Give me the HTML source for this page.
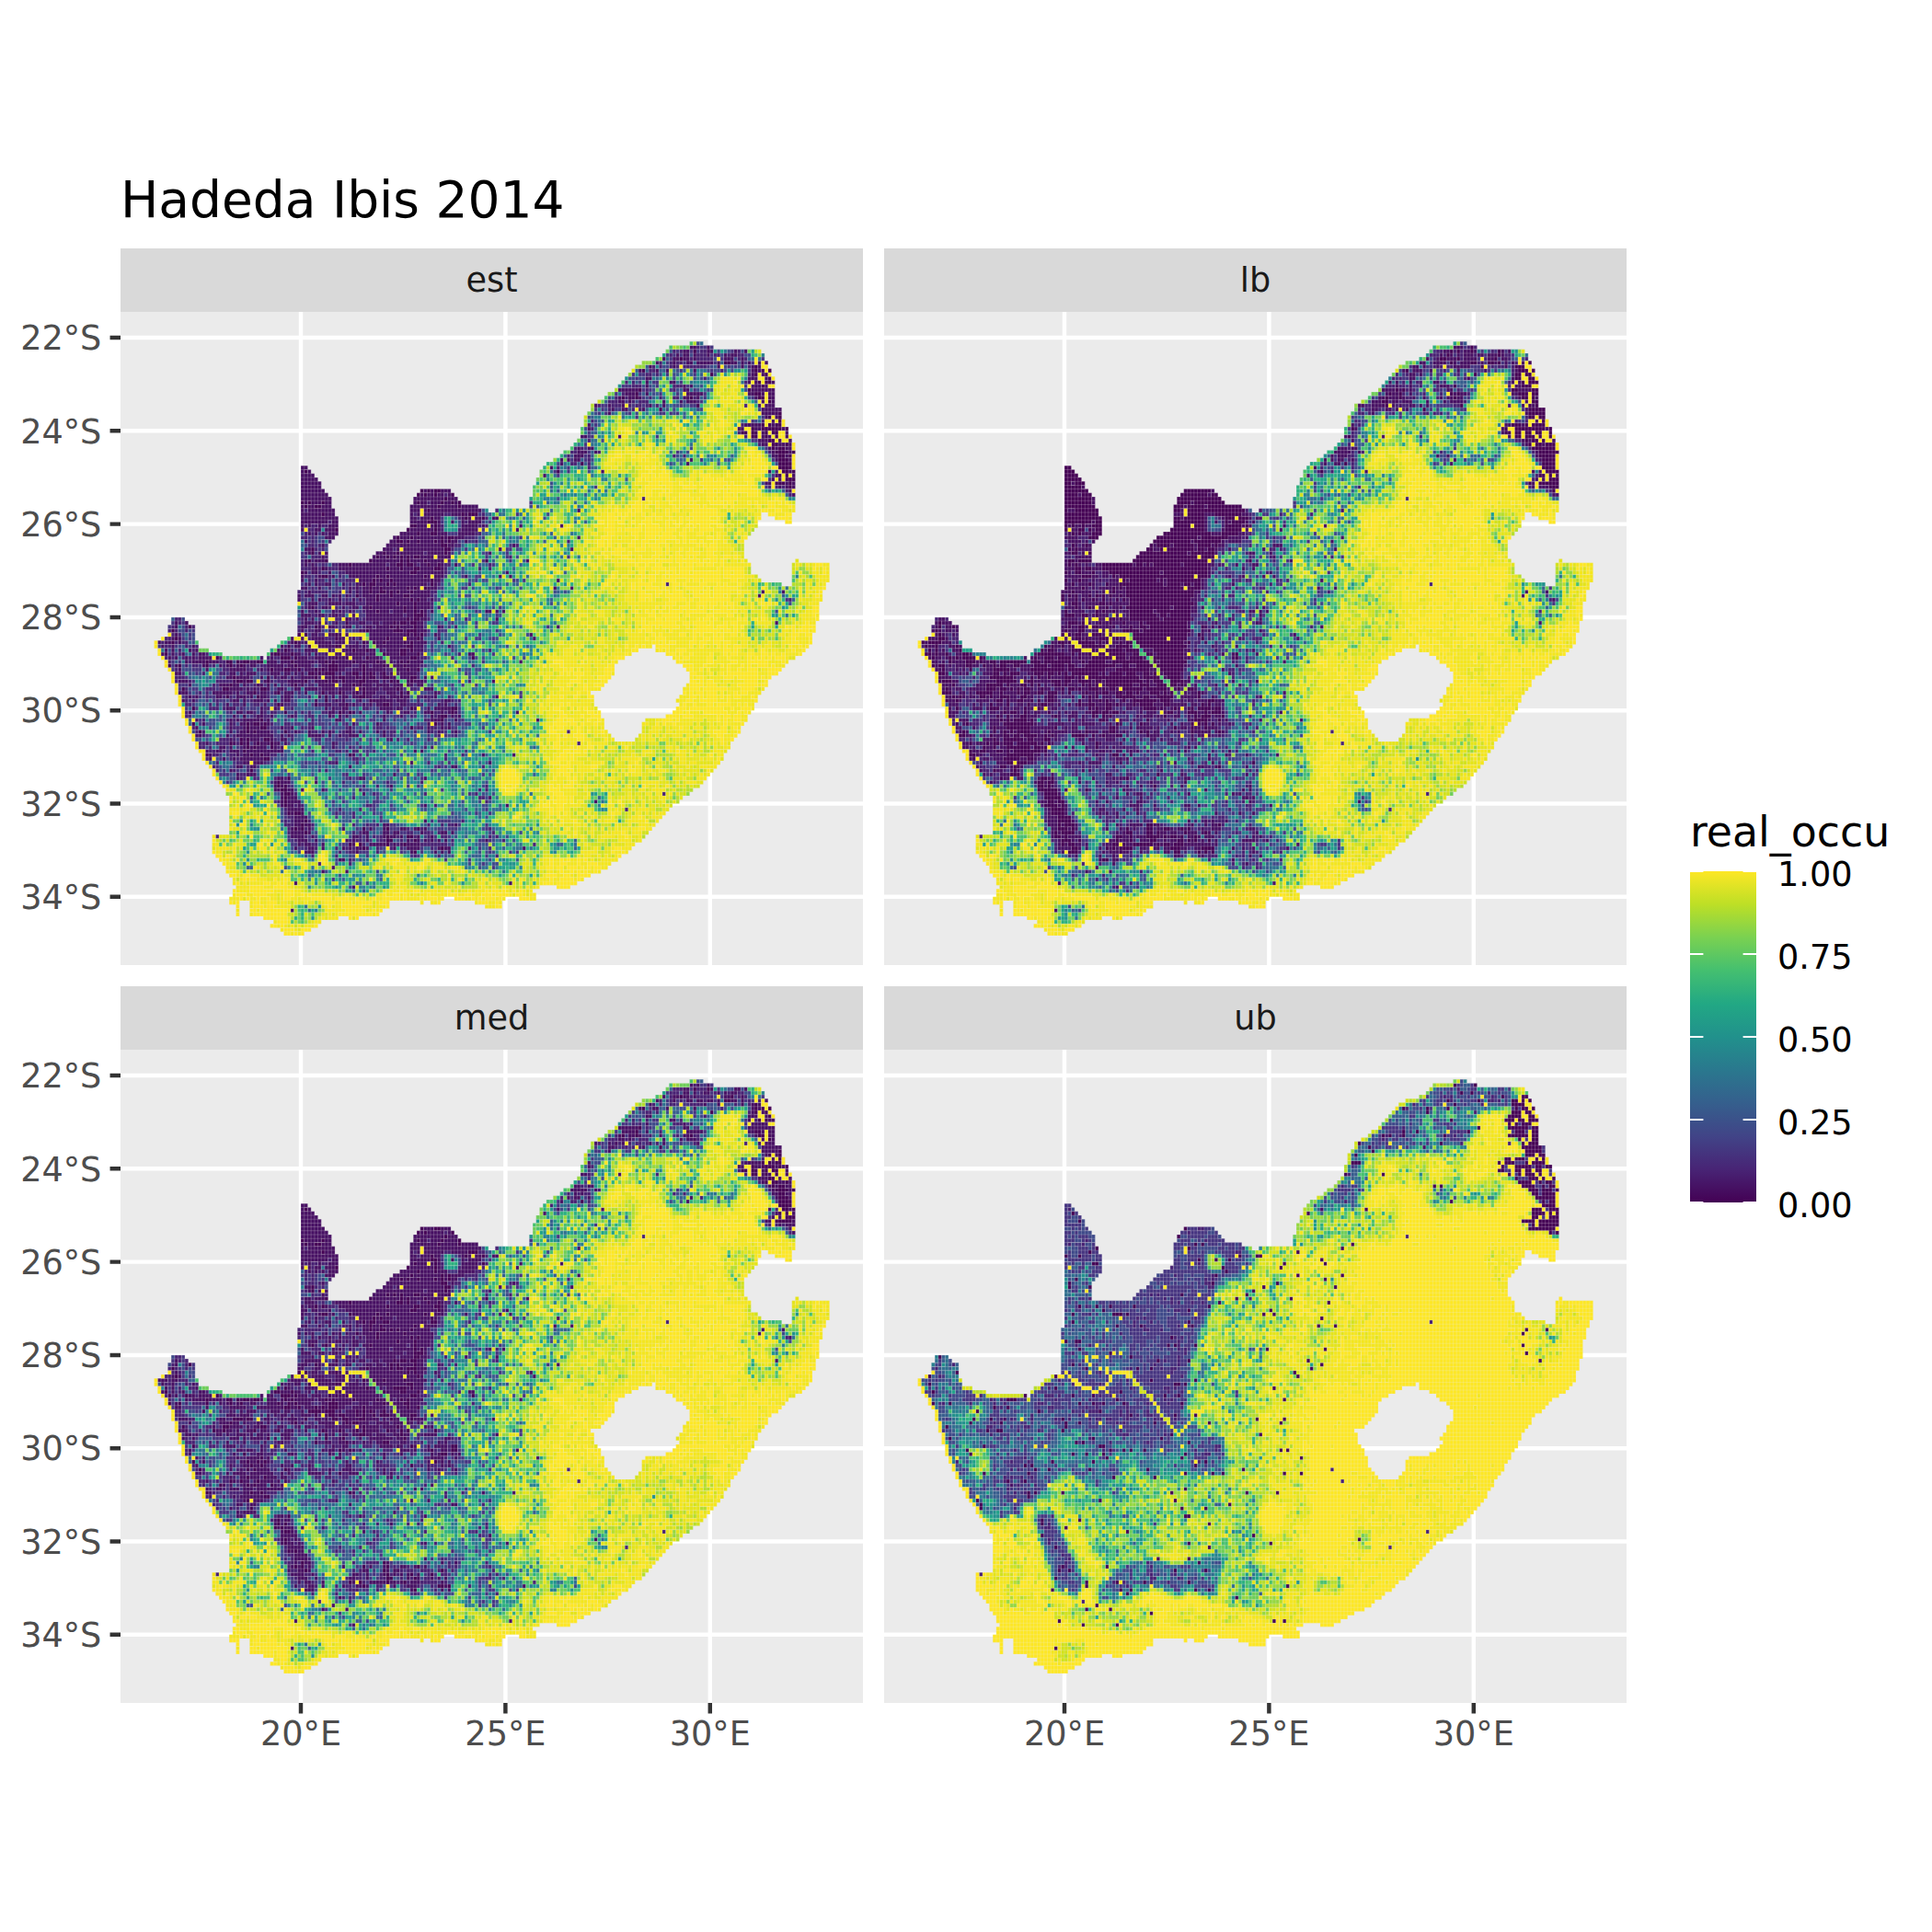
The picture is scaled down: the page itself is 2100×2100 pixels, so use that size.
<!DOCTYPE html>
<html lang="en"><head><meta charset="utf-8"><title>Hadeda Ibis 2014</title>
<style>
html,body{margin:0;padding:0;background:#fff}
body{width:2100px;height:2100px;overflow:hidden}
svg{display:block}
text{font-family:"DejaVu Sans","Liberation Sans",sans-serif}
.ax{font-size:36.67px;fill:#4D4D4D}
.st{font-size:36.67px;fill:#1A1A1A;text-anchor:middle}
.lg{font-size:36.67px;fill:#000}
</style></head><body>
<svg width="2100" height="2100" viewBox="0 0 2100 2100">
<rect width="2100" height="2100" fill="#fff"/>

<defs><clipPath id="za"><path d="M167 8h4v1h-4zM161 9h13v1h-13zM160 10h28v1h-28zM159 11h30v1h-30zM157 12h32v1h-32zM153 13h37v1h-37zM151 14h39v1h-39zM150 15h41v1h-41zM149 16h42v1h-42zM148 17h44v1h-44zM147 18h45v1h-45zM146 19h46v1h-46zM145 20h47v1h-47zM143 21h49v1h-49zM142 22h50v1h-50zM140 23h52v1h-52zM138 24h54v1h-54zM138 25h56v1h-56zM137 26h57v1h-57zM136 27h58v1h-58zM136 28h59v1h-59zM136 29h59v1h-59zM135 30h61v1h-61zM135 31h61v1h-61zM135 32h62v1h-62zM134 33h63v1h-63zM133 34h65v1h-65zM132 35h66v1h-66zM130 36h68v1h-68zM129 37h69v1h-69zM127 38h71v1h-71zM125 39h73v1h-73zM53 40h2v1h-2zM124 40h74v1h-74zM53 41h3v1h-3zM123 41h75v1h-75zM53 42h4v1h-4zM123 42h75v1h-75zM53 43h5v1h-5zM122 43h76v1h-76zM53 44h6v1h-6zM122 44h76v1h-76zM53 45h6v1h-6zM121 45h77v1h-77zM53 46h7v1h-7zM88 46h9v1h-9zM121 46h77v1h-77zM53 47h8v1h-8zM87 47h11v1h-11zM121 47h77v1h-77zM53 48h9v1h-9zM86 48h13v1h-13zM120 48h78v1h-78zM53 49h9v1h-9zM86 49h14v1h-14zM120 49h78v1h-78zM53 50h9v1h-9zM85 50h20v1h-20zM120 50h78v1h-78zM53 51h10v1h-10zM85 51h23v1h-23zM110 51h88v1h-88zM53 52h10v1h-10zM85 52h103v1h-103zM190 52h7v1h-7zM53 53h11v1h-11zM85 53h103v1h-103zM192 53h5v1h-5zM53 54h11v1h-11zM85 54h102v1h-102zM195 54h2v1h-2zM53 55h11v1h-11zM85 55h102v1h-102zM53 56h11v1h-11zM84 56h102v1h-102zM53 57h11v1h-11zM82 57h103v1h-103zM53 58h10v1h-10zM80 58h104v1h-104zM53 59h9v1h-9zM79 59h104v1h-104zM53 60h8v1h-8zM78 60h105v1h-105zM53 61h8v1h-8zM77 61h106v1h-106zM53 62h8v1h-8zM75 62h108v1h-108zM53 63h8v1h-8zM74 63h109v1h-109zM53 64h8v1h-8zM73 64h111v1h-111zM198 64h1v1h-1zM53 65h132v1h-132zM197 65h11v1h-11zM53 66h132v1h-132zM197 66h11v1h-11zM53 67h132v1h-132zM197 67h11v1h-11zM53 68h134v1h-134zM197 68h11v1h-11zM53 69h135v1h-135zM197 69h11v1h-11zM53 70h141v1h-141zM197 70h10v1h-10zM53 71h154v1h-154zM52 72h154v1h-154zM52 73h154v1h-154zM52 74h154v1h-154zM52 75h153v1h-153zM52 76h153v1h-153zM52 77h153v1h-153zM52 78h153v1h-153zM15 79h4v1h-4zM52 79h153v1h-153zM15 80h5v1h-5zM52 80h152v1h-152zM14 81h8v1h-8zM52 81h152v1h-152zM14 82h8v1h-8zM52 82h152v1h-152zM14 83h8v1h-8zM52 83h151v1h-151zM12 84h10v1h-10zM49 84h154v1h-154zM10 85h13v1h-13zM47 85h156v1h-156zM10 86h13v1h-13zM46 86h110v1h-110zM157 86h45v1h-45zM11 87h15v1h-15zM44 87h108v1h-108zM157 87h44v1h-44zM11 88h19v1h-19zM43 88h107v1h-107zM160 88h40v1h-40zM12 89h30v1h-30zM43 89h105v1h-105zM162 89h36v1h-36zM13 90h133v1h-133zM163 90h33v1h-33zM13 91h132v1h-132zM165 91h30v1h-30zM14 92h131v1h-131zM166 92h28v1h-28zM15 93h130v1h-130zM167 93h26v1h-26zM15 94h129v1h-129zM167 94h24v1h-24zM15 95h128v1h-128zM167 95h23v1h-23zM16 96h126v1h-126zM166 96h24v1h-24zM16 97h125v1h-125zM165 97h24v1h-24zM16 98h122v1h-122zM165 98h23v1h-23zM17 99h122v1h-122zM164 99h23v1h-23zM17 100h122v1h-122zM163 100h24v1h-24zM17 101h122v1h-122zM164 101h22v1h-22zM18 102h122v1h-122zM163 102h23v1h-23zM18 103h123v1h-123zM162 103h23v1h-23zM18 104h123v1h-123zM160 104h24v1h-24zM19 105h123v1h-123zM154 105h30v1h-30zM19 106h123v1h-123zM153 106h30v1h-30zM20 107h122v1h-122zM153 107h29v1h-29zM20 108h123v1h-123zM153 108h29v1h-29zM21 109h123v1h-123zM152 109h29v1h-29zM21 110h124v1h-124zM151 110h29v1h-29zM22 111h157v1h-157zM22 112h157v1h-157zM23 113h155v1h-155zM24 114h153v1h-153zM24 115h153v1h-153zM25 116h151v1h-151zM26 117h149v1h-149zM27 118h147v1h-147zM27 119h146v1h-146zM28 120h144v1h-144zM29 121h142v1h-142zM30 122h140v1h-140zM31 123h137v1h-137zM31 124h136v1h-136zM32 125h133v1h-133zM32 126h132v1h-132zM32 127h130v1h-130zM32 128h129v1h-129zM32 129h128v1h-128zM32 130h127v1h-127zM32 131h126v1h-126zM32 132h125v1h-125zM32 133h124v1h-124zM32 134h123v1h-123zM27 135h127v1h-127zM27 136h126v1h-126zM27 137h124v1h-124zM27 138h123v1h-123zM27 139h122v1h-122zM28 140h119v1h-119zM29 141h117v1h-117zM30 142h114v1h-114zM31 143h112v1h-112zM31 144h110v1h-110zM32 145h106v1h-106zM33 146h103v1h-103zM33 147h101v1h-101zM34 148h89v1h-89zM128 148h4v1h-4zM33 149h88v1h-88zM33 150h89v1h-89zM32 151h63v1h-63zM98 151h15v1h-15zM117 151h5v1h-5zM32 152h3v1h-3zM38 152h41v1h-41zM88 152h1v1h-1zM91 152h3v1h-3zM104 152h8v1h-8zM34 153h1v1h-1zM38 153h41v1h-41zM107 153h5v1h-5zM34 154h1v1h-1zM38 154h39v1h-39zM34 155h1v1h-1zM38 155h38v1h-38zM42 156h22v1h-22zM67 156h3v1h-3zM45 157h14v1h-14zM44 158h14v1h-14zM47 159h9v1h-9zM48 160h6v1h-6z"/></clipPath></defs>
<rect x="131" y="270" width="807" height="69" fill="#D9D9D9"/>
<rect x="131" y="339" width="807" height="710" fill="#EBEBEB"/>
<path d="M327.0 339v710M549.4 339v710M771.8 339v710M131 367.0h807M131 468.3h807M131 569.6h807M131 670.9h807M131 772.2h807M131 873.5h807M131 974.8h807" stroke="#fff" stroke-width="4.45" fill="none"/>
<rect x="961" y="270" width="807" height="69" fill="#D9D9D9"/>
<rect x="961" y="339" width="807" height="710" fill="#EBEBEB"/>
<path d="M1157.0 339v710M1379.4 339v710M1601.8 339v710M961 367.0h807M961 468.3h807M961 569.6h807M961 670.9h807M961 772.2h807M961 873.5h807M961 974.8h807" stroke="#fff" stroke-width="4.45" fill="none"/>
<rect x="131" y="1072" width="807" height="69" fill="#D9D9D9"/>
<rect x="131" y="1141" width="807" height="710" fill="#EBEBEB"/>
<path d="M327.0 1141v710M549.4 1141v710M771.8 1141v710M131 1169.0h807M131 1270.3h807M131 1371.6h807M131 1472.9h807M131 1574.2h807M131 1675.5h807M131 1776.8h807" stroke="#fff" stroke-width="4.45" fill="none"/>
<rect x="961" y="1072" width="807" height="69" fill="#D9D9D9"/>
<rect x="961" y="1141" width="807" height="710" fill="#EBEBEB"/>
<path d="M1157.0 1141v710M1379.4 1141v710M1601.8 1141v710M961 1169.0h807M961 1270.3h807M961 1371.6h807M961 1472.9h807M961 1574.2h807M961 1675.5h807M961 1776.8h807" stroke="#fff" stroke-width="4.45" fill="none"/>
<!-- est -->
<g transform="translate(130.55 337.45) scale(3.7067 4.2208)"><g transform="translate(0 0.5)" fill="none" stroke-width="1">
<path stroke="#440154" d="M168 10h1m-5 2h1m12 1h2m7 1h1m-34 1h1m32 0h1m1 0h1m1 0h1m-18 1h1m12 0h1m2 0h1m0 1h1m-4 1h1m1 0h2m-3 1h1m-37 1h1m31 0h1m-34 1h1m34 0h2m-41 1h1m3 0h1m15 0h1m19 0h2m1 1h1m-22 1h1m-12 1h1m34 1h1m-4 1h1m2 0h1m-1 1h1m-6 1h1m1 0h1m1 0h2m-9 1h1m2 0h6m1 0h1m-14 1h2m1 0h2m2 0h1m1 0h2m-8 1h2m2 0h1m2 0h1m-3 1h2m-1 1h2m2 0h1m-5 1h1m1 0h2m-3 1h4m1 0h1m-5 1h2m1 0h1m-4 1h3m-61 1h1m57 0h4m-4 1h4m-143 1h1m73 0h1m65 0h2m1 0h1m-5 1h1m1 0h1m-1 1h3m-6 1h3m1 0h1m-1 1h1m-109 1h1m1 0h1m1 0h2m-7 1h1m1 0h1m2 0h1m4 0h1m-3 1h1m-43 1h1m1 0h1m3 0h1m27 0h1m6 0h1m2 0h1m1 0h1m-46 1h1m2 0h2m34 0h1m5 0h1m-10 1h1m-32 1h1m40 0h1m1 0h3m-14 1h1m9 0h1m4 0h1m-17 1h3m-8 1h2m5 0h1m-30 1h1m20 0h1m7 0h1m-6 1h1m3 0h2m-12 1h1m3 0h1m8 0h1m1 0h2m-17 1h2m1 0h1m2 0h1m4 0h1m1 0h1m1 0h1m-3 1h2m-40 1h1m38 0h2m-41 1h1m20 0h1m3 0h1m13 0h1m-21 1h1m2 0h1m1 0h1m1 0h1m1 0h1m1 0h2m-33 1h1m4 0h1m12 0h1m8 0h1m1 0h1m4 0h1m17 0h1m-41 1h1m13 0h2m1 0h2m4 0h1m2 0h1m-35 1h1m18 0h1m3 0h1m3 0h2m4 0h2m-41 1h1m31 0h2m-28 1h2m14 0h1m2 0h1m10 0h1m-16 1h1m1 0h1m2 0h1m11 0h1m-21 1h1m1 0h2m3 0h1m1 0h1m10 0h1m-19 1h1m2 0h1m7 0h1m1 0h1m2 0h1m-17 1h1m2 0h2m1 0h1m1 0h1m3 0h1m-17 1h1m5 0h1m3 0h1m3 0h2m-10 1h1m9 0h1m1 0h1m-7 1h1m4 0h1m-31 1h1m16 0h1m9 0h1m2 0h1m-12 1h1m7 0h1m2 0h1m1 0h1m-3 1h3m-23 1h1m17 0h1m1 0h2m-22 1h1m13 0h1m1 0h2m1 0h2m-67 1h1m36 0h1m21 0h1m1 0h1m4 0h1m-72 1h1m56 0h1m7 0h3m1 0h3m-35 1h1m1 0h1m8 0h1m20 0h1m1 0h1m1 0h1m-73 1h1m46 0h1m14 0h1m8 0h1m-73 1h1m35 0h1m19 0h1m2 0h1m2 0h1m5 0h1m1 0h1m-37 1h1m5 0h1m7 0h2m19 0h2m-38 1h1m19 0h1m3 0h1m9 0h2m1 0h1m-73 1h1m31 0h2m3 0h1m26 0h1m4 0h2m3 0h1m-60 1h1m18 0h3m1 0h1m11 0h1m2 0h1m5 0h1m12 0h2m16 0h1m-79 1h1m5 0h2m1 0h1m1 0h2m2 0h2m8 0h1m9 0h1m1 0h1m5 0h1m6 0h1m6 0h1m1 0h1m-71 1h1m2 0h1m7 0h1m6 0h1m2 0h1m15 0h1m9 0h3m7 0h1m5 0h1m5 0h1m-40 1h1m3 0h2m2 0h1m4 0h1m1 0h1m1 0h3m7 0h1m12 0h1m2 0h1m-33 1h2m1 0h1m1 0h3m5 0h2m1 0h1m1 0h1m3 0h1m-45 1h1m9 0h1m13 0h1m4 0h1m1 0h2m3 0h1m1 0h1m1 0h2m2 0h2m6 0h2m-53 1h2m1 0h2m4 0h1m10 0h1m5 0h1m1 0h2m1 0h1m4 0h2m7 0h1m1 0h1m3 0h1m-54 1h1m18 0h1m16 0h1m1 0h1m-53 1h1m11 0h2m9 0h2m28 0h1m9 0h1m-43 1h1m6 0h1m12 0h1m4 0h1m4 0h1m1 0h1m10 0h1m1 0h1m-54 1h1m8 0h1m19 0h1m9 0h2m10 0h1m-23 1h1m12 0h1m-28 1h1m10 0h1m8 0h1m10 0h2m-58 1h1m63 0h1m11 0h2m-51 1h1m15 0h1m2 0h1m23 0h1m5 0h1m-62 1h1m57 0h2m-55 1h1m52 0h1m-74 1h1m15 0h1m1 0h2m1 0h1m49 0h1m-56 1h1m3 0h2m42 0h1m-63 1h1m13 0h1m1 0h1m8 0h1m-14 2h1m1 0h1m4 0h2m-12 1h1m2 0h1m1 0h1m2 0h1m3 0h1m-8 1h1m1 0h1m4 0h1m-9 1h1m-12 1h1m12 0h1m2 0h1m25 0h1m-26 1h2m-6 3h1m10 2h1m-4 1h1m-1 1h1m1 0h1m-2 1h2m-1 1h2m-2 1h1m-1 1h1m-1 1h1m0 2h1m1 0h2m1 2h1m-2 1h1m-3 1h1m1 0h1m17 0h1m6 0h1m8 0h1m-34 1h1m23 1h1m5 0h2m-8 1h2m6 0h1m-20 1h1m2 0h1m7 0h1m4 0h1m-13 1h1m22 0h1m-9 1h1"/>
<path stroke="#471063" d="M167 9h2m3 0h1m-8 1h2m5 0h2m6 0h1m2 0h1m-21 1h1m1 0h2m1 0h1m3 0h1m4 0h1m1 0h2m-22 1h1m2 0h2m1 0h2m1 0h1m8 0h3m2 0h1m-26 1h1m4 0h1m3 0h2m1 0h5m1 0h1m3 0h2m1 0h1m1 0h1m2 0h1m1 0h1m-35 1h1m6 0h1m12 0h1m6 0h1m2 0h1m1 0h1m-36 1h1m4 0h1m2 0h1m7 0h1m16 0h1m1 0h1m-3 1h1m2 0h1m-35 1h2m28 0h3m2 0h1m-36 1h1m6 0h2m21 0h1m1 0h1m4 0h1m-38 1h1m10 0h1m1 0h1m17 0h3m1 0h1m-44 1h6m13 0h2m18 0h7m-44 1h3m3 0h1m11 0h5m13 0h2m2 0h1m1 0h2m-46 1h1m2 0h2m1 0h1m12 0h2m2 0h1m16 0h1m3 0h2m-46 1h2m1 0h1m9 0h1m4 0h1m1 0h3m19 0h1m2 0h1m-53 1h1m3 0h1m3 0h1m7 0h1m3 0h1m27 0h1m1 0h3m-48 1h1m2 0h2m4 0h1m34 0h6m-51 1h1m44 0h5m-4 1h1m2 0h1m-2 1h1m-55 1h1m45 0h5m3 0h1m-55 1h1m43 0h2m3 0h2m6 0h1m-7 1h1m6 0h1m-61 1h2m9 0h1m41 0h1m1 0h1m4 0h1m-9 1h3m3 0h1m2 0h1m-9 1h2m3 0h2m1 0h1m-63 1h1m2 0h2m51 0h1m1 0h1m2 0h2m-63 1h3m2 0h1m51 0h1m4 0h1m-64 1h3m55 0h2m2 0h1m-67 1h1m1 0h1m1 0h2m32 0h1m24 0h1m3 0h1m-68 1h1m36 0h1m-114 1h2m71 0h1m-74 1h1m1 0h1m85 0h1m48 0h1m5 0h1m-144 1h4m67 0h1m67 0h1m4 0h1m-145 1h5m133 0h1m1 0h1m-141 1h6m130 0h2m4 0h1m1 0h1m-145 1h6m134 0h1m1 0h1m1 0h1m-145 1h7m29 0h1m1 0h1m2 0h3m99 0h1m-144 1h8m27 0h1m1 0h2m1 0h2m1 0h1m100 0h1m-145 1h9m24 0h9m1 0h3m-45 1h1m1 0h3m1 0h2m24 0h1m1 0h2m1 0h3m1 0h2m1 0h1m-46 1h1m1 0h2m2 0h3m23 0h8m1 0h5m1 0h5m-52 1h1m1 0h8m22 0h3m1 0h1m1 0h15m28 0h1m-82 1h6m1 0h3m22 0h1m1 0h1m1 0h6m2 0h3m1 0h1m-49 1h11m21 0h2m1 0h3m1 0h2m6 0h1m1 0h1m1 0h2m3 0h2m-58 1h8m1 0h2m21 0h5m3 0h1m3 0h1m2 0h1m1 0h4m-53 1h1m1 0h1m2 0h1m2 0h3m23 0h3m1 0h1m1 0h1m6 0h5m1 0h1m10 0h1m11 0h1m-77 1h1m3 0h2m1 0h3m22 0h7m1 0h1m6 0h5m11 0h1m-62 1h1m1 0h1m1 0h1m1 0h3m18 0h5m1 0h3m2 0h3m3 0h5m-44 1h3m17 0h1m1 0h3m1 0h8m1 0h1m2 0h3m33 0h1m-81 1h1m24 0h2m2 0h1m1 0h2m1 0h4m1 0h1m1 0h1m1 0h2m2 0h1m-43 1h1m18 0h16m2 0h2m17 0h1m-62 1h2m21 0h3m1 0h1m1 0h12m16 0h1m20 0h1m-78 1h1m2 0h1m1 0h1m14 0h2m1 0h3m1 0h7m1 0h5m1 0h1m11 0h1m-50 1h1m14 0h1m1 0h2m1 0h1m1 0h1m1 0h1m1 0h1m2 0h4m1 0h4m-43 1h1m2 0h3m14 0h8m1 0h1m1 0h4m1 0h5m24 0h1m-66 1h1m1 0h1m7 0h3m1 0h10m1 0h2m2 0h1m2 0h1m1 0h2m1 0h2m1 0h1m3 0h1m-43 1h2m2 0h1m3 0h14m1 0h3m1 0h3m2 0h4m2 0h1m-41 1h1m1 0h2m3 0h1m4 0h19m2 0h8m18 0h1m-61 1h1m4 0h1m3 0h1m4 0h8m1 0h2m1 0h10m1 0h1m1 0h3m6 0h1m9 0h1m2 0h1m-62 1h1m3 0h1m12 0h4m1 0h1m1 0h2m1 0h11m1 0h2m34 0h1m-74 1h1m1 0h1m2 0h2m3 0h1m3 0h2m1 0h1m2 0h3m1 0h1m1 0h9m2 0h1m-40 1h2m3 0h1m8 0h1m1 0h1m1 0h2m1 0h2m1 0h7m1 0h1m1 0h1m2 0h3m34 0h1m4 0h1m-78 1h1m11 0h1m1 0h1m1 0h2m1 0h2m2 0h1m1 0h1m1 0h3m1 0h5m97 0h1m5 0h1m-143 1h1m1 0h3m2 0h2m1 0h1m1 0h1m1 0h1m4 0h4m1 0h3m1 0h3m2 0h6m96 0h1m-136 1h1m3 0h1m1 0h1m2 0h1m2 0h1m3 0h1m1 0h1m1 0h3m1 0h9m1 0h1m1 0h2m1 0h1m-37 1h3m3 0h4m1 0h3m3 0h9m1 0h4m1 0h4m-36 1h1m3 0h2m4 0h1m2 0h2m1 0h2m1 0h9m1 0h2m1 0h4m-38 1h1m3 0h1m4 0h1m1 0h1m2 0h1m4 0h3m1 0h3m1 0h3m1 0h2m1 0h1m1 0h1m1 0h1m15 0h2m1 0h1m1 0h1m-60 1h3m2 0h2m2 0h2m4 0h1m3 0h11m1 0h2m3 0h1m-36 1h1m1 0h1m10 0h1m1 0h1m2 0h12m1 0h1m2 0h2m20 0h1m-95 1h1m2 0h1m34 0h3m1 0h1m4 0h1m6 0h2m2 0h2m1 0h3m1 0h1m2 0h1m2 0h2m103 0h1m-177 1h1m36 0h2m3 0h1m2 0h2m3 0h2m4 0h2m1 0h4m1 0h1m1 0h4m1 0h2m4 0h1m34 0h1m-76 1h1m3 0h2m11 0h2m1 0h7m3 0h1m3 0h3m-74 1h1m39 0h2m3 0h2m1 0h1m1 0h1m6 0h11m1 0h1m1 0h1m4 0h1m27 0h1m-106 1h1m1 0h1m32 0h1m2 0h1m2 0h4m4 0h2m2 0h1m1 0h1m2 0h5m1 0h4m1 0h3m1 0h1m4 0h1m27 0h1m-111 1h1m1 0h2m2 0h1m32 0h1m1 0h1m1 0h1m2 0h5m1 0h3m3 0h1m2 0h1m2 0h2m1 0h5m1 0h1m1 0h4m-78 1h1m2 0h1m5 0h1m25 0h1m3 0h2m5 0h5m4 0h3m1 0h1m3 0h9m2 0h3m7 0h1m-84 1h1m1 0h1m4 0h1m1 0h1m23 0h1m2 0h1m4 0h4m3 0h1m3 0h3m1 0h3m1 0h2m1 0h1m1 0h4m2 0h1m1 0h3m-77 1h1m2 0h1m2 0h1m2 0h1m1 0h2m19 0h1m2 0h3m1 0h2m2 0h1m1 0h1m2 0h1m2 0h2m1 0h6m1 0h2m3 0h4m2 0h3m15 0h2m-90 1h1m1 0h1m2 0h1m1 0h1m1 0h4m14 0h1m2 0h1m7 0h3m2 0h3m1 0h2m1 0h2m2 0h3m2 0h3m3 0h6m2 0h1m-69 1h1m1 0h4m1 0h3m6 0h1m2 0h2m3 0h3m1 0h3m1 0h6m1 0h2m1 0h1m1 0h5m1 0h6m1 0h2m1 0h1m1 0h1m1 0h1m1 0h4m28 0h1m-102 1h1m7 0h1m4 0h1m1 0h1m2 0h1m1 0h1m1 0h2m3 0h5m1 0h2m1 0h4m3 0h2m3 0h4m2 0h1m1 0h1m1 0h3m1 0h1m1 0h3m1 0h4m-71 1h1m7 0h1m6 0h5m4 0h1m1 0h1m1 0h3m2 0h2m2 0h3m1 0h1m1 0h1m3 0h2m2 0h3m1 0h6m3 0h3m1 0h2m-71 1h2m14 0h2m1 0h1m1 0h3m4 0h3m1 0h2m1 0h1m1 0h1m3 0h1m1 0h1m4 0h1m1 0h2m4 0h1m1 0h1m1 0h1m2 0h1m2 0h5m-56 1h2m1 0h4m3 0h1m3 0h1m1 0h2m1 0h1m2 0h4m3 0h2m1 0h1m2 0h3m1 0h1m1 0h1m3 0h1m2 0h2m1 0h3m4 0h1m1 0h1m-75 1h3m13 0h1m2 0h1m5 0h1m6 0h5m3 0h3m1 0h1m4 0h4m2 0h4m1 0h1m2 0h1m3 0h1m1 0h3m20 0h1m-90 1h1m8 0h3m1 0h2m1 0h1m3 0h2m1 0h1m1 0h1m4 0h1m2 0h1m4 0h5m2 0h3m1 0h1m1 0h3m1 0h4m1 0h3m1 0h2m1 0h2m-57 1h4m1 0h1m1 0h1m3 0h1m2 0h2m3 0h2m1 0h4m1 0h4m1 0h4m2 0h1m1 0h4m1 0h4m1 0h1m6 0h3m-75 1h3m7 0h6m1 0h1m2 0h2m2 0h2m2 0h1m2 0h3m3 0h1m6 0h2m2 0h1m2 0h1m3 0h3m3 0h3m11 0h1m-73 1h1m1 0h1m5 0h2m4 0h3m1 0h1m2 0h2m5 0h2m8 0h1m3 0h1m2 0h2m1 0h2m2 0h2m2 0h2m1 0h3m1 0h2m4 0h1m2 0h1m17 0h1m-93 1h1m2 0h1m11 0h2m1 0h1m2 0h3m1 0h1m1 0h1m2 0h2m7 0h1m5 0h1m1 0h1m4 0h1m3 0h6m1 0h3m11 0h2m-66 1h1m4 0h1m5 0h1m4 0h1m12 0h2m2 0h2m2 0h1m2 0h1m1 0h1m1 0h2m2 0h1m2 0h2m9 0h1m1 0h1m-65 1h3m7 0h1m3 0h1m14 0h1m1 0h1m2 0h2m9 0h4m1 0h2m3 0h1m3 0h1m1 0h5m-77 1h1m13 0h2m1 0h2m2 0h1m19 0h2m2 0h1m2 0h1m1 0h1m7 0h1m4 0h2m4 0h2m3 0h1m1 0h1m1 0h1m17 0h1m-84 1h1m6 0h2m2 0h1m5 0h1m10 0h1m2 0h1m1 0h1m10 0h1m4 0h1m8 0h1m1 0h1m3 0h1m1 0h1m-78 1h1m9 0h1m1 0h1m1 0h5m2 0h1m19 0h2m12 0h1m13 0h3m4 0h1m23 0h1m-99 1h1m7 0h1m2 0h2m1 0h1m2 0h1m1 0h1m24 0h1m6 0h1m14 0h1m3 0h1m1 0h1m-75 1h1m9 0h1m3 0h1m1 0h3m6 0h1m2 0h1m5 0h1m10 0h1m22 0h1m3 0h1m1 0h1m-65 1h1m2 0h2m1 0h1m1 0h4m7 0h1m3 0h1m3 0h1m1 0h1m4 0h2m2 0h1m4 0h1m1 0h1m12 0h1m2 0h1m4 0h1m-77 1h2m7 0h1m2 0h11m2 0h1m1 0h1m5 0h4m2 0h1m2 0h1m2 0h3m7 0h1m-46 1h1m3 0h1m1 0h3m3 0h1m2 0h2m30 0h1m-55 1h1m7 0h1m2 0h1m2 0h1m1 0h3m1 0h2m1 0h1m13 0h1m-34 1h2m1 0h1m3 0h1m1 0h1m1 0h3m2 0h1m1 0h1m14 0h1m-38 1h1m2 0h2m2 0h3m2 0h11m38 0h1m1 0h1m-63 1h1m7 0h1m1 0h2m1 0h2m1 0h2m24 0h1m37 0h1m8 0h1m-90 1h1m3 0h1m2 0h1m1 0h7m-6 1h2m1 0h3m21 0h1m21 0h1m22 0h1m-75 1h2m2 0h2m27 0h1m29 0h2m-67 1h1m1 1h1m2 0h3m40 0h1m-47 1h1m11 0h2m22 0h2m17 0h1m-45 1h1m1 0h3m7 0h1m-13 1h1m1 0h1m31 0h1m-35 1h2m2 0h2m2 0h1m5 0h1m-13 1h1m2 0h1m20 0h1m-25 1h1m1 0h3m56 0h1m-62 1h1m1 0h4m86 0h1m-93 1h1m1 0h2m1 0h1m36 0h1m23 0h1m-65 1h5m-4 1h1m2 0h1m-3 1h4m-4 1h3m35 0h1m-39 1h2m1 0h2m21 0h2m19 0h1m-49 1h1m1 0h1m2 0h1m9 0h1m7 0h1m3 0h1m4 0h2m2 0h1m2 0h1m-40 1h4m1 0h1m15 0h2m4 0h2m1 0h2m6 0h1m5 0h2m1 0h1m-48 1h4m2 0h1m11 0h2m2 0h1m4 0h1m1 0h2m1 0h1m4 0h1m3 0h1m-40 1h3m2 0h1m8 0h1m1 0h1m3 0h1m11 0h1m2 0h1m1 0h1m1 0h1m1 0h1m1 0h1m11 0h1m-56 1h1m1 0h2m3 0h1m8 0h1m4 0h5m2 0h1m1 0h1m1 0h4m-37 1h1m3 0h2m2 0h1m5 0h1m1 0h1m1 0h2m1 0h1m7 0h1m3 0h4m5 0h1m1 0h2m21 0h1m-65 1h3m12 0h1m15 0h1m6 0h1m1 0h1m1 0h1m-33 2h2m-4 2h1m-4 1h1m6 0h1m-16 3h1m62 0h1m-47 1h1m-19 6h1"/>
<path stroke="#482173" d="M169 9h1m-8 1h1m1 0h1m5 0h2m9 0h1m-21 1h1m7 0h3m2 0h2m2 0h1m2 0h2m-16 1h1m1 0h5m7 0h1m1 0h1m-26 1h1m2 0h1m1 0h2m-9 1h1m1 0h1m2 0h1m1 0h1m1 0h7m12 0h1m-30 1h2m19 0h1m-23 1h2m1 0h1m26 0h1m-14 1h1m-24 1h1m1 0h1m32 0h1m-34 1h3m9 0h3m-11 1h1m7 0h1m-16 1h1m-3 1h1m2 0h1m6 0h1m2 0h1m3 0h2m4 0h1m-26 1h3m4 0h1m1 0h3m14 0h1m-30 1h1m3 0h3m2 0h1m1 0h2m1 0h1m2 0h1m25 0h1m-41 1h1m6 0h1m1 0h1m-15 3h1m49 0h1m-7 1h1m-45 1h1m42 1h1m1 1h1m-47 1h1m49 1h1m-55 1h1m1 0h1m-4 1h2m6 0h1m49 0h1m-60 1h1m5 0h1m24 0h1m2 0h1m-29 1h1m-6 1h2m3 0h1m-10 1h1m8 0h1m54 1h1m-3 4h1m1 0h1m1 0h1m0 1h1m-101 1h1m100 0h1m-44 1h1m-64 1h1m-37 2h1m55 0h1m-25 1h1m8 0h2m9 0h1m-20 1h1m11 0h1m7 0h1m-47 1h1m39 0h1m-48 1h1m1 0h2m1 0h2m33 0h1m10 0h1m1 0h1m-53 1h2m37 0h1m4 0h1m-46 1h1m1 0h1m3 0h1m43 0h2m-53 1h2m1 0h1m44 0h3m-48 1h1m4 0h1m42 0h1m26 0h1m-77 1h2m1 0h1m39 0h2m16 0h1m-60 1h1m1 0h1m20 0h1m16 0h1m-44 1h1m34 0h1m-34 1h3m1 0h1m53 0h1m-62 1h1m2 0h1m39 0h1m-44 1h1m1 0h1m1 0h1m1 0h1m2 0h2m14 0h1m8 0h1m7 0h2m11 0h1m-56 1h3m2 0h1m2 0h3m31 0h1m9 0h1m2 0h1m-51 1h1m5 0h2m29 0h1m-42 1h2m1 0h1m3 0h1m2 0h1m-10 1h1m2 0h2m1 0h1m1 0h1m2 0h3m-15 1h1m3 0h2m7 0h1m22 0h1m2 0h1m8 0h1m57 0h1m-105 1h1m4 0h1m3 0h1m2 0h1m1 0h1m-19 1h1m1 0h1m1 0h5m3 0h1m5 0h1m20 0h2m-30 1h1m3 0h1m2 0h1m20 0h1m-33 1h2m1 0h1m3 0h1m4 0h1m18 0h1m105 0h1m-143 1h1m5 0h1m4 0h1m3 0h3m19 0h1m-38 1h1m2 0h1m3 0h1m1 0h1m3 0h1m23 0h1m1 0h1m-39 1h2m1 0h1m4 0h1m1 0h1m2 0h1m2 0h1m7 0h1m-24 1h2m3 0h1m2 0h2m17 0h1m-68 1h2m35 0h1m9 0h2m3 0h1m2 0h1m18 0h1m4 0h1m5 0h1m-85 1h1m35 0h1m3 0h1m2 0h1m1 0h1m4 0h3m2 0h2m2 0h1m-62 1h1m3 0h1m1 0h1m30 0h1m2 0h1m3 0h1m3 0h1m1 0h1m3 0h1m1 0h1m2 0h1m19 0h1m3 0h1m-85 1h1m1 0h1m2 0h1m32 0h1m2 0h2m4 0h1m31 0h1m-79 1h1m1 0h1m40 0h2m29 0h1m3 0h1m-81 1h2m40 0h1m4 0h3m4 0h1m-56 1h1m3 0h1m1 0h2m29 0h1m3 0h1m8 0h1m4 0h2m25 0h1m-82 1h2m4 0h1m2 0h1m25 0h1m17 0h1m3 0h1m1 0h1m-56 1h1m3 0h1m25 0h1m2 0h1m1 0h1m9 0h1m14 0h1m30 0h1m-92 1h1m7 0h1m28 0h1m3 0h2m12 0h1m15 0h1m10 0h1m-87 1h1m1 0h1m2 0h1m1 0h1m1 0h1m6 0h1m13 0h1m1 0h2m3 0h1m4 0h2m3 0h1m10 0h1m4 0h1m11 0h2m7 0h1m-84 1h1m5 0h1m8 0h2m26 0h1m22 0h1m-62 1h1m1 0h2m4 0h1m2 0h1m2 0h1m3 0h1m3 0h2m5 0h1m7 0h1m1 0h1m9 0h2m3 0h1m14 0h1m14 0h1m-88 1h1m13 0h2m5 0h2m1 0h1m1 0h1m10 0h1m12 0h2m10 0h2m-56 1h1m4 0h2m5 0h1m6 0h1m8 0h1m10 0h1m6 0h1m4 0h1m2 0h1m2 0h1m5 0h1m-72 1h3m19 0h1m7 0h1m4 0h2m5 0h1m16 0h1m11 0h1m-72 1h1m3 0h1m7 0h5m11 0h1m1 0h3m6 0h1m8 0h1m13 0h1m10 0h1m12 0h1m-76 1h1m9 0h1m1 0h1m7 0h1m1 0h1m2 0h1m2 0h2m17 0h1m4 0h1m-61 1h1m5 0h3m1 0h1m6 0h1m1 0h1m1 0h1m7 0h1m9 0h1m4 0h1m4 0h1m7 0h1m8 0h2m-64 1h1m1 0h1m7 0h1m2 0h1m3 0h1m2 0h1m8 0h1m5 0h1m1 0h1m2 0h1m2 0h2m2 0h1m4 0h3m3 0h1m1 0h1m9 0h1m-75 1h1m1 0h1m3 0h1m4 0h1m1 0h1m4 0h1m5 0h1m3 0h1m2 0h1m4 0h1m8 0h1m9 0h2m2 0h1m8 0h2m1 0h2m4 0h1m-78 1h1m8 0h1m3 0h1m5 0h1m3 0h1m4 0h1m14 0h1m1 0h1m4 0h1m10 0h1m3 0h1m2 0h1m2 0h1m3 0h1m2 0h1m1 0h1m-81 1h2m5 0h1m1 0h1m4 0h2m4 0h2m4 0h1m2 0h2m8 0h2m2 0h2m3 0h1m1 0h1m2 0h1m7 0h2m2 0h5m5 0h1m3 0h1m-73 1h3m1 0h1m4 0h1m6 0h2m2 0h1m3 0h1m12 0h2m6 0h2m7 0h1m3 0h1m-66 1h1m12 0h1m6 0h1m2 0h1m1 0h2m5 0h1m1 0h1m1 0h1m3 0h2m5 0h1m8 0h1m3 0h1m2 0h1m3 0h1m5 0h2m1 0h1m-77 1h2m18 0h1m2 0h2m5 0h1m1 0h1m3 0h2m5 0h1m22 0h1m6 0h1m5 0h1m-75 1h1m6 0h1m1 0h1m1 0h1m6 0h1m13 0h1m32 0h2m-58 1h1m10 0h1m3 0h2m5 0h2m9 0h1m9 0h1m16 0h1m-73 1h1m11 0h3m7 0h1m4 0h2m3 0h1m1 0h1m10 0h1m8 0h2m1 0h1m8 0h2m2 0h2m2 0h1m-74 1h1m1 0h1m9 0h1m9 0h1m4 0h1m2 0h1m3 0h2m4 0h1m2 0h1m2 0h1m10 0h2m5 0h1m4 0h1m2 0h1m2 0h1m33 0h1m-108 1h1m8 0h1m16 0h1m8 0h1m5 0h2m12 0h1m13 0h1m4 0h1m-70 1h3m1 0h1m7 0h1m3 0h1m4 0h1m6 0h2m7 0h1m11 0h1m2 0h1m2 0h1m5 0h1m-68 1h2m3 0h4m2 0h1m28 0h1m70 0h1m-112 1h2m1 0h1m8 0h1m10 0h1m12 0h1m7 0h1m2 0h1m18 0h1m1 0h1m-66 1h2m2 0h1m4 0h1m20 0h1m6 0h2m1 0h1m1 0h2m4 0h1m-48 1h2m3 0h2m1 0h1m8 0h2m49 0h1m4 0h1m-76 1h1m6 0h1m1 0h1m33 0h2m25 0h1m-68 1h1m5 0h2m6 0h1m18 0h2m6 0h1m20 0h1m-64 1h1m9 0h1m55 0h1m12 0h1m-79 1h1m4 0h1m3 0h1m22 0h1m-26 1h2m29 0h1m-32 1h1m3 0h1m5 0h1m2 0h1m18 0h1m-3 1h1m12 0h1m9 0h1m-40 1h1m21 0h1m3 0h1m31 0h1m-38 1h1m34 0h1m1 0h1m-57 1h1m22 0h1m14 0h1m14 0h1m54 0h1m-92 1h1m36 0h2m-61 1h1m60 0h1m-57 1h1m1 0h1m18 0h2m18 0h1m-45 1h1m15 0h1m5 0h1m77 0h1m-101 1h1m14 0h1m4 0h1m-20 1h2m17 0h1m-21 1h1m1 0h1m4 0h1m44 0h1m-53 1h3m5 0h1m11 0h1m3 0h1m2 0h1m14 0h1m3 0h1m1 0h2m-49 1h1m4 0h1m29 0h1m3 0h1m19 0h1m-60 1h1m18 0h1m1 0h1m13 0h2m3 0h2m2 0h1m15 0h1m-82 1h1m25 0h1m15 0h1m3 0h1m1 0h1m4 0h1m4 0h1m3 0h1m3 0h2m12 0h1m1 0h1m-60 1h1m15 0h1m1 0h2m5 0h2m4 0h1m2 0h1m4 0h1m6 0h1m14 0h1m-60 1h1m2 0h2m13 0h1m7 0h1m1 0h1m6 0h8m25 0h1m-68 1h1m2 0h1m5 0h1m2 0h1m1 0h1m6 0h1m3 0h1m2 0h1m8 0h1m10 0h1m5 0h1m-45 1h1m2 0h2m6 0h1m-20 1h1m6 0h1m22 0h1m6 0h1m16 0h1m-44 1h1m-10 1h1m8 0h1"/>
<path stroke="#463480" d="M170 9h2m1 0h1m-11 1h1m3 0h1m1 0h1m9 0h1m-20 1h1m1 0h1m1 0h1m8 0h1m-13 1h1m14 0h1m11 0h1m-29 1h1m4 0h1m8 0h1m8 0h1m1 0h1m-14 1h1m5 0h1m1 0h1m-17 1h1m8 0h1m10 0h1m-35 1h1m1 0h2m6 0h1m7 0h1m-18 1h1m0 1h1m3 0h2m6 0h1m-18 1h3m7 0h1m8 0h1m16 0h1m-31 1h1m1 0h1m5 0h1m6 0h1m-24 1h1m6 0h1m5 0h1m4 0h1m7 0h1m-19 1h1m17 0h1m13 0h1m-38 1h1m21 0h1m-30 1h2m7 0h1m2 0h1m10 0h1m2 0h2m-30 1h1m1 0h1m3 0h2m-7 1h1m1 0h1m6 0h1m8 0h2m1 0h1m1 0h1m-13 1h1m36 0h1m-4 1h1m-47 1h1m-3 2h1m-1 1h2m18 0h1m27 1h2m-51 1h1m-1 1h1m52 0h1m-53 1h1m25 0h1m-28 1h1m-5 1h1m3 0h1m33 0h1m20 0h1m-61 2h1m-5 1h1m3 0h1m-4 1h1m62 0h1m-2 1h1m-52 2h1m49 0h1m-70 4h1m-16 3h1m10 0h1m-23 1h1m-1 1h1m11 0h1m1 0h1m-3 2h1m-49 1h1m37 0h3m-44 1h1m1 0h1m46 0h1m1 0h1m10 0h1m-63 1h1m1 0h1m1 0h1m39 0h1m2 0h2m-47 1h1m2 0h1m53 0h1m-57 1h1m42 0h1m11 0h2m-62 1h1m3 0h1m39 0h1m9 0h1m5 0h1m-61 1h2m52 0h1m5 0h1m17 0h1m-26 1h1m7 0h1m-57 1h1m1 0h1m42 0h1m5 0h1m-55 2h1m3 0h2m-5 1h1m8 0h1m29 0h1m4 0h1m3 0h2m-50 1h1m7 0h2m28 0h1m9 0h1m10 0h1m2 0h1m-66 1h1m9 0h1m2 0h1m1 0h1m-14 1h1m1 0h1m1 0h1m3 0h2m1 0h1m26 0h2m5 0h2m8 0h1m-58 1h1m8 0h2m2 0h1m1 0h1m-16 1h1m4 0h1m9 0h1m23 0h1m-40 1h2m8 0h1m1 0h1m1 0h1m1 0h1m22 0h1m102 0h1m-138 1h2m-7 1h1m4 0h1m5 0h1m1 0h1m35 0h1m8 0h1m-46 1h1m3 0h1m19 0h1m13 0h1m-45 1h1m9 0h2m18 0h1m19 0h1m-59 1h1m2 0h1m2 0h1m11 0h1m-56 1h1m2 0h1m45 0h2m23 0h1m7 0h1m6 0h1m4 0h2m-97 1h1m41 0h1m7 0h1m5 0h1m18 0h1m6 0h1m28 0h1m-105 1h1m32 0h1m4 0h1m2 0h1m1 0h1m1 0h1m1 0h2m20 0h1m3 0h2m14 0h1m-91 1h1m34 0h1m49 0h1m-88 1h1m1 0h1m48 0h1m31 0h1m2 0h2m3 0h1m-40 1h1m20 0h1m-81 1h1m4 0h1m3 0h1m29 0h1m3 0h1m34 0h1m1 0h1m5 0h1m5 0h1m-53 1h1m37 0h1m1 0h1m5 0h1m-84 1h1m1 0h1m5 0h1m30 0h1m41 0h1m13 0h1m-95 2h1m1 0h1m28 0h1m59 0h1m-92 1h1m7 0h1m2 0h1m13 0h1m48 0h1m-75 1h1m5 0h3m75 0h1m-82 1h1m3 0h1m8 0h1m9 0h2m4 0h1m2 0h1m3 0h1m10 0h1m35 0h1m-83 1h1m9 0h1m14 0h1m4 0h1m-29 1h1m19 0h1m3 0h1m10 0h1m19 0h1m-60 1h3m8 0h1m9 0h1m3 0h1m5 0h1m5 0h1m9 0h1m21 0h1m4 0h1m5 0h1m2 0h1m3 0h1m-88 1h1m3 0h2m5 0h1m16 0h1m4 0h1m32 0h1m3 0h1m-68 1h1m1 0h1m12 0h1m8 0h1m2 0h1m9 0h1m32 0h2m25 0h1m-100 1h1m4 0h1m2 0h2m5 0h1m18 0h1m8 0h1m55 0h1m-98 1h1m1 0h1m2 0h1m1 0h1m1 0h2m6 0h1m12 0h1m10 0h1m4 0h2m4 0h1m16 0h1m1 0h3m4 0h1m-78 1h1m8 0h1m4 0h1m2 0h1m2 0h1m8 0h2m2 0h1m1 0h1m13 0h1m3 0h1m15 0h2m4 0h1m-78 1h1m2 0h1m13 0h1m1 0h2m8 0h2m11 0h1m11 0h1m1 0h1m7 0h1m5 0h1m9 0h1m-79 1h1m9 0h1m4 0h1m26 0h1m13 0h1m7 0h1m13 0h1m-66 1h1m3 0h1m15 0h1m3 0h1m6 0h1m5 0h1m2 0h1m1 0h1m1 0h1m1 0h2m1 0h1m2 0h1m2 0h1m6 0h1m-74 1h1m24 0h1m5 0h1m3 0h1m6 0h1m7 0h2m5 0h1m2 0h1m11 0h1m3 0h2m9 0h1m-88 1h1m27 0h2m5 0h2m1 0h1m1 0h1m1 0h1m3 0h1m7 0h2m8 0h1m7 0h1m2 0h2m1 0h2m-77 1h1m4 0h1m12 0h3m7 0h1m4 0h1m2 0h1m5 0h1m3 0h1m1 0h1m2 0h1m1 0h2m2 0h1m2 0h1m6 0h1m3 0h2m7 0h1m-62 1h1m1 0h1m2 0h1m2 0h1m6 0h1m3 0h1m11 0h1m1 0h1m3 0h1m1 0h1m7 0h1m2 0h1m3 0h1m8 0h1m-84 1h1m6 0h1m12 0h2m1 0h1m14 0h1m7 0h1m4 0h1m1 0h1m1 0h1m1 0h1m7 0h1m1 0h1m2 0h1m1 0h1m-64 1h1m11 0h1m13 0h2m1 0h3m1 0h1m2 0h1m2 0h1m1 0h1m-50 1h1m11 0h1m10 0h1m8 0h1m6 0h1m3 0h1m15 0h1m-55 1h1m2 0h1m18 0h1m1 0h1m7 0h1m1 0h1m2 0h1m-38 1h1m27 0h1m12 0h1m28 0h1m-73 1h1m1 0h1m15 0h1m13 0h2m7 0h1m1 0h1m-44 1h1m14 0h1m18 0h1m7 0h1m-39 1h1m9 0h1m10 0h1m2 0h1m2 0h1m35 0h1m-69 1h1m4 0h1m6 0h1m51 0h1m2 0h1m-66 1h1m3 0h1m4 0h1m18 0h1m22 0h1m9 0h1m-63 1h3m17 0h1m15 0h1m5 0h1m12 0h1m2 0h1m18 0h1m-71 1h1m3 0h1m16 0h1m3 0h1m4 0h1m2 0h1m18 0h1m-58 1h1m12 0h1m23 0h1m-19 1h1m27 0h1m5 0h1m2 0h1m-28 1h1m18 0h1m14 0h1m-20 1h1m26 0h1m-28 1h1m-31 1h1m16 0h1m2 0h1m8 0h2m-2 1h1m4 0h1m8 0h1m-15 1h1m32 0h1m-43 1h1m8 0h1m22 0h1m6 0h1m3 0h1m-61 1h1m14 0h1m12 0h1m-28 1h1m26 0h1m14 0h1m1 0h4m-24 1h2m4 0h2m18 0h1m7 0h1m-52 1h1m12 0h1m2 0h1m1 0h1m4 0h3m11 0h2m1 0h3m8 0h1m-29 1h1m2 0h2m7 0h1m-43 1h1m5 0h1m1 0h1m13 0h1m3 0h1m13 0h1m2 0h1m3 0h1m-48 1h2m4 0h1m15 0h1m1 0h1m1 0h1m16 0h1m12 0h2m1 0h1m-59 1h2m13 0h2m30 0h1m-46 1h2m22 0h1m6 0h1m4 0h1m3 0h1m12 0h1m-54 1h1m13 0h1m3 0h3m9 0h1m5 0h1m19 0h1m5 0h1m1 0h1m-45 1h1m12 0h1m1 0h1m19 0h1m-40 1h1m26 0h1m6 0h1m3 1h1m2 1h1m-48 3h1"/>
<path stroke="#3E4989" d="M169 8h1m5 2h1m2 0h1m3 0h1m-16 1h1m8 0h1m6 0h2m-11 1h1m5 0h1m0 1h1m-23 1h2m12 0h1m3 0h1m1 0h1m1 0h1m-19 1h1m8 0h1m1 0h2m1 0h1m1 0h1m-24 1h1m1 0h1m3 0h1m11 0h1m-26 1h2m1 0h2m8 0h1m5 0h1m1 0h1m-18 2h1m1 0h1m14 0h1m-15 1h1m6 0h1m5 0h1m2 0h1m10 0h1m-28 1h1m-14 1h1m10 0h1m29 0h1m-34 1h1m13 0h1m-4 1h2m1 0h1m-24 1h1m6 0h1m10 0h1m1 0h1m6 0h2m16 0h1m-49 1h1m8 0h1m2 0h1m10 0h1m-26 1h1m1 1h1m46 0h1m-51 2h1m4 3h1m25 2h1m-2 1h1m-35 1h1m30 0h1m-26 1h1m39 0h1m-51 1h1m32 0h1m30 0h1m-56 2h1m-12 3h1m61 0h1m-61 4h1m-9 2h1m-15 1h1m18 1h1m-28 1h1m25 0h1m-26 1h1m-1 1h1m-47 2h1m4 1h2m-2 1h1m41 0h1m-47 1h1m5 1h1m37 0h2m16 0h2m-19 1h1m6 0h1m9 1h1m-18 2h1m0 1h1m-38 1h1m32 0h1m1 0h1m1 0h1m-41 2h1m41 0h1m3 0h2m8 0h1m-61 1h1m37 0h1m-35 1h1m1 0h1m40 0h1m7 0h1m5 0h1m-57 1h1m65 0h1m2 0h1m-74 1h1m3 0h1m3 0h1m28 0h1m4 0h1m1 0h2m-48 1h1m1 0h1m35 0h1m32 1h1m69 0h1m-127 1h1m30 0h1m1 0h1m5 0h1m-58 1h1m7 0h2m7 0h1m35 0h1m86 0h1m-91 1h1m8 0h1m-94 1h1m41 0h1m41 0h1m4 0h1m-56 1h1m8 0h1m30 0h2m2 0h1m-79 1h1m85 0h1m-88 1h2m1 0h1m46 0h1m-50 1h1m2 0h1m68 0h1m4 0h1m15 0h1m7 0h1m-99 1h1m70 0h1m15 0h1m1 0h1m-90 1h1m70 0h1m4 0h1m-81 1h1m95 0h1m-100 1h1m38 0h1m52 0h1m-17 2h1m11 0h1m1 0h1m1 0h1m8 0h1m2 0h1m-86 1h1m64 0h1m-81 1h1m1 0h1m36 0h1m-40 1h3m8 0h1m58 0h1m12 0h2m1 0h2m-86 1h1m2 0h1m10 0h1m5 0h1m61 0h1m-77 1h1m1 0h1m1 0h1m8 0h2m61 0h1m-64 1h1m59 0h1m-65 1h1m8 0h1m12 0h1m-38 1h1m3 0h1m19 0h1m52 0h1m-72 1h1m24 0h1m1 0h1m34 0h2m-66 1h1m14 0h1m4 0h2m7 0h2m4 0h1m7 0h1m29 0h1m11 0h1m-79 1h1m3 0h1m15 0h1m3 0h1m2 0h2m11 0h1m13 0h1m22 0h1m-85 1h1m7 0h1m10 0h2m52 0h1m1 0h1m8 0h1m-75 1h1m2 0h1m2 0h1m16 0h2m8 0h1m1 0h1m4 0h1m13 0h1m-49 1h1m2 0h1m2 0h2m1 0h2m3 0h1m1 0h1m12 0h1m18 0h1m-60 1h1m1 0h2m4 0h1m7 0h1m13 0h1m7 0h1m7 0h1m3 0h1m10 0h1m-65 1h2m1 0h1m14 0h1m1 0h1m4 0h1m7 0h3m5 0h1m1 0h3m6 0h1m17 0h2m-73 1h3m3 0h1m2 0h1m10 0h2m3 0h1m2 0h1m3 0h1m2 0h1m13 0h1m4 0h1m4 0h1m3 0h2m7 0h1m2 0h1m-41 1h1m2 0h3m4 0h1m13 0h1m4 0h1m10 0h1m-80 1h1m9 0h1m1 0h1m24 0h1m10 0h1m1 0h1m2 0h1m14 0h1m-64 1h1m2 0h1m21 0h1m10 0h1m23 0h1m9 0h1m-75 1h2m1 0h1m23 0h1m6 0h1m5 0h1m20 0h1m2 0h1m4 0h1m1 0h1m-67 1h1m19 0h1m12 0h2m2 0h1m1 0h2m5 0h1m9 0h1m2 0h1m2 0h1m2 0h1m-68 1h1m17 0h1m16 0h2m2 0h1m7 0h2m-13 1h2m2 0h1m5 0h1m1 0h1m3 0h1m18 0h1m-49 1h1m5 0h3m9 0h1m12 0h2m1 0h1m-55 1h1m2 0h1m13 0h1m1 0h2m10 0h1m7 0h1m2 0h1m6 0h1m-34 1h1m8 0h1m1 0h2m14 0h1m22 0h1m-66 1h1m2 0h1m3 0h1m16 0h2m3 0h1m21 0h1m13 0h1m-66 1h1m5 0h1m8 0h1m3 0h1m19 0h1m23 0h1m3 0h1m2 0h1m9 0h1m-78 1h1m23 0h1m15 0h1m4 0h1m10 0h1m4 0h1m14 0h1m-77 1h2m34 0h1m4 0h1m5 0h1m2 0h1m3 0h1m16 0h1m-72 1h1m17 0h1m3 0h1m4 0h1m2 0h1m11 0h1m2 0h1m1 0h2m26 0h1m-43 1h2m2 0h1m36 0h1m-56 1h1m12 0h1m6 0h2m-27 1h1m21 0h1m34 0h1m2 0h1m2 0h1m-72 1h1m25 0h1m12 0h1m5 0h1m23 0h1m-36 1h1m3 0h1m7 0h1m15 0h1m4 0h1m2 0h1m-63 1h1m13 0h1m1 0h1m12 0h1m30 0h2m-61 1h1m13 0h1m1 0h1m9 0h1m5 0h2m8 0h1m11 0h1m-55 1h1m7 0h1m6 0h1m1 0h1m2 0h1m3 0h1m4 0h1m-22 1h1m9 0h1m4 0h1m25 0h1m1 0h1m8 0h1m-61 1h1m19 0h1m6 0h1m22 0h3m-35 1h1m5 0h1m9 0h1m-12 1h1m14 0h1m4 0h1m1 0h1m2 0h1m10 0h1m-50 1h1m11 0h1m4 0h1m1 0h1m9 0h2m20 0h1m8 0h1m-51 1h1m15 0h1m14 0h1m7 0h1m2 0h1m3 0h1m-58 1h1m2 0h1m21 0h1m1 0h1m4 0h1m20 0h1m5 0h1m-52 1h1m7 0h1m23 0h1m8 0h1m1 0h1m-58 1h1m26 0h1m-21 1h1m19 0h1m5 0h1m7 0h1m3 0h1m9 0h1m1 0h1m1 0h1m-56 1h1m12 0h2m26 0h1m1 0h1m-35 1h1m6 0h1m37 0h1m-46 1h1m38 0h1m6 0h2m-63 1h1m56 0h1m-46 1h1m14 0h1m-12 1h1m7 2h1m-6 1h1"/>
<path stroke="#365D8D" d="M161 10h1m-2 2h1m23 0h1m-17 1h1m7 0h1m-23 1h1m19 0h1m8 0h1m-33 1h1m2 0h1m3 0h2m5 0h1m-3 1h1m3 0h1m2 0h1m-14 1h1m14 0h1m-22 1h1m4 1h1m7 1h1m8 0h1m-21 1h1m3 0h1m-2 1h1m2 0h1m10 0h1m-29 1h1m43 0h1m-31 1h1m3 0h1m5 0h1m-13 1h1m-11 1h1m20 0h1m-28 1h1m26 0h1m-25 1h1m-4 1h1m1 0h1m-3 2h2m-2 5h1m25 0h1m24 0h1m-60 1h1m7 0h1m40 0h1m10 0h1m-56 1h1m28 0h1m12 0h1m-44 1h1m1 0h1m27 0h1m10 0h1m-42 1h1m3 0h2m-11 1h1m18 2h1m-23 2h1m1 1h1m65 0h1m-59 1h1m58 0h1m-74 3h1m-16 2h2m5 1h1m3 0h1m-12 1h1m9 0h1m18 0h1m-31 3h2m18 0h1m-22 1h1m6 0h1m1 0h1m12 0h1m-23 1h3m16 0h1m-72 1h1m46 0h1m3 0h1m2 0h1m1 4h1m8 0h1m-58 1h1m43 0h1m1 0h1m9 0h1m-22 1h2m17 0h1m-54 1h1m42 0h1m6 0h1m17 0h1m-68 1h1m2 0h1m35 0h1m-49 1h1m7 0h1m40 0h1m-42 1h1m38 0h1m11 0h1m2 0h1m-9 1h1m3 1h1m2 0h1m12 0h1m65 1h1m-69 1h1m70 0h1m-145 1h1m48 0h1m1 1h1m-51 1h1m-3 1h1m38 0h1m2 0h1m3 0h1m8 0h1m-93 1h1m41 0h1m33 0h1m6 0h1m-5 1h1m6 0h1m15 1h1m-58 1h1m-42 2h1m69 0h1m5 0h1m-76 1h1m69 0h1m8 0h1m6 0h1m2 0h1m-92 1h1m34 0h1m39 0h1m4 0h1m17 0h1m2 0h1m-104 1h1m1 0h1m71 0h1m1 0h2m4 0h1m-80 1h1m36 0h1m34 0h1m4 0h1m1 0h1m-82 1h1m-2 1h1m85 0h1m9 0h1m-23 1h1m-63 1h1m-8 1h1m66 0h1m15 0h1m-85 1h1m2 0h1m18 0h1m49 1h2m-73 1h2m3 0h1m19 0h1m43 0h1m5 0h1m-48 1h1m44 0h1m-74 1h1m2 0h1m69 0h1m3 0h1m-48 1h1m42 0h1m-72 1h2m61 0h1m1 0h1m-67 1h1m6 0h1m7 0h1m54 0h1m-73 1h1m30 0h2m1 0h3m2 0h1m8 0h1m22 0h1m-69 1h1m9 0h1m18 0h1m19 0h1m1 0h1m-51 1h1m10 0h1m12 0h1m4 0h1m6 0h1m9 0h1m13 0h1m22 0h1m-88 1h1m7 0h1m20 0h1m7 0h1m17 0h1m5 0h2m2 0h1m-66 1h1m33 0h1m7 0h1m9 0h1m7 0h1m1 0h1m22 0h1m1 0h1m-81 1h1m2 0h1m21 0h1m8 0h1m7 0h1m31 0h1m7 0h1m-64 1h1m7 0h1m17 0h1m10 0h1m1 0h1m2 0h1m11 0h1m-49 1h1m22 0h1m7 0h1m1 0h1m13 0h2m-50 1h2m15 0h1m18 0h1m1 0h1m-22 1h1m15 0h1m5 0h2m12 0h1m-77 1h1m40 0h1m1 0h1m2 0h1m11 0h1m1 0h1m11 0h1m20 0h1m-74 1h2m5 0h1m27 0h1m19 0h1m-58 1h1m3 0h1m1 0h1m10 0h2m13 0h1m11 0h1m10 0h1m5 0h1m-62 1h1m3 0h1m9 0h1m1 0h1m3 0h1m6 0h1m2 0h1m12 0h1m18 0h1m-82 1h1m30 0h1m9 0h1m14 0h1m9 0h1m4 0h1m6 0h1m1 0h1m-52 1h1m3 0h1m1 0h1m18 0h1m3 0h1m-50 1h1m3 0h1m6 0h1m8 0h1m17 0h3m1 0h1m4 0h1m3 0h1m13 0h1m5 0h1m-75 1h1m6 0h1m5 0h2m33 0h1m9 0h1m3 0h1m25 0h1m-70 1h1m12 0h1m9 0h1m2 0h1m5 0h1m15 0h1m-35 1h2m1 0h1m1 0h1m12 0h1m13 0h1m-40 1h1m3 0h1m3 0h1m2 0h1m-14 1h1m10 0h1m4 0h1m-31 1h1m1 0h1m17 0h1m9 0h1m2 0h1m1 0h1m7 0h1m13 0h1m6 0h1m-48 1h1m4 0h1m12 0h1m61 0h1m-75 1h1m10 0h1m13 0h1m-28 1h1m6 0h1m24 0h2m1 0h1m11 0h1m-50 1h1m2 0h1m1 0h1m20 0h1m15 0h1m1 0h1m4 0h1m-46 1h1m8 0h1m23 0h1m2 0h1m2 0h1m-59 1h1m18 0h2m25 0h1m3 0h1m1 0h1m5 0h1m-41 1h2m2 0h1m2 0h1m4 0h2m24 0h1m-35 1h1m12 0h1m6 0h1m-15 1h2m14 0h1m7 0h1m9 0h1m-54 1h1m10 0h1m30 0h1m-26 1h1m27 0h1m-44 1h1m21 0h1m13 0h1m1 0h1m14 0h1m21 0h1m-30 1h1m1 0h1m2 0h1m18 0h2m-41 1h2m16 0h1m4 0h1m20 0h1m-84 1h1m12 0h1m1 0h1m10 0h1m16 0h1m7 0h1m-10 1h1m3 0h1m6 0h3m10 1h1m-12 1h1m1 0h1m-71 1h2m16 2h1m9 1h1m10 0h1m-8 1h2m0 2h1"/>
<path stroke="#2E6F8E" d="M170 8h1m6 2h1m7 2h1m1 0h1m-26 3h1m4 0h1m2 0h2m-17 3h1m7 0h1m3 0h1m4 0h1m9 0h1m-15 1h2m-12 1h1m8 0h1m3 0h1m-17 1h1m8 0h1m-21 1h1m19 0h1m-2 1h1m-6 1h1m2 0h1m-3 1h1m-22 1h1m8 0h1m6 0h1m2 0h1m-11 1h1m-8 1h1m41 0h1m4 0h1m-49 2h1m-4 3h1m1 0h2m-6 1h1m3 0h1m28 0h1m20 1h1m-28 1h1m2 1h1m7 0h1m-10 1h1m1 0h1m7 0h1m1 0h1m-46 1h1m7 0h1m23 0h1m-33 1h1m-5 1h1m0 1h1m10 0h1m-13 4h1m10 0h1m4 0h1m47 0h1m-61 1h1m-6 2h1m7 0h1m2 0h1m-3 1h1m-23 1h1m13 0h1m-16 1h2m4 0h1m-21 1h1m17 0h1m17 1h1m-22 3h1m19 0h1m-17 1h1m-64 1h1m60 0h1m1 0h1m-14 2h1m8 1h1m-58 1h1m52 0h1m1 0h1m18 0h1m4 0h1m-37 1h1m-2 1h1m4 0h1m3 0h1m-8 2h1m1 0h1m-5 1h1m1 0h1m9 0h1m9 0h1m-24 2h1m12 0h1m5 0h1m79 1h1m-102 1h1m4 0h1m5 0h1m4 0h1m20 0h1m-5 1h1m-23 1h1m5 0h1m-11 1h1m2 0h1m4 0h1m4 0h1m-17 1h1m8 0h1m4 0h1m-2 1h1m-46 1h1m32 0h1m8 0h1m17 0h1m68 0h1m-97 1h1m-1 1h2m7 0h1m18 0h1m-111 1h1m50 0h1m26 0h1m17 0h1m1 0h1m-18 1h1m8 0h2m2 0h1m14 0h1m-108 1h1m71 0h1m2 0h1m1 0h2m4 0h1m3 0h1m1 0h1m3 0h1m-23 1h2m2 0h1m1 0h1m23 0h1m-21 1h2m-8 1h1m16 0h1m-100 1h1m87 0h1m3 0h1m2 0h1m-88 1h1m97 0h1m-101 2h1m71 0h2m11 0h1m-76 1h1m62 0h2m11 0h1m-81 1h1m14 0h1m50 0h1m1 0h1m14 0h1m2 0h1m-84 1h2m60 0h1m-69 1h1m3 0h1m62 0h1m4 0h1m11 0h1m-81 1h1m65 0h1m3 0h1m11 0h1m-13 1h1m11 0h1m-55 1h1m44 0h1m4 0h2m-50 1h2m44 0h1m3 0h2m8 0h1m-70 1h1m16 0h1m21 0h1m-60 1h1m19 0h1m9 0h1m11 0h1m-46 1h1m1 0h1m1 0h1m24 0h2m1 0h1m-31 1h1m3 0h1m23 0h1m49 0h1m-80 1h1m3 0h1m1 0h1m26 0h2m12 0h1m1 0h1m2 0h1m3 0h1m19 0h1m-80 1h1m3 0h1m21 0h1m4 0h1m15 0h2m3 0h1m14 0h1m15 0h1m6 0h1m-82 1h1m45 0h1m2 0h1m4 0h1m29 0h1m-48 1h1m13 0h1m4 0h1m19 0h1m-83 1h1m46 0h1m9 0h1m-19 1h1m23 0h1m-35 1h1m6 0h1m12 0h1m7 0h1m2 0h1m3 0h2m1 0h1m30 0h1m-70 1h1m18 0h1m9 0h1m22 0h1m-56 1h1m6 0h1m1 0h1m18 0h1m1 0h1m12 0h1m-61 1h1m32 0h1m11 0h1m3 0h1m15 0h1m4 0h1m-44 1h1m14 0h1m3 0h1m9 0h1m9 0h1m12 0h1m-83 1h1m18 0h1m3 0h1m3 0h1m11 0h1m6 0h1m7 0h1m6 0h2m12 0h1m-52 1h1m9 0h1m9 0h2m3 0h1m10 0h1m6 0h2m-73 1h1m3 0h1m17 0h1m3 0h1m14 0h1m8 0h1m4 0h1m7 0h1m10 0h1m-71 1h2m23 0h1m1 0h1m1 0h1m3 0h1m13 0h1m12 0h1m5 0h1m2 0h1m8 0h1m-78 1h1m29 0h1m1 0h2m1 0h1m4 0h1m8 0h1m13 0h2m2 0h1m1 0h1m-49 1h1m10 0h1m5 0h1m3 0h1m2 0h1m5 0h2m10 0h1m1 0h1m3 0h1m-72 1h1m1 0h1m18 0h2m20 0h1m20 0h1m3 0h1m4 0h1m1 0h2m-34 1h1m2 0h2m10 0h1m18 0h1m-45 1h1m5 0h1m8 0h1m2 0h1m7 0h1m8 0h1m5 0h1m-38 1h1m8 0h1m12 0h1m11 0h1m-43 1h1m29 0h1m31 0h1m-80 1h1m4 0h1m5 0h1m10 0h1m3 0h1m2 0h3m1 0h1m13 0h1m14 0h1m6 0h1m-58 1h1m25 0h1m17 0h1m5 0h1m37 0h1m-79 1h1m2 0h1m13 0h1m1 0h1m4 0h1m6 0h1m5 0h1m3 0h1m-39 1h1m8 0h1m1 0h1m13 0h1m5 0h1m2 0h1m8 0h2m-13 1h1m10 0h1m-16 1h1m5 0h1m-45 1h1m7 0h1m6 0h1m11 1h1m4 0h1m3 0h1m2 0h1m-49 1h1m16 0h1m36 0h1m18 0h1m-55 1h1m6 0h1m1 0h1m20 0h1m4 0h1m1 0h2m-46 1h1m37 0h1m4 1h1m7 0h1m-53 1h1m54 0h1m3 0h1m15 0h1m-61 1h1m32 0h1m9 0h2m2 0h1m-70 1h1m32 0h1m19 0h1m-50 1h1m9 0h2m7 0h1m19 0h1m-39 1h1m14 0h1m33 0h1m1 0h1m-52 2h1m44 0h1m4 0h2m2 0h1m-64 1h1m9 0h1m54 0h1m-37 1h1m-3 3h1m-7 1h1m-15 4h1m0 1h1"/>
<path stroke="#27808E" d="M188 11h1m-30 2h1m-3 1h1m11 1h1m-14 2h1m1 0h1m1 0h1m3 0h1m4 0h1m13 0h1m-16 1h1m1 0h1m-25 3h1m15 0h1m-8 2h1m-16 2h1m26 0h2m-28 1h1m3 0h1m10 0h1m11 0h1m-30 1h2m14 0h1m11 0h1m1 0h1m17 0h1m-52 4h1m4 0h1m9 0h1m-12 1h1m-6 1h1m32 0h1m15 0h1m-46 1h1m26 3h1m2 0h1m4 0h1m-4 2h1m-43 1h1m5 0h1m54 2h1m-66 1h1m15 0h2m-14 1h1m8 1h1m1 1h1m-8 1h1m5 0h1m-16 1h2m13 0h1m56 0h1m-70 1h2m4 4h1m-39 1h1m2 0h1m-4 1h1m18 0h1m-56 1h1m48 1h1m10 1h1m-60 1h1m54 0h1m-10 1h1m22 0h1m1 0h1m-79 1h1m46 0h1m4 0h1m25 0h1m-15 1h1m12 0h1m-31 2h1m12 0h1m-4 1h1m1 0h1m14 0h1m-26 2h1m12 0h1m-13 1h1m3 0h1m90 0h1m-135 2h1m35 0h1m10 0h1m-13 1h1m5 0h1m3 0h1m18 0h1m-33 1h2m4 0h1m26 0h1m63 0h1m-66 1h1m-33 1h1m2 0h1m2 0h1m22 0h1m-29 1h1m30 0h1m-37 1h1m7 0h1m26 0h1m-69 1h1m32 0h1m4 0h1m1 0h1m3 0h1m-12 1h1m13 0h1m-15 1h1m13 0h1m-17 1h2m6 0h1m-2 1h1m2 0h1m25 0h1m-35 1h1m13 0h1m-9 1h1m2 0h1m1 0h1m-6 1h1m8 0h1m2 1h1m12 0h1m-34 1h1m1 0h1m2 0h1m3 0h1m20 0h1m-26 1h1m24 0h1m-27 1h1m25 0h1m-21 1h2m-13 1h1m20 0h1m2 0h1m-21 1h1m7 0h1m3 0h1m-6 1h1m-2 1h1m8 0h1m-87 1h1m71 0h1m1 0h1m9 0h1m-84 1h1m77 0h1m-79 1h1m93 0h1m-95 1h1m82 0h1m-21 1h1m8 0h2m3 0h1m2 0h2m-49 1h1m36 0h1m6 0h1m1 0h1m-59 1h1m7 0h1m56 0h1m-21 1h1m14 1h1m-83 1h1m3 0h1m77 0h1m10 0h1m-94 1h2m4 0h1m1 0h1m26 0h1m42 0h1m-76 1h1m21 0h1m5 0h1m1 0h1m6 0h1m3 0h1m5 0h1m14 0h1m13 0h2m-75 1h1m1 0h1m16 0h1m16 0h1m18 0h1m-61 1h1m4 0h1m53 0h1m16 0h1m2 0h1m2 0h1m15 0h1m-18 1h1m2 0h1m-80 1h1m1 0h1m43 0h1m26 0h1m-78 1h1m1 0h1m32 0h1m9 0h1m15 0h1m2 0h1m6 0h1m3 0h1m-49 1h1m4 0h1m13 0h1m6 0h1m1 0h1m7 0h1m15 0h1m-77 1h1m48 0h1m3 0h2m5 0h1m5 0h1m26 0h1m-54 1h1m10 0h1m18 0h1m-40 1h1m6 0h1m9 0h1m9 0h2m2 0h1m7 0h1m6 0h1m-56 1h1m3 0h1m2 0h1m8 0h1m12 0h1m17 0h1m4 0h2m1 0h1m-74 1h2m26 0h1m10 0h1m2 0h1m17 0h1m-50 1h1m1 0h1m2 0h1m13 0h1m7 0h2m12 0h1m21 0h1m-53 1h2m2 0h1m9 0h1m4 0h1m15 0h3m15 0h1m-63 1h2m4 0h1m4 0h1m8 0h1m9 0h1m3 0h2m12 0h1m8 0h1m3 0h1m3 0h1m-47 1h2m11 0h1m4 0h1m5 0h1m19 0h2m-79 1h1m2 0h1m2 0h1m27 0h1m16 0h1m22 0h1m4 0h1m-75 1h1m8 0h1m6 0h1m20 0h1m31 0h1m-47 1h1m4 0h1m1 0h1m8 0h1m3 0h1m5 0h2m11 0h2m5 0h1m4 0h1m-51 1h1m12 0h1m7 0h1m-5 1h1m14 0h1m-54 1h1m22 0h1m1 0h1m6 0h2m16 0h1m10 0h1m4 0h1m4 0h1m-56 1h1m35 0h1m12 0h1m4 0h1m31 0h1m-87 1h1m13 0h2m11 0h1m8 0h1m5 0h1m8 0h1m35 0h1m-70 1h1m27 0h1m-32 1h1m25 0h1m-23 1h1m27 0h1m-64 1h1m18 0h1m12 0h1m5 0h1m16 0h1m14 0h1m-41 1h1m31 0h1m2 0h1m1 0h1m4 0h2m-20 1h1m9 0h1m4 0h1m3 0h1m10 0h1m-35 1h1m11 0h1m6 0h1m3 0h1m-52 1h1m38 0h1m4 0h1m9 1h1m1 0h1m-53 1h1m32 0h1m5 0h1m6 0h1m4 0h1m-36 1h1m9 0h1m24 0h1m11 0h1m-66 1h1m7 0h2m30 0h1m5 0h2m-62 1h1m17 0h1m2 0h1m2 0h1m31 0h1m7 0h1m-45 1h1m2 0h1m29 0h1m-53 1h1m52 0h1m14 0h1m-63 1h2m1 0h1m49 0h1m-53 1h1m11 0h1m2 0h1m3 0h1m11 0h1m-33 1h1m4 0h1m3 0h1m9 1h1m13 0h1m-34 1h1m14 0h2m1 0h1m-17 6h1"/>
<path stroke="#21918C" d="M174 10h1m3 5h1m1 0h2m-31 1h1m17 0h1m7 0h1m-30 1h1m24 0h1m-25 1h1m19 0h1m1 0h1m-26 1h1m12 0h1m10 1h1m1 1h1m-16 1h1m14 0h1m-17 1h1m14 0h1m-16 2h1m-4 2h1m29 1h1m-41 3h1m9 0h1m3 0h2m8 0h1m12 0h1m-40 1h1m15 1h1m1 0h1m23 0h1m-44 1h1m45 0h1m-48 1h1m2 0h1m32 0h1m4 0h1m6 0h1m-23 1h1m14 0h1m-8 1h1m6 0h1m-9 1h1m6 0h1m-49 1h1m46 0h1m-46 1h1m27 0h1m-24 1h1m-14 1h1m15 0h1m4 0h1m-16 1h1m2 0h1m-8 1h1m0 1h1m6 0h1m7 0h1m48 1h1m-64 1h1m2 0h1m-7 1h2m69 0h1m-91 3h1m8 0h1m1 0h1m14 0h1m-15 1h1m-25 1h1m12 0h1m4 0h1m20 0h1m-26 1h1m-15 2h1m1 0h2m9 0h1m3 0h1m1 0h1m9 1h1m8 0h1m-24 1h1m4 0h1m12 1h1m-28 1h1m1 0h1m9 0h1m5 0h1m-18 1h1m-5 1h1m2 0h1m9 0h1m2 0h1m6 0h1m-10 1h1m11 0h1m-28 1h1m6 0h1m10 0h1m-15 1h1m12 0h2m14 0h1m-30 1h1m4 0h1m-10 1h1m10 0h1m1 0h1m6 0h1m-10 1h1m6 0h1m-11 1h1m-7 1h1m7 0h1m22 0h1m-36 1h1m8 0h1m88 0h1m-101 1h1m-1 1h1m101 0h1m-4 1h1m-90 1h1m1 0h1m1 0h1m4 0h1m10 0h1m1 0h1m-74 1h1m44 0h1m10 0h1m85 0h1m-93 1h1m3 0h1m-14 1h1m3 0h1m5 0h2m87 0h1m-100 1h1m2 0h1m12 0h1m2 0h1m-18 1h1m15 0h1m14 0h1m-36 1h2m31 0h1m-26 1h1m7 1h1m6 0h1m-22 2h1m4 0h1m4 0h2m5 1h1m1 0h1m-19 1h1m1 0h1m2 0h1m10 0h1m11 0h1m-33 1h1m1 0h1m4 0h1m3 0h1m4 0h1m12 0h1m-12 1h1m13 0h1m-30 1h1m10 0h1m2 0h1m-12 1h1m3 0h1m-75 1h1m-2 1h1m68 0h1m12 0h1m-84 1h1m2 0h1m-6 1h1m3 0h2m66 0h1m1 0h1m11 0h1m-85 1h2m67 0h1m22 0h1m1 0h1m-27 1h1m14 0h1m-11 1h1m-44 2h1m52 0h1m4 0h1m3 0h1m0 1h1m-48 1h1m38 0h1m-23 1h1m-42 1h1m16 0h1m23 0h1m-38 1h1m1 0h1m33 0h1m1 0h1m15 0h2m2 0h1m-87 1h1m81 0h1m4 0h1m2 0h1m-88 1h1m25 0h1m-23 1h1m43 0h1m22 0h1m13 0h2m-4 1h1m-35 1h1m1 0h1m3 0h1m13 0h1m1 0h1m7 0h1m1 0h1m10 0h1m-37 1h1m17 0h1m-16 1h1m5 0h1m3 0h1m1 0h1m2 0h1m8 0h1m2 0h2m9 0h1m-72 1h1m2 0h1m25 0h1m3 0h2m7 0h1m6 0h1m8 0h1m-50 1h1m27 0h1m7 0h1m6 0h1m-53 1h1m28 0h2m4 0h1m22 0h2m-65 1h1m4 0h1m12 0h1m1 0h1m39 0h1m2 0h1m-69 1h1m1 0h1m1 0h1m6 0h1m12 0h2m1 0h1m5 0h2m2 0h1m7 0h2m1 0h1m1 0h1m11 0h1m5 0h2m11 0h1m-68 1h1m6 0h1m2 0h1m3 0h1m7 0h1m1 0h1m28 0h1m-61 1h1m5 0h1m2 0h1m3 0h2m23 0h1m12 0h1m-70 1h1m13 0h1m17 0h1m22 0h1m5 0h1m3 0h1m-33 1h1m18 0h1m2 0h2m5 0h1m3 0h2m-65 1h1m40 0h1m1 0h1m21 0h1m10 0h1m-48 1h1m14 0h1m2 0h1m6 0h1m1 0h1m18 0h1m-49 1h1m5 0h2m13 0h2m15 0h1m6 0h1m2 0h1m29 0h1m-94 1h1m13 0h1m13 0h1m13 0h1m13 0h1m-42 1h1m6 0h1m5 0h1m9 0h1m5 0h1m-51 1h1m30 0h1m22 0h1m11 0h1m10 0h1m-61 1h1m15 0h1m3 0h1m1 0h1m3 0h2m14 0h2m8 0h1m4 0h1m28 0h1m-82 1h1m7 0h1m20 0h1m10 0h1m5 0h1m-52 1h1m17 0h1m29 0h1m-70 1h1m69 0h1m1 0h2m-75 1h1m12 0h1m37 0h2m4 0h1m14 0h1m15 0h1m-84 1h2m7 1h1m50 0h2m12 0h2m6 0h1m-18 1h2m6 0h1m6 0h1m-46 1h1m25 0h1m12 0h1m-70 1h1m55 0h1m2 0h1m23 0h1m-80 1h1m62 0h1m15 0h2m-92 1h1m11 0h1m12 0h1m11 0h1m12 0h1m1 0h1m20 0h1m-58 1h1m34 0h1m1 0h1m-54 1h1m17 0h1m29 0h1m15 0h1m7 0h1m1 0h1m-76 1h1m28 0h1m6 0h1m27 0h1m3 0h1m3 0h1m5 0h2m-49 1h1m35 0h1m-43 1h1m15 0h1m-20 1h1m10 0h1m-3 1h2m1 0h1m4 0h1m-19 1h1m42 0h1m-38 1h1m13 0h1m-12 1h1m-9 4h1m-3 3h1"/>
<path stroke="#1FA188" d="M176 10h1m8 0h1m-27 1h1m23 4h1m-25 1h1m4 0h1m1 0h1m-6 3h1m9 0h1m10 1h1m-24 1h1m2 2h1m22 0h1m-31 2h1m1 0h1m5 0h1m-11 1h1m10 0h1m5 0h1m-22 1h1m-13 1h1m5 0h1m20 0h1m1 1h1m13 0h1m-23 1h1m-5 1h1m12 2h1m-33 1h1m8 0h1m7 0h1m4 0h1m21 0h1m-15 1h1m1 2h1m-28 1h1m30 0h1m-12 1h1m30 0h1m-65 1h1m50 0h1m-49 1h1m2 0h1m57 0h1m-53 1h1m-18 2h1m8 0h1m11 0h1m-13 1h1m0 1h1m56 0h1m-67 1h2m6 0h1m9 0h2m1 0h1m-25 1h1m9 0h1m5 0h1m3 0h1m-6 2h1m-25 1h1m24 0h1m-28 1h1m6 1h1m2 0h1m-1 1h1m-23 1h1m11 0h1m10 0h1m-25 1h1m13 0h1m-1 1h1m8 2h1m-15 1h1m26 0h1m-27 1h1m17 0h1m-20 1h1m25 0h1m-34 1h1m28 0h1m-20 1h1m9 1h2m-22 1h1m8 0h1m5 0h1m-11 1h2m1 0h2m6 0h1m11 0h1m-10 1h1m-7 1h1m5 0h1m-15 1h1m2 0h1m3 0h1m8 0h1m7 0h1m-31 1h1m16 0h1m-20 1h1m13 0h1m4 0h1m1 0h1m-20 1h1m18 0h1m80 0h1m-101 1h2m2 0h1m18 0h1m-29 1h1m1 0h1m15 0h1m19 0h1m64 0h1m-95 2h1m14 0h1m-8 1h1m81 0h1m5 0h1m-104 1h1m9 0h1m19 0h1m4 0h1m-27 1h1m-3 1h1m6 0h1m76 0h1m6 0h1m-102 1h1m12 0h2m6 0h1m11 0h1m-16 1h1m-4 1h1m24 0h1m-84 1h1m59 0h1m-1 1h1m9 0h1m2 0h1m-103 1h1m24 0h1m30 0h1m33 0h1m-84 1h1m81 0h1m8 0h1m-11 1h1m4 0h1m7 0h1m-13 1h2m5 0h1m8 0h1m-31 1h1m18 0h1m-87 1h1m63 0h1m11 0h1m2 0h1m4 0h1m1 0h1m-11 1h1m2 0h1m-12 1h1m3 0h1m4 0h1m2 0h2m-85 1h1m72 0h2m-5 1h1m4 0h1m5 0h1m3 0h1m-14 1h1m8 0h1m3 1h1m-15 1h1m2 0h1m-46 1h1m49 0h1m2 0h1m-89 1h1m84 0h2m1 0h1m3 0h1m-87 1h1m75 0h1m5 0h1m1 0h1m-6 1h1m5 0h1m-38 1h1m42 0h1m-13 1h1m5 0h1m6 0h1m6 0h1m-53 1h1m1 0h1m11 0h1m22 0h1m8 0h1m-60 1h1m14 0h1m29 0h1m4 0h1m6 0h1m-89 1h1m2 0h1m70 0h1m4 0h1m13 0h1m-67 1h1m15 0h1m1 0h1m31 0h1m4 0h1m9 0h1m-66 1h1m22 0h1m20 0h1m2 0h1m8 0h1m-59 1h1m1 0h1m16 0h2m9 0h1m5 0h1m9 0h1m-50 1h1m29 0h1m24 0h1m-29 1h1m13 0h1m3 0h1m3 0h1m3 0h1m2 0h2m-48 1h1m13 0h2m2 0h1m15 0h1m14 0h1m1 0h1m2 0h1m-59 1h1m1 0h2m33 0h2m6 0h1m2 0h1m2 0h2m48 0h1m-128 1h1m15 0h1m1 0h1m24 0h1m1 0h1m2 0h1m1 0h1m8 0h1m3 0h1m4 0h1m5 0h1m6 0h1m10 0h1m-72 1h1m22 0h1m8 0h1m19 0h1m1 0h1m-60 1h1m6 0h1m6 0h1m13 0h1m11 0h1m-26 1h1m6 0h2m53 0h1m-85 1h1m38 0h1m12 0h1m-48 1h1m16 0h1m40 0h1m-70 1h1m19 0h1m5 0h1m5 0h1m16 0h2m22 0h1m2 0h1m-26 1h1m2 0h1m16 0h1m2 0h1m3 0h1m-59 1h1m12 0h1m13 0h1m4 0h1m12 0h1m41 0h1m2 0h1m-104 1h1m22 0h1m6 0h1m9 0h1m2 0h1m7 0h1m3 0h1m7 0h1m14 0h1m23 0h1m-73 1h1m8 0h1m1 0h1m4 0h1m12 0h1m3 0h1m7 0h1m6 0h2m23 0h1m-103 1h1m1 0h1m18 0h1m3 0h1m2 0h1m7 0h1m1 0h1m2 0h1m16 0h1m13 0h1m5 0h1m-32 1h1m4 0h1m19 0h1m2 0h1m24 0h1m-71 1h1m6 0h1m13 0h1m11 0h1m2 0h1m-61 1h1m24 0h3m1 0h1m1 0h1m2 0h1m9 0h1m10 0h1m4 0h1m-69 1h1m19 0h1m3 0h1m12 0h1m14 0h1m1 0h1m9 0h1m1 0h1m41 0h1m-81 1h1m34 0h1m1 0h2m4 0h2m-73 1h1m18 0h1m44 0h1m-69 1h1m84 0h1m-62 1h1m55 0h2m-55 1h1m2 0h1m33 0h1m17 0h1m-79 1h2m23 0h1m34 0h1m11 0h1m15 0h1m5 0h1m-97 1h1m12 0h1m12 0h1m11 0h1m6 0h1m22 0h1m16 0h1m8 0h1m3 0h1m-56 1h1m17 0h1m5 0h1m22 0h1m5 0h1m-81 1h1m20 0h1m10 0h1m6 0h1m-45 1h1m26 0h1m31 0h1m6 0h1m-50 1h1m47 0h2m-63 1h1m16 0h1m42 0h2m1 0h2m-63 2h1m9 0h1m2 0h1m3 0h1m40 0h1m8 0h1m-64 1h1m3 1h1m5 0h1m19 0h1m-18 2h1m1 0h1m-17 5h1"/>
<path stroke="#2CB17E" d="M185 11h1m-33 7h1m19 0h1m-1 1h1m9 3h1m-24 1h1m9 1h1m4 0h1m10 0h1m-22 1h2m-17 1h1m9 0h1m-13 1h1m1 0h1m7 0h1m1 0h1m5 0h1m-23 1h1m24 0h1m-5 1h1m2 0h2m-27 1h1m-4 1h1m2 1h1m37 1h2m-50 1h1m8 0h1m-1 2h1m26 0h1m-41 1h1m30 0h2m16 0h1m-51 1h1m10 0h1m21 0h1m-37 1h1m1 0h1m37 0h1m4 0h1m-47 1h1m7 0h1m7 0h1m22 0h1m-32 1h1m2 0h1m27 0h2m-36 1h1m3 0h3m7 0h1m4 0h1m-14 1h1m0 1h1m11 0h1m-22 1h1m5 0h1m3 0h1m8 0h1m-23 1h1m2 0h1m63 0h1m1 0h1m-60 1h2m1 0h1m-15 1h1m5 0h1m1 0h1m2 0h2m2 0h1m-18 1h3m2 0h1m-4 1h1m8 0h1m-20 1h2m17 0h1m-9 1h1m6 0h1m46 0h1m-83 1h1m28 0h1m5 0h1m46 0h1m-83 1h1m17 0h1m8 0h1m7 0h1m5 0h1m-42 1h1m1 0h1m19 0h1m-8 2h1m1 1h1m11 0h2m2 0h1m1 0h1m-19 1h1m8 0h1m9 0h1m47 0h1m-79 1h1m6 0h1m7 0h1m0 1h2m-17 1h1m5 0h1m6 0h1m1 0h1m9 0h1m-26 1h1m1 0h2m21 1h1m7 1h1m-38 1h1m2 0h2m5 0h1m2 0h1m1 0h1m-17 2h1m11 0h1m2 0h1m-19 1h2m-2 1h1m16 0h1m7 0h1m1 0h1m9 0h1m4 0h1m49 0h1m3 0h1m-96 1h1m10 0h1m5 0h1m6 0h1m3 0h2m10 0h1m-36 1h1m2 0h1m3 0h1m16 0h1m-15 1h1m14 0h1m71 0h1m-92 1h1m1 0h1m79 0h1m4 0h1m-99 1h1m1 0h2m93 0h1m-89 1h1m7 0h1m3 0h1m6 0h1m70 0h1m-74 1h1m-27 1h1m24 0h1m-17 1h1m5 0h1m11 0h1m2 0h1m66 0h1m-82 1h1m72 0h1m-87 1h1m9 0h2m-11 1h1m8 0h1m74 0h1m-81 1h1m5 0h1m13 0h1m-23 1h1m10 0h1m4 0h1m-23 1h1m14 0h1m8 0h1m3 0h1m-79 1h1m54 0h1m0 1h1m2 0h1m11 0h1m8 0h1m-100 1h2m2 1h1m3 0h1m1 0h1m2 0h1m36 0h1m13 0h1m6 0h1m-57 1h1m49 0h1m2 0h1m3 0h1m1 0h1m10 1h1m7 0h1m-32 1h1m19 0h1m-91 1h1m75 0h1m15 0h1m4 0h1m-8 1h1m-28 1h1m7 0h1m7 1h1m0 1h1m9 0h1m4 0h1m-8 1h2m1 0h1m-54 1h1m48 0h1m1 0h1m1 1h1m2 0h1m-9 1h1m-83 1h1m91 0h1m1 0h1m-16 1h1m7 0h1m1 0h2m4 0h1m-92 1h1m74 0h1m6 0h2m1 0h1m-84 2h1m40 0h1m51 0h1m-66 1h1m64 0h2m-43 1h1m23 0h1m7 0h1m3 0h1m-91 1h1m79 0h1m5 0h1m-87 1h1m69 0h1m2 0h1m7 0h1m-35 1h2m24 0h2m10 0h1m8 0h1m-72 1h1m5 0h1m18 0h1m9 0h1m9 0h1m14 0h1m-59 1h1m4 0h1m23 0h1m5 0h1m-37 1h1m19 0h1m9 0h1m17 0h1m11 0h1m2 0h1m-63 1h1m19 0h1m9 0h1m11 0h1m10 0h1m5 0h1m-47 1h1m16 0h1m4 0h1m28 0h1m-68 1h1m14 0h1m7 0h1m6 0h1m4 0h1m3 0h1m11 0h1m6 0h1m-62 1h1m39 0h1m10 0h1m6 0h1m16 0h1m-69 1h1m5 0h1m10 0h1m4 0h1m13 0h1m8 0h1m4 0h2m2 0h1m35 0h1m-103 1h1m1 0h1m14 0h1m1 0h1m19 0h1m11 0h1m8 0h1m-68 1h1m16 0h1m6 0h1m11 0h1m24 0h1m7 0h1m1 0h1m-67 1h1m3 0h1m10 0h1m5 0h1m12 0h1m12 0h1m5 0h1m2 0h2m2 0h1m2 0h1m-42 1h1m14 0h1m14 0h1m4 0h1m5 0h1m-64 1h1m21 0h1m8 0h1m6 0h1m7 0h1m-44 1h1m10 0h3m25 0h1m4 0h1m2 0h1m8 0h1m5 0h1m4 0h1m-71 1h2m14 0h1m8 0h1m3 0h1m21 0h1m23 0h1m4 0h1m18 0h1m1 0h1m-100 1h1m27 0h1m7 0h1m13 0h1m10 0h1m7 0h1m26 0h1m-83 1h1m46 0h2m12 0h1m-75 1h1m11 0h1m5 0h1m12 0h1m5 0h1m3 0h1m-23 1h1m2 0h1m13 0h2m28 0h2m-69 1h1m15 0h1m23 0h1m2 1h1m15 0h1m1 0h1m16 0h1m-72 1h1m10 0h1m7 0h1m44 0h1m5 0h1m-60 1h1m45 0h1m10 0h1m-80 1h1m10 0h1m44 0h1m5 0h1m16 0h1m4 0h1m-83 1h1m22 0h1m57 0h1m7 0h1m2 0h1m-83 1h1m11 0h1m37 0h1m1 0h2m8 0h1m18 0h1m-71 1h1m37 0h1m14 0h2m4 0h1m2 0h1m-5 1h1m12 0h1m-96 1h1m27 0h1m10 0h1m1 0h1m5 0h1m22 0h1m9 0h1m5 0h1m-83 1h1m21 0h1m23 0h2m5 0h1m5 0h1m14 0h1m6 0h1m-26 1h1m2 0h1m16 0h1m4 0h1m-9 1h1m-60 1h1m18 0h1m32 0h1m6 0h1m-49 1h1m23 0h1m25 0h1m-63 1h1m7 0h1m1 0h1m2 0h1m11 0h1m7 0h1m6 0h1m3 0h1m3 0h1m-42 1h1m3 0h2m7 0h1m2 0h3m10 0h1m31 0h1m-60 1h1m1 0h1m7 0h1m5 0h1m-12 1h1m-16 4h1m0 1h1m-1 1h1m-3 1h1m1 0h1"/>
<path stroke="#48C16E" d="M167 8h1m-7 1h1m3 0h1m20 2h1m-30 1h1m-2 1h1m25 2h1m-11 1h1m2 0h1m7 0h1m-23 1h1m1 0h1m18 0h1m-36 1h1m17 0h1m8 0h1m-17 1h1m-17 3h1m17 0h1m12 0h1m-16 1h1m2 2h1m-7 1h1m10 0h1m2 0h1m1 0h1m-29 1h1m8 0h1m4 0h1m3 0h1m1 0h1m-12 1h1m14 0h1m2 0h1m-30 1h1m1 0h1m11 0h1m-21 1h1m33 0h1m-28 1h1m25 0h1m-13 1h1m2 0h1m8 0h2m8 0h1m-23 1h1m1 0h1m7 0h1m-1 1h1m13 0h1m4 0h1m-54 1h1m28 0h1m12 0h1m6 0h1m-52 1h1m40 0h2m3 0h1m1 0h1m-4 1h2m-15 1h1m11 0h1m15 0h1m-65 1h1m40 0h3m2 0h1m4 0h1m-42 1h1m25 0h1m-39 1h1m5 1h2m4 0h1m3 0h1m1 0h1m46 0h1m-67 1h1m2 0h1m1 0h2m3 0h1m2 0h1m-9 1h1m17 0h1m40 0h1m-67 1h1m3 0h1m16 0h1m2 0h1m3 0h1m-28 1h1m7 0h1m3 0h1m3 0h1m5 0h2m-19 1h2m-7 1h1m14 1h1m-14 1h1m13 0h1m-26 2h1m16 0h1m1 0h1m4 1h2m-29 1h1m5 0h1m1 0h1m1 0h1m9 0h1m4 0h1m48 0h1m-77 1h1m3 0h1m3 0h1m17 0h1m-26 1h1m25 0h1m-22 1h1m8 0h1m10 0h1m-17 2h1m1 0h1m8 0h1m5 0h1m-18 1h1m7 0h1m-19 1h2m5 0h1m14 0h1m-22 2h1m5 0h1m3 0h1m3 0h1m2 0h1m6 0h1m-33 1h1m1 0h1m20 0h1m5 0h1m3 0h1m-22 1h1m-10 1h1m5 0h1m5 0h2m1 0h1m-11 1h1m1 0h1m6 0h1m79 0h1m-71 1h1m73 0h1m-105 1h1m2 0h1m7 0h1m2 0h1m17 0h1m10 0h1m55 0h1m-84 1h1m3 0h1m10 0h1m10 0h1m47 0h1m3 0h2m-92 1h1m12 0h1m2 0h1m68 0h1m-90 1h1m21 0h2m74 0h1m1 0h1m-104 1h2m1 0h1m5 0h1m1 0h1m2 0h1m15 0h1m3 0h3m7 0h1m-40 1h1m2 0h1m13 0h1m9 0h2m-29 1h1m5 0h1m1 0h1m4 0h1m4 0h1m-23 1h1m9 0h1m3 0h1m14 0h2m1 0h1m-36 1h1m4 0h1m29 0h1m62 0h1m2 1h1m-95 1h1m2 0h1m26 0h1m-18 1h1m1 0h1m6 0h1m-11 1h1m1 0h1m1 0h1m-21 1h1m4 0h1m17 0h1m8 0h1m58 0h1m2 0h1m-119 1h1m40 0h1m7 0h1m62 0h1m-136 1h1m67 0h1m4 0h1m62 0h1m6 0h1m-171 1h1m24 0h1m25 0h1m21 0h1m9 0h1m1 0h1m10 0h2m1 0h1m-49 1h1m33 0h1m-5 1h1m11 0h1m-87 1h1m13 0h1m31 0h2m28 0h1m5 0h1m11 0h1m-91 1h2m1 0h1m1 0h1m55 0h2m9 0h1m3 0h2m2 0h1m2 0h1m4 0h1m-28 1h1m5 0h1m4 0h1m5 0h1m4 0h1m2 0h1m-23 1h1m4 0h1m14 1h1m-22 1h3m6 0h1m-25 1h1m15 0h1m5 0h1m10 0h1m-32 1h1m19 0h1m9 0h1m-6 1h1m3 0h1m2 1h1m-17 1h1m13 0h1m2 0h1m2 0h1m-20 2h2m9 0h1m5 0h1m-18 1h1m1 0h1m10 0h1m2 1h1m-90 1h1m1 0h1m71 0h1m-76 1h1m74 0h1m4 0h1m1 0h1m-64 1h1m57 1h1m6 0h1m3 0h1m6 0h1m-18 1h1m6 0h1m2 0h1m-90 1h2m94 0h2m-20 1h1m12 0h1m-62 1h1m46 0h1m9 0h1m2 0h2m-62 1h1m38 0h1m1 0h1m5 0h1m7 0h1m4 0h1m1 0h1m1 0h2m-70 1h2m1 0h1m28 0h1m13 0h1m3 0h1m44 0h1m-89 1h1m11 0h1m21 0h1m2 0h1m11 0h1m3 0h1m10 0h1m36 0h1m-66 1h1m3 0h1m10 0h1m2 0h1m-52 1h1m26 0h1m2 0h1m20 0h1m-64 1h2m24 0h1m2 0h1m16 0h1m3 0h1m4 0h1m6 0h2m2 0h1m3 0h1m3 0h1m-73 1h1m19 0h1m4 0h1m46 0h1m-54 1h1m13 0h1m8 0h1m9 0h1m-46 1h1m31 0h1m6 0h1m4 0h1m16 0h2m3 0h1m-66 1h1m36 0h1m9 0h1m11 0h1m42 0h1m-122 1h2m13 0h1m52 0h1m-53 1h2m33 0h1m1 0h2m57 0h1m-112 1h1m2 0h1m7 0h1m14 0h1m22 0h1m4 0h1m-56 1h1m21 0h1m1 0h1m18 0h1m8 0h1m2 0h2m13 0h1m6 0h1m23 0h1m-76 1h1m18 0h1m9 0h2m19 0h1m4 0h1m16 0h1m3 0h1m-107 1h1m44 0h1m4 0h1m8 0h1m15 0h1m4 0h1m-50 1h1m16 0h1m16 0h1m12 0h1m24 0h1m-94 1h1m10 0h1m13 0h1m46 0h1m20 0h1m-59 1h1m2 0h1m2 0h1m4 0h1m1 0h2m18 0h1m-53 1h1m28 0h1m10 0h2m10 0h1m4 0h1m-81 1h1m23 0h1m4 0h1m1 0h1m9 0h1m2 0h1m4 0h1m33 0h1m16 0h1m-101 1h1m18 0h2m27 0h1m27 0h1m4 0h1m-61 1h1m5 0h1m37 0h1m-45 1h1m3 0h1m41 0h1m3 0h1m-77 1h1m4 0h2m21 0h1m39 0h2m18 0h1m4 0h1m-96 1h1m7 0h1m4 0h1m68 0h1m2 0h1m4 0h1m2 0h1m6 0h1m-104 1h1m7 0h1m9 0h1m12 0h1m54 0h1m2 0h2m11 0h1m-95 1h1m1 0h1m18 0h1m2 0h1m39 0h1m24 0h1m2 0h1m1 0h2m-60 1h1m24 0h1m1 0h1m1 0h1m3 0h1m5 0h1m20 0h1m-87 1h1m3 0h1m5 0h1m43 0h1m15 0h1m14 0h1m-92 1h3m2 0h1m14 0h1m35 0h1m5 0h1m11 0h1m-82 1h1m3 0h1m9 0h1m17 0h1m31 0h1m-47 1h1m6 0h1m6 0h1m-31 1h1m30 0h1m1 0h2m1 0h1m31 0h1m4 0h1m1 0h1m4 0h2m-68 1h1m1 0h1m1 0h1m2 0h1m2 0h2m50 0h1m9 0h1m-73 1h2m23 1h1m37 0h1m4 0h1m-59 1h2m4 0h1m24 0h1m-17 1h1m-7 1h1m3 0h1m-21 3h1m-2 1h1m1 0h1m1 1h1m-7 2h1m2 0h1"/>
<path stroke="#6ECE58" d="M164 9h1m1 0h1m-7 1h1m23 0h1m-7 6h1m-14 1h1m-7 1h2m5 0h1m-10 2h1m2 0h1m-17 1h1m16 0h1m11 0h1m-33 2h1m15 0h1m26 0h1m-48 3h1m3 1h2m11 0h1m9 0h1m-18 1h1m6 0h2m25 0h1m-10 1h1m-33 1h1m11 0h1m3 0h1m-22 1h1m8 0h1m-1 1h1m6 0h1m6 0h1m6 0h1m-32 1h1m8 0h1m1 0h1m5 0h1m1 0h1m10 0h2m-25 1h1m4 0h1m2 0h1m1 0h1m9 0h1m7 0h1m7 0h1m6 0h1m-45 1h2m18 0h1m3 0h1m4 0h3m4 0h1m2 0h1m-49 1h1m30 0h1m11 0h1m4 0h1m1 0h1m-43 1h1m28 0h1m2 0h1m-42 1h1m37 0h2m10 0h1m-42 1h1m23 0h1m12 0h1m-13 1h1m10 0h1m-53 1h1m12 0h1m2 0h1m22 0h1m2 0h1m-40 1h1m5 0h1m16 0h1m15 0h1m-44 1h1m1 0h1m2 0h1m4 0h1m5 0h2m3 0h1m1 0h1m-9 1h1m1 0h1m1 0h1m7 0h1m-27 1h1m6 0h1m3 0h1m52 0h1m-67 1h1m1 0h1m5 0h1m58 0h1m-68 1h1m4 0h1m13 0h1m5 0h2m-27 1h1m23 0h2m1 0h1m-15 1h2m4 0h2m-17 1h1m1 0h2m-9 1h1m7 0h1m1 0h1m6 0h1m-24 1h1m11 0h1m8 0h2m-20 1h1m2 0h1m-10 1h1m1 0h1m25 0h1m-30 1h2m7 0h1m5 0h1m7 0h1m48 0h1m-72 1h1m1 0h1m4 0h1m1 0h1m6 0h1m-19 1h1m3 0h1m1 0h2m3 0h1m14 0h1m-29 1h1m22 0h1m2 0h1m45 0h1m-70 1h1m6 0h1m5 0h1m-14 1h1m1 0h1m7 0h1m-11 2h1m4 0h1m8 0h1m2 0h1m-26 1h1m15 0h1m9 0h1m-27 1h1m7 0h1m5 0h1m10 0h1m1 0h1m-26 1h1m16 0h1m2 0h1m4 0h1m-12 1h1m5 0h1m4 0h1m2 0h1m-17 1h1m14 0h1m1 0h1m-38 1h1m32 0h3m9 0h1m55 0h1m-99 1h1m8 0h1m10 0h1m2 0h2m2 0h2m-31 1h1m10 0h1m76 0h1m4 0h1m9 0h1m2 0h1m-98 1h1m9 0h1m2 0h1m2 0h1m11 0h1m2 0h1m52 0h1m1 0h1m4 0h1m-95 1h1m9 0h1m10 0h1m7 0h1m54 0h1m12 0h1m-94 1h1m2 0h1m11 0h1m18 0h1m48 0h1m1 0h1m-99 1h1m9 0h1m10 0h1m7 0h2m4 0h1m1 0h1m9 0h1m2 0h1m46 0h1m-99 1h1m25 0h1m12 0h1m49 0h1m14 0h1m-99 1h1m14 0h1m17 0h1m59 0h1m7 0h1m-101 1h1m14 0h1m7 0h1m2 0h1m2 0h1m2 0h1m15 0h1m35 0h1m9 0h1m-94 1h1m10 0h2m2 0h1m1 0h1m11 0h2m66 0h1m-91 1h1m6 0h1m-10 1h1m14 0h1m6 0h2m63 0h1m-92 1h2m18 0h2m3 0h1m-25 1h1m14 0h1m6 0h1m59 0h1m7 0h1m-95 1h1m17 0h1m5 0h1m1 0h1m3 0h1m10 0h1m51 0h1m-96 1h1m1 0h2m2 0h1m7 0h2m11 0h2m20 0h1m40 0h2m-77 1h1m3 0h1m5 0h1m2 0h1m-22 1h1m1 0h1m2 0h1m4 0h1m22 0h2m-116 1h3m19 0h1m55 0h1m9 0h1m1 0h1m-21 1h1m10 0h1m2 0h1m6 0h1m-85 1h1m1 0h1m6 0h1m59 0h1m11 0h1m-16 1h1m17 0h1m3 0h1m1 0h1m-15 1h1m3 0h1m5 0h2m1 0h1m-22 1h1m9 0h1m3 0h1m2 0h1m-16 1h1m9 0h1m1 0h1m-23 1h1m26 0h1m-13 1h2m8 0h1m1 0h1m-29 1h1m2 0h1m8 0h2m7 0h1m3 0h2m-23 1h1m6 0h3m5 0h1m4 0h1m2 0h1m-15 1h1m18 0h1m-36 1h1m35 0h1m-8 1h1m5 0h1m-21 1h1m-1 1h1m8 0h1m1 0h2m5 0h1m-15 2h1m7 0h1m5 0h1m2 0h1m-16 1h1m3 0h1m7 0h1m-7 1h1m6 0h1m-92 1h1m77 0h1m-5 1h1m8 0h1m2 0h1m2 0h1m5 0h1m-20 1h1m5 0h1m2 0h1m6 0h1m-51 1h1m31 0h1m7 0h1m2 0h1m-39 1h1m29 0h1m4 0h1m46 0h2m9 0h1m-113 1h2m48 0h1m34 0h1m11 0h1m-105 1h1m40 0h1m12 0h1m5 0h1m3 0h1m2 0h1m2 0h1m-38 1h1m1 1h1m1 0h1m26 0h1m8 0h1m35 0h1m-58 1h1m21 0h1m18 0h1m-23 1h1m34 0h1m-116 1h1m9 0h1m30 0h1m19 0h1m7 0h1m12 0h1m-96 1h1m12 0h1m81 0h1m-68 1h1m37 0h1m3 0h2m9 0h1m9 0h1m3 0h1m-85 1h1m49 0h1m4 0h1m25 0h1m17 0h1m7 0h1m-111 1h2m15 0h1m7 0h1m28 0h1m10 0h1m-68 1h2m33 0h1m11 0h2m10 0h1m5 0h1m1 0h1m17 0h1m20 0h1m-97 1h1m9 0h1m14 0h1m17 0h1m2 0h2m2 0h1m4 0h1m1 0h1m9 0h1m28 0h1m-97 1h1m16 0h1m22 0h1m7 0h2m5 0h1m12 0h1m6 0h1m5 0h1m13 0h1m22 0h1m-107 1h1m25 0h1m9 0h1m1 0h1m6 0h1m10 0h1m-78 1h1m8 0h1m10 0h2m26 0h1m1 0h2m22 0h1m10 0h1m-80 1h1m18 0h1m23 0h1m10 0h1m23 0h1m-83 1h1m8 0h1m35 0h1m3 0h1m6 0h1m2 0h1m25 0h1m-88 1h1m51 0h1m1 0h1m-57 1h2m47 0h1m3 0h2m31 0h2m-81 1h1m5 0h1m17 0h1m2 0h1m37 0h1m8 0h1m1 0h3m25 0h1m-108 1h1m23 0h1m61 0h1m5 0h1m-98 1h1m13 0h1m11 0h1m3 0h1m-22 1h1m4 0h2m15 0h4m50 0h1m2 0h1m2 0h1m4 0h1m-99 1h1m2 0h1m2 0h2m10 0h1m54 0h1m23 0h1m10 0h1m-108 1h1m88 0h1m1 0h1m-24 1h1m41 0h1m-106 1h1m41 0h1m2 0h1m29 0h1m9 0h1m1 0h1m5 0h1m4 0h1m-86 1h1m11 0h1m36 0h1m1 0h1m10 0h1m-77 1h1m39 0h1m18 0h1m1 0h1m3 0h1m-32 1h1m3 0h1m23 0h1m-64 1h1m1 0h1m13 0h1m18 0h1m3 0h1m30 0h1m16 0h1m-71 1h1m16 0h1m5 0h1m1 0h1m1 0h1m11 0h1m11 0h1m19 0h1m-61 1h1m9 0h3m13 0h1m8 0h1m3 0h1m5 0h1m1 0h2m2 0h1m-56 1h1m13 0h1m14 0h1m3 0h2m10 0h1m8 0h1m3 0h1m-49 1h1m2 0h1m13 0h2m6 0h2m4 0h1m1 0h2m-47 1h1m1 0h1m16 0h2m12 0h1m-26 1h1m9 1h1m-17 4h1m-7 1h1m-1 1h1m-1 1h1"/>
<path stroke="#95D840" d="M163 9h1m23 2h1m-30 1h1m-6 1h3m-4 1h2m-5 2h1m11 0h1m18 0h1m1 0h1m-17 1h1m7 0h1m-17 1h1m-16 3h1m16 0h1m21 0h1m-22 1h1m19 1h1m-11 1h2m1 0h1m-37 1h1m25 0h1m21 0h1m-41 1h1m5 0h1m-8 1h1m24 0h2m11 0h2m-49 1h1m5 0h1m5 0h1m10 0h1m-15 1h1m4 0h2m1 0h2m2 0h1m9 0h1m2 0h1m-29 1h1m10 0h3m1 0h1m8 0h3m1 0h1m-12 1h1m-11 1h2m2 0h1m1 0h1m24 0h1m-41 1h1m9 0h1m12 0h1m5 0h1m7 0h2m-20 1h1m12 0h1m1 0h1m1 0h1m1 0h1m-36 1h1m18 0h1m3 0h1m11 0h1m3 0h1m-42 1h1m17 0h1m10 0h1m6 0h1m-37 1h1m35 0h1m3 0h1m7 0h1m-63 1h1m31 0h1m-20 1h1m18 0h1m14 0h1m-15 1h1m7 0h2m4 0h1m-50 1h1m40 0h1m-44 1h1m23 0h1m16 0h1m1 0h1m-37 1h1m13 0h1m5 0h1m-21 1h1m2 0h1m4 0h1m6 0h1m1 0h1m-26 1h1m9 0h1m11 0h1m-9 1h1m6 0h1m5 0h1m-12 1h1m4 0h1m4 0h1m-17 1h1m62 0h1m-67 1h1m2 0h1m12 0h1m2 0h1m-23 1h1m2 0h2m6 0h1m-17 1h1m1 0h1m3 0h1m11 0h1m-30 1h1m9 0h1m12 0h1m-4 1h1m5 0h1m43 0h1m2 0h1m-72 1h1m13 0h1m1 0h1m9 0h1m38 0h1m-43 1h1m1 0h1m-16 1h2m9 0h1m5 0h1m40 0h1m-64 1h1m3 0h2m2 0h1m2 0h1m2 0h1m47 0h1m-72 1h1m2 0h1m11 0h1m57 0h1m-61 1h1m8 0h1m2 0h1m-26 1h1m12 0h1m11 0h1m-14 1h2m7 0h1m-30 1h1m3 0h1m14 0h1m3 0h1m9 0h1m-35 1h2m10 0h1m5 0h1m4 0h1m13 0h1m1 0h1m-28 1h2m10 0h1m8 1h1m4 1h1m61 0h2m-76 1h1m13 0h1m60 0h2m-86 1h1m6 0h1m3 0h1m14 0h1m-46 1h1m2 0h1m9 0h1m2 0h1m6 0h2m2 0h1m6 0h1m1 0h2m2 0h1m-40 1h1m5 0h2m11 0h1m8 0h1m1 0h1m4 0h1m4 0h2m-42 1h1m13 0h1m8 0h1m7 0h3m1 0h1m5 0h1m51 0h1m8 0h1m-101 1h1m16 0h1m8 0h1m8 0h1m1 0h1m57 0h1m1 0h1m-95 1h1m9 0h1m1 0h1m7 0h1m8 0h3m7 0h1m40 0h1m5 0h1m3 0h1m2 0h1m-87 1h1m5 0h1m1 0h2m15 0h1m4 0h1m2 0h1m41 0h1m7 0h1m4 0h1m-84 1h1m5 0h1m2 0h1m6 0h1m6 0h1m3 0h1m43 0h1m11 0h1m-104 1h1m19 0h1m15 0h1m1 0h1m6 0h1m52 0h1m3 0h1m-103 1h1m17 0h1m13 0h1m-13 1h1m8 0h1m71 0h1m-80 1h1m4 0h1m4 0h1m56 0h1m7 0h1m2 0h1m2 0h1m-94 1h1m10 0h1m7 0h2m4 0h1m16 0h1m-58 1h1m15 0h2m10 0h1m22 0h2m7 0h1m33 0h1m-88 1h1m4 0h1m12 0h3m2 0h1m1 0h1m4 0h1m61 0h1m-74 1h1m1 0h1m12 0h1m10 0h1m44 0h1m-116 1h1m43 0h1m2 0h1m7 0h2m18 0h1m42 0h1m-74 1h1m69 0h1m-114 1h1m25 0h1m23 0h1m1 0h1m9 0h1m-14 1h1m11 0h1m-36 1h1m9 0h1m4 0h1m-38 1h1m13 0h1m3 0h1m20 0h1m-40 1h1m42 0h1m-13 1h1m4 0h2m2 0h1m-39 1h1m13 0h1m1 0h2m20 0h2m2 0h1m-14 1h1m4 0h1m-17 1h1m1 0h2m14 0h1m2 0h1m-16 1h1m6 0h1m-29 1h1m27 0h1m-28 1h1m25 0h3m4 0h1m6 0h1m-40 1h1m28 0h1m3 0h1m-15 1h1m2 0h1m4 0h1m5 0h1m-17 1h1m1 0h2m12 0h1m-12 1h1m1 0h1m6 0h1m-15 1h1m8 0h1m2 0h1m-90 1h1m82 0h1m12 0h1m-19 1h1m14 0h1m-7 1h2m10 0h1m-15 2h1m1 0h1m3 0h1m-89 1h1m73 0h1m16 0h1m3 0h1m-22 1h1m9 0h1m-85 1h1m63 0h1m27 0h1m-68 1h1m41 0h1m9 0h1m-29 1h1m14 0h1m9 0h1m70 0h1m-121 1h1m28 0h1m25 0h1m4 0h1m27 0h1m4 0h1m21 0h1m-82 1h1m33 0h1m1 0h1m33 0h1m-74 1h1m14 0h1m13 0h1m2 0h1m44 0h1m-76 1h1m30 0h2m25 0h1m9 0h1m-107 1h1m71 0h1m22 0h1m17 0h1m-119 1h1m6 0h1m68 0h1m4 0h2m44 0h1m-120 1h1m33 0h1m32 0h1m41 0h2m-109 1h1m1 0h1m18 0h1m8 0h1m37 0h2m1 0h1m23 0h1m3 0h1m2 0h1m4 0h1m7 0h1m-134 1h1m1 0h1m14 0h1m3 0h1m4 0h1m11 0h1m9 0h1m7 0h1m8 0h1m17 0h1m22 0h1m6 0h1m-108 1h2m40 0h1m16 0h1m18 0h1m27 0h1m2 0h1m11 0h1m-24 1h1m6 0h1m-116 1h2m2 0h1m1 0h1m4 0h1m12 0h3m35 0h1m24 0h1m43 0h1m3 0h1m-130 1h1m5 0h1m12 0h3m21 0h1m16 0h1m13 0h1m1 0h3m-62 1h1m4 0h1m27 0h1m5 0h1m12 0h1m6 0h1m1 0h1m21 0h1m13 0h1m8 0h1m-102 1h1m35 0h1m42 0h1m6 0h1m3 0h1m4 0h1m-115 1h1m3 0h2m12 0h2m25 0h1m7 0h2m19 0h1m2 0h1m-62 1h2m1 0h1m18 0h1m10 0h1m20 0h2m1 0h1m1 0h1m3 0h1m16 0h1m3 0h1m-109 1h1m11 0h1m13 0h1m1 0h1m21 0h1m9 0h1m17 0h1m7 0h1m27 0h1m-110 1h1m68 0h1m4 0h1m1 0h2m6 0h1m14 0h1m10 0h1m-111 1h1m3 0h1m18 0h1m50 0h1m1 0h1m7 0h1m15 0h1m2 0h1m-97 1h2m12 0h1m4 0h1m49 0h2m1 0h2m4 0h1m19 0h1m-110 1h1m5 0h2m20 0h1m50 0h1m2 0h1m2 0h1m-83 1h1m6 0h1m1 0h1m72 0h1m6 0h1m4 0h1m6 0h1m-100 1h1m62 0h1m19 0h1m1 0h1m5 0h1m4 0h1m2 0h1m-106 1h1m29 0h1m49 0h1m10 0h1m19 0h1m-101 1h1m2 0h1m53 0h1m8 0h1m-75 1h1m22 0h1m2 0h1m37 0h1m13 0h1m3 0h1m1 0h2m1 0h1m5 0h1m1 0h1m-97 1h2m1 0h1m5 0h1m4 0h1m33 0h1m30 0h1m5 0h2m2 0h1m5 0h2m2 0h1m-96 1h2m14 0h1m2 0h1m30 0h1m3 0h1m5 0h1m18 0h1m2 0h1m1 0h1m-88 1h1m3 0h1m2 0h1m19 0h1m11 0h1m28 0h1m7 0h1m-77 1h1m6 0h1m12 0h1m2 0h1m4 0h2m12 0h1m30 0h1m7 0h1m-77 1h1m2 0h1m6 0h1m13 0h1m24 0h1m6 0h1m8 0h1m1 0h1m2 0h1m3 0h1m-64 1h1m7 0h1m7 0h1m9 0h1m8 0h1m3 0h1m26 0h1m1 0h1m-66 1h1m14 0h1m1 0h1m2 0h1m27 0h1m8 0h1m1 0h1m5 0h1m-66 1h2m2 0h2m6 0h1m45 0h1m6 0h1m-63 1h1m1 0h1m28 0h1m11 0h1m17 0h1m-64 1h1m4 0h1m4 0h1m3 0h1m4 0h1m1 0h1m-6 1h1m-15 2h1m-7 1h1m4 0h1m2 1h1m-5 1h1m-1 1h1m-2 1h1"/>
<path stroke="#B5DE2B" d="M168 8h1m-7 1h1m23 1h1m-36 4h1m9 1h1m4 0h1m-8 2h1m7 0h1m7 0h1m5 1h1m-22 1h1m11 0h1m5 0h1m-34 1h1m35 1h1m-8 1h2m7 1h1m-46 1h1m39 1h1m1 1h1m-37 1h1m14 0h1m2 0h1m5 0h1m8 0h1m2 0h1m1 0h1m2 0h1m-41 1h1m11 0h1m10 0h1m3 0h1m7 0h1m-45 1h1m7 0h1m7 0h1m3 0h1m1 0h2m1 0h1m-17 1h1m4 0h2m7 0h1m2 0h1m1 0h1m-10 1h1m8 0h3m-28 1h1m24 0h1m12 0h1m-29 1h1m5 0h1m19 0h2m-29 1h1m9 0h1m4 0h1m1 0h1m2 0h1m1 0h1m4 0h1m5 0h1m-38 1h1m2 0h1m5 0h1m2 0h1m6 0h1m4 0h1m3 0h2m3 0h1m-22 1h1m11 0h1m14 0h1m4 0h1m-49 1h1m1 0h1m15 0h2m-19 1h1m24 0h1m-19 1h2m23 0h1m5 0h1m-55 1h1m22 0h1m1 0h1m14 0h2m23 0h1m-47 1h2m3 0h2m20 0h1m7 0h1m-36 1h2m16 0h2m-18 1h2m1 0h1m-27 1h2m10 0h1m4 0h1m1 0h1m-14 1h1m17 0h1m-23 1h1m9 0h1m3 0h1m10 1h1m39 0h1m2 0h1m-61 1h1m3 0h1m3 0h3m5 0h1m-8 1h1m3 0h1m0 1h1m-24 1h2m-11 1h1m12 0h2m51 0h1m-71 1h1m9 0h1m6 0h2m2 0h1m48 0h2m2 0h1m-62 1h1m7 0h1m50 0h1m1 0h1m-65 1h1m2 0h1m58 0h1m-67 1h1m6 0h1m7 0h1m1 0h1m48 0h1m1 0h1m-68 1h2m10 0h1m47 0h1m5 0h1m-61 1h1m7 0h1m2 0h1m2 0h1m-28 1h1m13 0h1m8 0h1m-12 1h1m4 0h1m8 0h1m43 0h1m-75 1h1m2 0h1m25 0h1m44 0h1m-56 1h1m-26 1h1m2 0h1m16 0h1m3 0h1m6 0h1m-28 1h1m19 0h1m5 0h1m7 0h1m-40 1h1m15 0h1m5 0h1m3 0h1m1 0h1m2 0h1m3 0h1m7 0h1m56 0h1m-90 1h1m8 0h1m2 0h1m1 0h1m7 0h1m2 0h1m3 0h1m2 0h2m39 0h1m-53 1h1m7 0h2m1 0h1m40 0h1m-67 1h1m1 0h1m3 0h1m14 0h1m61 0h1m-88 1h1m10 0h1m13 0h1m58 0h1m1 0h1m2 0h1m-70 1h1m1 0h1m60 0h3m-62 1h1m1 0h1m4 0h1m48 0h1m1 0h1m1 0h1m-81 1h2m14 0h1m7 0h1m42 0h1m5 0h2m-88 1h1m2 0h1m8 0h2m18 0h1m5 0h1m1 0h1m39 0h1m14 0h1m-93 1h1m3 0h3m7 0h1m10 0h1m5 0h1m-45 1h1m15 0h1m5 0h1m2 0h1m1 0h1m4 0h1m1 0h1m3 0h1m2 0h1m2 0h1m4 0h1m38 0h1m10 0h1m-74 1h1m8 0h1m5 0h1m2 0h1m5 0h1m41 0h1m3 0h1m4 0h1m-80 1h1m1 0h1m4 0h1m6 0h1m12 0h1m44 0h2m6 0h1m-98 1h1m26 0h1m5 0h1m4 0h1m5 0h1m5 0h1m33 0h1m1 0h1m3 0h1m2 0h1m-81 1h1m11 0h1m5 0h1m11 0h1m-42 1h1m4 0h1m6 0h1m2 0h1m5 0h1m17 0h1m1 0h1m6 0h1m40 0h1m3 0h2m-92 1h1m5 0h1m9 0h1m8 0h1m9 0h1m4 0h1m40 0h1m4 0h1m-63 1h1m5 0h1m1 0h1m2 0h1m1 0h1m43 0h1m5 0h1m-93 1h1m21 0h1m9 0h1m52 0h2m2 0h1m-76 1h2m7 0h1m5 0h2m4 0h1m12 0h1m42 0h1m1 0h1m-92 1h1m24 0h1m9 0h1m1 0h1m-25 1h1m1 0h1m4 0h2m1 0h1m1 0h1m-14 1h1m1 0h1m2 0h1m1 0h1m3 0h1m60 0h1m-75 1h1m3 0h1m5 0h1m-4 1h1m-23 1h1m25 0h1m-45 1h1m15 0h1m3 0h1m11 0h1m9 0h1m-29 1h1m1 0h1m18 0h1m-89 1h1m65 0h1m20 0h1m1 0h1m1 0h3m-2 1h1m4 0h1m-12 1h1m3 0h1m1 0h2m3 0h1m-21 1h1m2 0h1m18 0h1m-38 1h1m29 0h1m-32 1h1m23 0h1m8 0h1m3 0h2m-27 1h1m1 0h1m1 0h1m1 0h1m7 0h1m6 0h1m3 0h1m-11 2h2m2 0h1m3 0h1m-18 1h1m1 0h1m13 0h1m-8 1h1m1 1h2m3 0h1m1 0h1m-6 1h1m1 0h1m-10 1h1m3 0h1m2 0h2m-7 1h1m3 0h2m1 0h1m50 0h1m-63 1h1m6 0h1m51 0h1m-63 1h1m3 0h1m6 0h2m1 0h1m16 0h1m27 0h1m5 0h1m-59 1h1m5 0h1m4 0h1m32 0h1m3 0h1m8 0h1m-74 1h1m9 0h1m1 0h1m6 0h1m5 0h1m1 0h1m19 0h1m9 0h1m8 0h1m3 0h1m3 0h1m-67 1h1m7 0h1m5 0h1m30 0h1m5 0h1m1 0h2m4 0h1m3 0h1m2 0h1m-57 1h1m2 0h2m27 0h1m3 0h2m4 0h1m13 0h2m-57 1h1m3 0h1m1 0h1m14 0h1m2 0h1m2 0h1m1 0h1m12 0h4m-79 1h1m31 0h1m3 0h1m1 0h1m22 0h1m8 0h2m-75 1h1m32 0h2m5 0h1m27 0h1m6 0h1m4 0h1m-115 1h1m54 0h1m14 0h1m27 0h1m14 0h2m-119 1h1m6 0h1m67 0h2m21 0h1m5 0h1m14 0h1m-20 1h1m2 0h1m13 0h1m2 0h1m-121 1h1m11 0h1m65 0h1m35 0h2m-116 1h1m47 0h1m2 0h1m5 0h1m10 0h1m10 0h2m14 0h1m1 0h1m21 0h1m2 0h1m-127 1h1m46 0h1m24 0h1m6 0h1m2 0h3m19 0h1m23 0h1m-127 1h1m1 0h2m12 0h1m81 0h1m4 0h1m7 0h1m8 0h1m2 0h2m1 0h2m-52 1h1m4 0h3m20 0h1m11 0h1m-117 1h1m77 0h1m44 0h1m-131 1h1m9 0h2m12 0h1m38 0h1m24 0h2m13 0h1m19 0h1m4 0h1m1 0h1m-132 1h1m84 0h1m3 0h1m20 0h1m5 0h1m-63 1h1m70 0h2m-121 1h1m41 0h1m7 0h1m23 0h1m5 0h1m2 0h1m11 0h1m7 0h2m4 0h1m2 0h1m-110 1h1m15 0h1m1 0h1m21 0h1m3 0h1m25 0h3m7 0h1m13 0h1m4 0h1m6 0h1m-103 1h1m15 0h1m22 0h1m24 0h1m7 0h1m10 0h1m9 0h1m16 0h2m-114 1h1m1 0h1m15 0h1m64 0h1m12 0h1m10 0h1m-116 1h1m6 0h1m3 0h1m72 0h1m1 0h1m2 0h2m14 0h1m-100 1h1m21 0h1m56 0h1m4 0h1m10 0h1m-105 1h1m2 0h1m6 0h1m81 0h1m1 0h1m2 0h1m23 0h1m-125 1h1m4 0h1m28 0h1m62 0h1m12 0h1m3 0h1m-102 1h1m65 0h1m16 0h1m15 0h1m-108 1h1m12 0h1m76 0h2m-95 1h2m1 0h1m3 0h1m1 0h1m7 0h1m-11 1h5m3 0h1m34 0h1m7 0h1m22 0h1m14 0h1m-95 1h1m2 0h1m7 0h1m28 0h1m10 0h1m6 0h1m26 0h1m-72 1h1m1 0h2m4 0h1m14 0h1m24 0h1m21 0h1m-58 1h1m4 0h1m13 0h1m10 0h1m9 0h1m19 0h1m-83 1h1m5 0h1m7 0h1m9 0h1m2 0h1m5 0h1m9 0h1m2 0h1m8 0h1m3 0h1m22 0h2m-37 1h1m5 0h1m2 0h2m2 0h3m4 0h1m2 0h1m9 0h1m-67 1h1m3 0h1m20 0h1m10 0h1m5 0h2m2 0h1m9 0h1m5 0h1m5 0h1m-65 1h1m5 0h1m16 0h1m10 0h1m6 0h2m4 0h2m2 0h1m8 0h1m-63 1h1m10 0h1m20 0h2m13 0h4m6 0h1m4 0h1m-55 1h1m10 0h1m-10 1h1m3 0h1m-14 3h1m1 0h1m-7 1h1m-1 1h1m5 0h2m-9 1h1m3 0h1m2 0h1m-7 1h1"/>
<path stroke="#D2E21B" d="M165 16h1m5 0h1m9 0h1m-7 2h1m-17 2h1m14 0h1m2 0h1m-4 1h1m7 1h1m-43 1h1m20 0h1m10 0h1m2 0h1m4 0h1m-5 1h1m-6 1h1m9 0h1m-10 1h2m4 0h2m1 0h1m4 0h1m-51 1h1m19 0h1m16 0h1m5 0h1m1 0h1m4 0h1m-41 1h1m2 0h1m1 0h1m1 0h1m2 0h1m1 0h1m4 0h1m9 0h1m-27 1h3m10 0h1m10 0h1m7 0h1m-39 1h1m2 0h1m16 0h1m16 0h2m-34 1h1m16 0h1m5 0h1m2 0h1m-21 1h1m13 0h2m-22 1h1m1 0h1m3 0h1m17 0h1m-28 1h1m1 0h1m1 0h1m5 0h1m10 0h1m8 0h1m8 0h2m-27 1h1m1 0h1m-9 1h1m8 0h1m12 0h1m8 0h1m0 1h1m-42 1h1m15 0h1m1 0h1m15 0h1m4 0h1m-41 1h1m9 0h1m28 0h1m1 0h1m-42 1h1m4 0h1m20 0h1m2 0h4m2 0h2m1 0h1m-37 1h1m7 0h1m15 0h1m6 0h3m-27 1h2m-15 1h1m2 0h1m28 0h1m16 0h2m-63 1h1m6 0h1m1 0h1m9 0h1m-21 1h1m15 0h2m6 0h1m3 0h1m-12 1h1m4 0h1m1 0h1m1 0h1m-29 1h1m2 0h1m19 0h1m43 0h1m4 0h1m-51 1h1m14 0h1m-30 1h2m7 0h1m3 0h1m3 0h1m49 0h1m-77 1h1m9 0h1m9 0h1m46 0h1m-74 1h1m1 0h1m1 0h1m9 0h1m1 0h1m3 0h1m47 0h1m-66 1h1m4 0h1m3 0h1m9 0h1m42 0h1m1 0h1m1 0h1m-73 1h1m22 0h1m41 0h1m1 0h1m-65 1h1m6 0h1m2 0h1m3 0h1m18 0h1m30 0h2m-58 1h1m12 0h1m1 0h1m39 0h1m1 0h1m5 0h1m-66 1h1m6 0h1m9 0h1m38 0h1m1 0h1m-43 1h1m-29 1h1m8 0h1m9 0h1m8 0h1m-30 1h2m16 0h2m50 0h2m-69 1h1m10 0h1m2 0h1m8 0h2m2 0h1m43 0h1m-71 1h1m9 0h1m2 0h1m1 0h2m4 0h2m45 0h1m1 0h1m-81 1h1m19 0h1m2 0h1m8 0h1m2 0h1m1 0h2m-21 1h1m9 0h1m-32 1h1m17 0h1m8 0h1m6 0h1m4 0h1m4 0h1m34 0h1m-68 1h1m13 0h1m16 0h1m1 0h1m52 0h1m-77 1h1m6 0h1m1 0h1m19 0h1m46 0h1m4 0h1m-84 1h1m2 0h1m4 0h1m1 0h1m8 0h1m3 0h1m8 0h1m2 0h1m42 0h1m4 0h1m-82 1h1m13 0h1m2 0h1m7 0h1m3 0h1m35 0h1m12 0h1m3 0h1m-75 1h1m8 0h1m1 0h1m43 0h1m2 0h1m-67 1h1m1 0h3m5 0h1m12 0h1m1 0h1m39 0h1m2 0h1m-43 1h1m36 0h3m15 0h1m-97 1h2m3 0h1m21 0h1m2 0h1m1 0h1m2 0h1m4 0h2m-48 1h1m13 0h1m9 0h1m10 0h1m4 0h1m45 0h1m4 0h1m10 0h1m-108 1h1m10 0h1m23 0h1m1 0h1m3 0h1m1 0h1m3 0h1m2 0h1m-30 1h1m20 0h1m2 0h1m5 0h1m52 0h1m-106 1h1m21 0h1m1 0h1m3 0h1m18 0h4m4 0h1m36 0h1m3 0h1m7 0h1m-105 1h1m1 0h1m12 0h1m4 0h1m15 0h1m6 0h2m6 0h1m1 0h1m47 0h2m2 0h1m-86 1h1m5 0h1m1 0h2m1 0h1m2 0h1m3 0h1m6 0h1m6 0h1m1 0h1m33 0h1m2 0h1m-89 1h1m16 0h1m1 0h1m2 0h1m15 0h2m11 0h1m41 0h1m3 0h1m1 0h1m-66 1h2m1 0h1m5 0h1m3 0h1m3 0h1m35 0h1m-66 1h1m9 0h1m1 0h1m1 0h2m1 0h1m2 0h1m8 0h1m34 0h1m3 0h1m2 0h1m-77 1h1m6 0h1m1 0h1m6 0h1m12 0h1m1 0h3m35 0h1m4 0h1m2 0h1m-66 1h1m1 0h1m1 0h1m3 0h2m1 0h1m1 0h1m3 0h1m2 0h2m40 0h1m1 0h2m-66 1h1m6 0h2m3 0h2m3 0h1m-29 1h1m10 0h1m3 0h1m1 0h1m3 0h1m8 0h1m1 0h1m33 0h1m2 0h1m8 0h1m-92 1h1m2 0h1m38 0h1m40 0h1m6 0h2m1 0h1m-84 1h1m14 0h2m13 0h1m1 0h1m38 0h1m-63 1h1m2 0h1m1 0h1m1 0h1m4 0h1m3 0h2m4 0h1m-20 1h1m17 0h1m31 0h1m-41 1h1m-37 1h1m9 0h1m13 0h1m15 0h1m-23 1h1m4 0h1m2 0h1m1 0h1m-47 1h1m10 0h1m1 0h1m27 0h2m4 0h1m46 0h1m-83 1h1m17 0h2m1 0h1m6 0h2m-22 1h1m20 0h1m4 0h1m-14 1h1m6 0h2m4 0h1m6 0h1m44 0h1m-84 1h1m23 0h1m12 0h1m54 0h1m-66 1h1m-4 1h1m1 0h1m1 1h1m-12 1h1m6 0h3m-2 1h1m1 0h1m8 0h1m-27 1h2m4 0h1m7 0h2m1 0h1m1 0h1m-5 1h1m3 0h1m-10 1h1m5 0h1m49 0h1m-49 1h1m44 0h1m1 0h2m-53 1h1m34 0h1m4 0h1m7 0h1m10 0h1m-25 1h1m4 0h1m11 0h1m-34 1h1m17 0h1m1 0h1m13 0h1m-66 1h1m10 0h1m2 0h1m1 0h1m15 0h2m10 0h1m15 0h1m1 0h1m1 0h1m1 0h1m-66 1h1m5 0h1m3 0h1m7 0h1m16 0h1m1 0h1m5 0h2m8 0h1m2 0h1m1 0h1m-61 1h1m2 0h1m4 0h2m1 0h1m7 0h1m13 0h1m11 0h3m1 0h1m1 0h1m7 0h1m1 0h1m-47 1h1m2 0h1m12 0h1m7 0h1m12 0h1m-42 1h1m1 0h1m22 0h1m1 0h1m1 0h1m5 0h1m9 0h1m3 0h1m3 0h2m2 0h1m-58 1h2m1 0h1m19 0h4m2 0h1m10 0h1m-74 1h1m37 0h1m19 0h1m10 0h1m5 0h1m2 0h2m-53 1h1m3 0h1m3 0h1m4 0h2m15 0h2m10 0h1m1 0h1m12 0h1m-64 1h1m16 0h1m18 0h1m1 0h1m4 0h1m4 0h1m8 0h1m8 0h1m-129 1h1m66 0h1m14 0h1m11 0h2m8 0h1m7 0h1m7 0h1m1 0h1m2 0h1m-59 1h1m25 0h1m2 0h2m1 0h1m4 0h1m1 0h3m2 0h1m11 0h2m-130 1h1m14 0h1m48 0h1m16 0h1m4 0h1m10 0h2m3 0h1m4 0h1m4 0h1m1 0h1m9 0h1m-129 1h1m5 0h1m14 0h1m84 0h1m5 0h1m11 0h1m5 0h1m3 0h2m-134 1h1m2 0h1m15 0h1m62 0h1m4 0h1m10 0h2m1 0h1m4 0h1m1 0h2m4 0h1m3 0h1m6 0h1m3 0h1m-130 1h1m1 0h1m2 0h1m82 0h1m20 0h3m2 0h1m2 0h1m10 0h2m-133 1h1m66 0h1m44 0h1m5 0h1m2 0h1m6 0h1m-128 1h1m7 0h1m15 0h1m61 0h1m27 0h1m3 0h1m1 0h1m-122 1h1m11 0h1m12 0h1m60 0h1m30 0h1m1 0h1m4 0h1m1 0h1m1 0h1m-124 1h2m3 0h1m76 0h1m11 0h1m1 0h2m2 0h1m8 0h1m1 0h1m-114 1h1m3 0h1m3 0h1m40 0h1m34 0h1m2 0h1m14 0h1m9 0h1m4 0h1m1 0h1m-120 1h1m1 0h1m6 0h1m37 0h2m3 0h1m28 0h1m2 0h1m1 0h2m3 0h1m6 0h1m2 0h1m7 0h1m2 0h1m5 0h1m-112 1h2m14 0h2m24 0h1m24 0h1m4 0h2m6 0h1m1 0h1m-94 1h1m30 0h1m59 0h2m16 0h3m3 0h2m2 0h1m-111 1h1m1 0h1m18 0h1m64 0h1m4 0h1m2 0h1m1 0h1m6 0h1m-103 1h1m4 0h1m17 0h1m57 0h1m4 0h1m6 0h1m3 0h2m8 0h1m3 0h2m-94 1h1m77 0h1m-112 1h1m2 0h1m12 0h1m1 0h2m88 0h1m5 0h1m1 0h2m4 0h1m-115 1h1m11 0h1m75 0h1m10 0h1m2 0h3m1 0h1m-105 1h1m84 0h1m11 0h1m1 0h1m-108 1h1m10 0h1m1 0h1m1 0h1m78 0h2m14 0h2m-112 1h1m19 0h1m25 0h1m2 0h2m18 0h1m14 0h2m5 0h1m19 0h1m2 0h1m-96 1h2m2 0h1m22 0h1m33 0h1m28 0h1m-103 1h1m2 0h2m14 0h2m3 0h1m16 0h1m41 0h1m2 0h1m-83 1h1m1 0h1m1 0h1m11 0h1m3 0h1m8 0h3m11 0h1m10 0h1m23 0h1m2 0h1m-88 1h1m3 0h1m1 0h1m4 0h1m2 0h1m3 0h1m9 0h1m22 0h1m1 0h1m5 0h1m6 0h1m1 0h1m11 0h1m2 0h2m4 0h1m-84 1h2m36 0h1m4 0h1m7 0h1m10 0h2m1 0h1m9 0h1m4 0h1m1 0h1m-90 1h1m24 0h1m23 0h3m3 0h1m10 0h1m4 0h1m4 0h1m11 0h1m-71 1h1m10 0h1m16 0h1m3 0h1m35 0h1m1 0h1m-70 1h1m15 0h1m9 0h1m4 0h1m8 0h1m1 0h2m1 0h1m9 0h1m11 0h1m-67 1h1m2 0h1m3 0h1m1 0h1m33 0h1m1 0h1m-28 1h1m-1 1h1m-23 1h1m7 0h1m-9 1h1m-2 2h2m3 0h1m0 2h1m-5 1h1m1 0h1"/>
<path stroke="#E5E419" d="M187 10h1m-38 5h1m25 1h1m2 0h1m0 1h1m-7 2h2m5 0h1m-7 1h1m2 0h1m1 0h2m-6 1h3m-2 1h1m1 0h1m-7 1h1m-1 1h1m4 0h3m1 0h1m2 0h1m-10 1h2m1 0h2m1 0h1m-6 1h1m6 0h1m-13 1h1m1 0h1m3 0h1m-29 1h1m9 0h3m3 0h1m7 0h2m2 0h2m-34 1h1m16 0h1m10 0h1m-4 1h1m2 0h2m1 0h1m-33 1h1m1 0h1m2 0h1m1 0h1m3 0h1m3 0h1m1 0h1m10 0h1m1 0h1m1 0h1m1 0h1m-38 1h1m2 0h1m8 0h1m6 0h1m9 0h1m1 0h1m2 0h1m2 0h1m-38 1h1m1 0h1m2 0h1m6 0h1m6 0h1m11 0h1m5 0h2m-31 1h1m5 0h1m3 0h1m1 0h1m-18 1h2m2 0h1m1 0h2m1 0h1m3 0h1m27 0h1m-44 1h2m2 0h1m9 0h1m17 0h1m-28 1h2m32 0h1m5 0h1m-41 1h2m32 0h1m1 0h1m4 0h1m-45 1h1m1 0h1m9 0h1m32 0h1m-49 1h2m3 0h1m1 0h1m1 0h2m5 0h1m21 0h2m-42 1h1m1 0h1m3 0h3m12 0h1m7 0h1m2 0h2m3 0h1m-41 1h1m23 0h1m7 0h1m6 0h1m11 0h1m-27 1h1m3 0h1m-17 1h1m35 0h1m-37 1h2m-19 1h1m13 0h1m3 0h1m16 0h1m-20 1h1m31 0h1m6 0h1m2 0h2m-46 1h1m2 0h2m38 0h1m-67 1h1m13 0h1m41 0h1m15 0h1m-64 1h1m2 0h1m2 0h2m1 0h1m1 0h1m1 0h1m2 0h1m5 0h2m21 0h1m6 0h1m3 0h1m-68 1h1m15 0h1m2 0h1m1 0h1m12 0h1m1 0h1m5 0h1m11 0h2m1 0h1m1 0h2m3 0h1m9 0h1m-76 1h2m15 0h3m13 0h1m7 0h1m3 0h1m16 0h1m1 0h1m-60 1h1m19 0h1m3 0h1m25 0h1m-50 1h1m6 0h1m41 0h1m4 0h1m-67 1h1m6 0h1m3 0h2m2 0h1m1 0h1m15 0h1m1 0h1m26 0h1m1 0h1m1 0h1m2 0h2m-71 1h1m3 0h1m11 0h1m4 0h2m46 0h1m-58 1h1m1 0h1m6 0h1m3 0h2m6 0h1m24 0h1m6 0h1m1 0h1m-62 1h2m13 0h1m2 0h2m5 0h1m30 0h2m-67 1h1m25 0h1m-15 1h1m2 0h1m2 0h1m8 0h1m5 0h1m1 0h2m12 0h1m17 0h2m-77 1h1m18 0h1m11 0h1m1 0h1m3 0h1m1 0h1m15 0h1m10 0h1m-51 1h1m8 0h1m5 0h2m24 0h1m14 0h1m2 0h1m1 0h2m-48 1h1m3 0h1m1 0h1m2 0h1m5 0h1m9 0h1m21 0h1m-47 1h1m4 0h2m3 0h1m34 0h1m1 0h1m14 0h1m-65 1h1m2 0h1m1 0h1m1 0h1m17 0h2m38 0h1m2 0h1m-76 1h1m3 0h1m2 0h2m2 0h1m2 0h1m3 0h4m34 0h1m14 0h1m2 0h1m3 0h1m-86 1h2m13 0h3m8 0h3m34 0h1m21 0h1m-100 1h1m5 0h1m19 0h2m3 0h1m2 0h1m2 0h1m5 0h1m50 0h1m-66 1h1m6 0h1m2 0h1m1 0h2m5 0h1m30 0h1m15 0h2m1 0h1m-57 1h1m34 0h2m17 0h1m2 0h1m-83 1h1m2 0h1m8 0h1m6 0h2m4 0h1m4 0h1m10 0h1m8 0h1m8 0h2m5 0h1m-68 1h2m15 0h2m2 0h2m3 0h1m2 0h1m14 0h1m22 0h2m12 0h1m-92 1h1m8 0h1m14 0h1m1 0h1m5 0h1m1 0h2m3 0h1m15 0h1m11 0h2m3 0h1m-64 1h1m15 0h1m8 0h2m3 0h1m5 0h2m20 0h1m2 0h2m3 0h1m12 0h3m-68 1h1m5 0h1m3 0h1m1 0h2m32 0h1m2 0h1m6 0h1m8 0h2m-82 1h1m2 0h1m5 0h1m5 0h1m1 0h2m7 0h3m2 0h1m6 0h1m24 0h2m16 0h2m-83 1h2m3 0h1m8 0h3m5 0h2m2 0h1m2 0h1m2 0h1m4 0h1m14 0h1m8 0h1m3 0h3m5 0h1m6 0h1m-84 1h1m1 0h1m9 0h1m7 0h1m4 0h2m1 0h1m3 0h1m14 0h1m15 0h1m6 0h1m1 0h1m-72 1h1m1 0h2m10 0h2m3 0h5m7 0h1m16 0h1m9 0h1m10 0h1m3 0h1m5 0h1m1 0h1m-82 1h1m14 0h1m3 0h2m10 0h1m36 0h1m7 0h1m2 0h1m1 0h1m-80 1h1m14 0h1m8 0h1m1 0h2m4 0h1m14 0h1m20 0h1m4 0h2m3 0h1m-86 1h1m17 0h4m3 0h2m1 0h1m2 0h1m5 0h1m9 0h1m21 0h1m13 0h1m-82 1h1m11 0h1m5 0h1m2 0h1m1 0h1m2 0h1m2 0h1m3 0h1m5 0h1m11 0h1m14 0h1m1 0h1m11 0h1m-60 1h2m4 0h1m1 0h2m40 0h1m2 0h1m4 0h1m-82 1h2m16 0h1m1 0h3m6 0h3m1 0h1m38 0h2m1 0h2m1 0h2m-65 1h4m2 0h1m4 0h3m1 0h1m2 0h2m20 0h1m3 0h1m1 0h1m9 0h1m1 0h1m1 0h1m2 0h1m-74 1h1m5 0h1m4 0h1m3 0h1m3 0h3m1 0h1m1 0h1m3 0h1m34 0h1m7 0h1m2 0h2m-82 1h1m15 0h1m4 0h1m4 0h2m33 0h2m-62 1h1m8 0h1m11 0h1m4 0h1m41 0h1m13 0h2m-76 1h1m2 0h2m9 0h1m1 0h1m2 0h1m1 0h1m-37 1h1m15 0h1m1 0h1m49 0h1m-56 1h1m2 0h1m1 0h1m7 0h1m1 0h1m2 0h2m31 0h1m1 0h3m11 0h1m-98 1h1m29 0h1m3 0h1m3 0h1m9 0h1m32 0h1m-60 1h1m9 0h1m3 0h2m11 0h1m32 0h1m-63 1h1m3 0h1m10 0h1m10 0h1m39 0h1m2 0h1m7 0h1m-69 1h1m2 0h1m52 0h1m-56 1h1m1 0h1m2 0h4m-17 1h1m14 0h1m47 0h1m1 0h1m-67 1h1m2 0h2m7 0h1m7 0h2m2 0h2m-23 1h1m5 0h1m1 0h1m1 0h1m9 0h1m-11 1h1m1 0h1m11 0h1m-21 1h1m6 0h1m7 0h1m5 0h1m-23 1h1m14 0h1m37 0h1m-57 1h1m12 0h1m-22 1h1m10 0h1m7 0h2m8 0h1m18 0h3m-41 1h1m7 0h1m9 0h1m20 0h2m1 0h1m13 0h1m1 0h1m-51 1h1m7 0h1m3 0h1m1 0h1m1 0h1m12 0h1m1 0h1m5 0h1m10 0h1m2 0h1m-40 1h1m1 0h1m14 0h1m4 0h1m3 0h1m6 0h2m7 0h1m-64 1h1m7 0h3m3 0h1m10 0h1m2 0h1m8 0h1m1 0h1m5 0h2m6 0h1m1 0h1m-62 1h1m12 0h1m15 0h1m2 0h1m1 0h1m8 0h1m1 0h1m4 0h2m1 0h3m3 0h1m3 0h1m-60 1h1m15 0h1m1 0h1m4 0h1m9 0h1m1 0h1m1 0h1m2 0h1m1 0h3m2 0h1m1 0h1m2 0h1m7 0h1m1 0h1m2 0h1m-63 1h1m1 0h1m4 0h1m21 0h1m1 0h1m1 0h1m12 0h1m3 0h1m2 0h1m2 0h1m2 0h2m-61 1h1m6 0h1m1 0h3m11 0h2m1 0h3m3 0h3m5 0h1m3 0h1m1 0h1m3 0h1m2 0h2m2 0h1m3 0h1m-76 1h1m15 0h1m5 0h3m11 0h2m7 0h3m1 0h1m2 0h3m11 0h2m-48 1h1m3 0h1m7 0h3m1 0h2m15 0h1m4 0h1m2 0h1m2 0h4m1 0h1m2 0h1m1 0h1m-76 1h1m23 0h1m10 0h2m8 0h2m4 0h1m3 0h3m2 0h1m4 0h1m2 0h5m-62 1h1m1 0h1m3 0h1m7 0h1m6 0h1m6 0h1m4 0h4m1 0h1m7 0h1m4 0h3m1 0h1m1 0h1m-59 1h1m4 0h1m3 0h1m12 0h1m5 0h1m5 0h1m8 0h1m1 0h2m2 0h1m2 0h1m1 0h5m3 0h1m-57 1h1m8 0h1m5 0h1m1 0h1m1 0h1m3 0h1m3 0h1m1 0h1m2 0h1m3 0h2m2 0h2m5 0h1m2 0h1m1 0h1m1 0h1m-55 1h1m7 0h2m7 0h1m10 0h2m6 0h1m5 0h1m2 0h3m-48 1h1m5 0h1m1 0h1m4 0h1m3 0h1m7 0h3m2 0h1m1 0h1m1 0h1m6 0h3m4 0h1m3 0h2m-140 1h1m57 0h1m28 0h1m4 0h2m8 0h1m1 0h1m1 0h3m4 0h1m3 0h1m2 0h1m3 0h2m2 0h1m1 0h1m1 0h1m1 0h1m1 0h1m-136 1h2m4 0h1m15 0h1m37 0h1m18 0h1m4 0h2m3 0h1m2 0h1m16 0h1m5 0h3m5 0h1m6 0h1m-110 1h1m65 0h1m14 0h3m11 0h1m2 0h2m7 0h1m2 0h1m-130 1h1m88 0h1m9 0h3m1 0h1m6 0h1m1 0h1m1 0h1m1 0h1m2 0h1m2 0h2m2 0h1m3 0h1m-128 1h1m3 0h1m82 0h1m8 0h1m10 0h2m1 0h1m1 0h1m5 0h1m1 0h2m3 0h1m-127 1h1m20 0h1m57 0h1m6 0h1m12 0h2m4 0h1m4 0h1m4 0h1m3 0h2m1 0h1m-124 1h1m85 0h1m11 0h1m2 0h2m6 0h1m1 0h1m4 0h1m3 0h2m2 0h2m-126 1h1m3 0h1m5 0h1m12 0h1m57 0h1m7 0h1m4 0h1m2 0h1m6 0h1m9 0h1m7 0h1m-124 1h1m2 0h1m1 0h1m2 0h2m42 0h1m37 0h1m1 0h1m5 0h2m5 0h1m1 0h3m5 0h1m5 0h1m-124 1h1m9 0h1m3 0h1m71 0h1m15 0h2m5 0h1m3 0h1m2 0h1m-37 1h1m12 0h1m2 0h1m1 0h3m2 0h1m2 0h1m7 0h1m8 0h1m-123 1h2m1 0h1m78 0h1m10 0h1m1 0h1m5 0h1m1 0h1m2 0h1m3 0h1m2 0h1m2 0h1m-115 1h1m1 0h2m5 0h2m78 0h1m1 0h2m3 0h2m1 0h1m2 0h1m3 0h1m1 0h1m-115 1h3m1 0h1m10 0h1m15 0h1m71 0h1m1 0h1m1 0h1m3 0h1m4 0h1m4 0h2m-117 1h1m5 0h1m1 0h1m74 0h2m4 0h1m5 0h1m4 0h1m4 0h2m9 0h1m-118 1h2m9 0h2m87 0h1m2 0h1m7 0h3m-121 1h1m4 0h1m2 0h1m4 0h1m4 0h1m90 0h1m1 0h1m1 0h1m1 0h2m-105 1h1m6 0h2m12 0h1m81 0h2m-111 1h1m10 0h1m15 0h1m17 0h1m39 0h1m5 0h3m1 0h1m2 0h1m3 0h1m2 0h2m3 0h1m-112 1h1m44 0h1m4 0h2m35 0h1m3 0h1m13 0h1m2 0h1m-98 1h2m6 0h2m22 0h3m5 0h1m3 0h1m2 0h2m1 0h2m23 0h2m2 0h1m-91 1h2m6 0h1m3 0h1m1 0h1m6 0h1m20 0h2m2 0h1m7 0h1m2 0h1m1 0h1m4 0h1m2 0h1m18 0h1m11 0h1m-94 1h1m4 0h1m2 0h1m33 0h2m6 0h1m3 0h1m6 0h2m23 0h1m3 0h1m-93 1h1m7 0h4m1 0h2m28 0h1m4 0h1m9 0h1m8 0h1m11 0h1m18 0h1m-91 1h2m1 0h1m32 0h2m9 0h1m5 0h1m7 0h1m4 0h1m8 0h1m2 0h1m-87 1h1m1 0h1m11 0h1m3 0h1m28 0h2m7 0h2m3 0h1m12 0h3m3 0h1m-65 1h2m28 0h1m3 0h1m4 0h1m1 0h1m1 0h1m2 0h1m7 0h1m1 0h1m2 0h1m2 0h3m1 0h1m3 0h1m-69 1h1m2 0h1m1 0h2m17 0h1m10 0h1m4 0h1m6 0h2m1 0h1m10 0h1m1 0h1m2 0h1m-74 1h1m15 0h2m1 0h1m1 0h1m2 0h1m14 0h1m1 0h1m27 0h1m3 0h1m-84 1h1m9 0h1m5 0h1m9 0h1m-17 1h1m2 0h1m2 0h2m1 0h2m17 0h1m-16 1h1m2 0h1m11 0h1m-3 1h1m-14 1h2m1 0h1m-5 1h1m1 0h1m7 0h1m-13 1h1m-8 1h1m2 1h1"/>
<path stroke="#F4E61E" d="M176 17h4m-4 1h4m-4 1h2m1 0h2m-5 1h1m2 0h1m-5 1h1m3 0h2m-5 1h1m1 0h1m1 0h2m-8 1h1m1 0h4m2 0h1m-6 1h1m3 0h1m2 0h1m-13 1h4m8 0h2m-19 1h1m6 0h3m6 0h1m1 0h1m-40 1h1m28 0h2m-6 1h1m5 0h1m-36 1h1m21 0h1m10 0h1m1 0h2m-33 1h2m1 0h1m10 0h1m4 0h1m6 0h2m2 0h1m-29 1h1m21 0h2m2 0h1m1 0h1m1 0h1m-32 1h2m11 0h1m1 0h2m6 0h1m1 0h1m2 0h1m-16 1h1m1 0h1m8 0h2m1 0h1m-21 1h2m15 0h1m-24 1h1m1 0h1m4 0h1m27 0h3m-41 1h2m1 0h3m1 0h2m1 0h1m2 0h1m8 0h1m18 0h2m-45 1h2m2 0h1m3 0h1m2 0h2m1 0h1m12 0h1m13 0h1m1 0h1m-44 1h1m1 0h3m2 0h2m1 0h1m1 0h3m25 0h1m4 0h1m-47 1h3m1 0h1m3 0h1m1 0h5m1 0h1m22 0h1m2 0h1m4 0h1m-46 1h2m7 0h1m1 0h1m1 0h1m1 0h1m22 0h1m2 0h1m2 0h1m-37 1h3m1 0h3m1 0h1m7 0h1m1 0h1m7 0h1m1 0h2m7 0h1m-38 1h1m2 0h1m1 0h1m9 0h2m4 0h3m1 0h1m1 0h4m1 0h4m-37 1h1m1 0h1m1 0h1m5 0h1m1 0h3m1 0h2m1 0h1m3 0h1m2 0h6m-32 1h4m3 0h1m3 0h2m1 0h2m1 0h2m8 0h1m1 0h4m-48 1h1m16 0h1m5 0h1m2 0h3m4 0h2m6 0h1m7 0h2m-56 1h1m21 0h1m2 0h3m1 0h1m1 0h6m1 0h1m1 0h1m2 0h1m1 0h1m1 0h1m8 0h1m-37 1h3m2 0h2m1 0h1m1 0h3m3 0h5m3 0h2m2 0h1m2 0h2m3 0h1m-33 1h4m2 0h1m1 0h1m4 0h1m1 0h2m2 0h1m1 0h1m4 0h9m1 0h1m1 0h2m-51 1h1m4 0h2m2 0h2m1 0h1m1 0h3m1 0h2m3 0h1m1 0h4m4 0h1m3 0h3m1 0h1m1 0h3m2 0h1m1 0h1m-52 1h1m1 0h1m2 0h1m4 0h1m4 0h4m1 0h1m1 0h1m4 0h1m1 0h5m3 0h5m1 0h1m5 0h4m1 0h1m-58 1h1m1 0h1m1 0h1m1 0h3m1 0h1m2 0h3m1 0h1m1 0h1m1 0h1m3 0h3m7 0h1m2 0h1m1 0h1m3 0h2m1 0h1m2 0h2m2 0h2m1 0h1m-64 1h1m6 0h2m2 0h1m1 0h1m1 0h1m1 0h2m2 0h1m1 0h3m1 0h1m1 0h3m9 0h3m1 0h1m6 0h2m4 0h3m-73 1h2m3 0h1m11 0h4m5 0h2m1 0h3m2 0h1m2 0h2m1 0h2m1 0h1m1 0h1m5 0h2m9 0h1m1 0h1m5 0h1m3 0h1m-76 1h1m20 0h1m2 0h1m3 0h1m1 0h2m3 0h4m1 0h1m1 0h1m1 0h2m8 0h1m2 0h1m3 0h1m3 0h1m-74 1h1m17 0h1m7 0h4m2 0h3m1 0h1m1 0h1m1 0h1m4 0h2m1 0h2m1 0h2m1 0h1m1 0h1m3 0h2m-50 1h2m2 0h2m9 0h2m3 0h1m1 0h1m5 0h1m5 0h1m3 0h2m1 0h1m1 0h2m4 0h3m1 0h1m2 0h2m-45 1h2m2 0h1m2 0h3m1 0h1m2 0h2m4 0h1m3 0h2m2 0h3m2 0h2m1 0h1m1 0h2m3 0h1m1 0h1m-64 1h1m23 0h2m1 0h4m1 0h2m3 0h1m5 0h2m1 0h6m2 0h1m1 0h1m3 0h1m1 0h1m-47 1h2m1 0h1m2 0h1m1 0h6m1 0h2m2 0h2m3 0h3m1 0h1m1 0h1m2 0h1m1 0h3m1 0h2m4 0h2m-47 1h1m5 0h1m1 0h1m6 0h2m1 0h1m3 0h2m2 0h7m1 0h1m1 0h1m2 0h4m-53 1h1m11 0h3m3 0h1m3 0h3m3 0h2m5 0h3m1 0h2m1 0h2m1 0h1m3 0h5m-48 1h1m5 0h1m3 0h2m3 0h2m1 0h7m2 0h1m2 0h1m1 0h2m4 0h2m2 0h2m1 0h2m1 0h1m-41 1h1m2 0h1m1 0h2m2 0h1m1 0h1m1 0h3m2 0h2m2 0h1m2 0h1m1 0h1m1 0h3m3 0h2m2 0h1m1 0h1m-62 1h3m9 0h1m4 0h1m2 0h1m3 0h2m1 0h2m2 0h1m5 0h1m4 0h1m7 0h1m1 0h1m2 0h1m1 0h1m1 0h2m-61 1h1m2 0h1m9 0h1m4 0h1m1 0h1m4 0h6m1 0h2m1 0h2m4 0h3m1 0h1m2 0h1m2 0h1m2 0h2m1 0h8m13 0h1m2 0h1m1 0h1m2 0h2m-86 1h1m3 0h1m12 0h1m2 0h1m6 0h1m1 0h1m2 0h2m4 0h1m2 0h1m4 0h7m1 0h1m27 0h1m2 0h1m-85 1h2m3 0h1m5 0h1m9 0h2m3 0h2m4 0h2m1 0h2m1 0h1m1 0h1m3 0h1m8 0h1m2 0h1m19 0h1m3 0h2m2 0h1m-86 1h1m2 0h2m9 0h1m8 0h1m1 0h2m2 0h2m1 0h1m2 0h2m1 0h1m15 0h1m6 0h3m18 0h4m-76 1h1m3 0h1m6 0h2m1 0h1m2 0h3m1 0h1m3 0h2m4 0h3m1 0h1m2 0h1m5 0h3m2 0h3m2 0h1m12 0h1m5 0h3m-73 1h1m5 0h1m1 0h1m1 0h1m1 0h1m1 0h1m1 0h1m4 0h3m2 0h1m2 0h1m1 0h4m2 0h3m1 0h1m1 0h3m1 0h1m18 0h1m2 0h1m1 0h1m-66 1h1m2 0h1m1 0h1m2 0h1m1 0h1m6 0h1m1 0h2m1 0h1m1 0h1m5 0h1m9 0h1m17 0h1m1 0h1m1 0h3m-61 1h1m3 0h2m3 0h3m2 0h1m1 0h1m3 0h1m1 0h1m2 0h1m2 0h1m5 0h2m1 0h3m1 0h1m12 0h1m1 0h2m1 0h1m-86 1h2m27 0h3m5 0h1m1 0h2m5 0h2m6 0h1m3 0h1m3 0h2m5 0h1m10 0h1m1 0h1m1 0h1m1 0h1m-72 1h1m13 0h3m3 0h1m1 0h1m2 0h2m5 0h1m1 0h2m10 0h2m2 0h1m1 0h1m1 0h1m1 0h1m8 0h1m3 0h3m-72 1h1m8 0h1m5 0h11m3 0h3m1 0h2m3 0h1m2 0h1m1 0h1m2 0h1m4 0h1m1 0h1m1 0h1m2 0h1m9 0h3m-86 1h1m14 0h1m15 0h1m1 0h5m3 0h1m1 0h2m3 0h2m1 0h1m1 0h1m1 0h2m2 0h1m1 0h3m2 0h1m2 0h2m9 0h1m-82 1h1m14 0h1m5 0h3m8 0h1m2 0h1m1 0h1m3 0h2m4 0h1m7 0h1m5 0h1m2 0h2m4 0h1m9 0h1m2 0h2m-108 1h1m9 0h1m28 0h3m3 0h2m5 0h1m3 0h4m2 0h2m6 0h1m1 0h5m2 0h4m3 0h1m1 0h1m4 0h1m10 0h4m1 0h1m-77 1h1m13 0h1m2 0h3m2 0h3m1 0h3m2 0h1m4 0h2m1 0h2m1 0h1m2 0h1m1 0h1m1 0h4m1 0h1m2 0h1m3 0h1m10 0h4m-85 1h2m14 0h2m2 0h1m2 0h1m2 0h2m4 0h2m1 0h1m8 0h2m2 0h1m4 0h1m1 0h3m1 0h1m2 0h3m3 0h4m7 0h1m1 0h1m1 0h2m-72 1h1m4 0h2m4 0h1m5 0h1m1 0h1m4 0h1m1 0h1m5 0h2m2 0h1m5 0h1m3 0h2m1 0h1m7 0h1m6 0h1m2 0h1m-64 1h1m11 0h2m1 0h1m1 0h1m2 0h4m2 0h6m8 0h1m2 0h1m1 0h1m12 0h2m2 0h1m3 0h1m-150 1h1m14 0h4m73 0h1m3 0h5m1 0h1m1 0h1m1 0h5m3 0h1m1 0h1m1 0h3m1 0h1m1 0h2m14 0h2m1 0h1m2 0h2m-150 1h2m1 0h1m11 0h1m65 0h1m7 0h2m7 0h5m1 0h2m3 0h8m1 0h2m2 0h1m3 0h8m10 0h2m1 0h4m-147 1h2m9 0h1m61 0h2m8 0h1m1 0h2m6 0h8m2 0h1m1 0h1m2 0h4m2 0h1m2 0h2m2 0h1m2 0h2m1 0h2m6 0h1m3 0h3m2 0h3m-146 1h2m7 0h1m66 0h2m1 0h1m6 0h1m2 0h1m3 0h2m1 0h1m1 0h2m5 0h6m2 0h1m1 0h1m1 0h1m2 0h1m1 0h2m2 0h2m3 0h1m1 0h2m3 0h1m2 0h2m1 0h1m-143 1h3m2 0h2m65 0h3m1 0h1m1 0h1m3 0h1m4 0h2m1 0h2m7 0h1m1 0h1m1 0h2m3 0h11m2 0h1m1 0h1m2 0h2m1 0h1m1 0h1m1 0h2m2 0h2m1 0h2m-139 1h2m62 0h1m1 0h1m2 0h3m2 0h2m4 0h2m1 0h4m1 0h1m13 0h1m1 0h2m1 0h5m3 0h1m1 0h1m2 0h3m2 0h2m2 0h1m1 0h2m1 0h4m-106 1h1m31 0h10m2 0h3m1 0h1m1 0h2m17 0h1m1 0h1m2 0h5m3 0h3m1 0h3m1 0h1m1 0h1m1 0h1m1 0h1m1 0h1m3 0h1m-66 1h4m3 0h1m1 0h2m1 0h1m2 0h1m19 0h7m2 0h5m2 0h3m6 0h4m1 0h1m-70 1h3m1 0h8m1 0h4m25 0h3m1 0h3m2 0h1m1 0h3m1 0h1m1 0h2m3 0h1m1 0h3m-68 1h3m1 0h1m4 0h2m2 0h2m26 0h2m6 0h2m1 0h2m1 0h2m4 0h2m-67 1h1m1 0h2m3 0h1m1 0h1m3 0h2m1 0h3m2 0h1m24 0h2m1 0h1m2 0h1m1 0h1m9 0h3m-75 1h1m8 0h2m2 0h6m1 0h4m29 0h1m2 0h1m1 0h4m3 0h1m6 0h1m1 0h1m-70 1h1m1 0h1m1 0h1m2 0h5m3 0h1m1 0h4m28 0h1m1 0h1m2 0h2m1 0h2m1 0h3m5 0h1m-66 1h2m2 0h4m1 0h1m1 0h2m1 0h2m27 0h1m4 0h1m4 0h2m1 0h2m6 0h1m-67 1h1m1 0h1m6 0h2m1 0h3m1 0h4m24 0h2m3 0h1m7 0h4m4 0h1m1 0h1m-66 1h1m2 0h1m1 0h6m1 0h2m29 0h1m1 0h1m2 0h1m6 0h2m1 0h1m2 0h4m-72 1h1m9 0h3m1 0h1m3 0h1m29 0h3m2 0h1m1 0h1m3 0h1m1 0h1m1 0h1m2 0h3m1 0h1m-68 1h1m5 0h9m1 0h4m24 0h3m2 0h2m5 0h3m1 0h7m-75 1h1m13 0h1m1 0h2m1 0h1m1 0h6m26 0h1m1 0h2m1 0h3m2 0h1m4 0h2m1 0h1m1 0h2m-63 1h2m1 0h1m2 0h2m4 0h1m1 0h2m27 0h1m10 0h2m1 0h2m3 0h1m-79 1h1m15 0h1m1 0h4m1 0h2m1 0h4m2 0h1m25 0h1m1 0h3m8 0h3m1 0h1m1 0h1m-60 1h2m1 0h1m2 0h4m1 0h2m26 0h1m3 0h7m1 0h1m2 0h1m2 0h2m-57 1h1m2 0h1m2 0h2m1 0h1m1 0h2m1 0h1m15 0h2m3 0h1m1 0h7m1 0h3m1 0h1m1 0h2m2 0h2m-59 1h2m4 0h1m4 0h3m1 0h2m11 0h2m5 0h2m1 0h5m1 0h1m3 0h1m1 0h2m1 0h4m-57 1h1m1 0h1m2 0h2m1 0h1m1 0h1m1 0h1m1 0h1m1 0h1m14 0h3m1 0h1m1 0h2m1 0h2m1 0h3m2 0h2m4 0h1m1 0h1m-68 1h1m10 0h1m2 0h3m1 0h2m1 0h1m3 0h2m1 0h1m12 0h3m2 0h2m1 0h5m4 0h2m5 0h2m-55 1h2m3 0h2m3 0h1m2 0h1m1 0h2m10 0h1m1 0h1m1 0h1m1 0h1m2 0h3m1 0h2m1 0h1m3 0h2m2 0h3m-55 1h3m1 0h5m2 0h2m6 0h1m8 0h1m1 0h2m1 0h1m7 0h1m7 0h2m1 0h2m-56 1h1m1 0h1m4 0h1m1 0h2m1 0h1m2 0h5m4 0h1m1 0h1m18 0h1m1 0h1m1 0h1m1 0h1m2 0h1m-54 1h1m1 0h1m2 0h3m1 0h1m1 0h2m3 0h2m1 0h2m15 0h2m1 0h1m6 0h1m3 0h1m2 0h2m-51 1h2m2 0h1m2 0h1m2 0h1m14 0h3m5 0h1m2 0h2m1 0h1m6 0h3m-50 1h2m2 0h1m1 0h4m4 0h1m8 0h1m2 0h1m9 0h3m1 0h1m4 0h1m2 0h2m-53 1h2m1 0h1m3 0h1m1 0h1m3 0h1m7 0h1m1 0h5m6 0h1m3 0h1m1 0h2m4 0h1m1 0h2m-45 1h2m1 0h4m2 0h3m4 0h1m3 0h2m13 0h2m1 0h2m5 0h2m-63 1h1m3 0h1m9 0h2m3 0h1m1 0h4m13 0h2m1 0h1m2 0h1m4 0h1m3 0h1m3 0h5m-49 1h2m3 0h1m2 0h5m3 0h1m1 0h1m2 0h1m3 0h2m2 0h1m2 0h2m4 0h1m-123 1h1m68 0h1m4 0h1m10 0h1m1 0h1m3 0h1m1 0h1m3 0h1m1 0h1m8 0h3m3 0h1m9 0h1m3 0h1m1 0h1m-62 1h1m16 0h3m1 0h1m2 0h1m1 0h2m2 0h1m1 0h2m13 0h1m6 0h1m3 0h3m-61 1h1m14 0h4m1 0h1m1 0h1m19 0h5m5 0h1m2 0h3m-58 1h1m1 0h2m1 0h1m8 0h1m1 0h1m1 0h1m4 0h1m1 0h1m4 0h1m1 0h1m1 0h1m3 0h1m4 0h1m2 0h1m-127 1h1m5 0h1m74 0h1m2 0h1m4 0h1m1 0h1m2 0h1m3 0h5m2 0h1m15 0h2m2 0h4m-126 1h1m77 0h4m9 0h2m3 0h4m3 0h1m5 0h1m5 0h1m4 0h2m1 0h2m2 0h1m-127 1h2m83 0h1m1 0h1m1 0h1m2 0h1m3 0h1m4 0h1m6 0h1m3 0h1m1 0h1m2 0h1m2 0h1m2 0h2m-128 1h1m2 0h1m87 0h1m2 0h1m4 0h1m2 0h2m14 0h1m2 0h1m5 0h1m-126 1h1m2 0h1m5 0h1m79 0h1m2 0h2m2 0h5m8 0h2m2 0h1m5 0h1m6 0h1m-129 1h3m1 0h2m4 0h1m79 0h4m1 0h1m2 0h2m11 0h1m1 0h1m4 0h1m1 0h3m-123 1h1m8 0h1m75 0h1m7 0h1m1 0h1m3 0h1m2 0h2m1 0h1m5 0h1m1 0h2m4 0h2m1 0h1m1 0h1m1 0h2m-127 1h1m6 0h1m75 0h1m8 0h1m3 0h3m4 0h1m1 0h1m5 0h1m5 0h2m1 0h1m2 0h3m-123 1h1m3 0h1m71 0h1m11 0h1m2 0h1m2 0h3m4 0h1m2 0h1m1 0h3m4 0h5m3 0h1m-125 1h1m1 0h2m5 0h1m19 0h1m64 0h1m1 0h1m3 0h2m1 0h1m8 0h1m3 0h1m2 0h3m1 0h1m-125 1h1m97 0h1m2 0h1m4 0h1m2 0h1m3 0h1m1 0h2m1 0h2m2 0h2m-120 1h1m6 0h1m85 0h2m7 0h1m3 0h1m1 0h3m1 0h1m1 0h3m-126 1h1m103 0h1m1 0h1m1 0h1m2 0h1m2 0h4m1 0h2m1 0h1m2 0h1m-111 1h1m103 0h4m2 0h1m-126 1h2m1 0h1m2 0h1m102 0h1m7 0h1m3 0h3m-123 1h4m1 0h1m7 0h2m96 0h1m4 0h1m2 0h3m-122 1h2m3 0h1m8 0h1m1 0h1m14 0h1m75 0h5m5 0h2m1 0h1m-117 1h1m12 0h1m12 0h1m75 0h1m1 0h2m2 0h1m1 0h1m2 0h1m-116 1h2m2 0h1m10 0h1m5 0h2m5 0h1m1 0h1m17 0h3m8 0h2m33 0h2m1 0h2m1 0h1m1 0h2m1 0h1m2 0h1m2 0h5m-115 1h3m11 0h2m6 0h2m5 0h1m18 0h1m1 0h2m1 0h3m2 0h1m2 0h1m31 0h2m1 0h2m2 0h3m1 0h2m3 0h4m-113 1h1m7 0h1m7 0h1m6 0h1m21 0h1m3 0h4m1 0h1m6 0h3m2 0h2m24 0h2m2 0h1m6 0h1m1 0h1m1 0h1m2 0h2m-111 1h3m13 0h1m34 0h1m1 0h1m6 0h1m2 0h1m4 0h1m24 0h2m1 0h1m1 0h2m1 0h1m1 0h1m1 0h2m1 0h1m-107 1h1m3 0h3m6 0h1m32 0h3m13 0h1m27 0h1m3 0h2m2 0h1m-100 1h1m1 0h1m1 0h1m2 0h3m4 0h1m1 0h1m23 0h1m7 0h2m16 0h1m6 0h2m7 0h1m1 0h1m5 0h3m1 0h2m4 0h1m1 0h1m-103 1h1m2 0h1m1 0h4m2 0h2m1 0h1m2 0h1m30 0h1m13 0h1m9 0h2m1 0h1m8 0h1m5 0h1m3 0h1m-94 1h4m4 0h3m4 0h2m29 0h1m1 0h2m15 0h1m6 0h1m2 0h1m2 0h1m6 0h1m2 0h1m-89 1h4m7 0h3m3 0h2m25 0h4m1 0h3m3 0h4m1 0h2m2 0h1m3 0h1m1 0h3m1 0h1m2 0h1m1 0h1m4 0h1m1 0h1m-88 1h1m3 0h2m4 0h3m1 0h1m3 0h2m1 0h1m1 0h6m4 0h1m8 0h2m1 0h2m2 0h1m1 0h1m1 0h1m1 0h2m1 0h5m3 0h2m2 0h3m3 0h1m4 0h1m3 0h1m1 0h2m-90 1h3m3 0h2m1 0h2m1 0h2m1 0h1m2 0h2m1 0h3m11 0h2m1 0h2m1 0h1m1 0h2m5 0h1m1 0h4m1 0h1m3 0h1m7 0h2m1 0h1m1 0h1m3 0h1m1 0h1m7 0h2m-89 1h1m4 0h1m2 0h2m4 0h2m2 0h1m2 0h1m4 0h1m3 0h2m3 0h1m6 0h1m12 0h1m2 0h2m11 0h1m3 0h2m1 0h1m-74 1h1m3 0h1m2 0h5m10 0h1m2 0h2m6 0h3m1 0h3m29 0h3m-76 1h1m5 0h1m8 0h1m10 0h6m7 0h1m1 0h1m-38 1h1m22 0h1m1 0h1m10 0h1m-26 1h1m9 0h1m1 0h3m-19 1h1m3 0h1m7 0h2m-13 1h1m1 0h1m1 0h1m1 0h1m1 0h3m-10 1h1m3 0h1m-2 1h1m1 0h1"/>
<path stroke="#FDE725" d="M175 12h1m10 0h1m-1 1h1m1 0h1m-25 1h1m11 0h1m11 0h2m-1 1h1m-3 1h1m2 0h1m-10 1h1m5 0h2m2 0h1m-12 1h1m4 0h1m2 0h1m-7 1h1m1 0h1m5 0h2m-27 2h1m17 0h1m5 0h1m-1 1h1m-3 1h1m1 0h1m-42 1h1m39 0h1m-38 1h1m31 0h1m-2 1h1m4 0h1m3 1h1m-27 1h1m10 0h1m7 0h1m4 0h2m1 0h1m1 0h1m-33 1h1m10 0h1m2 0h1m4 0h1m7 0h1m4 0h1m-47 1h1m14 0h1m16 0h1m2 0h2m-36 1h1m11 0h1m22 0h1m2 0h1m2 0h1m2 0h2m-21 1h1m6 0h2m1 0h1m2 0h1m3 0h1m1 0h2m1 0h1m-5 1h1m1 0h2m-59 1h1m52 0h1m6 0h1m-1 1h1m-44 1h1m29 0h2m-41 1h2m3 0h1m1 0h2m2 0h1m28 0h1m1 0h1m9 0h1m-54 1h1m7 0h1m1 0h1m30 0h3m9 0h1m-15 1h1m1 0h4m8 0h1m-44 1h1m1 0h1m26 0h2m1 0h2m1 0h1m1 0h2m4 0h1m-64 1h1m20 0h1m3 0h1m22 0h7m4 0h1m-41 1h2m1 0h1m1 0h3m9 0h3m5 0h1m4 0h1m10 0h1m1 0h1m-45 1h1m1 0h1m1 0h5m10 0h3m1 0h2m6 0h3m2 0h2m2 0h1m1 0h1m-40 1h3m1 0h3m2 0h1m2 0h1m2 0h8m1 0h1m4 0h2m5 0h1m-38 1h5m1 0h2m3 0h4m2 0h6m1 0h7m3 0h1m2 0h1m-40 1h1m1 0h2m3 0h1m1 0h1m8 0h1m1 0h2m1 0h1m1 0h1m1 0h8m10 0h1m-44 1h2m2 0h1m1 0h1m3 0h3m5 0h3m2 0h2m1 0h1m3 0h3m-35 1h1m1 0h1m5 0h1m1 0h1m1 0h4m1 0h1m2 0h2m1 0h1m1 0h4m11 0h1m-42 1h2m2 0h1m1 0h1m3 0h1m2 0h3m1 0h1m4 0h4m1 0h2m4 0h1m1 0h1m3 0h2m1 0h1m1 0h1m-46 1h3m1 0h1m2 0h1m4 0h1m1 0h1m1 0h4m1 0h1m5 0h1m1 0h1m7 0h1m2 0h2m4 0h1m-109 1h1m56 0h1m3 0h1m1 0h2m7 0h1m1 0h2m4 0h7m13 0h2m2 0h2m-106 1h1m54 0h2m1 0h1m1 0h1m1 0h1m2 0h1m2 0h1m3 0h1m6 0h8m15 0h2m3 0h2m-94 1h1m39 0h3m1 0h1m6 0h2m1 0h2m2 0h1m2 0h1m1 0h1m1 0h5m2 0h1m11 0h1m5 0h3m-56 1h2m1 0h2m1 0h2m2 0h1m2 0h3m4 0h1m1 0h1m1 0h1m2 0h8m20 0h2m-107 1h1m37 0h1m14 0h2m7 0h1m1 0h4m2 0h1m2 0h1m2 0h1m1 0h1m1 0h3m2 0h2m-123 1h1m50 0h1m1 0h1m34 0h3m1 0h1m1 0h5m1 0h5m1 0h3m2 0h1m1 0h1m2 0h4m-31 1h2m5 0h2m2 0h4m1 0h3m2 0h2m3 0h2m4 0h1m-35 1h3m7 0h1m2 0h3m1 0h5m2 0h1m6 0h2m1 0h1m7 0h1m-44 1h2m1 0h1m6 0h1m2 0h2m2 0h3m3 0h1m1 0h1m1 0h2m1 0h1m3 0h1m2 0h1m-38 1h2m1 0h1m2 0h1m2 0h2m2 0h1m1 0h3m2 0h1m8 0h1m1 0h1m1 0h2m-93 1h1m59 0h1m2 0h3m3 0h3m2 0h3m1 0h1m3 0h1m2 0h1m4 0h3m-116 1h1m81 0h1m2 0h3m2 0h1m7 0h2m1 0h1m2 0h1m2 0h4m2 0h2m-82 1h1m4 0h1m39 0h1m4 0h1m4 0h2m3 0h1m3 0h2m3 0h1m1 0h2m1 0h1m1 0h1m3 0h3m2 0h2m1 0h1m-86 1h1m39 0h1m13 0h2m1 0h5m1 0h4m1 0h7m1 0h1m1 0h2m1 0h1m5 0h1m-32 1h1m2 0h1m2 0h2m5 0h1m1 0h2m1 0h2m1 0h2m2 0h1m27 0h2m-54 1h2m2 0h4m1 0h2m1 0h4m7 0h1m1 0h6m20 0h1m2 0h1m-55 1h2m3 0h1m2 0h1m1 0h1m1 0h3m1 0h8m1 0h2m1 0h3m23 0h1m-116 1h1m42 0h1m9 0h1m8 0h1m1 0h2m2 0h1m1 0h15m1 0h6m-114 1h1m82 0h1m2 0h2m2 0h4m3 0h1m1 0h2m1 0h5m3 0h2m-39 1h1m7 0h1m1 0h4m3 0h1m2 0h2m1 0h1m4 0h2m3 0h1m1 0h1m3 0h1m-94 1h1m61 0h1m1 0h1m1 0h4m1 0h1m2 0h1m3 0h5m1 0h1m1 0h7m7 0h1m17 0h1m-142 1h1m86 0h2m3 0h2m1 0h1m1 0h3m3 0h2m1 0h2m1 0h5m2 0h1m23 0h1m-54 1h4m1 0h1m2 0h5m3 0h5m1 0h3m1 0h1m25 0h1m-53 1h2m1 0h1m5 0h5m1 0h1m2 0h9m-127 1h1m107 0h3m3 0h1m2 0h3m1 0h2m1 0h1m1 0h2m8 0h1m1 0h1m-129 1h1m94 0h1m1 0h1m1 0h1m2 0h3m2 0h1m1 0h1m1 0h1m2 0h2m1 0h1m23 0h2m-54 1h1m2 0h1m1 0h1m1 0h1m2 0h4m1 0h6m2 0h5m1 0h1m22 0h2m-138 1h1m1 0h1m85 0h2m2 0h5m2 0h1m5 0h2m4 0h2m23 0h1m-145 1h1m1 0h2m2 0h1m68 0h1m9 0h1m8 0h1m3 0h2m1 0h4m5 0h1m1 0h2m1 0h1m6 0h1m1 0h1m2 0h1m1 0h1m15 0h1m-146 1h1m93 0h1m1 0h8m2 0h2m1 0h4m1 0h1m3 0h1m1 0h2m20 0h1m-142 1h1m92 0h3m1 0h1m1 0h5m2 0h1m2 0h5m1 0h3m2 0h1m1 0h1m12 0h1m1 0h1m2 0h4m-141 1h1m1 0h1m86 0h1m1 0h2m5 0h1m6 0h8m1 0h2m1 0h1m16 0h1m1 0h3m1 0h1m-190 1h1m45 0h1m4 0h1m1 0h1m88 0h1m1 0h1m5 0h2m2 0h1m1 0h1m3 0h1m1 0h1m2 0h2m1 0h1m14 0h2m2 0h2m-191 1h1m58 0h1m11 0h1m70 0h1m2 0h3m8 0h1m2 0h2m1 0h3m20 0h1m4 0h1m-193 1h1m145 0h2m1 0h1m1 0h2m4 0h2m1 0h2m2 0h2m1 0h2m18 0h2m3 0h1m-193 1h1m137 0h1m2 0h1m1 0h1m3 0h4m6 0h1m2 0h1m4 0h1m1 0h1m2 0h2m14 0h1m2 0h1m1 0h1m-191 1h1m138 0h2m6 0h1m1 0h1m2 0h3m11 0h2m1 0h1m7 0h1m8 0h1m2 0h1m-190 1h1m53 0h1m23 0h1m58 0h1m11 0h3m1 0h1m2 0h1m5 0h1m3 0h1m1 0h2m3 0h2m2 0h2m1 0h1m2 0h1m4 0h1m-188 1h1m14 0h1m39 0h1m68 0h1m8 0h3m15 0h1m1 0h2m5 0h2m4 0h1m5 0h1m1 0h1m1 0h1m1 0h1m1 0h3m-182 1h1m113 0h3m5 0h1m8 0h1m18 0h2m7 0h2m5 0h2m3 0h6m4 0h1m-182 1h1m110 0h1m4 0h1m13 0h2m20 0h3m3 0h1m4 0h1m1 0h1m3 0h1m1 0h1m2 0h3m1 0h1m-178 1h1m115 0h1m1 0h1m1 0h1m7 0h3m21 0h2m2 0h1m1 0h1m5 0h1m2 0h1m2 0h3m3 0h4m-179 1h1m113 0h1m1 0h1m1 0h3m6 0h2m23 0h2m4 0h1m2 0h1m1 0h9m3 0h3m-178 1h1m43 0h1m74 0h1m5 0h4m23 0h1m1 0h2m6 0h3m1 0h6m1 0h1m1 0h1m-176 1h1m24 0h1m91 0h3m6 0h2m24 0h2m1 0h1m1 0h2m9 0h4m2 0h1m-174 1h1m46 0h1m67 0h1m4 0h1m2 0h3m25 0h4m1 0h3m6 0h6m1 0h2m-174 1h1m52 0h1m59 0h1m6 0h1m30 0h3m1 0h7m4 0h4m-170 1h1m117 0h1m2 0h1m27 0h1m1 0h1m1 0h2m1 0h3m1 0h1m3 0h1m1 0h2m-167 1h1m107 0h1m3 0h1m3 0h1m3 0h2m28 0h2m1 0h1m1 0h3m1 0h1m1 0h1m1 0h2m3 0h1m-169 1h1m148 0h2m2 0h5m3 0h1m7 0h1m-170 1h1m105 0h1m5 0h1m1 0h1m33 0h1m2 0h1m3 0h2m1 0h4m2 0h1m1 0h1m-166 1h1m25 0h1m2 0h1m39 0h1m39 0h2m3 0h1m1 0h1m1 0h1m26 0h3m1 0h10m2 0h1m2 0h3m-167 1h1m62 0h1m47 0h1m7 0h2m1 0h1m21 0h3m1 0h1m4 0h7m3 0h1m1 0h1m-166 1h1m110 0h2m4 0h1m2 0h3m19 0h4m1 0h3m7 0h1m1 0h2m1 0h2m-163 1h1m1 0h1m46 0h1m59 0h2m1 0h2m4 0h1m2 0h1m18 0h3m1 0h1m11 0h1m1 0h1m2 0h2m-163 1h1m71 0h1m35 0h4m1 0h2m1 0h1m3 0h1m17 0h1m1 0h1m2 0h1m14 0h1m4 0h1m-163 1h1m105 0h1m1 0h2m4 0h1m29 0h1m11 0h2m2 0h1m-161 1h1m105 0h2m6 0h1m2 0h1m3 0h1m32 0h4m3 0h1m-161 1h1m65 0h1m6 0h1m33 0h1m1 0h1m2 0h3m39 0h2m3 0h1m-160 1h1m106 0h1m5 0h2m6 0h1m22 0h1m10 0h1m2 0h1m-158 1h1m104 0h2m8 0h1m38 0h1m-155 1h1m25 0h1m78 0h2m3 0h1m1 0h1m2 0h2m9 0h1m-126 1h2m105 0h2m1 0h2m1 0h1m26 0h1m-140 1h1m104 0h2m1 0h1m40 0h1m-150 1h1m2 0h1m100 0h3m1 0h1m19 0h1m22 0h1m-151 1h1m12 0h1m87 0h3m2 0h1m9 0h1m9 0h1m-126 1h1m102 0h3m6 0h2m9 0h1m-123 1h1m84 0h4m12 0h3m1 0h1m16 0h2m21 0h1m-146 1h1m84 0h4m12 0h1m1 0h2m16 0h1m-121 1h1m8 0h1m74 0h5m10 0h1m3 0h1m1 0h1m-105 1h1m82 0h5m15 0h1m-103 1h1m81 0h1m2 0h1m10 0h1m1 0h1m1 0h3m20 0h1m6 0h1m-48 1h2m11 0h3m-96 1h1m93 0h3m-98 1h1m93 0h1m1 0h3m1 0h1m-8 1h1m1 0h4m1 0h1m10 0h1m2 0h1m-109 1h1m85 0h2m2 0h2m-4 1h1m1 0h2m-97 1h2m8 0h1m82 0h1m1 0h1m1 0h1m13 0h1m-30 1h1m12 0h1m23 0h1m-74 1h1m46 0h1m2 0h1m3 0h1m20 0h1m-111 1h1m86 1h1m20 0h2m-21 1h1m13 0h1m-110 1h1m109 0h1m-122 1h1m37 0h1m-26 1h2m1 0h1m25 0h1m-26 1h1m33 0h1m66 0h2m-120 1h1m25 0h1m90 0h1m2 0h1m-120 1h2m1 0h1m27 0h1m9 0h1m76 0h1m-118 1h1m29 0h1m21 0h1m44 0h1m2 0h1m1 0h1m2 0h1m1 0h1m-107 1h1m28 0h1m20 0h1m7 0h1m37 0h1m2 0h2m3 0h1m2 0h3m-53 1h2m36 0h2m1 0h2m1 0h3m1 0h1m1 0h1m1 0h2m-110 1h1m50 0h1m46 0h1m2 0h1m1 0h1m1 0h1m2 0h1m-108 1h2m2 0h2m87 0h3m2 0h2m2 0h4m-102 1h1m1 0h2m5 0h1m2 0h1m77 0h1m2 0h4m1 0h1m-101 1h1m7 0h2m2 0h1m1 0h1m75 0h3m1 0h6m-96 1h4m3 0h4m79 0h4m-99 1h1m4 0h7m3 0h3m31 0h1m3 0h2m8 0h1m10 0h1m1 0h2m1 0h1m2 0h1m1 0h1m-84 1h3m2 0h4m5 0h3m2 0h1m1 0h1m21 0h1m2 0h2m1 0h1m6 0h1m5 0h3m2 0h2m3 0h3m1 0h4m2 0h2m-83 1h1m1 0h1m2 0h1m2 0h1m4 0h2m6 0h6m1 0h4m2 0h1m4 0h1m2 0h5m1 0h1m4 0h1m1 0h3m1 0h1m3 0h3m2 0h1m1 0h1m1 0h3m1 0h1m5 0h3m-88 1h1m1 0h1m4 0h2m2 0h3m14 0h3m2 0h3m1 0h5m2 0h3m14 0h1m11 0h3m2 0h1m-77 1h1m4 0h3m1 0h2m16 0h1m3 0h6m7 0h1m31 0h2m-74 1h2m1 0h8m17 0h6m2 0h1m1 0h1m-43 1h1m4 0h10m15 0h10m1 0h1m-34 1h7m18 0h1m1 0h1m-24 1h3m-5 1h2m1 0h1m9 0h1m-10 1h3m2 0h3m-8 1h2m1 0h1m1 0h1"/>
</g>
<g clip-path="url(#za)" stroke="#EBEBEB" stroke-opacity="0.22" fill="none"><path stroke-width="0.270" d="M10 8v153M11 8v153M12 8v153M13 8v153M14 8v153M15 8v153M16 8v153M17 8v153M18 8v153M19 8v153M20 8v153M21 8v153M22 8v153M23 8v153M24 8v153M25 8v153M26 8v153M27 8v153M28 8v153M29 8v153M30 8v153M31 8v153M32 8v153M33 8v153M34 8v153M35 8v153M36 8v153M37 8v153M38 8v153M39 8v153M40 8v153M41 8v153M42 8v153M43 8v153M44 8v153M45 8v153M46 8v153M47 8v153M48 8v153M49 8v153M50 8v153M51 8v153M52 8v153M53 8v153M54 8v153M55 8v153M56 8v153M57 8v153M58 8v153M59 8v153M60 8v153M61 8v153M62 8v153M63 8v153M64 8v153M65 8v153M66 8v153M67 8v153M68 8v153M69 8v153M70 8v153M71 8v153M72 8v153M73 8v153M74 8v153M75 8v153M76 8v153M77 8v153M78 8v153M79 8v153M80 8v153M81 8v153M82 8v153M83 8v153M84 8v153M85 8v153M86 8v153M87 8v153M88 8v153M89 8v153M90 8v153M91 8v153M92 8v153M93 8v153M94 8v153M95 8v153M96 8v153M97 8v153M98 8v153M99 8v153M100 8v153M101 8v153M102 8v153M103 8v153M104 8v153M105 8v153M106 8v153M107 8v153M108 8v153M109 8v153M110 8v153M111 8v153M112 8v153M113 8v153M114 8v153M115 8v153M116 8v153M117 8v153M118 8v153M119 8v153M120 8v153M121 8v153M122 8v153M123 8v153M124 8v153M125 8v153M126 8v153M127 8v153M128 8v153M129 8v153M130 8v153M131 8v153M132 8v153M133 8v153M134 8v153M135 8v153M136 8v153M137 8v153M138 8v153M139 8v153M140 8v153M141 8v153M142 8v153M143 8v153M144 8v153M145 8v153M146 8v153M147 8v153M148 8v153M149 8v153M150 8v153M151 8v153M152 8v153M153 8v153M154 8v153M155 8v153M156 8v153M157 8v153M158 8v153M159 8v153M160 8v153M161 8v153M162 8v153M163 8v153M164 8v153M165 8v153M166 8v153M167 8v153M168 8v153M169 8v153M170 8v153M171 8v153M172 8v153M173 8v153M174 8v153M175 8v153M176 8v153M177 8v153M178 8v153M179 8v153M180 8v153M181 8v153M182 8v153M183 8v153M184 8v153M185 8v153M186 8v153M187 8v153M188 8v153M189 8v153M190 8v153M191 8v153M192 8v153M193 8v153M194 8v153M195 8v153M196 8v153M197 8v153M198 8v153M199 8v153M200 8v153M201 8v153M202 8v153M203 8v153M204 8v153M205 8v153M206 8v153M207 8v153M208 8v153"/><path stroke-width="0.237" d="M10 8h198M10 9h198M10 10h198M10 11h198M10 12h198M10 13h198M10 14h198M10 15h198M10 16h198M10 17h198M10 18h198M10 19h198M10 20h198M10 21h198M10 22h198M10 23h198M10 24h198M10 25h198M10 26h198M10 27h198M10 28h198M10 29h198M10 30h198M10 31h198M10 32h198M10 33h198M10 34h198M10 35h198M10 36h198M10 37h198M10 38h198M10 39h198M10 40h198M10 41h198M10 42h198M10 43h198M10 44h198M10 45h198M10 46h198M10 47h198M10 48h198M10 49h198M10 50h198M10 51h198M10 52h198M10 53h198M10 54h198M10 55h198M10 56h198M10 57h198M10 58h198M10 59h198M10 60h198M10 61h198M10 62h198M10 63h198M10 64h198M10 65h198M10 66h198M10 67h198M10 68h198M10 69h198M10 70h198M10 71h198M10 72h198M10 73h198M10 74h198M10 75h198M10 76h198M10 77h198M10 78h198M10 79h198M10 80h198M10 81h198M10 82h198M10 83h198M10 84h198M10 85h198M10 86h198M10 87h198M10 88h198M10 89h198M10 90h198M10 91h198M10 92h198M10 93h198M10 94h198M10 95h198M10 96h198M10 97h198M10 98h198M10 99h198M10 100h198M10 101h198M10 102h198M10 103h198M10 104h198M10 105h198M10 106h198M10 107h198M10 108h198M10 109h198M10 110h198M10 111h198M10 112h198M10 113h198M10 114h198M10 115h198M10 116h198M10 117h198M10 118h198M10 119h198M10 120h198M10 121h198M10 122h198M10 123h198M10 124h198M10 125h198M10 126h198M10 127h198M10 128h198M10 129h198M10 130h198M10 131h198M10 132h198M10 133h198M10 134h198M10 135h198M10 136h198M10 137h198M10 138h198M10 139h198M10 140h198M10 141h198M10 142h198M10 143h198M10 144h198M10 145h198M10 146h198M10 147h198M10 148h198M10 149h198M10 150h198M10 151h198M10 152h198M10 153h198M10 154h198M10 155h198M10 156h198M10 157h198M10 158h198M10 159h198M10 160h198M10 161h198"/></g></g>
<!-- lb -->
<g transform="translate(960.55 337.45) scale(3.7067 4.2208)"><g transform="translate(0 0.5)" fill="none" stroke-width="1">
<path stroke="#440154" d="M172 9h1m-7 1h1m1 0h1m3 0h1m7 0h1m-16 1h1m14 0h1m-18 1h2m3 0h1m10 0h1m-14 1h1m5 0h2m3 0h2m1 0h1m8 0h1m-15 1h1m9 0h3m-35 1h1m32 0h3m1 0h1m-18 1h1m11 0h2m1 0h2m-5 1h2m2 0h2m-4 1h1m1 0h3m-25 1h1m19 0h3m-40 1h1m1 0h1m31 0h2m4 0h2m-44 1h1m2 0h1m14 0h1m1 0h1m17 0h3m1 0h2m-45 1h1m3 0h1m15 0h1m19 0h2m1 0h1m-45 1h2m42 0h2m-45 1h1m21 0h1m19 0h1m1 0h1m-34 1h1m30 0h5m-5 1h5m-5 1h2m1 0h2m-1 1h1m-10 1h3m1 0h1m1 0h4m-57 1h1m44 0h1m2 0h9m1 0h1m-14 1h2m1 0h2m1 0h2m1 0h2m2 0h1m-60 1h1m48 0h2m1 0h3m1 0h1m2 0h1m-8 1h1m1 0h2m1 0h1m-5 1h1m1 0h2m1 0h3m-7 1h7m-5 1h6m-6 1h5m-4 1h4m-62 1h1m57 0h4m-144 1h2m138 0h4m-144 1h3m72 0h1m65 0h4m-145 1h4m135 0h2m1 0h1m-143 1h5m137 0h3m-145 1h2m1 0h3m130 0h1m2 0h6m-145 1h5m137 0h3m-145 1h7m28 0h8m100 0h1m-144 1h4m1 0h3m26 0h8m1 0h2m-45 1h8m25 0h13m-46 1h8m25 0h4m1 0h9m-47 1h9m23 0h3m1 0h5m1 0h10m-52 1h1m2 0h7m22 0h2m2 0h17m-53 1h10m26 0h5m3 0h8m-52 1h11m21 0h2m1 0h6m6 0h3m1 0h3m-54 1h8m1 0h2m21 0h9m6 0h1m1 0h4m-53 1h1m1 0h1m2 0h1m2 0h3m21 0h5m1 0h3m6 0h5m1 0h1m-54 1h1m3 0h2m1 0h1m1 0h2m20 0h10m6 0h5m-50 1h1m1 0h1m3 0h3m18 0h14m3 0h5m-44 1h3m17 0h12m1 0h8m-22 1h11m1 0h8m-44 1h1m3 0h1m18 0h1m1 0h4m1 0h6m1 0h4m1 0h1m-44 1h1m1 0h1m20 0h2m2 0h1m1 0h8m1 0h2m1 0h2m-42 1h2m3 0h1m14 0h14m1 0h7m-23 1h18m1 0h4m-43 1h2m1 0h4m12 0h22m12 0h1m-54 1h1m1 0h1m7 0h9m1 0h2m1 0h1m1 0h8m1 0h7m-39 1h2m1 0h2m3 0h31m-42 1h1m2 0h2m3 0h1m4 0h15m1 0h13m-37 1h3m6 0h1m1 0h22m1 0h3m-42 1h1m3 0h1m12 0h1m1 0h8m1 0h1m1 0h10m-38 1h1m4 0h1m4 0h1m3 0h13m1 0h4m1 0h2m1 0h2m-40 1h1m4 0h1m8 0h1m1 0h1m1 0h17m1 0h4m-38 1h1m11 0h1m3 0h20m-39 1h1m1 0h1m1 0h1m3 0h1m1 0h1m1 0h1m1 0h1m2 0h1m1 0h20m-39 1h1m3 0h1m1 0h1m2 0h1m2 0h1m3 0h1m1 0h1m1 0h18m-35 1h2m6 0h2m1 0h1m5 0h19m-35 1h1m3 0h1m4 0h1m3 0h1m1 0h13m1 0h5m-37 1h1m8 0h1m1 0h1m2 0h1m4 0h7m1 0h10m-37 1h3m2 0h2m2 0h1m9 0h8m1 0h2m1 0h6m-24 1h2m1 0h1m2 0h9m1 0h8m-74 1h1m37 0h3m1 0h1m4 0h1m2 0h1m3 0h1m4 0h1m1 0h12m-73 1h1m3 0h1m33 0h1m2 0h2m2 0h2m4 0h1m4 0h1m2 0h2m1 0h11m4 0h1m-79 1h1m37 0h1m3 0h2m11 0h5m1 0h14m-74 1h1m35 0h1m1 0h1m1 0h2m3 0h3m2 0h1m6 0h16m3 0h1m-77 1h2m38 0h2m1 0h1m3 0h3m2 0h1m4 0h10m1 0h5m4 0h1m-83 1h1m1 0h4m34 0h2m1 0h1m2 0h5m1 0h1m1 0h1m3 0h1m1 0h2m1 0h14m1 0h1m-78 1h1m2 0h1m5 0h1m25 0h1m1 0h1m2 0h1m2 0h1m2 0h7m3 0h4m3 0h14m-76 1h1m1 0h1m6 0h1m23 0h1m1 0h2m5 0h3m3 0h1m3 0h5m1 0h4m4 0h9m-76 1h2m1 0h1m2 0h1m4 0h2m20 0h8m2 0h1m1 0h1m2 0h1m2 0h2m1 0h5m2 0h2m2 0h2m1 0h8m15 0h1m-90 1h1m4 0h1m1 0h1m1 0h4m1 0h1m15 0h1m2 0h3m1 0h4m2 0h1m3 0h6m1 0h3m1 0h4m3 0h9m15 0h1m-85 1h1m4 0h3m1 0h1m2 0h2m1 0h8m1 0h3m1 0h8m3 0h1m1 0h5m2 0h11m1 0h1m1 0h8m-75 1h1m1 0h2m6 0h2m3 0h1m2 0h1m1 0h2m2 0h2m4 0h4m1 0h4m1 0h2m3 0h9m2 0h2m2 0h5m1 0h8m-71 1h1m7 0h1m6 0h5m6 0h10m1 0h11m3 0h10m3 0h7m-72 1h2m14 0h2m1 0h1m1 0h3m4 0h3m1 0h2m1 0h1m1 0h1m1 0h8m1 0h1m1 0h4m1 0h3m2 0h2m1 0h1m2 0h5m-56 1h7m5 0h1m1 0h1m2 0h1m4 0h3m1 0h1m2 0h15m1 0h5m2 0h4m-70 1h3m13 0h6m3 0h2m5 0h3m1 0h2m2 0h4m1 0h2m1 0h11m1 0h1m1 0h3m2 0h4m-68 1h1m9 0h5m1 0h1m3 0h2m1 0h1m1 0h1m4 0h2m1 0h1m4 0h1m1 0h1m1 0h1m2 0h8m2 0h3m2 0h3m1 0h2m1 0h1m-70 1h1m11 0h3m1 0h2m1 0h1m1 0h1m1 0h2m3 0h1m5 0h1m1 0h2m1 0h1m2 0h3m1 0h1m1 0h2m2 0h6m1 0h6m3 0h1m2 0h2m-74 1h3m7 0h5m2 0h1m4 0h1m1 0h2m2 0h2m1 0h3m3 0h1m4 0h1m2 0h1m1 0h2m2 0h2m1 0h2m1 0h1m3 0h3m1 0h1m1 0h1m7 0h1m-73 1h1m1 0h1m5 0h2m1 0h1m2 0h3m3 0h2m6 0h2m8 0h1m1 0h1m1 0h1m5 0h6m2 0h2m2 0h5m7 0h1m-75 1h1m2 0h1m11 0h2m1 0h1m2 0h2m2 0h1m1 0h1m2 0h2m7 0h1m2 0h1m2 0h1m1 0h1m4 0h1m2 0h7m1 0h3m11 0h2m-66 1h1m4 0h1m5 0h1m3 0h2m9 0h1m2 0h2m3 0h2m1 0h1m4 0h1m1 0h4m3 0h2m9 0h1m1 0h1m-75 1h1m9 0h3m7 0h1m3 0h1m14 0h1m1 0h1m2 0h2m9 0h4m1 0h1m3 0h1m4 0h1m1 0h4m1 0h2m-64 1h1m1 0h2m2 0h1m6 0h1m12 0h2m1 0h2m1 0h2m14 0h2m4 0h3m2 0h1m1 0h3m-66 1h1m2 0h1m3 0h2m8 0h1m10 0h1m2 0h1m1 0h1m15 0h1m8 0h1m1 0h3m3 0h1m-66 1h1m1 0h1m1 0h4m1 0h1m19 0h2m12 0h1m13 0h4m3 0h1m-78 1h1m2 0h1m10 0h9m24 0h1m6 0h1m14 0h1m1 0h1m1 0h1m1 0h1m-65 1h1m3 0h7m7 0h1m15 0h2m17 0h1m4 0h1m3 0h1m-72 1h1m8 0h1m2 0h1m1 0h1m1 0h4m5 0h1m10 0h1m6 0h2m7 0h1m1 0h1m12 0h1m7 0h1m-77 1h2m7 0h1m3 0h2m1 0h2m1 0h4m2 0h1m1 0h1m5 0h4m2 0h1m2 0h1m3 0h2m7 0h1m-46 1h1m2 0h6m1 0h2m3 0h2m-24 1h1m4 0h1m1 0h2m1 0h3m1 0h6m1 0h1m1 0h1m13 0h1m-34 1h1m2 0h1m3 0h7m1 0h2m1 0h1m14 0h1m-38 1h1m2 0h2m3 0h2m1 0h1m1 0h8m1 0h1m-23 1h2m9 0h8m23 0h2m-43 1h1m8 0h5m2 0h2m-8 1h2m1 0h3m66 0h1m-75 1h2m2 0h2m58 0h1m-67 1h1m5 0h1m-2 1h3m40 0h1m-47 1h1m11 0h2m1 0h1m21 0h1m-27 1h2m1 0h2m-5 1h2m1 0h1m30 0h1m-35 1h6m8 0h1m-13 1h4m-4 1h5m-4 1h2m1 0h2m-6 1h4m1 0h1m-4 1h4m-4 1h4m-2 1h4m-4 1h4m-4 1h1m1 0h3m21 0h2m19 0h1m-48 1h3m1 0h1m15 0h1m5 0h2m3 0h2m3 0h1m1 0h1m-40 1h1m1 0h4m15 0h2m4 0h2m1 0h1m7 0h1m5 0h1m-45 1h2m1 0h1m14 0h2m2 0h1m4 0h4m1 0h1m1 0h2m1 0h1m3 0h1m-40 1h3m2 0h1m10 0h1m3 0h1m5 0h2m6 0h2m1 0h1m1 0h1m3 0h1m-44 1h1m1 0h2m11 0h2m1 0h1m2 0h6m1 0h1m1 0h2m1 0h3m-33 1h2m8 0h1m1 0h1m1 0h4m11 0h3m6 0h4m-43 1h3m12 0h1m15 0h2m5 0h1m1 0h1m1 0h1m-33 2h2"/>
<path stroke="#471063" d="M167 9h3m-6 1h2m4 0h2m1 0h1m7 0h1m1 0h1m-21 1h1m2 0h1m1 0h1m1 0h3m1 0h2m1 0h3m1 0h1m-23 1h1m2 0h1m2 0h3m2 0h4m3 0h2m2 0h2m-26 1h2m2 0h4m2 0h1m1 0h3m3 0h1m3 0h1m2 0h1m1 0h1m2 0h1m-33 1h2m1 0h1m3 0h1m4 0h5m10 0h1m-31 1h1m2 0h3m2 0h1m7 0h1m7 0h1m8 0h1m-32 1h2m1 0h1m-4 1h2m15 0h1m12 0h1m-37 1h1m1 0h1m3 0h1m6 0h2m21 0h1m1 0h1m-37 1h1m3 0h1m8 0h3m19 0h2m-41 1h4m1 0h1m2 0h1m10 0h2m19 0h4m-43 1h1m1 0h2m3 0h1m12 0h1m1 0h2m13 0h2m-41 1h2m1 0h3m1 0h1m2 0h1m2 0h1m4 0h1m1 0h2m1 0h2m16 0h1m4 0h1m-49 1h3m3 0h2m1 0h3m4 0h1m4 0h1m1 0h4m18 0h1m-50 1h2m2 0h4m2 0h1m1 0h1m2 0h2m1 0h1m1 0h1m27 0h1m2 0h1m-48 1h2m2 0h2m1 0h1m2 0h1m34 0h1m-46 1h1m44 0h1m2 2h1m-55 1h1m44 0h2m3 0h1m-50 1h1m42 0h1m12 0h1m-14 1h1m-47 1h1m10 0h1m36 0h1m-47 1h1m49 0h1m1 0h1m6 0h1m-9 1h1m4 0h1m-61 1h3m1 0h2m-7 1h5m2 0h1m51 0h1m-61 1h1m1 0h3m26 0h1m2 0h1m25 0h1m-63 1h1m1 0h1m1 0h2m2 0h1m29 0h1m24 0h1m-64 1h1m2 0h2m32 0h1m-41 1h1m14 1h1m48 0h1m1 0h1m-69 1h1m72 0h1m-7 1h1m1 0h1m-139 1h1m134 0h1m-133 1h1m131 0h1m1 0h3m-99 1h1m-40 1h1m37 0h1m100 0h2m-137 1h1m-1 1h1m28 0h1m-3 1h1m5 0h1m-41 1h2m31 0h1m22 0h1m23 0h1m-50 1h3m6 0h3m8 0h2m-20 1h1m6 0h1m4 0h1m7 0h1m1 0h2m-50 1h1m32 0h1m2 0h1m3 0h1m4 0h1m1 0h1m-55 1h1m1 0h2m1 0h2m33 0h1m10 0h1m1 0h1m9 0h1m11 0h1m-75 1h2m4 0h1m32 0h1m4 0h1m6 0h1m9 0h1m-63 1h1m1 0h1m1 0h3m35 0h3m5 0h2m-53 1h4m35 0h1m8 0h4m1 0h1m27 0h1m-81 1h4m1 0h1m1 0h1m28 0h1m8 0h1m1 0h4m26 0h1m-76 1h1m1 0h1m1 0h1m18 0h1m4 0h1m6 0h1m4 0h1m1 0h2m14 0h3m-62 1h1m1 0h4m18 0h2m10 0h1m2 0h1m2 0h1m3 0h1m9 0h1m20 0h1m-80 1h2m3 0h1m30 0h1m7 0h1m9 0h2m4 0h1m-58 1h5m53 0h1m-62 1h1m2 0h1m39 0h1m22 0h1m-67 1h1m1 0h1m1 0h1m1 0h1m2 0h2m9 0h1m2 0h1m1 0h1m8 0h1m7 0h2m1 0h1m4 0h1m4 0h2m-57 1h3m2 0h1m2 0h3m31 0h1m9 0h1m2 0h1m-55 1h1m3 0h3m3 0h2m15 0h1m13 0h1m17 0h1m-61 1h5m3 0h2m1 0h2m2 0h1m26 0h1m5 0h1m3 0h1m5 0h1m2 0h1m-60 1h2m1 0h2m1 0h1m1 0h1m2 0h3m2 0h1m8 0h1m1 0h1m10 0h1m34 0h1m-76 1h2m2 0h3m1 0h1m4 0h3m13 0h1m4 0h1m2 0h1m2 0h1m8 0h1m-49 1h4m1 0h1m1 0h1m1 0h4m1 0h1m1 0h1m22 0h1m33 0h1m4 0h1m-81 1h3m1 0h5m1 0h1m1 0h1m1 0h1m1 0h3m20 0h2m95 0h1m5 0h1m-140 1h1m2 0h2m3 0h1m3 0h2m1 0h1m20 0h1m95 0h1m-134 1h2m3 0h2m1 0h1m3 0h1m4 0h1m18 0h2m104 0h1m-143 1h1m2 0h1m1 0h4m2 0h1m1 0h5m19 0h1m-39 1h3m1 0h1m1 0h1m1 0h1m1 0h2m2 0h2m15 0h1m5 0h2m1 0h1m17 0h1m-57 1h4m4 0h1m1 0h2m1 0h1m1 0h2m7 0h1m10 0h2m15 0h2m1 0h1m1 0h1m-57 1h2m3 0h1m1 0h3m2 0h1m2 0h1m8 0h1m2 0h1m26 0h1m-95 1h2m34 0h5m1 0h1m4 0h2m3 0h1m1 0h2m9 0h1m8 0h1m4 0h1m5 0h1m8 0h1m-96 1h1m1 0h3m33 0h1m3 0h1m2 0h1m1 0h1m1 0h2m1 0h3m1 0h4m1 0h1m12 0h1m7 0h1m11 0h2m81 0h1m-178 1h1m2 0h2m1 0h1m30 0h2m1 0h2m2 0h1m3 0h4m2 0h3m1 0h2m2 0h1m11 0h1m4 0h1m1 0h1m1 0h1m29 0h1m-115 1h1m1 0h1m1 0h2m1 0h1m30 0h1m1 0h3m4 0h2m1 0h1m1 0h1m8 0h1m17 0h1m1 0h1m14 0h1m-96 1h1m1 0h1m2 0h1m34 0h1m2 0h2m4 0h1m24 0h1m3 0h1m26 0h1m-108 1h3m2 0h1m31 0h1m2 0h1m1 0h1m2 0h1m1 0h3m4 0h1m1 0h2m33 0h1m16 0h1m-110 1h1m4 0h3m29 0h2m2 0h1m8 0h1m1 0h1m2 0h2m1 0h1m17 0h1m5 0h1m-82 1h2m4 0h2m1 0h1m25 0h1m1 0h2m2 0h1m11 0h2m4 0h1m23 0h1m6 0h1m-87 1h1m2 0h2m25 0h1m2 0h1m1 0h1m1 0h1m7 0h1m7 0h1m5 0h3m9 0h2m1 0h1m5 0h1m10 0h1m-95 1h1m1 0h2m3 0h2m2 0h1m18 0h1m8 0h2m3 0h2m11 0h2m6 0h1m8 0h1m10 0h1m2 0h1m6 0h1m-97 1h1m1 0h2m1 0h1m1 0h1m1 0h1m6 0h1m11 0h1m1 0h1m1 0h2m3 0h1m4 0h2m1 0h3m10 0h1m4 0h1m11 0h2m7 0h1m4 0h1m-89 1h2m1 0h1m2 0h4m3 0h1m1 0h2m15 0h1m8 0h3m1 0h1m5 0h2m13 0h1m36 0h1m-103 1h1m3 0h1m1 0h3m2 0h2m2 0h2m1 0h1m2 0h2m2 0h4m4 0h1m4 0h1m2 0h1m1 0h1m9 0h2m2 0h2m14 0h1m14 0h1m-89 1h2m4 0h1m1 0h1m6 0h2m5 0h2m1 0h3m10 0h1m11 0h3m10 0h2m19 0h1m-82 1h1m3 0h1m1 0h1m4 0h3m4 0h1m5 0h2m3 0h1m2 0h1m1 0h1m10 0h1m6 0h1m3 0h2m2 0h1m2 0h1m5 0h1m13 0h1m-86 1h4m18 0h1m2 0h1m4 0h2m1 0h4m3 0h1m1 0h1m16 0h1m6 0h1m4 0h1m1 0h1m1 0h1m-76 1h1m3 0h2m6 0h5m8 0h1m2 0h5m3 0h1m2 0h2m4 0h1m2 0h1m11 0h1m1 0h1m9 0h2m12 0h1m6 0h1m-93 1h3m7 0h3m7 0h3m7 0h1m1 0h1m2 0h1m1 0h3m2 0h1m1 0h1m2 0h1m8 0h2m3 0h2m6 0h1m1 0h1m2 0h1m5 0h1m2 0h1m3 0h1m-88 1h1m1 0h1m1 0h2m2 0h5m3 0h1m2 0h1m1 0h1m1 0h1m2 0h1m1 0h1m1 0h2m1 0h2m4 0h1m1 0h2m3 0h1m1 0h1m2 0h1m7 0h1m6 0h1m1 0h1m5 0h1m-70 1h2m1 0h1m6 0h2m1 0h4m1 0h1m2 0h2m7 0h1m5 0h1m1 0h2m1 0h1m2 0h2m2 0h1m2 0h1m1 0h3m3 0h1m1 0h1m4 0h1m1 0h2m1 0h1m23 0h1m-100 1h2m1 0h1m1 0h1m1 0h2m3 0h1m1 0h2m3 0h2m3 0h2m3 0h1m2 0h1m4 0h1m5 0h1m2 0h3m7 0h2m2 0h2m7 0h5m4 0h1m13 0h1m-92 1h2m1 0h1m4 0h4m1 0h1m4 0h2m2 0h2m4 0h1m2 0h1m10 0h2m1 0h1m1 0h2m1 0h1m2 0h1m7 0h1m3 0h1m2 0h1m1 0h2m1 0h3m2 0h3m-81 1h3m4 0h1m1 0h1m4 0h2m4 0h2m4 0h1m2 0h2m1 0h1m2 0h1m1 0h1m1 0h2m2 0h3m2 0h1m1 0h1m1 0h2m1 0h1m4 0h3m2 0h5m1 0h2m2 0h1m2 0h2m-80 1h1m6 0h3m1 0h1m4 0h2m1 0h2m2 0h2m2 0h1m2 0h2m10 0h1m1 0h2m6 0h2m2 0h1m4 0h1m1 0h1m1 0h1m1 0h1m2 0h1m6 0h1m-78 1h3m9 0h2m1 0h1m1 0h1m2 0h1m2 0h1m1 0h2m5 0h1m1 0h1m1 0h2m2 0h2m2 0h1m2 0h1m3 0h1m4 0h1m1 0h3m2 0h1m3 0h1m5 0h2m1 0h1m3 0h1m16 0h1m-98 1h2m13 0h1m3 0h2m2 0h3m4 0h1m1 0h1m2 0h3m1 0h1m3 0h1m2 0h1m8 0h1m1 0h3m1 0h1m4 0h2m2 0h1m2 0h1m4 0h2m-77 1h3m6 0h3m1 0h1m1 0h1m4 0h1m8 0h1m2 0h1m1 0h1m1 0h1m6 0h1m3 0h1m3 0h1m9 0h1m5 0h2m4 0h1m4 0h1m9 0h1m11 0h1m-100 1h1m7 0h3m10 0h1m3 0h5m2 0h2m1 0h4m4 0h1m2 0h1m6 0h2m6 0h1m2 0h1m5 0h1m4 0h1m2 0h1m-81 1h2m3 0h1m4 0h1m1 0h3m7 0h7m3 0h1m1 0h2m2 0h1m8 0h1m3 0h1m1 0h5m1 0h1m6 0h2m2 0h2m2 0h3m-76 1h1m1 0h1m9 0h1m1 0h1m1 0h1m4 0h3m1 0h1m1 0h5m1 0h3m2 0h3m1 0h2m2 0h1m1 0h1m5 0h1m2 0h2m3 0h1m1 0h1m4 0h5m1 0h1m1 0h1m-76 1h2m6 0h3m2 0h1m2 0h1m4 0h2m1 0h1m1 0h1m8 0h1m3 0h1m1 0h3m10 0h3m9 0h1m1 0h2m1 0h1m2 0h1m-70 1h3m1 0h1m7 0h1m2 0h3m3 0h1m6 0h2m1 0h2m3 0h3m2 0h1m2 0h1m4 0h2m1 0h1m2 0h1m5 0h1m-68 1h2m2 0h3m1 0h1m2 0h1m10 0h1m3 0h1m8 0h1m4 0h1m5 0h1m-47 1h2m1 0h1m3 0h2m2 0h2m10 0h1m6 0h1m1 0h1m3 0h1m5 0h1m1 0h1m2 0h1m18 0h1m1 0h1m-66 1h2m2 0h3m2 0h1m1 0h1m8 0h1m9 0h1m2 0h1m3 0h2m1 0h1m1 0h2m2 0h1m1 0h1m11 0h1m1 0h1m12 0h1m-75 1h2m2 0h5m8 0h2m1 0h1m14 0h1m7 0h1m1 0h1m22 0h1m4 0h1m5 0h1m8 0h1m-91 1h1m3 0h2m1 0h3m5 0h2m2 0h1m18 0h1m4 0h2m1 0h1m23 0h1m-68 1h1m4 0h3m6 0h2m13 0h1m2 0h4m5 0h1m15 0h1m4 0h1m5 0h1m-70 1h1m9 0h1m2 0h1m26 0h1m24 0h2m3 0h1m8 0h1m-79 1h1m4 0h2m2 0h1m1 0h1m18 0h1m1 0h1m20 0h1m-53 1h1m1 0h1m2 0h3m12 0h1m15 0h2m20 0h1m18 0h1m-72 1h2m2 0h2m4 0h1m2 0h1m12 0h1m5 0h1m1 0h2m17 0h2m-59 1h1m12 0h1m2 0h1m9 0h1m7 0h1m2 0h1m9 0h1m9 0h1m-42 1h1m1 0h1m21 0h1m3 0h1m11 0h1m19 0h1m-55 1h1m16 0h1m23 0h1m10 0h1m1 0h1m-57 1h1m19 0h1m2 0h2m13 0h1m12 0h1m1 0h1m-37 1h1m6 0h1m29 0h2m1 0h1m-63 1h2m2 0h1m11 0h1m2 0h1m8 0h2m31 0h1m31 0h1m-89 1h1m1 0h1m18 0h3m4 0h1m8 0h2m2 0h1m20 0h1m-66 1h1m4 0h1m9 0h2m5 0h1m3 0h1m-27 1h1m4 0h1m9 0h1m1 0h1m2 0h1m5 0h1m22 0h1m6 0h1m3 0h1m-61 1h3m17 0h1m-21 1h3m4 0h1m33 0h1m4 0h1m1 0h1m3 0h1m-53 1h3m1 0h1m3 0h1m11 0h1m3 0h4m3 0h2m9 0h1m3 0h1m1 0h2m-49 1h2m3 0h1m1 0h1m8 0h1m3 0h1m3 0h1m6 0h2m2 0h1m1 0h1m1 0h1m4 0h1m2 0h3m8 0h2m-60 1h1m1 0h1m16 0h1m1 0h1m10 0h2m1 0h2m3 0h3m1 0h1m1 0h1m1 0h1m11 0h1m-61 1h1m2 0h1m1 0h4m12 0h2m2 0h3m4 0h1m1 0h1m2 0h1m2 0h2m1 0h1m1 0h3m11 0h1m1 0h1m-60 1h1m3 0h1m10 0h2m1 0h3m3 0h3m4 0h1m1 0h2m4 0h1m2 0h1m3 0h1m7 0h4m3 0h1m-62 1h1m1 0h1m2 0h2m1 0h1m5 0h2m4 0h2m6 0h1m1 0h1m2 0h1m3 0h8m1 0h1m23 0h1m-71 1h4m2 0h1m1 0h1m3 0h1m2 0h1m1 0h1m6 0h2m2 0h2m1 0h2m3 0h2m2 0h2m9 0h1m2 0h1m2 0h1m9 0h1m-67 1h1m11 0h1m1 0h3m1 0h2m3 0h1m6 0h2m24 0h1m-53 1h1m6 0h1m3 0h1m17 0h2m6 0h1m13 0h1m2 0h1m-48 1h1m3 0h2m33 0h1m-36 1h1m38 0h1m-45 1h1m-4 1h1m6 0h1m-16 3h1m62 0h1m-47 1h1m-19 6h1"/>
<path stroke="#482173" d="M171 9h1m1 0h1m-12 1h2m3 0h1m1 0h1m8 0h1m-19 1h3m1 0h1m4 0h1m3 0h1m8 0h2m-23 1h1m7 0h1m6 0h1m6 0h1m4 0h1m-15 1h1m10 0h1m-25 1h1m1 0h1m1 0h2m11 0h1m1 0h2m2 0h1m-21 1h1m19 0h1m-35 1h1m2 0h1m14 0h1m15 0h1m-36 1h1m1 0h1m18 0h1m-19 1h1m3 0h2m6 0h1m18 0h1m-37 1h3m1 0h2m4 0h1m4 0h1m20 0h1m-31 1h1m1 0h1m5 0h2m5 0h1m-17 1h1m5 0h1m4 0h1m7 0h1m-19 1h2m7 0h1m22 0h1m-38 1h1m2 0h1m18 0h1m-30 1h2m7 0h1m1 0h2m13 0h2m14 0h1m-45 1h1m1 0h2m2 0h1m6 0h1m-14 1h2m1 0h1m6 0h1m8 0h2m1 0h1m1 0h1m24 1h1m-51 1h1m46 0h1m2 0h1m-50 1h1m-3 2h1m-1 1h1m19 0h1m27 1h2m-51 1h1m50 0h1m-52 1h1m52 0h1m-53 1h1m2 0h1m22 0h1m26 0h1m-55 1h2m-2 1h1m54 0h1m-55 1h1m-10 1h1m8 0h1m-11 1h1m3 0h1m59 1h1m-2 1h1m-52 2h1m49 0h1m5 1h1m-43 2h1m-48 3h1m0 1h1m8 0h1m8 0h1m-28 1h1m0 1h1m-1 1h1m-47 2h1m52 0h2m-51 1h3m45 0h1m8 0h1m2 0h1m-60 1h1m41 0h1m-48 1h2m2 0h1m49 0h1m-10 1h2m13 0h2m1 0h1m-60 1h1m41 0h1m6 0h1m-54 1h2m52 0h1m5 0h1m17 0h1m-26 1h1m7 0h1m-57 1h1m1 0h1m38 0h1m-3 1h1m2 0h1m-46 1h1m6 0h2m32 0h1m1 0h1m13 0h1m-50 1h1m2 0h1m33 0h1m3 0h1m-51 1h1m5 0h1m1 0h1m1 0h2m28 0h1m7 0h1m1 0h1m1 0h2m7 0h1m2 0h1m-63 1h1m5 0h2m30 0h1m18 0h1m46 0h1m-101 1h1m1 0h1m31 0h1m5 0h2m1 0h1m6 0h2m-51 1h1m1 0h1m48 0h1m17 0h1m-78 1h1m3 0h1m3 0h1m3 0h1m26 0h1m1 0h1m4 0h1m1 0h2m-50 1h1m3 0h1m5 0h1m1 0h1m1 0h1m1 0h1m22 0h2m101 0h1m-138 1h1m-1 1h1m7 0h1m3 0h1m30 0h3m5 0h1m-58 1h1m1 0h1m5 0h2m7 0h1m34 0h2m86 0h1m-141 1h1m7 0h1m9 0h1m19 0h2m6 0h1m3 0h1m4 0h1m-93 1h1m2 0h1m38 0h1m2 0h1m41 0h1m4 0h1m-56 1h1m8 0h1m30 0h3m1 0h1m7 0h1m-91 1h1m89 0h1m20 0h1m-109 1h1m2 0h1m38 0h2m6 0h3m20 0h1m3 0h1m-77 1h1m2 0h1m68 0h1m4 0h1m9 0h1m5 0h1m-92 1h2m70 0h1m2 0h1m5 0h1m3 0h1m2 0h3m-90 1h1m69 0h2m4 0h1m1 0h1m9 0h1m-99 1h1m4 0h2m35 0h1m35 0h1m1 0h1m5 0h1m15 0h1m-100 1h1m1 0h1m34 0h1m1 0h1m38 0h1m13 0h1m-88 1h1m36 0h1m38 0h1m-79 1h1m72 0h1m15 0h1m-91 1h1m16 0h1m64 0h1m3 0h1m3 0h1m-89 1h1m1 0h1m36 0h1m31 0h1m-72 1h3m1 0h1m5 0h2m58 0h1m12 0h2m1 0h1m-85 1h2m1 0h1m10 0h1m5 0h2m12 0h1m10 0h1m36 0h1m-77 1h1m1 0h3m8 0h2m3 0h1m57 0h1m-64 1h1m-19 1h1m13 0h1m6 0h1m1 0h1m3 0h1m8 0h1m-38 1h1m3 0h1m19 0h1m42 0h1m9 0h1m-78 1h1m5 0h1m20 0h1m3 0h1m5 0h1m31 0h1m4 0h1m3 0h1m-75 1h1m2 0h1m11 0h1m5 0h1m6 0h3m4 0h1m7 0h1m29 0h1m11 0h1m-86 1h2m5 0h1m3 0h1m15 0h1m3 0h1m2 0h2m11 0h1m13 0h2m1 0h1m2 0h1m16 0h1m-85 1h1m5 0h1m1 0h1m2 0h1m2 0h1m2 0h1m1 0h2m5 0h1m19 0h1m21 0h1m3 0h1m2 0h1m8 0h1m-87 1h1m11 0h1m2 0h1m2 0h1m7 0h1m3 0h1m4 0h2m8 0h1m1 0h1m3 0h2m8 0h1m4 0h1m10 0h1m-77 1h1m9 0h1m6 0h1m2 0h1m2 0h2m1 0h1m4 0h1m14 0h1m4 0h1m10 0h1m2 0h1m-60 1h1m1 0h2m4 0h1m7 0h1m13 0h1m7 0h1m3 0h1m3 0h1m3 0h1m1 0h1m1 0h2m5 0h1m5 0h1m10 0h1m-88 1h1m5 0h2m1 0h1m14 0h1m1 0h1m1 0h1m8 0h1m1 0h3m5 0h1m2 0h2m2 0h2m2 0h1m1 0h3m2 0h1m10 0h2m1 0h1m-80 1h1m4 0h3m6 0h1m10 0h2m6 0h2m2 0h1m4 0h2m1 0h1m6 0h1m1 0h1m3 0h3m1 0h1m5 0h2m5 0h1m1 0h1m1 0h2m1 0h1m4 0h1m-56 1h1m1 0h1m5 0h6m13 0h1m3 0h2m1 0h1m2 0h1m3 0h1m4 0h1m1 0h1m5 0h1m2 0h1m-89 1h1m9 0h1m14 0h1m7 0h1m3 0h1m10 0h1m1 0h1m2 0h1m3 0h1m3 0h2m1 0h1m3 0h1m10 0h1m7 0h1m22 0h1m-106 1h1m2 0h1m21 0h2m9 0h1m8 0h1m3 0h2m5 0h2m2 0h1m9 0h2m1 0h1m-78 1h2m1 0h1m8 0h1m14 0h1m1 0h1m4 0h1m5 0h3m10 0h1m7 0h1m2 0h1m4 0h1m1 0h1m-68 1h1m11 0h1m8 0h1m12 0h2m2 0h5m4 0h1m9 0h4m2 0h1m2 0h1m11 0h1m29 0h1m-110 1h1m17 0h1m16 0h2m1 0h2m3 0h2m1 0h3m14 0h1m11 0h1m-40 1h2m2 0h1m5 0h1m1 0h1m3 0h1m18 0h1m6 0h1m-75 1h1m18 0h1m1 0h1m1 0h1m1 0h3m4 0h1m1 0h2m1 0h1m12 0h2m1 0h1m18 0h1m-74 1h1m2 0h1m13 0h1m1 0h1m2 0h1m8 0h1m6 0h2m2 0h1m2 0h1m3 0h1m11 0h1m-46 1h1m8 0h4m1 0h1m9 0h1m2 0h1m11 0h1m10 0h1m3 0h1m-71 1h2m2 0h2m2 0h1m16 0h2m3 0h1m1 0h1m1 0h1m17 0h1m13 0h2m-67 1h2m4 0h1m8 0h1m3 0h1m7 0h1m11 0h1m6 0h2m10 0h1m3 0h1m15 0h1m1 0h1m-80 1h1m1 0h1m13 0h1m9 0h1m14 0h2m4 0h1m6 0h1m3 0h1m4 0h1m14 0h1m-77 1h2m23 0h1m7 0h2m1 0h1m4 0h1m5 0h1m6 0h1m16 0h1m-72 1h1m17 0h1m8 0h1m2 0h1m3 0h2m6 0h1m2 0h1m1 0h2m26 0h1m-58 1h1m12 0h1m1 0h2m2 0h1m8 0h1m5 0h1m21 0h1m-56 1h1m8 0h1m3 0h1m6 0h2m6 0h1m-34 1h1m16 0h1m4 0h1m4 0h1m4 0h1m21 0h1m2 0h1m2 0h2m51 0h1m-97 1h2m12 0h1m5 0h1m23 0h1m-63 1h1m26 0h1m3 0h1m7 0h1m15 0h1m4 0h1m2 0h1m-63 1h1m15 0h1m1 0h1m10 0h1m30 0h2m-61 1h1m13 0h1m5 0h1m5 0h1m5 0h2m8 0h1m11 0h1m5 0h1m40 0h1m-102 1h1m7 0h1m6 0h1m1 0h1m2 0h1m3 0h1m4 0h1m-30 1h1m15 0h1m1 0h2m3 0h1m5 0h1m19 0h1m1 0h2m7 0h1m-61 1h1m17 0h1m1 0h1m4 0h1m1 0h1m1 0h3m12 0h1m1 0h1m1 0h1m1 0h3m3 0h1m-39 1h1m3 0h1m1 0h1m9 0h1m7 0h1m9 0h1m7 0h1m-38 1h1m1 0h1m1 0h1m1 0h1m2 0h1m5 0h1m4 0h1m1 0h1m1 0h2m10 0h1m-50 1h1m11 0h1m4 0h1m1 0h1m2 0h1m3 0h1m2 0h2m15 0h1m4 0h1m-81 1h1m38 0h1m5 0h1m24 0h1m2 0h1m4 0h1m2 0h1m3 0h1m-65 1h2m5 0h1m16 0h1m6 0h2m1 0h1m4 0h1m3 0h1m16 0h1m1 0h1m3 0h1m-66 1h1m13 0h1m31 0h1m8 0h1m1 0h1m-58 1h1m26 0h1m11 0h1m17 0h1m-58 1h1m6 0h1m7 0h1m6 0h1m4 0h1m10 0h1m2 0h1m1 0h1m1 0h1m5 0h1m3 0h1m1 0h1m1 0h1m4 0h1m1 0h1m-63 1h1m13 0h1m3 0h1m14 0h1m4 0h1m2 0h3m5 0h1m1 0h1m-36 1h1m24 0h1m12 0h1m7 0h1m-59 1h1m4 0h1m38 0h1m2 0h1m3 0h1m-5 1h1m3 0h1m-35 1h1m-21 1h1m8 0h1m-3 1h1m9 1h1m-6 1h1"/>
<path stroke="#463480" d="M169 8h1m0 1h1m-10 1h1m13 0h1m3 0h1m2 0h1m-16 1h1m8 0h1m7 0h1m-11 1h1m5 0h1m-21 1h1m4 0h1m2 0h1m7 0h1m4 0h1m1 0h1m-30 1h1m4 0h2m11 0h3m2 0h1m1 0h1m-22 1h1m4 0h1m9 0h3m1 0h1m1 0h1m-28 1h1m3 0h1m3 0h1m1 0h2m3 0h1m2 0h1m-21 1h1m1 0h2m8 0h1m-10 2h1m1 0h2m9 0h1m-4 1h1m5 0h1m2 0h1m10 0h1m-39 1h1m10 0h1m-14 1h1m27 0h1m12 0h1m-20 1h1m-4 1h5m-21 1h1m2 0h1m10 0h1m1 0h1m6 0h2m16 0h1m-40 1h1m2 0h1m10 0h1m2 0h1m-29 1h1m13 0h1m-13 1h1m46 0h1m-49 1h1m-3 1h1m1 1h1m-1 1h1m2 1h1m25 2h1m-36 2h1m-1 1h1m5 0h1m25 0h1m5 0h1m-43 1h1m32 0h1m2 0h1m27 0h1m-62 1h1m2 0h1m2 1h1m-10 1h1m-3 2h1m61 0h1m5 2h1m-67 2h1m-9 1h1m-1 1h1m-13 2h1m2 0h2m-16 1h1m16 0h2m8 0h1m-18 1h1m9 0h1m-6 3h1m13 0h1m-15 1h1m-60 1h1m51 0h3m6 0h1m9 0h1m-25 1h1m3 0h1m12 1h1m-63 2h1m52 0h1m1 0h1m5 0h1m12 0h1m4 0h1m-26 1h1m8 0h1m-58 1h1m35 0h1m7 0h1m1 0h1m-12 1h1m18 0h1m-17 1h4m2 0h1m24 0h1m-34 1h1m4 0h1m6 0h1m-7 1h1m12 0h1m-53 1h1m31 0h1m4 0h1m7 0h1m5 0h2m-9 1h1m8 0h1m77 0h1m-102 1h1m7 0h1m12 0h1m11 0h1m66 1h1m-99 1h1m2 0h1m5 0h1m5 0h1m14 0h1m-74 1h1m48 0h1m6 0h1m4 0h1m11 0h1m69 0h1m-99 1h1m5 0h1m-46 1h1m37 0h1m5 0h1m-12 1h1m1 0h1m16 0h1m-21 1h1m6 0h1m-8 1h1m7 0h3m6 0h1m-92 1h1m50 0h1m26 0h1m4 0h1m14 0h1m1 0h1m-11 1h2m2 0h1m-93 1h1m74 0h1m1 0h2m4 0h1m3 0h1m1 0h1m10 0h1m-101 1h1m69 0h3m6 0h1m-79 1h1m69 0h1m-73 1h1m71 0h1m7 0h2m16 0h1m2 0h1m-108 1h1m5 0h1m71 0h1m2 0h1m4 0h1m1 0h1m3 0h1m-14 1h1m4 0h1m1 0h1m5 1h1m10 0h1m2 0h1m-101 1h1m71 0h2m11 0h1m8 0h1m-85 1h1m61 0h1m1 0h1m-69 1h1m14 0h1m50 0h1m1 0h1m12 0h1m-79 1h1m60 0h2m14 0h1m-85 1h2m1 0h1m18 0h1m45 0h1m4 0h1m-69 1h1m65 0h2m2 0h1m3 0h1m7 0h1m-86 1h2m2 0h1m19 0h1m43 0h1m4 0h2m10 0h1m-59 1h1m3 0h1m40 0h1m11 0h1m-86 1h1m2 0h1m28 0h1m1 0h2m46 0h1m1 0h2m-63 1h1m6 0h1m33 0h1m7 0h2m7 0h1m14 0h1m-95 1h1m2 0h1m19 0h1m21 0h1m-47 1h2m1 0h1m1 0h1m1 0h1m7 0h1m15 0h1m1 0h1m-36 1h1m4 0h1m25 0h1m2 0h3m2 0h1m8 0h1m22 0h1m-68 1h1m3 0h1m1 0h1m19 0h1m1 0h1m4 0h2m12 0h3m2 0h1m3 0h1m19 0h1m3 0h1m-84 1h1m2 0h1m5 0h1m4 0h1m11 0h2m3 0h2m6 0h1m7 0h3m2 0h1m14 0h1m22 0h1m-84 1h1m1 0h1m18 0h1m29 0h1m4 0h1m29 0h1m-87 1h1m38 0h1m13 0h1m4 0h1m18 0h2m-80 1h1m2 0h1m38 0h3m9 0h1m19 0h1m-69 1h1m29 0h1m8 0h1m14 0h2m-61 1h1m24 0h1m6 0h1m13 0h1m6 0h1m3 0h1m2 0h2m1 0h1m8 0h1m-49 1h2m14 0h1m3 0h1m9 0h1m4 0h1m1 0h1m14 0h2m-56 1h2m4 0h1m2 0h1m18 0h1m11 0h2m-64 1h1m4 0h1m32 0h1m7 0h1m1 0h1m1 0h1m7 0h1m11 0h1m-51 1h2m5 0h1m4 0h1m14 0h1m3 0h1m3 0h2m4 0h1m9 0h1m12 0h1m-83 1h1m15 0h1m2 0h1m3 0h1m3 0h2m17 0h1m1 0h1m5 0h1m5 0h2m5 0h1m9 0h1m-62 1h1m1 0h1m11 0h1m1 0h1m1 0h1m9 0h3m2 0h1m10 0h1m5 0h2m3 0h1m6 0h1m-82 1h1m2 0h1m17 0h1m3 0h1m14 0h1m5 0h1m2 0h1m4 0h1m7 0h1m3 0h1m6 0h1m4 0h1m1 0h1m-78 1h2m23 0h3m1 0h1m1 0h1m1 0h1m6 0h1m10 0h1m3 0h1m4 0h1m5 0h1m11 0h1m-78 1h1m4 0h1m3 0h1m6 0h1m13 0h1m1 0h2m1 0h2m3 0h1m2 0h1m3 0h1m1 0h1m8 0h1m2 0h1m1 0h3m1 0h4m-69 1h1m6 0h1m6 0h1m7 0h1m7 0h1m5 0h1m3 0h1m2 0h1m4 0h3m7 0h2m1 0h3m3 0h1m-72 1h1m20 0h1m21 0h1m2 0h1m2 0h1m3 0h1m1 0h1m2 0h1m5 0h1m3 0h1m2 0h1m3 0h2m-73 1h1m20 0h1m14 0h1m1 0h1m3 0h2m7 0h1m2 0h1m10 0h1m7 0h1m-48 1h1m2 0h1m4 0h2m1 0h1m6 0h1m2 0h1m16 0h1m-41 1h1m8 0h1m1 0h1m4 0h1m1 0h1m9 0h1m2 0h1m-44 1h1m13 0h1m16 0h1m3 0h1m5 0h1m1 0h1m20 0h1m-72 1h1m7 0h1m5 0h1m7 0h1m4 0h1m1 0h1m2 0h3m1 0h1m3 0h1m9 0h1m51 0h1m-88 1h1m12 0h1m10 0h1m1 0h1m11 0h1m5 0h1m5 0h1m37 0h1m-82 1h1m2 0h1m2 0h1m4 0h1m22 0h1m1 0h2m1 0h2m3 0h1m6 0h1m-50 1h1m2 0h2m8 0h1m1 0h1m10 0h1m2 0h1m5 0h1m6 0h1m1 0h1m2 0h3m-46 1h1m8 0h1m23 0h1m2 0h1m2 0h1m-51 1h1m11 0h1m25 0h2m2 0h1m2 0h1m4 0h1m-50 1h1m7 0h1m1 0h1m2 0h1m1 0h1m10 1h1m5 0h1m3 0h1m2 0h1m-49 1h1m16 0h1m10 0h1m15 0h1m7 0h3m1 0h1m5 0h1m-54 1h1m10 0h1m5 0h1m1 0h1m22 0h1m3 0h1m1 0h1m12 0h1m-21 1h1m13 0h1m-54 1h2m34 0h1m1 0h1m5 0h1m30 0h1m-76 1h1m45 0h1m1 0h1m2 0h1m3 0h1m14 0h2m3 0h1m-61 1h1m16 0h1m15 0h1m3 0h1m1 0h1m3 0h2m15 0h1m-83 1h1m11 0h1m12 0h1m-22 1h1m9 0h2m3 0h2m2 0h1m19 0h1m9 0h1m-49 1h1m14 0h1m33 0h1m1 0h1m4 0h1m-6 1h1m2 0h1m-63 1h1m61 0h1m-51 1h1m4 2h1m3 1h2m3 1h1m-4 1h1"/>
<path stroke="#3E4989" d="M177 10h1m-18 2h1m23 0h1m2 0h1m-5 2h1m-33 1h1m2 0h1m4 0h1m2 0h1m2 0h1m5 0h2m-15 1h1m15 0h1m-18 1h1m2 0h1m7 0h1m3 0h1m-22 1h1m11 0h1m3 0h1m4 0h1m-5 1h1m1 0h1m-15 1h1m1 0h1m5 0h1m6 0h1m-19 1h1m1 0h1m1 0h1m-14 1h1m11 0h1m2 0h1m4 0h1m5 0h1m-29 1h1m43 0h1m-31 1h1m3 0h1m-7 1h1m-11 1h1m2 0h1m6 0h1m-17 1h1m8 0h1m17 0h1m-26 1h2m45 0h1m-48 1h1m-2 2h1m-2 2h1m-5 1h1m3 0h1m-1 2h1m22 0h1m2 0h1m1 0h1m-29 1h1m24 0h2m14 0h1m10 0h1m-56 1h1m29 0h1m11 0h2m-45 1h1m1 0h1m1 0h1m23 0h1m12 0h1m-46 1h1m7 0h1m-10 1h1m8 1h1m-13 3h1m-1 1h1m1 0h1m1 1h1m5 0h1m58 0h1m-63 2h1m-12 1h1m-11 1h1m13 0h1m-10 1h1m-10 1h1m4 0h1m4 0h1m-24 1h1m2 0h1m34 0h1m2 0h1m-42 1h1m18 0h1m-56 1h1m35 0h1m1 0h2m9 0h1m-1 1h1m23 0h1m-18 1h2m10 0h1m-68 1h1m55 0h1m-12 1h2m-7 1h1m1 0h2m1 0h1m6 1h1m1 0h1m2 0h1m-20 2h1m1 0h1m12 0h1m-12 1h1m3 0h1m5 0h1m1 0h1m2 0h1m-17 1h1m4 0h1m3 1h1m4 0h1m-17 1h1m3 0h1m3 0h1m7 0h1m-17 2h2m10 0h1m-17 1h1m3 0h1m4 0h2m3 0h1m18 0h1m-33 1h2m1 0h1m5 0h1m4 0h1m17 0h1m-2 1h2m-27 1h1m94 0h1m-97 1h1m2 0h2m22 0h1m-37 1h1m7 0h1m6 0h1m4 0h1m14 0h1m-36 1h1m6 0h1m11 0h1m-46 1h1m32 0h1m8 0h1m17 0h1m-35 1h1m6 0h1m-10 1h1m4 0h1m2 0h1m28 0h1m-37 1h1m5 0h1m0 1h1m7 0h1m19 0h1m-36 1h1m6 0h1m2 0h1m5 0h1m4 0h1m-19 1h1m1 0h1m10 0h1m12 0h1m-21 1h2m4 0h1m3 0h1m-19 1h4m15 0h1m8 0h1m-26 1h2m2 0h1m7 0h1m12 0h1m-101 1h1m71 0h1m1 0h1m11 0h1m11 0h1m1 0h1m-20 1h1m5 0h2m-20 1h1m20 0h1m-20 1h1m1 0h1m6 0h2m2 0h2m-6 1h1m5 0h2m-80 1h1m65 0h1m13 0h1m-87 1h1m1 0h2m70 0h1m8 0h1m-84 1h1m4 0h1m65 0h1m-70 1h1m-2 1h1m68 0h1m5 0h1m4 0h2m-19 1h1m8 0h2m3 0h2m2 0h1m10 0h1m-70 1h1m9 0h1m6 0h1m31 0h1m4 0h1m-57 1h1m7 0h1m3 0h1m52 0h1m2 0h1m-61 1h1m36 0h1m-61 1h1m23 0h1m16 0h1m32 0h2m-83 1h1m3 0h1m60 0h1m-66 1h2m1 0h1m2 0h1m17 0h1m10 0h1m42 0h1m3 0h1m-58 1h1m4 0h2m1 0h1m6 0h1m3 0h1m5 0h1m3 0h1m9 0h2m13 0h2m1 0h1m3 0h1m-87 1h1m7 0h1m16 0h1m16 0h1m18 0h1m-61 1h2m26 0h1m30 0h1m16 0h1m5 0h1m-77 1h1m43 0h1m30 0h1m2 0h1m-78 1h1m42 0h1m10 0h1m16 0h1m6 0h1m13 0h1m-99 1h1m1 0h1m32 0h1m9 0h1m6 0h1m3 0h1m4 0h1m2 0h1m6 0h1m3 0h1m6 0h1m3 0h1m-54 1h1m12 0h1m6 0h1m1 0h2m6 0h1m5 0h1m5 0h1m-73 1h1m52 0h3m4 0h1m2 0h1m3 0h1m4 0h1m3 0h1m-50 1h1m12 0h1m10 0h1m2 0h1m15 0h1m-38 1h1m4 0h1m3 0h1m5 0h1m10 0h1m1 0h2m2 0h1m10 0h3m-57 1h1m3 0h2m1 0h1m8 0h1m12 0h1m1 0h2m4 0h1m11 0h1m3 0h3m4 0h1m-84 1h1m4 0h1m14 0h1m4 0h1m7 0h1m6 0h1m24 0h1m14 0h1m-66 1h2m1 0h2m1 0h1m4 0h1m12 0h1m3 0h1m7 0h1m5 0h1m2 0h1m12 0h1m5 0h1m3 0h1m-56 1h2m1 0h1m14 0h1m10 0h1m4 0h1m1 0h1m15 0h1m-63 1h2m2 0h1m1 0h1m1 0h1m7 0h3m1 0h1m2 0h1m6 0h1m3 0h2m21 0h1m3 0h1m3 0h1m11 0h1m-91 1h1m12 0h1m6 0h2m9 0h3m11 0h1m4 0h1m9 0h1m10 0h1m4 0h2m-79 1h1m29 0h1m2 0h2m7 0h1m8 0h2m3 0h1m5 0h1m4 0h1m6 0h1m-61 1h1m6 0h1m6 0h1m13 0h1m1 0h1m13 0h1m14 0h2m-47 1h1m3 0h2m1 0h1m8 0h1m2 0h2m4 0h2m2 0h1m9 0h2m1 0h1m3 0h1m4 0h1m-52 1h1m7 0h1m5 0h1m32 0h1m14 0h1m-76 1h1m13 0h1m16 0h1m14 0h1m10 0h2m6 0h1m-51 1h2m1 0h1m6 0h2m16 0h1m10 0h1m4 0h1m4 0h2m-41 1h1m9 0h1m1 0h1m4 0h1m2 0h1m2 0h1m9 0h1m4 0h1m31 0h1m-87 1h1m13 0h2m6 0h1m4 0h1m1 0h1m6 0h1m9 0h1m4 0h1m35 0h1m-81 1h1m10 0h1m25 0h1m2 0h1m5 0h1m1 0h1m-41 1h1m4 0h1m-2 1h1m27 0h1m-45 1h1m12 0h1m5 0h1m6 0h1m2 0h1m6 0h1m-26 1h1m36 0h1m4 0h2m8 0h1m-55 1h1m25 0h1m3 0h1m3 0h2m5 0h1m3 0h1m2 0h1m-56 1h1m28 0h1m11 0h1m3 0h1m7 0h1m-14 1h2m3 0h1m5 0h1m-8 1h1m10 0h1m2 0h1m9 0h1m-64 1h1m32 0h1m5 0h1m11 0h1m4 0h1m-59 1h1m17 0h1m3 0h1m2 0h1m2 0h1m12 0h2m5 0h1m4 0h1m11 0h1m-66 1h1m39 0h1m5 0h2m-44 1h1m2 0h1m2 0h1m28 0h1m2 0h1m4 0h1m1 0h1m-41 1h2m35 0h1m5 0h2m-78 1h1m17 0h1m44 0h3m2 0h2m-61 1h1m9 0h1m50 0h1m3 0h1m-57 1h1m11 0h1m7 0h1m-13 1h1m2 0h1m8 0h1m-3 1h1m-5 1h2m-4 1h1m-15 4h1m2 1h1"/>
<path stroke="#365D8D" d="M170 8h1m14 4h1m-19 3h1m2 0h1m-7 2h1m4 0h1m3 0h1m-19 1h1m13 0h2m11 0h1m-14 1h1m-3 1h1m5 0h1m-28 1h1m15 0h1m1 0h1m-2 2h1m-6 1h1m2 0h1m-22 1h1m18 0h1m7 0h2m-31 1h1m2 0h1m14 0h2m10 0h1m-29 1h1m41 1h1m-44 2h1m0 2h1m-5 1h1m2 0h1m43 0h2m-46 1h2m26 0h1m-29 1h1m48 0h1m0 1h1m-60 1h1m41 0h1m1 0h1m-12 1h1m9 0h1m1 0h1m-46 1h1m8 1h1m-14 1h1m0 1h1m62 0h1m-66 1h1m8 0h1m13 0h1m-11 2h1m-2 1h1m2 0h1m1 0h1m47 0h1m-58 1h1m62 1h1m-72 1h1m10 0h1m-3 1h1m-28 1h1m3 0h1m1 0h1m2 0h1m-22 2h1m20 0h1m16 0h1m-25 1h1m-14 2h1m15 0h1m1 0h1m-2 2h1m1 1h1m12 0h1m-28 1h1m1 0h1m5 0h1m3 0h1m5 0h1m11 0h1m-79 1h1m77 0h1m-34 1h1m2 0h1m3 0h1m5 0h1m18 0h1m-33 1h1m13 0h1m-16 1h1m6 0h1m10 0h1m-15 1h1m13 0h1m-9 1h1m-11 1h1m5 0h2m2 0h2m5 0h1m4 1h1m-15 1h1m1 1h1m2 0h1m19 0h1m62 1h1m-101 1h1m15 0h1m6 0h1m12 0h1m1 0h1m61 0h1m-101 1h1m4 1h1m93 0h1m-99 1h1m2 0h1m5 0h1m3 0h1m4 0h1m12 0h1m-74 1h1m44 0h1m10 0h1m85 0h1m-94 1h1m-9 1h1m3 0h1m5 0h2m90 0h1m-103 1h1m12 0h1m2 0h1m1 1h1m14 0h1m-35 1h1m15 0h1m4 0h1m-22 1h1m6 0h1m4 0h1m-2 1h1m-11 2h1m4 0h1m4 0h2m3 0h1m14 0h1m-30 2h1m15 0h1m-21 1h1m6 0h1m3 0h1m-2 1h1m-8 1h1m10 0h1m2 0h1m1 0h1m3 0h1m-20 1h1m1 0h1m-71 1h1m83 0h1m-86 1h1m80 0h2m-81 1h1m66 0h2m8 0h1m1 0h2m-85 1h2m1 0h1m67 0h1m1 0h1m4 0h1m-77 1h1m67 0h1m5 0h1m5 0h1m10 0h2m-22 1h1m2 0h1m-3 1h1m0 1h1m7 0h1m-54 1h1m52 0h2m8 0h1m-99 1h1m4 1h2m75 0h1m5 0h1m1 0h2m-7 1h1m11 0h1m-89 1h1m35 0h1m8 0h1m14 0h1m-63 1h1m24 0h1m37 0h1m14 0h1m1 0h1m-35 1h1m1 0h1m11 0h1m18 0h1m4 0h1m2 0h1m-88 1h1m2 0h1m29 0h1m14 0h1m28 0h2m4 0h1m12 0h1m-95 1h1m68 0h1m9 0h1m3 0h2m-40 1h1m1 1h1m2 0h1m16 0h1m1 0h1m4 0h1m-31 1h2m2 0h1m5 0h1m16 0h1m4 0h1m-25 1h1m4 0h1m8 0h1m2 0h1m7 0h1m3 0h1m1 0h3m7 0h2m-71 1h1m5 0h1m22 0h1m4 0h1m8 0h1m5 0h1m1 0h1m6 0h1m-51 1h1m13 0h1m3 0h1m7 0h1m22 0h1m1 0h1m2 0h1m-63 1h1m5 0h1m35 0h1m12 0h1m3 0h1m-82 1h1m2 0h1m12 0h1m1 0h1m16 0h1m5 0h1m1 0h1m1 0h1m4 0h1m8 0h1m20 0h1m-67 1h1m22 0h1m1 0h1m4 0h3m2 0h2m7 0h1m1 0h1m1 0h1m8 0h1m1 0h2m-59 1h1m7 0h1m8 0h1m2 0h1m3 0h1m3 0h1m3 0h1m1 0h1m5 0h1m22 0h1m-55 1h1m2 0h1m10 0h1m17 0h1m12 0h1m-70 1h1m7 0h1m46 0h1m4 0h1m1 0h1m2 0h1m-60 1h1m48 0h1m10 0h1m12 0h1m-46 1h1m11 0h1m4 0h2m22 0h1m3 0h1m-30 1h1m8 0h1m13 0h1m2 0h1m1 0h1m-66 1h1m8 0h1m7 0h1m4 0h1m1 0h1m11 0h1m2 0h1m-42 1h1m20 0h1m6 0h1m3 0h1m5 0h1m7 0h1m6 0h1m6 0h1m-35 1h1m5 0h1m4 0h1m1 0h1m2 0h1m5 0h1m8 0h1m3 0h1m39 0h1m-89 1h1m6 0h1m3 0h1m2 0h1m9 0h1m12 0h1m6 0h1m6 0h1m6 0h1m-57 1h1m15 0h1m5 0h1m3 0h1m4 0h1m10 0h2m8 0h1m31 0h1m-72 1h2m19 0h1m9 0h1m-45 1h1m7 0h1m8 0h1m1 0h1m4 0h1m14 0h1m8 0h1m1 0h1m-32 1h1m26 0h1m1 0h2m1 0h2m-62 1h1m37 0h1m5 0h1m9 0h1m2 0h1m1 0h1m1 0h1m-70 1h1m8 1h1m50 0h1m13 0h1m-56 1h1m46 0h1m1 0h1m6 0h1m-41 1h1m23 0h1m14 0h1m2 0h1m-54 1h1m34 0h1m1 0h1m9 0h1m5 0h1m-36 1h1m22 0h1m6 0h1m15 0h1m2 0h1m-57 1h1m14 0h1m7 0h1m34 0h1m-80 1h1m19 0h1m10 0h1m3 0h1m1 0h1m15 0h1m-52 1h1m29 0h1m20 0h1m6 0h1m-50 1h2m2 0h1m31 0h2m2 0h1m7 0h1m3 0h1m-80 1h1m30 0h1m43 0h1m4 0h1m-63 1h2m1 0h1m18 0h1m-20 1h1m12 0h1m3 0h1m11 0h1m-33 1h1m4 0h1m7 0h1m6 0h1m-9 1h1m-13 1h1m7 0h1m9 0h1m-8 1h1m-12 5h1"/>
<path stroke="#2E6F8E" d="M174 10h1m13 1h1m-32 3h1m11 1h1m11 0h1m-31 1h1m4 1h1m1 0h1m24 0h1m-35 1h1m18 0h1m-10 1h1m1 0h1m-5 3h1m-3 1h2m14 0h1m-27 3h1m-7 1h1m15 0h1m11 0h1m1 0h1m17 0h1m-51 1h1m-2 3h1m16 0h1m3 0h1m22 0h1m-22 2h1m-25 1h1m39 1h1m4 0h1m-15 2h1m2 0h1m3 0h1m6 0h1m-9 1h1m-42 1h1m39 0h1m-43 1h1m5 0h1m-6 1h1m7 0h1m2 2h2m-12 1h1m3 1h1m56 1h1m-64 1h1m2 0h1m-9 1h3m70 0h1m-71 1h2m-15 2h1m3 0h1m-10 1h1m9 0h1m14 1h1m-25 1h1m3 0h1m16 0h1m-35 1h2m9 0h2m10 0h1m-12 1h2m-1 1h2m21 0h1m-24 1h1m8 0h1m-7 1h1m-12 1h1m26 0h1m2 0h1m-27 1h1m17 0h1m-1 2h1m-6 2h1m7 0h1m2 0h1m-32 1h1m13 0h1m-8 1h1m10 0h1m8 0h1m-29 1h1m18 0h1m80 0h1m-104 1h2m14 0h2m4 0h1m-12 1h1m20 0h1m-31 1h1m16 0h1m-20 1h1m8 0h1m-8 1h1m13 0h1m-15 1h1m3 0h1m7 0h1m15 0h1m-34 1h1m3 0h1m2 0h1m10 0h1m12 0h1m6 0h1m64 0h1m-94 2h1m3 1h1m84 0h2m-99 1h1m1 0h1m15 0h1m11 0h1m-22 1h1m8 0h1m-14 1h1m1 0h1m24 0h1m-36 1h1m8 0h1m11 0h1m11 0h1m-16 1h2m3 0h1m-13 1h1m3 0h1m-59 1h1m47 0h1m4 1h1m6 0h1m1 0h1m1 0h1m8 0h1m-103 1h1m24 0h1m60 0h1m3 0h1m12 0h1m-97 1h1m81 0h1m8 0h1m1 0h1m2 1h1m-31 1h1m7 0h1m7 0h1m-82 2h1m61 0h1m1 0h1m11 0h1m7 0h1m-17 1h1m7 0h1m4 1h1m-12 1h2m9 0h1m-15 1h1m14 0h1m8 0h1m-12 1h1m1 1h1m-56 2h1m48 0h1m6 0h1m-8 1h1m6 0h1m6 0h1m-9 2h1m-1 2h1m-40 1h1m37 0h1m-52 1h1m43 1h1m3 0h1m-52 1h1m15 0h1m33 0h1m2 0h1m1 0h1m3 0h1m-87 1h1m26 0h1m42 0h2m1 0h1m16 0h1m-66 1h1m29 0h1m13 0h1m3 0h1m-52 1h2m24 0h1m9 0h1m-34 1h1m23 0h1m13 0h1m2 0h1m4 0h1m6 0h2m-36 1h1m2 0h1m18 0h1m2 0h1m-45 1h1m2 0h1m2 0h1m33 0h1m1 0h1m5 0h1m4 0h1m1 0h1m3 0h1m-47 1h1m11 0h1m4 0h1m9 0h1m4 0h1m5 0h1m6 0h1m10 0h1m-73 1h2m31 0h1m1 0h1m19 0h1m5 0h1m11 0h1m-64 1h1m26 0h1m10 0h1m-39 1h1m10 0h1m18 0h1m8 0h1m4 0h1m-27 1h1m23 0h1m-68 1h1m8 0h1m14 0h1m11 0h1m30 0h1m-69 1h1m1 0h1m24 0h1m12 0h1m21 0h1m2 0h1m9 0h1m-23 1h1m23 0h1m-50 1h1m15 0h1m3 0h1m2 0h1m12 0h2m9 0h1m30 0h1m-87 1h1m28 0h1m3 0h1m3 0h1m7 0h1m-61 1h1m25 0h1m3 0h2m15 0h1m4 0h1m27 0h1m-43 1h1m4 0h1m28 0h1m5 0h1m-25 1h1m3 0h1m5 0h2m8 0h2m28 0h1m-89 1h1m18 0h1m5 0h1m11 0h1m11 0h1m2 0h1m-61 1h1m24 0h2m4 0h3m21 0h1m-67 1h1m26 0h1m5 0h1m21 0h1m-57 1h1m3 0h1m27 0h1m17 0h1m17 0h2m5 0h2m-54 1h1m44 0h1m19 1h1m-30 1h1m5 0h1m15 0h1m3 0h1m-60 1h1m3 0h1m34 1h1m1 0h1m9 0h1m3 0h1m16 0h1m-85 1h1m25 0h1m23 0h1m15 0h1m13 0h1m5 0h1m-86 1h1m29 0h1m18 0h1m27 0h1m4 0h1m-80 1h1m11 0h1m10 0h1m7 0h1m7 0h1m-44 1h1m25 0h1m39 0h1m-2 1h1m-63 1h1m15 0h1m43 0h1m1 0h3m-55 1h1m47 0h1m3 0h1m-61 1h1m9 0h1m2 0h1m2 0h2m40 0h1m-55 1h1m3 0h1m8 0h1m-14 1h1m3 0h1m3 0h1m10 0h1m11 0h1m-17 1h1m4 0h1m-6 1h1m-15 4h1m-3 1h1m-1 2h1"/>
<path stroke="#27808E" d="M178 15h1m1 0h1m2 0h1m-25 1h1m6 0h1m2 0h1m7 0h1m-30 1h1m22 1h1m1 0h1m-28 1h1m23 1h1m1 1h1m-17 4h1m-4 1h1m10 0h1m5 0h1m-18 1h1m-11 1h1m39 0h1m-4 1h1m-41 2h2m9 0h1m15 0h1m-27 1h1m-7 1h1m21 0h1m10 0h1m10 1h1m6 0h1m-45 1h1m44 0h1m-23 1h1m14 0h1m-14 1h1m3 1h1m7 0h1m-47 2h1m27 0h1m29 1h1m-53 1h1m1 0h1m4 0h1m-16 1h1m-10 1h1m4 0h1m1 0h1m-2 1h1m14 0h1m-20 1h1m64 0h1m-67 1h2m14 0h1m2 0h1m-14 1h1m9 0h1m-16 2h1m10 0h1m-3 1h1m2 0h1m-6 1h1m-36 1h1m22 0h1m-24 1h1m26 0h1m-28 1h1m15 0h1m11 2h1m0 1h2m2 0h1m1 0h1m-13 1h1m-8 1h1m13 0h1m-9 1h1m11 0h1m-10 1h1m6 0h1m2 0h1m-27 1h2m8 0h1m-8 1h1m1 1h1m7 0h1m-21 1h1m3 0h2m8 0h1m-5 2h1m1 0h1m2 0h1m-16 1h1m-4 1h1m7 0h1m8 0h1m19 0h1m-37 1h1m16 0h1m6 0h1m4 0h1m-28 1h1m2 0h1m6 0h1m-14 1h1m10 0h1m9 0h1m9 0h1m68 0h1m-2 1h1m-97 1h1m1 0h1m12 0h1m-9 1h1m7 0h1m3 0h1m6 0h1m-32 1h1m12 0h1m9 0h1m-21 1h1m24 0h1m-22 1h1m2 0h2m6 0h1m-2 2h1m13 0h1m-29 1h1m12 0h1m14 1h1m-12 1h1m-19 1h1m24 0h1m-75 1h1m71 0h1m-17 1h1m-76 1h3m75 0h1m-75 1h1m3 0h1m1 0h1m2 0h1m50 0h1m3 0h1m9 0h1m3 0h1m2 0h1m7 0h1m-79 1h1m52 0h1m5 0h1m-5 1h1m4 0h1m10 0h1m-95 2h1m79 0h1m-1 1h1m3 0h1m5 0h1m-12 2h1m6 1h1m1 1h2m-52 1h1m50 0h1m4 1h1m-12 1h1m1 0h1m-78 2h1m74 0h1m7 0h1m7 0h1m-17 1h1m5 0h1m6 0h1m-87 2h1m73 0h1m13 0h1m-3 1h1m-90 1h1m3 0h1m50 0h1m38 0h1m-94 1h1m80 1h1m-55 1h1m19 0h1m13 0h1m5 0h1m-39 1h1m26 0h1m11 0h1m5 0h1m20 0h1m-65 1h1m11 0h1m16 0h1m7 0h1m15 0h1m-61 1h1m29 0h1m12 0h1m14 0h1m-49 1h1m10 0h1m9 0h1m8 0h1m20 0h1m-38 1h1m11 0h1m11 0h1m-36 1h1m6 0h2m3 0h1m30 0h1m-62 1h1m5 0h1m31 0h1m19 0h1m-52 1h1m21 0h1m28 0h1m2 0h1m-67 1h1m1 0h1m14 0h1m47 0h1m-56 1h1m43 0h1m7 0h1m1 0h1m-52 1h1m2 0h1m28 0h1m5 0h2m5 0h1m2 0h1m-42 1h1m5 0h1m8 0h1m13 0h2m3 0h1m6 0h1m-41 1h1m1 0h1m5 0h1m71 0h1m-77 1h1m14 0h1m3 0h1m3 0h1m14 0h1m4 0h1m31 0h1m-103 1h1m71 0h1m5 0h1m22 0h1m-64 1h1m6 0h1m17 0h1m-48 1h1m15 0h1m43 0h2m22 0h1m-80 1h1m16 0h1m3 0h1m1 0h2m9 0h2m-35 1h1m28 0h2m10 0h1m5 0h2m-52 1h1m21 0h3m9 0h1m-6 1h1m12 0h1m21 0h1m-83 1h1m26 0h1m-4 1h1m40 0h2m12 0h1m1 0h1m-57 1h1m36 0h1m13 0h1m4 0h1m-61 1h1m52 0h1m2 0h1m13 0h1m-94 1h2m4 0h1m4 0h1m52 0h1m23 0h1m3 0h1m-82 1h1m8 0h1m1 0h1m1 0h1m38 0h1m11 0h1m5 0h1m1 0h1m-85 1h1m64 0h1m3 0h1m5 0h1m5 0h1m-62 1h1m58 0h1m-55 1h1m30 0h1m3 0h1m1 0h1m3 0h1m-38 1h1m29 0h1m2 0h1m-51 1h1m4 1h1m18 0h1m32 0h1m-55 1h1m12 0h1m49 0h1m4 0h1m-58 1h1m-4 1h1m3 0h1m8 0h1m4 0h1m21 0h1m-41 1h1m1 0h1m3 0h1m0 1h1m2 0h1m-18 5h1"/>
<path stroke="#21918C" d="M176 10h1m8 0h1m-27 1h1m-1 2h1m-7 5h1m17 1h1m10 1h1m-24 1h1m12 1h1m-13 1h1m1 0h1m22 0h1m0 1h1m-32 1h1m1 0h1m5 0h1m2 0h1m-7 1h1m-1 1h1m5 0h1m-3 1h1m1 1h1m-9 1h1m-16 1h1m14 0h1m8 2h1m13 0h1m-38 1h1m12 0h1m7 1h1m-24 1h1m26 0h1m-41 1h1m30 0h2m-23 1h1m38 1h1m12 0h1m-65 1h1m4 0h1m3 0h1m3 0h1m22 0h1m14 0h1m-46 1h1m1 0h1m-11 1h1m3 0h1m4 0h1m-2 1h1m9 1h1m4 0h1m-18 1h1m0 1h1m58 0h1m1 0h1m-66 1h1m6 0h1m-16 1h1m6 0h1m2 0h1m4 0h1m2 0h1m-18 1h1m1 0h1m2 0h1m-4 1h1m-11 2h1m10 0h1m5 0h1m-6 1h1m52 0h1m-60 1h1m10 0h1m4 0h1m1 0h1m-20 1h1m-6 2h1m20 0h1m-28 1h1m22 0h1m-21 1h1m11 0h1m6 0h1m5 0h1m-19 1h2m-10 1h1m5 0h1m-13 1h1m5 0h1m8 0h1m-16 1h1m15 0h1m6 0h2m5 0h1m-31 1h1m9 1h1m-10 1h1m5 0h1m3 0h1m4 0h1m-9 1h1m-16 1h1m31 0h1m-28 1h1m7 0h1m9 1h2m1 0h1m14 0h1m49 0h1m3 0h1m1 0h1m-88 1h1m11 0h2m4 0h1m-22 1h1m9 0h1m6 0h2m-26 1h1m1 0h1m5 0h1m4 0h1m21 0h1m65 0h1m-98 1h1m2 0h1m16 0h1m68 0h1m-82 1h1m84 0h1m-98 1h1m28 0h1m-28 1h1m1 0h1m96 1h1m-75 1h1m2 0h1m2 0h1m-24 1h1m8 0h1m-7 1h1m2 0h1m79 0h1m-92 1h1m88 0h1m-94 2h1m19 0h2m3 0h1m8 0h1m-110 1h1m24 0h1m57 0h1m1 0h1m3 0h1m6 0h1m-13 1h2m-5 1h1m13 0h1m-84 2h1m1 0h1m1 0h1m59 0h1m11 0h1m2 0h1m-20 1h1m1 0h1m8 0h1m5 0h1m3 0h1m8 0h1m-27 2h1m10 0h1m3 0h1m3 0h1m-22 1h2m7 0h1m10 0h1m-20 1h1m5 1h1m2 0h1m-5 1h1m5 0h1m0 1h1m4 0h1m-16 1h1m10 0h1m-11 2h2m9 0h1m-12 1h1m4 0h1m9 1h3m-89 1h1m71 0h1m10 0h2m-9 1h2m5 0h1m-68 1h1m70 0h1m-7 1h1m3 0h1m7 0h1m-94 1h1m74 0h1m2 0h1m3 0h1m10 0h1m-98 1h1m77 0h1m9 0h1m-11 1h1m1 0h1m8 0h1m4 0h1m-65 1h1m15 0h1m30 0h1m-48 1h1m45 0h2m7 0h1m1 0h1m8 0h1m-71 1h2m44 0h1m9 0h1m-16 1h1m11 0h1m2 0h1m-25 1h1m14 0h2m11 0h2m1 0h1m-28 1h2m67 0h1m-108 1h2m27 0h1m23 0h1m1 0h1m-17 1h1m-19 1h1m11 0h1m10 0h1m9 0h1m17 0h1m-64 1h1m31 0h1m6 0h1m4 0h1m19 0h1m-64 1h2m19 0h1m18 0h1m-59 1h1m13 0h1m52 0h1m-77 1h1m10 0h1m8 0h1m8 0h1m29 0h1m4 0h1m4 0h1m-58 1h1m7 0h1m16 0h1m26 0h1m4 0h1m-19 1h1m1 0h1m6 0h1m1 0h3m2 0h1m10 0h1m27 0h1m-100 1h1m14 0h2m28 0h1m10 0h2m2 0h1m17 0h1m3 0h1m17 0h1m2 0h1m-107 1h1m18 0h1m26 0h1m3 0h1m8 0h1m5 0h1m12 0h1m-76 1h2m1 0h1m24 0h1m1 0h1m15 0h1m15 0h1m37 0h1m-94 1h1m40 1h1m4 0h2m-32 1h1m40 0h1m-66 1h1m18 0h1m5 0h1m6 0h1m17 0h1m57 0h1m-108 1h1m24 0h1m54 0h1m-72 1h1m10 0h1m6 0h1m37 0h1m7 0h1m-79 1h1m23 0h2m50 0h1m5 0h1m-69 1h1m17 0h1m36 0h1m16 1h1m7 0h1m-92 1h1m22 0h1m61 1h1m3 0h1m2 0h1m2 0h1m-60 1h1m26 0h1m28 0h1m3 0h1m-57 1h1m23 0h1m15 0h1m-81 1h1m5 0h1m3 0h1m38 0h2m8 0h1m3 0h1m14 0h1m-80 1h1m32 0h1m28 0h1m-33 1h1m-16 1h1m15 0h1m2 0h1m1 0h1m1 0h1m29 0h1m6 0h1m4 0h1m-67 1h1m3 0h1m5 0h2m50 0h1m-60 1h1m12 0h1m11 0h1m22 0h1m-25 1h1m9 0h1m-27 1h1m2 0h1m13 0h1m-26 7h1m-3 1h1m1 0h1"/>
<path stroke="#1FA188" d="M167 8h1m16 2h1m0 1h1m-30 2h1m25 2h1m-19 1h1m-2 1h1m-17 1h1m12 0h1m4 0h1m8 0h1m-17 1h1m14 0h1m9 3h1m-14 2h1m-6 1h1m-16 1h1m4 0h1m-13 1h1m4 0h2m8 0h1m-15 1h1m24 0h1m-16 3h1m-12 1h1m24 0h1m13 1h1m-50 1h1m8 0h1m9 0h1m21 1h1m-13 1h1m8 0h1m4 0h1m1 1h1m-51 1h1m11 0h1m20 0h1m-37 1h1m34 0h1m4 0h1m4 0h1m1 0h1m-41 2h1m30 0h1m-34 1h2m1 0h1m1 0h1m7 0h1m4 0h1m-21 1h2m5 0h1m-8 1h1m58 0h1m-61 1h1m5 0h1m3 0h1m7 0h1m-19 1h1m2 0h1m13 0h1m-14 1h1m2 0h1m2 0h1m3 0h1m2 0h1m-22 1h1m7 0h1m2 0h1m1 0h1m3 0h1m-19 1h1m14 0h1m-6 1h1m-13 1h1m7 0h1m3 0h1m-19 1h1m17 0h1m45 0h1m-48 1h1m5 0h2m-28 1h1m1 0h1m2 0h1m3 0h1m-11 1h2m22 0h1m-24 1h1m1 0h1m21 0h1m-22 1h1m-4 1h1m8 1h1m11 0h1m47 0h1m-71 1h1m9 0h1m-13 1h1m6 1h2m10 0h1m-26 1h1m6 0h1m-9 1h2m8 0h2m11 0h1m3 0h1m1 0h1m3 0h1m-31 1h1m31 0h1m-21 1h1m12 0h1m2 0h1m-17 1h1m1 0h1m12 1h1m-19 1h1m-17 1h1m7 0h1m8 0h1m14 0h1m62 0h1m-91 1h1m4 0h1m22 0h1m5 0h1m-23 1h1m10 0h1m72 0h1m-74 1h1m3 0h2m67 0h1m-105 1h1m9 0h1m2 0h1m9 0h1m9 0h2m-36 1h1m1 1h1m3 0h1m26 0h1m1 0h1m66 0h1m-74 1h1m5 0h1m62 0h1m-91 1h1m7 0h1m84 0h1m-90 1h1m87 0h1m-81 1h1m71 0h1m-96 1h1m11 0h2m3 0h1m8 0h1m68 0h1m-84 1h2m1 0h1m13 0h1m64 0h1m-86 1h1m13 0h1m7 0h1m-10 2h1m6 0h1m4 0h1m-21 1h1m4 0h1m-87 1h3m19 0h1m29 0h1m50 0h1m-84 1h1m49 0h1m10 0h1m2 0h1m3 0h1m11 0h1m-94 1h1m2 0h1m5 0h1m54 0h1m23 1h2m-8 1h1m7 0h1m-21 2h1m10 0h1m-7 2h1m-14 1h1m22 0h1m-23 1h1m6 0h1m12 1h1m2 0h1m2 0h1m1 0h1m-5 2h1m-17 1h1m4 0h1m6 0h1m-13 1h1m9 0h3m-88 2h1m74 0h1m8 0h1m-4 1h1m15 0h1m-3 1h1m1 1h1m-22 1h1m14 0h1m3 0h2m-12 2h2m1 0h1m-39 1h1m29 0h1m4 0h1m5 0h1m2 0h1m-67 1h1m2 0h2m-9 1h1m2 0h1m37 0h1m18 0h1m11 0h1m-38 2h1m0 1h1m8 0h1m15 0h2m3 0h1m-66 1h1m71 0h1m-83 1h1m60 0h1m-75 1h1m90 0h1m23 0h1m-88 1h1m17 0h1m19 0h1m1 0h1m1 0h1m10 0h1m-70 1h1m48 0h1m4 0h1m-39 1h1m33 0h1m3 0h1m-2 1h1m-50 1h1m24 0h1m17 0h1m2 0h2m25 0h1m23 0h1m-49 1h1m18 0h1m25 0h1m-58 1h1m10 0h2m25 0h1m18 0h1m-56 1h1m2 0h1m8 0h1m13 0h1m8 0h1m18 0h1m-81 1h1m2 0h1m23 0h1m-39 1h1m31 0h1m3 0h1m3 0h1m9 0h1m17 1h1m-32 1h1m3 0h1m-30 1h2m7 0h1m47 0h2m1 0h1m1 0h1m-83 1h1m79 0h1m-59 1h1m3 1h1m52 0h1m-73 1h1m16 0h1m40 0h1m18 0h1m9 0h1m-104 1h1m31 0h1m57 0h1m11 0h1m-96 1h2m23 0h1m37 0h1m9 0h1m21 0h1m-54 1h1m2 0h1m29 0h1m-65 1h1m3 0h1m9 0h1m36 0h1m12 0h1m10 0h1m9 0h1m-93 1h1m20 0h1m32 0h1m26 0h1m-84 1h1m34 0h1m23 0h1m-46 1h1m6 0h1m9 1h1m6 0h1m33 0h1m3 0h1m2 0h1m-61 1h1m4 0h1m10 0h1m15 0h1m19 0h2m-61 1h2m34 0h1m6 0h1m3 0h1m-44 1h1m13 0h1m20 0h1m-32 1h1m16 0h2m-13 1h1m10 0h1m-24 4h1m-1 1h1m1 0h1m1 1h1m-5 1h1"/>
<path stroke="#2CB17E" d="M161 9h1m3 0h1m-9 3h1m14 4h1m2 0h1m7 0h1m-23 1h1m-2 5h1m-4 1h2m25 0h1m-10 1h1m-15 1h1m7 1h1m-20 1h1m1 0h1m4 0h1m3 0h1m1 0h1m-10 1h1m12 0h1m-27 1h1m1 0h1m11 0h1m9 0h1m2 0h2m-35 1h1m4 0h1m2 0h1m25 0h1m-28 1h1m25 0h1m-25 1h1m11 0h1m2 0h1m9 0h1m-12 1h1m7 0h1m-1 1h1m18 0h1m-54 1h1m28 0h1m2 0h1m6 0h1m-42 1h2m40 0h1m5 0h1m-40 1h1m35 0h2m-15 1h1m5 0h2m4 0h1m15 0h1m-65 1h2m11 0h1m27 0h3m7 0h1m-54 1h1m-1 1h1m14 0h1m24 0h1m-39 1h1m5 0h1m3 0h1m3 0h1m1 0h1m46 0h1m-67 1h1m2 0h2m8 1h1m9 0h1m-26 1h1m3 0h1m4 0h1m15 0h1m-26 1h2m11 0h1m3 0h1m6 0h1m-25 1h1m0 1h1m-2 3h1m8 0h1m-21 1h1m24 0h1m-19 1h1m0 1h1m-3 1h1m8 0h1m11 0h1m-20 1h1m-10 1h1m5 0h2m3 0h1m2 0h1m-6 2h1m4 0h1m-14 2h1m8 0h1m-16 1h1m5 0h1m13 0h1m-26 1h1m23 0h1m4 0h1m-24 1h1m10 0h1m10 0h1m1 0h1m-6 1h1m4 0h1m2 0h1m-24 1h1m7 0h2m12 1h1m66 0h1m-83 1h1m12 0h2m10 0h1m60 0h1m-104 1h1m10 0h1m12 0h1m2 0h1m3 0h1m10 0h1m55 0h1m-100 1h1m41 0h1m-26 1h1m21 0h1m49 0h1m4 0h1m4 0h1m-98 1h1m23 0h1m62 0h1m8 0h1m-94 1h1m6 0h1m79 0h1m1 0h1m3 0h1m-68 1h1m61 0h1m-74 1h1m78 0h1m-92 1h1m3 0h1m3 0h2m16 0h1m-1 1h1m51 0h1m9 0h1m-83 1h2m2 0h1m1 0h1m5 0h1m5 1h1m61 0h1m-72 1h2m5 0h1m-15 1h1m7 0h2m-8 1h1m1 0h1m9 0h1m58 0h1m-84 1h1m11 0h1m6 0h1m-75 1h1m49 0h2m10 0h1m13 0h1m59 0h1m6 0h1m-72 1h2m2 0h1m-15 2h1m1 0h1m1 0h1m-2 1h1m-83 1h1m44 0h1m14 0h1m3 0h1m14 0h1m4 0h1m4 0h1m-23 1h1m14 0h1m1 0h1m3 0h1m-13 2h1m0 1h2m1 0h1m-23 1h1m7 0h1m15 0h1m2 0h1m-36 1h1m7 0h1m22 0h1m-4 1h1m1 0h1m1 0h1m-13 1h1m5 0h1m6 0h1m-12 2h1m7 0h1m8 1h1m-13 1h1m-8 1h1m2 0h1m4 0h1m8 0h1m-95 1h1m83 1h1m3 0h1m5 1h1m0 1h1m-7 1h1m-87 1h1m83 0h1m5 0h1m-8 1h2m-21 1h1m10 0h1m11 0h2m-12 1h1m9 0h1m3 0h1m-28 1h1m9 0h1m10 1h2m5 0h1m38 0h1m-61 2h1m14 0h1m0 1h1m7 0h1m-76 1h1m72 0h1m-71 1h1m58 0h1m-26 1h1m34 0h1m3 0h1m-70 1h1m62 0h2m41 0h1m-127 1h1m1 0h1m18 0h1m4 0h1m11 0h1m26 0h1m19 0h1m-85 1h1m2 0h1m43 0h1m16 0h1m51 0h1m-112 1h1m39 0h2m16 0h1m19 0h1m-81 1h2m52 0h1m7 0h1m38 0h1m-99 1h1m18 0h1m18 0h1m11 0h1m-53 1h1m18 0h1m27 0h1m6 0h1m11 0h1m5 0h2m2 0h1m-76 1h1m13 0h2m63 0h1m-76 1h1m47 0h3m22 0h2m-78 1h1m46 0h1m20 0h1m3 0h1m-33 1h1m4 0h1m31 0h1m-87 1h1m7 0h1m44 0h1m19 0h1m13 0h1m1 0h1m16 0h1m-26 1h1m2 0h1m-58 1h2m1 0h1m52 0h1m6 0h1m-92 1h1m13 0h1m65 0h1m-79 1h1m2 0h1m9 0h1m14 0h2m56 0h1m1 0h1m-91 1h1m4 0h1m1 0h1m61 0h1m23 0h1m1 0h1m1 0h1m-18 1h1m5 0h1m3 0h1m-84 1h1m60 0h1m-65 1h1m62 0h1m13 0h1m9 0h1m4 0h1m1 0h1m-49 1h1m17 0h1m12 0h1m-73 1h1m4 0h1m28 0h1m22 0h1m-65 1h1m13 0h1m13 0h1m40 0h1m7 0h1m9 0h1m-72 1h1m18 0h1m3 0h1m30 0h1m11 0h1m-53 1h1m3 0h1m9 0h1m-5 1h1m22 0h1m3 0h1m5 0h1m5 0h1m8 0h1m-69 1h1m3 0h1m10 0h1m2 0h1m39 0h1m3 0h1m-58 1h1m6 0h1m4 0h1m3 0h1m10 0h1m6 0h1m8 0h1m10 0h1m4 0h1m2 0h1m-31 1h1m-27 1h1m3 0h1m-1 1h1m3 0h1m-21 3h1m-2 2h1m2 0h1m-6 2h1m1 0h2"/>
<path stroke="#48C16E" d="M163 9h2m-5 1h1m25 1h1m-33 2h1m10 4h1m16 0h1m-24 1h1m6 0h1m-10 2h1m2 0h1m0 1h1m11 0h1m-32 1h1m18 0h1m11 0h1m-10 3h1m-28 1h1m28 0h1m4 0h1m-18 1h1m9 0h1m-18 1h1m4 0h1m2 0h1m25 0h1m-26 2h1m10 0h1m-33 1h1m8 0h1m20 1h1m-23 1h1m1 0h1m10 0h1m7 0h1m-24 1h1m4 0h1m14 0h1m7 0h1m4 0h1m3 0h1m1 0h1m-41 1h2m20 0h1m7 0h1m5 0h1m2 0h1m1 0h1m-8 1h1m4 0h1m-39 1h1m-12 1h1m49 0h1m-41 1h1m21 1h1m11 0h1m-52 1h1m1 0h1m36 0h1m-14 1h1m-28 1h1m1 0h1m11 0h1m1 0h2m5 0h1m-13 1h1m5 0h1m7 0h1m1 0h1m-27 1h1m18 0h1m1 0h1m4 0h1m37 0h1m-65 1h1m5 0h1m58 0h1m-62 1h1m10 0h1m1 0h1m5 0h2m-27 1h1m23 0h1m2 0h1m-20 1h1m2 0h1m1 0h2m-11 1h1m1 0h2m1 0h1m7 0h1m-15 1h1m12 0h1m-12 1h1m6 0h1m2 0h1m-17 1h1m8 0h2m-19 1h1m13 0h1m50 0h1m6 0h1m-66 1h1m13 0h1m-17 1h1m2 0h1m3 0h1m2 0h1m5 0h1m-17 1h1m4 0h1m12 0h1m-28 1h1m24 0h1m45 0h1m-63 1h1m12 0h1m2 0h1m-26 1h1m12 0h1m11 0h1m-27 1h1m13 0h1m7 0h1m-30 1h1m22 0h1m9 0h1m-34 1h1m17 0h1m-9 1h1m12 0h1m7 0h1m-16 1h1m4 0h1m13 0h1m-25 1h1m12 0h1m-16 1h1m15 0h1m7 0h1m-7 1h1m14 0h1m-46 1h1m2 0h1m7 0h1m5 0h1m4 0h1m4 0h1m2 0h1m3 0h1m1 0h1m-30 1h1m13 0h1m9 0h1m9 0h1m49 0h1m1 0h1m9 0h1m2 0h1m-106 1h1m13 0h1m3 0h1m5 0h1m6 0h1m4 0h1m-3 1h1m64 0h1m-91 1h2m6 0h1m6 0h1m9 0h1m1 0h1m4 0h1m1 0h1m51 0h1m-86 1h1m1 0h1m5 0h1m1 0h2m11 0h1m9 0h1m2 0h1m48 0h1m4 0h1m-104 1h1m10 0h1m8 0h1m15 0h2m9 0h1m39 0h1m-89 1h1m36 0h1m60 0h2m3 0h1m-103 1h1m17 0h1m1 0h1m7 0h1m2 0h2m20 0h1m-34 1h1m14 0h2m66 0h1m-84 1h1m6 0h1m4 0h1m-12 1h1m12 0h1m-12 1h1m8 0h1m-31 1h1m19 0h1m7 0h1m67 0h1m-122 1h1m44 0h2m6 0h1m3 0h1m54 0h1m-73 1h1m3 0h1m2 0h1m3 0h1m4 0h1m58 0h1m-115 1h1m42 0h1m-44 1h1m26 0h1m13 0h1m9 0h1m1 0h1m10 0h2m-38 1h1m-27 1h2m45 0h1m-26 2h1m-3 1h1m14 0h1m3 0h6m1 0h1m-29 1h1m24 0h1m-93 1h1m71 0h1m15 0h1m-34 1h1m19 0h1m-19 1h1m20 0h1m10 0h1m1 0h1m-15 1h1m2 0h1m4 0h1m1 1h1m2 0h2m-16 1h1m2 1h1m1 0h1m14 0h1m-21 1h1m12 0h1m0 1h1m-3 1h1m6 1h1m-19 1h1m14 0h2m2 0h1m-10 1h1m-1 1h1m-4 1h1m1 0h1m10 1h1m-22 1h1m3 0h1m9 0h1m4 0h1m-94 1h1m24 1h1m41 0h1m20 0h1m41 0h1m-82 1h1m31 0h1m32 0h1m3 0h1m7 0h1m-73 1h1m25 0h1m-22 1h1m-4 1h1m28 0h1m4 1h2m23 0h1m-98 1h1m54 0h1m-59 1h1m79 0h1m-83 1h1m76 0h1m4 0h1m-71 1h2m28 0h1m39 0h1m-85 1h1m12 0h1m30 0h1m6 0h2m1 0h1m5 0h1m2 0h1m15 0h1m19 0h1m-97 1h1m10 0h1m31 0h1m33 0h1m-85 1h1m104 0h1m-99 1h1m11 0h1m2 0h1m53 0h1m6 0h1m-75 1h1m11 0h1m1 0h1m38 0h1m13 0h1m4 0h1m2 0h1m5 0h1m-72 1h1m1 0h1m-22 1h1m8 0h1m69 0h1m23 0h1m-80 1h1m25 0h1m31 0h1m-81 1h1m73 0h1m10 0h1m17 0h1m-81 1h1m28 0h1m2 0h1m-54 1h1m74 0h1m4 0h1m1 0h1m-76 1h1m58 0h1m38 0h1m-108 1h1m75 0h1m3 0h1m11 0h1m-97 1h1m28 0h1m52 0h1m2 0h1m-80 1h3m4 0h1m76 0h1m3 0h1m-88 1h1m82 0h1m10 0h1m-104 1h1m15 0h1m14 0h1m45 0h1m32 1h1m-84 1h1m2 0h1m55 0h1m1 0h3m12 0h1m-99 1h1m12 0h1m62 0h1m-74 1h1m2 0h1m11 0h1m2 0h1m52 0h1m11 0h1m-88 1h1m34 0h1m3 0h1m-41 1h1m1 0h1m18 0h1m7 0h3m11 0h1m30 0h1m12 0h1m-86 1h1m13 0h1m1 0h1m18 0h1m18 0h1m11 0h1m2 0h1m1 0h1m14 0h1m-72 1h1m15 0h1m4 0h1m4 0h1m10 0h1m1 0h1m26 0h1m-47 1h1m2 0h1m12 0h1m3 0h2m9 0h1m-48 1h1m2 0h1m3 0h1m31 0h1m6 0h1m-45 1h1m1 0h1m11 2h1m-16 3h1m1 1h1m-5 3h1"/>
<path stroke="#6ECE58" d="M166 9h1m20 2h1m-30 1h1m-6 1h1m-2 1h2m-5 2h1m11 0h1m16 0h1m3 0h1m-24 1h1m6 0h2m6 0h1m-17 1h1m1 1h1m-18 2h2m37 0h1m-42 2h1m39 0h1m-44 2h1m7 1h1m5 0h1m-12 1h2m1 0h2m24 0h1m12 0h1m-42 1h1m27 0h1m-26 1h1m11 0h1m9 0h1m2 0h1m1 0h1m-31 1h1m9 0h2m5 1h1m-21 1h1m10 0h2m6 0h1m19 0h1m1 0h1m-47 1h1m5 0h1m10 0h1m11 0h1m1 0h1m3 0h1m8 0h1m-30 1h1m1 0h1m20 0h1m4 0h1m6 0h1m-42 1h1m16 0h1m5 0h1m2 0h1m8 0h1m3 0h1m-13 1h1m6 0h1m3 0h1m-14 1h1m2 0h1m5 0h1m-19 1h1m3 1h1m10 0h1m1 0h1m2 0h1m-20 1h1m3 0h1m10 0h1m-40 1h1m28 0h1m-43 1h1m23 0h1m17 0h2m-37 1h1m1 0h1m10 0h2m-15 1h1m6 0h2m1 0h3m-21 1h1m6 0h1m2 0h1m1 0h1m1 1h1m-11 1h1m16 0h1m4 0h1m-17 1h1m9 0h1m3 0h1m48 0h1m-56 1h2m3 0h1m-20 1h1m2 0h1m-7 1h1m3 0h1m-13 1h1m4 0h1m8 0h1m-2 1h1m7 0h1m43 0h1m-57 1h1m3 0h1m3 0h1m5 0h2m-19 1h1m2 0h1m10 0h1m46 0h1m-61 1h2m8 0h1m1 0h1m4 0h1m-22 1h1m2 0h1m3 0h1m5 0h1m47 0h1m-71 1h1m13 0h2m7 0h1m2 0h1m45 0h1m-71 1h1m9 0h1m1 1h1m13 0h1m-18 1h1m4 0h1m10 0h1m-18 1h1m-19 1h1m2 0h1m12 0h1m4 0h1m2 0h1m6 0h1m3 0h1m1 0h1m-14 1h1m-26 1h1m25 0h1m-4 1h1m1 0h1m10 0h2m61 0h1m-82 2h1m1 0h1m76 0h1m-78 1h3m11 0h1m2 0h1m-30 1h1m17 0h1m6 0h2m1 0h1m48 0h1m-65 1h1m9 0h1m1 0h1m5 0h1m50 0h2m2 0h1m1 0h1m3 0h1m-95 1h1m10 0h1m1 0h1m6 0h1m8 0h1m56 0h1m2 0h1m4 0h1m-101 1h1m4 0h1m8 0h1m2 0h2m4 0h1m9 0h1m49 0h1m5 0h1m1 0h1m-77 1h1m7 0h2m8 0h1m1 0h1m-17 1h1m2 0h1m1 0h1m2 0h1m1 0h1m8 0h1m47 0h1m11 0h1m-66 1h1m66 0h1m-82 1h1m4 0h1m4 0h1m-30 1h1m92 0h1m2 0h1m-100 1h1m10 0h1m4 0h1m3 0h1m7 0h1m58 0h1m10 0h1m-94 1h1m20 0h2m5 0h1m60 0h1m1 0h1m-83 1h1m9 0h1m19 0h2m41 0h1m6 0h1m-77 1h1m4 0h1m1 0h1m4 0h1m57 0h1m3 0h1m-90 1h1m21 0h1m17 0h1m1 0h1m44 0h1m4 0h1m-90 1h1m11 0h1m8 0h1m2 0h1m18 0h2m-31 1h1m69 0h1m-114 1h1m40 0h1m7 0h1m-8 1h1m4 0h1m1 0h1m11 0h1m-26 1h1m4 0h1m-17 1h1m17 0h1m-40 1h1m42 0h1m-23 1h1m6 0h1m5 1h1m2 0h1m3 0h1m-1 1h1m-4 1h1m2 0h1m-9 1h1m6 0h1m-36 1h1m5 0h1m11 0h1m-7 1h1m5 0h1m8 0h3m11 0h1m-40 1h1m25 0h1m2 0h1m3 0h1m-33 1h1m12 0h1m1 0h1m11 0h1m4 0h1m-15 1h1m13 0h1m-1 1h1m-14 2h1m8 0h1m6 1h1m-11 1h1m6 0h1m1 0h1m3 0h1m-14 1h1m7 0h1m-7 1h1m2 0h1m-8 1h1m5 0h1m3 0h1m4 0h1m-15 1h1m6 0h1m2 0h1m-14 1h1m5 0h1m6 0h1m-24 1h1m9 0h1m1 0h1m59 0h1m-65 1h1m7 0h1m1 1h1m1 0h1m23 0h1m4 0h1m21 0h1m-48 1h3m-41 1h1m31 0h2m6 0h1m35 0h1m-80 1h1m36 0h1m6 0h1m-5 1h1m35 0h1m-115 1h1m7 0h1m54 0h1m11 0h1m1 0h1m4 0h1m-74 1h1m109 0h1m-41 1h2m1 0h1m30 0h1m12 0h1m-127 1h1m98 0h1m4 0h1m1 0h1m-112 1h1m-4 1h1m21 0h1m82 0h1m-108 1h1m4 0h1m17 0h2m64 0h1m40 0h1m3 0h1m-124 1h1m13 0h1m55 0h1m1 0h1m2 0h1m43 0h1m-119 1h1m12 0h1m38 0h1m18 0h1m5 0h1m38 0h1m-116 1h1m13 0h1m82 0h1m6 0h1m4 0h1m-115 1h1m3 0h1m13 0h1m27 0h1m27 0h1m-59 1h2m1 0h1m20 0h1m4 0h1m2 0h1m24 0h1m1 0h1m31 0h1m-113 1h1m8 0h1m13 0h2m21 0h1m28 0h3m5 0h1m-85 1h1m49 0h1m26 0h1m1 0h1m3 0h1m-78 1h2m3 0h1m14 0h1m50 0h1m1 0h1m7 0h1m15 0h1m2 0h1m-97 1h1m13 0h1m55 0h1m4 0h1m2 0h1m19 0h1m-104 1h2m20 0h1m1 0h1m1 0h1m52 1h1m9 0h1m1 0h1m6 0h1m-108 1h1m2 0h1m2 0h1m11 0h1m14 0h1m62 0h1m11 0h1m-107 1h1m87 0h1m-78 1h1m2 0h1m-16 1h1m3 0h1m86 0h1m-88 1h1m1 0h1m5 0h1m4 0h1m32 0h1m7 0h1m29 0h1m3 0h1m3 0h1m1 0h2m2 0h1m-99 1h1m37 0h1m10 0h1m3 0h1m3 0h1m24 0h1m2 0h1m-4 1h1m-83 1h1m22 0h1m41 0h1m-61 1h1m2 0h1m45 0h1m6 0h1m18 0h1m-57 1h1m26 0h1m13 0h1m4 0h1m2 0h1m10 0h1m-64 1h1m20 0h1m16 0h1m8 0h1m7 0h1m1 0h1m5 0h1m-64 1h1m6 0h1m21 0h1m13 0h1m12 0h1m6 0h1m-64 1h1m8 0h1m22 0h2m10 0h2m-42 1h1m1 0h1m11 0h1m-1 1h1m-24 3h1m5 0h1m-7 1h1m5 1h1m-4 1h2m1 0h1"/>
<path stroke="#95D840" d="M168 8h1m-7 1h1m23 1h1m-32 3h1m5 2h1m4 0h1m13 1h1m-6 1h1m5 1h1m-37 2h1m14 1h1m22 2h1m-46 1h1m32 0h2m1 0h1m11 1h1m-28 2h1m2 0h1m5 0h1m2 0h1m12 0h2m-50 1h1m8 0h1m2 0h1m8 0h1m1 0h1m8 0h1m-33 1h1m7 0h1m5 0h2m1 0h2m1 0h1m2 0h1m-15 1h1m4 0h1m3 0h2m1 0h1m1 0h1m2 0h1m3 0h1m1 0h1m1 0h1m-22 2h1m5 0h1m8 0h1m-15 1h1m2 0h1m1 0h1m21 0h1m-30 1h1m10 0h1m8 0h1m6 0h2m4 0h1m-19 1h1m4 0h1m3 0h1m-32 1h1m17 0h1m28 0h1m-8 1h1m7 0h1m-63 1h1m38 0h1m-18 1h1m9 0h1m13 0h1m-26 1h1m16 0h2m1 0h1m-20 1h2m15 0h1m-3 1h1m-19 1h1m2 0h2m-28 1h2m7 0h1m2 0h1m9 0h1m-21 2h1m15 0h1m1 0h1m5 0h1m-17 2h1m3 0h1m3 0h1m7 0h1m-20 1h1m11 0h1m-12 1h1m5 0h1m9 0h1m-33 1h1m1 0h1m7 0h1m13 0h1m-13 1h2m-18 1h2m8 0h1m10 0h1m48 0h1m1 0h1m-69 1h1m13 0h1m53 0h1m1 0h1m-50 1h1m1 0h1m44 0h1m-63 1h1m16 0h1m41 0h1m2 0h1m-65 1h1m8 0h1m1 0h1m47 0h1m-61 1h1m18 0h2m-31 1h2m15 0h1m8 0h1m-24 1h1m10 0h1m2 0h1m2 0h1m52 0h1m-70 1h1m9 0h1m5 0h1m52 0h1m-80 1h1m19 0h1m3 0h1m-16 1h1m8 0h2m8 0h1m-32 1h1m17 0h1m8 0h1m-5 1h1m5 0h1m2 0h1m-11 1h1m11 0h1m9 0h1m56 0h1m-82 1h1m7 0h1m4 0h1m6 0h2m2 0h1m56 0h2m-96 1h1m16 0h1m11 0h1m63 0h1m1 0h1m-77 1h1m3 0h1m68 0h1m1 0h1m-84 1h1m3 0h1m1 0h1m15 0h1m57 0h2m-61 1h1m6 0h1m52 0h1m-88 1h1m6 0h1m14 0h1m3 0h1m4 0h1m42 0h1m5 0h1m-79 1h1m26 0h1m1 0h2m1 0h1m39 0h1m-91 1h1m10 0h1m33 0h1m2 0h1m41 0h1m-65 1h1m11 0h1m2 0h1m7 0h1m49 0h1m-74 1h1m8 0h1m9 0h1m4 0h1m41 0h1m3 0h1m4 0h1m-103 1h1m22 0h1m12 0h2m12 0h1m45 0h1m4 0h1m-74 1h1m4 0h1m16 0h1m5 0h1m33 0h1m1 0h1m-68 1h1m11 0h1m66 0h1m-94 1h1m8 0h1m2 0h1m7 0h1m15 0h1m1 0h1m3 0h1m47 0h2m-92 1h2m12 0h1m10 0h1m9 0h1m9 0h1m35 0h1m-66 1h1m13 0h1m4 0h1m51 0h1m-62 1h2m53 0h1m-115 1h1m41 0h1m14 0h2m4 0h1m52 0h1m1 0h1m-76 1h1m11 0h1m9 0h1m1 0h1m-35 1h1m11 0h1m4 0h1m2 0h1m1 0h1m8 0h1m-23 1h1m4 0h1m5 0h1m1 0h1m-28 1h1m-23 1h1m40 0h1m3 1h1m-15 1h1m-30 1h1m13 0h1m1 0h2m23 0h2m-32 1h1m21 0h1m1 0h1m1 0h2m-19 1h1m10 0h1m1 0h1m9 0h1m-12 1h1m3 0h1m2 0h1m1 0h1m1 0h1m-40 2h1m33 0h1m1 1h1m-1 1h1m3 0h1m-20 1h1m1 1h1m4 0h1m1 0h2m5 1h1m-16 1h1m1 0h1m10 0h1m2 0h1m-7 1h2m2 0h1m2 0h1m-12 1h1m2 1h1m2 0h1m-2 1h2m1 0h1m-3 2h1m52 0h1m-53 1h1m4 0h1m36 0h1m8 0h1m-63 1h1m13 0h1m36 0h1m11 0h1m-66 1h1m12 0h1m30 0h1m7 0h1m5 0h1m8 0h1m-55 1h1m1 0h1m29 0h1m20 0h1m-71 1h1m13 0h2m39 0h1m2 0h2m-43 1h1m1 0h1m32 0h1m6 0h1m-78 1h1m28 0h2m5 0h1m23 0h1m9 0h2m-40 1h1m2 0h1m23 0h1m15 0h1m1 0h1m-113 1h1m75 0h1m44 0h1m-11 1h1m-119 1h1m77 0h1m27 0h1m11 0h1m-51 1h1m11 0h1m14 0h1m-104 1h1m6 0h1m47 0h1m20 0h1m6 0h1m2 0h2m20 0h1m4 0h1m2 0h1m11 0h1m-123 1h1m1 0h2m11 0h1m87 0h1m2 0h1m16 0h1m2 0h1m-136 1h1m3 0h1m5 0h1m80 0h1m-86 1h1m2 0h1m59 0h1m13 0h1m48 0h1m-122 1h2m76 0h1m1 0h1m14 0h1m13 0h1m4 0h1m4 0h1m-104 1h1m58 0h1m1 0h1m1 0h1m23 0h1m-107 1h1m1 0h1m78 0h1m17 0h1m-27 1h1m5 0h2m1 0h1m11 0h1m2 0h1m4 0h2m-111 1h1m8 0h1m15 0h1m26 0h2m2 0h1m24 0h1m7 0h1m13 0h1m4 0h1m5 0h2m-111 1h1m7 0h1m15 0h1m47 0h1m26 0h1m10 0h1m7 0h1m-119 1h1m5 0h1m17 0h1m1 0h1m75 0h1m-105 1h1m6 0h2m1 0h1m75 0h1m2 0h1m15 0h1m-100 1h1m78 0h1m4 0h1m10 0h1m-102 1h2m5 0h1m2 0h1m79 0h1m3 0h1m-96 1h1m3 0h1m82 0h1m15 0h1m-96 1h1m80 0h1m1 0h1m17 0h1m-97 1h1m76 0h2m-92 1h1m5 0h1m7 0h1m75 0h1m-91 1h1m3 0h1m1 0h1m1 0h1m3 0h1m29 0h1m22 0h1m14 0h2m4 0h1m-85 1h1m1 0h1m14 0h1m37 0h1m26 0h1m-80 1h1m2 0h1m12 0h1m39 0h1m-54 1h1m17 0h1m18 0h1m-31 1h1m12 0h2m1 0h1m15 0h1m6 0h1m4 0h1m3 0h1m5 0h1m-25 1h1m11 0h1m3 0h1m2 0h2m6 0h1m11 0h1m-67 1h1m6 0h1m35 0h1m2 0h1m9 0h1m5 0h1m5 0h1m-69 1h1m26 0h1m10 0h1m7 0h1m5 0h1m2 0h1m8 0h1m-63 1h1m32 0h1m14 0h1m8 0h1m4 0h1m1 0h1m-64 1h1m7 0h1m9 0h1m2 0h1m-13 1h1m-8 2h1m-8 1h1m4 0h1m3 1h1m-9 1h1m6 0h1m-9 1h1m0 1h1"/>
<path stroke="#B5DE2B" d="M151 14h1m13 2h1m5 0h1m0 3h1m4 1h1m-4 1h1m-1 1h2m6 0h1m-43 1h1m20 0h1m10 0h1m7 0h1m0 2h1m-10 1h1m7 0h1m-45 1h1m19 0h1m20 0h1m1 0h2m1 0h1m-37 1h1m2 0h1m1 0h1m4 0h1m1 0h1m13 0h2m6 0h1m-29 1h1m5 0h1m2 0h1m-21 1h1m2 0h1m6 0h1m9 0h1m2 0h1m-19 1h1m8 0h1m8 0h3m-14 1h1m23 0h1m-30 1h2m25 0h2m-30 1h1m5 0h1m4 0h1m4 0h1m1 0h1m4 0h1m12 0h1m-40 1h1m8 0h1m2 0h1m2 0h1m13 0h1m3 0h1m-22 1h1m3 0h1m7 0h1m13 0h2m-44 1h1m1 0h1m15 0h2m-19 1h2m17 0h1m15 0h1m-36 1h1m6 0h1m31 0h1m1 0h1m-58 1h1m24 0h1m18 0h1m20 0h1m-48 1h3m25 0h1m7 0h1m-36 1h2m4 0h2m10 0h2m-27 1h1m2 0h1m6 0h1m39 0h1m-63 1h1m8 0h1m5 1h2m5 0h2m-14 1h1m3 0h1m8 0h1m-24 1h1m24 0h1m39 0h1m2 0h1m-51 1h2m-14 1h1m6 0h2m3 0h1m2 0h1m1 0h1m-28 1h1m-3 1h1m11 0h1m3 0h1m-18 1h1m3 0h2m13 0h1m42 0h2m2 0h1m-50 1h1m43 0h1m2 0h1m2 0h1m-64 1h1m2 0h1m8 0h1m-20 1h1m6 0h2m-9 1h1m3 0h1m8 0h1m7 0h1m42 0h1m5 0h1m-59 1h1m9 0h1m46 0h1m-57 1h1m-17 1h1m13 0h2m51 0h1m-56 1h1m5 0h1m3 0h2m-32 1h1m22 0h1m5 0h2m47 0h1m-58 1h1m8 0h1m2 0h1m1 2h1m-29 1h1m13 0h1m16 0h2m56 0h1m-81 1h1m7 0h1m1 0h2m8 0h1m3 0h1m39 0h1m12 0h1m-78 1h1m1 0h1m6 0h1m6 0h1m4 0h2m8 0h1m32 0h1m12 0h1m-86 1h1m8 0h1m2 0h1m8 0h1m4 0h2m6 0h1m39 0h1m-48 1h2m46 0h1m15 0h1m-80 1h2m5 0h1m14 0h1m42 0h1m9 0h1m-60 1h1m-19 1h2m10 0h1m1 0h1m1 0h1m8 0h1m-27 1h1m2 0h1m10 0h1m1 0h1m62 0h1m-89 1h1m9 0h1m7 0h1m1 0h1m3 0h1m2 0h1m2 0h1m-32 1h1m4 0h2m2 0h1m16 0h1m1 0h1m6 0h1m36 0h1m-68 1h1m5 0h1m13 0h1m2 0h1m1 0h1m48 0h1m-95 1h1m12 0h1m4 0h1m22 0h1m7 0h1m43 0h1m3 0h1m2 0h2m1 0h1m-86 1h1m5 0h1m2 0h1m1 0h1m2 0h1m4 0h1m4 0h2m6 0h1m35 0h1m7 0h1m-77 1h1m1 0h1m19 0h1m6 0h1m46 0h1m3 0h1m1 0h1m-90 1h1m10 0h1m12 0h1m8 0h1m3 0h1m5 0h1m33 0h1m-56 1h1m1 0h1m2 0h1m10 0h1m2 0h1m38 0h1m2 0h1m-77 1h1m8 0h1m5 0h2m6 0h1m4 0h1m2 0h1m1 0h1m38 0h1m1 0h1m-63 1h1m1 0h1m1 0h1m3 0h1m4 0h1m45 0h1m2 0h3m-65 1h1m6 0h2m8 0h1m4 0h1m42 0h1m1 0h1m-92 1h1m23 0h1m9 0h1m8 0h1m47 0h1m-92 1h1m92 0h1m-84 1h1m15 0h1m57 0h1m-75 1h1m3 0h1m4 0h1m2 0h1m3 0h1m4 0h1m9 0h1m-20 1h1m-46 2h1m31 0h1m10 0h1m15 0h1m-44 1h1m18 0h1m-25 1h1m1 0h1m28 0h1m-12 1h1m9 0h2m-9 2h1m7 0h1m3 0h1m-38 1h1m-2 1h1m36 0h2m-23 1h1m7 0h1m7 0h1m1 0h1m-3 2h4m-16 1h1m12 0h1m1 0h1m-12 1h1m8 0h1m-7 1h1m9 0h1m-10 1h1m1 0h1m3 0h1m49 0h1m-49 1h1m-5 1h1m-4 1h1m51 0h1m-32 1h1m27 0h1m-48 1h1m2 0h1m18 0h1m16 0h1m9 0h1m5 0h1m-60 1h1m9 0h1m19 0h1m6 0h1m2 0h1m8 0h2m1 0h2m-54 1h2m1 0h1m33 0h1m1 0h1m1 0h3m1 0h1m8 0h1m2 0h1m-54 1h1m18 0h1m7 0h1m1 0h1m4 0h1m4 0h1m13 0h1m-52 1h1m16 0h1m2 0h1m2 0h3m12 0h2m2 0h1m3 0h1m3 0h1m-54 1h2m1 0h1m20 0h1m2 0h1m8 0h1m3 0h1m-57 1h1m20 0h1m19 0h1m5 0h1m4 0h1m6 0h1m2 0h1m-53 1h1m12 0h1m17 0h1m1 0h1m8 0h1m1 0h1m4 0h1m-43 1h1m3 0h1m17 0h1m2 0h1m2 0h1m1 0h1m12 0h1m-119 1h1m66 0h1m26 0h1m4 0h1m2 0h1m1 0h1m14 0h2m1 0h1m2 0h1m-59 1h1m29 0h1m11 0h1m3 0h2m-120 1h1m14 0h1m65 0h1m1 0h1m14 0h1m2 0h1m5 0h1m6 0h1m8 0h2m1 0h1m-127 1h1m16 0h1m66 0h1m17 0h1m17 0h1m7 0h1m2 0h1m-138 1h1m3 0h1m2 0h1m52 0h1m25 0h1m4 0h1m11 0h1m2 0h1m12 0h1m2 0h1m5 0h1m3 0h1m2 0h1m-132 1h1m1 0h1m14 0h1m62 0h1m6 0h2m19 0h1m5 0h1m5 0h1m-124 1h1m-1 1h2m23 0h1m77 0h1m26 0h1m-132 1h2m107 0h1m6 0h1m3 0h1m4 0h1m-120 1h1m96 0h1m11 0h1m9 0h1m-122 1h1m1 0h1m1 0h1m4 0h1m74 0h1m2 0h1m14 0h1m9 0h1m1 0h1m-113 1h1m44 0h1m2 0h1m30 0h1m2 0h1m1 0h2m13 0h1m7 0h1m8 0h1m-112 1h2m1 0h1m12 0h2m24 0h1m24 0h1m4 0h1m22 0h1m17 0h1m-33 1h1m1 0h1m23 0h1m-110 1h1m4 0h1m15 0h1m62 0h1m6 0h1m-91 1h1m80 0h1m11 0h1m13 0h1m-118 1h1m10 0h1m16 0h2m62 0h1m1 0h1m26 0h1m-125 1h1m1 0h1m14 0h2m70 0h1m11 0h1m8 0h1m3 0h1m1 0h1m-98 1h1m85 0h1m6 0h1m-108 1h1m3 0h1m-7 1h1m5 0h1m6 0h1m79 0h1m-87 1h1m1 0h1m8 0h1m28 0h1m41 0h1m-89 1h1m10 0h1m31 0h1m-40 1h1m9 0h1m1 0h2m5 0h2m20 0h1m41 0h1m2 0h1m-81 1h1m1 0h1m11 0h1m3 0h1m8 0h3m1 0h1m3 0h1m11 0h1m28 0h2m-83 1h1m2 0h1m2 0h1m8 0h1m30 0h1m1 0h1m31 0h4m2 0h1m-47 1h1m5 0h2m6 0h1m1 0h1m8 0h2m9 0h1m1 0h1m6 0h1m-41 1h1m4 0h2m15 0h1m4 0h1m7 0h1m-35 1h1m12 0h1m5 0h1m-35 1h1m14 0h1m1 0h1m6 0h1m2 0h1m6 0h2m3 0h1m11 0h1m-53 2h1m3 0h1m-1 1h1m-23 1h1m-1 3h1m3 0h1m0 2h1m-5 1h1"/>
<path stroke="#D2E21B" d="M176 16h1m2 0h1m1 0h1m-7 2h1m2 1h1m2 0h1m-23 1h1m14 0h1m2 1h2m2 0h1m-7 2h1m-3 1h1m2 0h1m-6 1h1m4 0h1m1 0h1m-6 1h1m4 0h2m1 0h1m4 0h1m-14 1h1m7 0h1m4 0h1m-37 1h1m2 0h1m6 0h1m1 0h2m10 0h1m-28 1h2m11 0h1m10 0h1m7 0h1m-3 1h3m-35 1h1m10 0h1m6 0h1m5 0h1m2 0h1m-31 1h1m2 0h1m6 0h1m13 0h2m5 0h1m5 0h1m-38 1h1m1 0h1m1 0h1m23 0h1m8 0h1m-37 1h1m1 0h1m18 0h1m8 0h1m8 0h1m-36 1h1m3 0h1m5 0h1m28 0h1m-44 1h1m7 0h1m21 0h1m1 0h1m6 1h2m-26 1h1m22 0h1m-31 1h1m-11 1h1m4 0h1m20 0h1m2 0h4m2 0h2m1 0h1m1 0h1m-42 1h1m6 0h2m2 0h1m9 0h1m5 0h1m5 0h4m-8 2h1m16 0h1m-43 1h1m-21 1h1m26 0h2m-7 1h2m2 0h1m-29 1h1m22 0h1m3 0h1m39 0h1m4 0h1m-36 1h1m-36 1h1m22 0h1m-15 1h1m2 0h1m2 0h1m1 0h2m1 0h1m43 0h1m-67 1h1m6 0h1m8 0h1m42 0h1m1 0h1m-63 1h1m16 0h1m27 0h1m15 0h1m-57 1h1m50 0h1m-51 1h1m51 0h2m-68 1h1m12 0h2m2 0h1m1 0h1m45 0h1m1 0h1m4 0h2m-56 1h1m5 0h1m39 0h1m-49 1h1m6 0h1m-16 1h2m55 0h1m-1 1h1m-52 1h1m10 0h1m41 0h1m1 0h1m-60 1h1m11 0h1m1 0h1m42 0h1m-61 1h1m8 0h1m6 0h1m2 0h2m-6 1h1m3 0h1m-7 1h1m2 0h1m1 0h1m2 0h1m1 0h1m34 0h1m4 0h1m-50 1h1m4 0h1m4 0h1m52 0h1m1 0h1m-73 1h1m6 0h2m2 0h1m2 0h1m3 0h1m1 0h1m2 0h1m51 0h1m-82 1h1m13 0h1m1 0h1m8 0h1m7 0h1m47 0h1m-77 1h1m10 0h1m5 0h1m56 0h1m2 0h1m-69 1h1m2 0h1m8 0h1m36 0h2m16 0h1m-59 1h1m38 0h2m1 0h1m-64 1h1m2 0h1m15 0h1m4 0h1m35 0h4m15 0h1m-96 1h1m33 0h1m2 0h1m1 0h1m42 0h2m-79 1h1m7 0h1m17 0h1m45 0h1m1 0h1m15 0h1m-90 1h2m6 0h1m16 0h1m6 0h1m36 0h1m-43 1h2m3 0h1m1 0h2m42 0h1m7 0h1m-82 1h1m1 0h1m2 0h1m11 0h1m6 0h3m1 0h2m1 0h1m36 0h1m11 0h1m-79 1h1m4 0h1m10 0h1m1 0h1m3 0h2m3 0h1m1 0h1m37 0h1m-93 1h1m21 0h1m1 0h1m9 0h1m2 0h1m4 0h1m4 0h2m1 0h1m2 0h1m36 0h1m3 0h1m-72 1h1m2 0h1m11 0h1m1 0h1m5 0h1m6 0h1m38 0h1m3 0h1m5 0h1m1 0h1m-68 1h1m1 0h1m2 0h1m10 0h1m48 0h1m-78 1h1m12 0h1m1 0h2m2 0h1m7 0h1m35 0h1m9 0h1m-81 1h1m17 0h1m1 0h1m4 0h2m1 0h1m1 0h1m2 0h1m35 0h2m7 0h1m4 0h1m-82 1h1m11 0h1m5 0h1m1 0h3m5 0h1m2 0h2m35 0h1m7 0h1m-56 1h1m1 0h2m4 0h1m41 0h1m7 0h1m-82 1h2m15 0h4m13 0h1m33 0h1m2 0h1m3 0h1m2 0h1m-63 1h1m1 0h1m7 0h1m1 0h1m2 0h1m1 0h1m38 0h1m2 0h1m2 0h3m-76 1h1m5 0h1m14 0h1m2 0h1m1 0h1m45 0h1m-78 1h1m12 0h1m10 0h2m-46 1h1m20 0h1m8 0h1m11 0h1m6 0h1m31 0h1m21 0h1m-75 1h1m2 0h2m7 0h1m-37 1h1m9 0h1m14 0h1m-8 1h1m3 0h1m2 0h4m-47 1h1m12 0h1m26 0h1m1 0h1m4 0h1m-36 1h1m19 0h1m5 0h1m3 0h1m-23 1h1m9 0h1m3 0h1m11 0h1m-1 1h1m6 0h1m44 0h1m-60 1h2m11 0h1m-21 1h1m9 0h1m-9 1h2m-2 1h1m5 0h1m1 0h3m-7 2h1m12 0h1m-15 1h1m6 0h1m-19 2h1m9 1h1m7 0h1m43 0h1m1 0h3m-49 1h1m29 0h1m4 0h1m7 0h1m3 0h1m6 0h1m-25 1h1m3 0h2m11 0h1m-57 1h1m22 0h1m17 0h1m1 0h1m11 0h1m1 0h1m-64 1h1m12 0h2m14 0h2m3 0h1m7 0h2m1 0h1m7 0h1m5 0h2m1 0h2m-60 1h1m4 0h1m7 0h1m18 0h1m6 0h1m3 0h1m3 0h3m12 0h1m-60 1h1m1 0h1m4 0h1m1 0h1m13 0h1m7 0h1m1 0h1m2 0h1m12 0h1m1 0h1m1 0h1m-54 1h1m6 0h2m1 0h1m13 0h1m3 0h1m4 0h1m8 0h1m3 0h1m10 0h1m-56 1h2m4 0h2m13 0h1m2 0h1m3 0h4m1 0h2m1 0h1m1 0h1m14 0h1m2 0h1m-53 1h1m11 0h1m1 0h1m3 0h1m1 0h2m2 0h1m16 0h1m2 0h1m4 0h1m-20 1h1m5 0h2m1 0h2m6 0h2m-59 1h1m2 0h1m2 0h1m6 0h1m15 0h1m21 0h1m4 0h1m-58 1h1m8 0h1m20 0h1m11 0h1m8 0h1m5 0h2m1 0h1m-47 1h1m8 0h1m3 0h1m1 0h1m14 0h1m2 0h2m-43 1h1m18 0h1m2 0h1m2 0h1m4 0h1m1 0h3m2 0h1m4 0h1m6 0h2m-51 1h1m5 0h2m9 0h2m4 0h1m2 0h1m6 0h1m9 0h1m9 0h1m-140 1h1m8 0h1m77 0h1m4 0h1m13 0h1m8 0h1m14 0h1m1 0h2m2 0h2m-138 1h1m6 0h1m15 0h1m56 0h1m4 0h2m16 0h1m2 0h1m4 0h1m1 0h2m1 0h2m1 0h1m10 0h1m3 0h1m-47 1h1m15 0h1m9 0h3m5 0h1m6 0h1m3 0h2m-43 1h1m9 0h1m11 0h1m4 0h2m1 0h2m1 0h1m3 0h2m-125 1h1m95 0h1m10 0h1m3 0h1m3 0h1m1 0h2m2 0h1m-102 1h1m77 0h2m13 0h2m3 0h1m3 0h1m1 0h1m-119 1h1m77 0h1m10 0h1m1 0h1m2 0h1m11 0h1m5 0h2m1 0h1m-124 1h1m3 0h1m18 0h1m57 0h1m36 0h1m1 0h1m-120 1h1m8 0h1m81 0h1m5 0h2m6 0h1m6 0h1m6 0h1m-124 1h1m7 0h1m75 0h1m1 0h1m4 0h1m1 0h1m2 0h1m12 0h1m3 0h1m-114 1h1m90 0h1m4 0h1m12 0h3m2 0h3m2 0h1m-119 1h1m2 0h1m90 0h1m7 0h3m6 0h1m-110 1h1m2 0h1m5 0h1m2 0h1m78 0h1m1 0h1m5 0h1m4 0h2m12 0h2m-126 1h3m1 0h1m10 0h1m87 0h1m1 0h1m4 0h1m5 0h1m-118 1h1m12 0h1m1 0h2m74 0h1m4 0h1m11 0h1m4 0h2m1 0h1m5 0h1m-115 1h1m87 0h1m10 0h1m2 0h3m1 0h1m-111 1h1m2 0h1m4 0h1m82 0h1m11 0h1m1 0h1m2 0h1m1 0h1m-113 1h1m10 0h1m1 0h1m2 0h2m12 0h1m79 0h2m-112 1h1m49 0h1m37 0h1m5 0h1m1 0h1m1 0h1m2 0h1m9 0h1m2 0h1m-96 1h2m68 0h1m19 0h1m-100 1h2m1 0h1m7 0h2m8 0h1m13 0h1m1 0h1m16 0h1m-55 1h2m2 0h1m1 0h1m6 0h2m20 0h1m8 0h1m1 0h1m2 0h1m5 0h2m2 0h1m22 0h1m-88 1h1m3 0h1m6 0h1m32 0h2m6 0h1m3 0h1m2 0h1m6 0h1m21 0h1m-83 1h2m6 0h1m33 0h1m9 0h1m8 0h1m18 0h1m-88 1h1m11 0h1m37 0h2m4 0h1m5 0h1m3 0h1m8 0h1m12 0h1m-74 1h1m3 0h1m26 0h1m10 0h2m16 0h3m8 0h1m1 0h1m-72 1h1m1 0h1m25 0h1m5 0h1m9 0h1m1 0h2m6 0h1m-53 1h2m1 0h4m1 0h1m35 0h1m1 0h1m14 0h1m4 0h1m-57 1h1m1 0h1m4 0h1m-16 2h1m2 0h1m3 1h1m-14 2h1m9 0h1m-7 3h1"/>
<path stroke="#E5E419" d="M187 10h1m-38 5h1m26 2h1m1 0h2m-7 2h1m0 1h1m2 0h1m1 0h2m-6 1h1m0 1h1m1 0h1m-7 1h1m3 0h1m0 1h3m1 0h1m1 0h2m-9 1h1m1 0h1m2 0h1m-16 1h1m8 0h2m6 0h1m-13 1h1m1 0h2m2 0h1m-18 1h1m4 0h1m4 0h1m3 0h1m2 0h2m-34 1h1m2 0h1m13 0h1m10 0h1m-4 1h1m2 0h2m-29 1h1m2 0h1m1 0h1m7 0h1m1 0h1m10 0h1m1 0h1m1 0h1m1 0h1m-26 1h1m6 0h1m1 0h1m7 0h1m4 0h1m-30 1h1m4 0h1m8 0h1m11 0h1m6 0h1m-31 1h1m5 0h1m3 0h1m1 0h1m8 0h1m-27 1h2m2 0h1m2 0h1m1 0h1m3 0h1m-15 1h1m2 0h1m9 0h1m29 0h1m-41 1h3m20 0h1m17 0h1m-41 1h3m31 0h1m1 0h1m4 0h1m-45 1h1m1 0h1m9 0h1m32 0h1m-49 1h2m1 0h1m1 0h1m1 0h1m1 0h2m5 0h1m21 0h1m-39 1h1m3 0h1m21 0h2m2 0h1m4 0h2m-42 1h1m23 0h1m7 0h1m6 0h1m11 0h1m-27 1h1m3 0h1m-17 1h1m35 0h1m-51 1h1m13 0h1m-20 1h1m1 0h1m17 0h1m16 0h1m12 1h1m6 0h1m2 0h2m-46 1h1m2 0h2m4 0h2m32 0h1m-47 1h1m35 0h1m15 0h2m-58 1h1m4 0h2m1 0h2m5 0h2m21 0h1m6 0h1m3 0h1m-50 1h2m1 0h1m12 0h1m1 0h1m5 0h1m2 0h1m8 0h2m1 0h1m2 0h1m3 0h1m9 0h1m-58 1h2m13 0h1m7 0h1m2 0h1m10 0h2m1 0h1m3 0h1m1 0h1m-64 1h2m3 0h1m18 0h1m3 0h1m25 0h1m-56 1h1m26 0h1m27 0h1m4 0h1m-51 1h1m7 0h1m8 0h1m1 0h1m16 0h1m9 0h1m1 0h1m1 0h1m2 0h1m-60 1h2m2 0h2m47 0h1m2 0h1m2 0h1m-47 1h1m1 0h2m6 0h1m31 0h4m-64 1h1m15 0h1m2 0h2m3 0h1m1 0h1m20 0h1m9 0h1m2 0h1m-45 1h1m1 0h1m0 1h1m5 0h1m1 0h2m12 0h1m4 0h1m12 0h1m-54 1h1m11 0h2m1 0h1m1 0h1m15 0h1m10 0h1m-39 1h1m2 0h1m25 0h1m14 0h1m2 0h1m1 0h1m-41 1h1m2 0h1m1 0h1m3 0h1m31 0h1m-51 1h1m9 0h1m1 0h1m1 0h2m33 0h1m16 0h1m-76 1h1m9 0h1m3 0h1m2 0h2m3 0h1m14 0h1m23 0h1m17 0h1m-77 1h1m12 0h1m2 0h1m3 0h1m1 0h2m33 0h1m14 0h1m2 0h1m3 0h1m-82 1h1m3 0h1m9 0h1m8 0h2m34 0h1m19 0h1m1 0h1m-74 1h1m3 0h1m3 0h1m8 0h2m33 0h2m-50 1h1m5 0h1m2 0h1m2 0h1m52 0h1m2 0h1m-64 1h1m3 0h1m2 0h2m52 0h1m1 0h2m-71 1h1m5 0h1m1 0h1m4 0h1m4 0h1m10 0h1m8 0h1m8 0h1m6 0h1m-51 1h2m2 0h1m1 0h1m2 0h1m2 0h1m14 0h1m19 0h1m12 0h1m3 0h1m-85 1h1m16 0h1m7 0h1m1 0h2m1 0h1m1 0h1m15 0h1m11 0h2m18 0h1m3 0h1m-70 1h1m2 0h1m8 0h2m3 0h1m5 0h2m20 0h1m3 0h1m2 0h2m2 0h1m8 0h4m-68 1h1m7 0h1m5 0h1m1 0h1m29 0h1m2 0h1m2 0h1m1 0h1m2 0h1m7 0h2m-83 1h1m9 0h1m7 0h2m9 0h1m2 0h1m6 0h1m23 0h4m15 0h2m-85 1h1m2 0h1m11 0h3m5 0h1m4 0h1m3 0h1m1 0h1m19 0h1m8 0h1m1 0h1m1 0h2m13 0h1m-96 1h1m28 0h1m14 0h1m14 0h1m15 0h1m6 0h2m-69 1h1m7 0h1m3 0h1m4 0h4m5 0h1m2 0h1m16 0h1m9 0h1m25 0h1m-84 1h1m13 0h1m1 0h1m2 0h1m10 0h1m1 0h2m33 0h1m2 0h1m4 0h1m-57 1h1m4 0h2m1 0h1m5 0h1m14 0h1m20 0h2m4 0h1m1 0h1m1 0h1m-67 1h1m1 0h1m9 0h1m3 0h1m1 0h1m2 0h1m6 0h1m34 0h1m-58 1h1m2 0h1m2 0h1m3 0h1m5 0h1m11 0h1m5 0h1m8 0h1m12 0h3m-65 1h1m4 0h1m2 0h3m2 0h1m43 0h1m-56 1h2m2 0h1m1 0h1m1 0h3m1 0h1m33 0h1m2 0h1m1 0h2m2 0h2m1 0h1m7 0h1m-73 1h1m1 0h1m2 0h2m5 0h1m2 0h1m3 0h1m20 0h1m3 0h1m1 0h1m9 0h1m1 0h1m-58 1h1m3 0h1m3 0h2m2 0h1m1 0h1m3 0h1m34 0h2m9 0h2m-66 1h2m1 0h1m1 0h2m3 0h3m32 0h2m-51 1h2m2 0h1m3 0h1m4 0h1m1 0h1m41 0h1m14 0h1m-62 1h1m1 0h1m2 0h1m1 0h1m-37 1h1m17 0h1m7 0h1m41 0h1m-43 1h1m1 0h1m2 0h2m31 0h1m1 0h3m11 0h1m-65 1h3m2 0h1m9 0h1m32 0h2m1 0h1m-49 1h2m7 0h1m3 0h1m32 0h1m-48 1h1m10 0h1m3 0h1m35 0h1m2 0h1m7 0h1m-69 1h2m1 0h2m51 0h1m-55 1h2m2 0h4m58 0h1m-65 1h1m3 0h1m4 0h1m42 0h1m1 0h1m-62 1h1m6 0h1m7 0h2m2 0h2m-18 1h1m14 0h1m28 0h1m17 0h1m1 0h1m-73 1h1m12 0h1m1 0h1m6 0h1m4 0h1m-16 1h1m1 0h1m4 0h1m2 0h1m5 0h1m45 0h1m-79 1h1m15 0h1m6 0h1m1 0h1m37 0h1m-44 1h1m5 0h1m-9 1h2m27 0h3m-23 1h1m20 0h2m1 0h1m8 0h1m6 0h1m-50 1h1m6 0h1m3 0h1m1 0h1m1 0h1m12 0h1m1 0h1m1 0h1m3 0h2m6 0h2m1 0h1m2 0h1m-62 1h1m20 0h2m1 0h1m14 0h1m1 0h1m6 0h2m5 0h2m7 0h1m-56 1h3m13 0h2m2 0h1m8 0h1m1 0h1m5 0h2m2 0h1m3 0h1m-40 1h1m11 0h1m2 0h1m11 0h1m1 0h3m2 0h2m-42 1h1m1 0h1m3 0h3m4 0h1m6 0h1m2 0h1m1 0h3m2 0h1m1 0h1m1 0h1m7 0h1m6 0h2m4 0h1m-35 1h2m15 0h2m3 0h1m5 0h1m1 0h3m-52 1h1m1 0h1m7 0h1m3 0h1m2 0h2m4 0h1m1 0h1m3 0h1m1 0h1m3 0h1m4 0h2m2 0h2m6 0h1m-52 1h1m8 0h2m1 0h1m2 0h1m13 0h1m7 0h1m3 0h3m-45 1h2m8 0h1m1 0h3m15 0h1m2 0h1m1 0h1m6 0h3m2 0h1m1 0h1m1 0h1m-52 1h1m10 0h2m8 0h2m8 0h2m6 0h1m1 0h1m4 0h3m-60 1h1m2 0h1m8 0h1m6 0h1m3 0h1m2 0h1m4 0h4m1 0h1m3 0h1m2 0h2m5 0h2m1 0h1m1 0h1m4 0h1m-59 1h1m16 0h1m5 0h1m5 0h1m8 0h1m1 0h3m1 0h1m2 0h1m1 0h3m5 0h1m-57 1h1m8 0h1m5 0h1m3 0h1m2 0h1m4 0h1m1 0h1m2 0h1m1 0h1m1 0h2m2 0h1m6 0h1m1 0h2m1 0h1m1 0h1m-47 1h2m7 0h2m2 0h1m2 0h1m3 0h2m6 0h1m8 0h4m-41 1h2m3 0h1m11 0h1m1 0h1m2 0h1m3 0h1m3 0h1m1 0h3m5 0h1m1 0h3m-46 1h1m8 0h1m1 0h2m1 0h2m4 0h2m2 0h1m2 0h1m3 0h2m2 0h1m5 0h1m-133 1h1m86 0h2m2 0h2m7 0h1m7 0h1m7 0h1m2 0h1m2 0h2m1 0h1m3 0h1m-38 1h1m8 0h1m1 0h2m10 0h1m2 0h2m1 0h1m8 0h1m-130 1h1m1 0h1m97 0h2m1 0h1m6 0h1m1 0h1m1 0h1m8 0h1m1 0h1m4 0h1m-124 1h1m82 0h1m10 0h1m9 0h1m1 0h1m1 0h1m3 0h1m3 0h1m4 0h1m-127 1h1m78 0h1m6 0h1m23 0h1m9 0h1m1 0h1m-124 1h1m1 0h1m84 0h2m9 0h1m2 0h1m6 0h2m1 0h1m4 0h1m7 0h2m-117 1h1m79 0h1m4 0h1m2 0h1m4 0h1m1 0h1m6 0h1m2 0h1m6 0h2m-124 1h1m2 0h1m1 0h2m1 0h2m80 0h1m1 0h1m4 0h2m6 0h1m2 0h2m5 0h3m1 0h1m2 0h1m-115 1h1m87 0h1m3 0h2m1 0h1m5 0h2m3 0h4m5 0h1m-125 1h1m2 0h1m25 0h1m49 0h1m12 0h1m4 0h3m2 0h2m1 0h1m16 0h1m-122 1h1m80 0h1m10 0h1m1 0h1m4 0h2m4 0h1m3 0h1m2 0h2m1 0h1m-113 1h1m5 0h1m1 0h1m78 0h1m2 0h1m2 0h3m4 0h1m3 0h1m1 0h1m-117 1h1m103 0h1m1 0h1m2 0h1m3 0h1m3 0h1m5 0h2m-117 1h1m99 0h1m4 0h1m-108 1h3m9 0h2m90 0h1m7 0h3m-121 1h1m2 0h1m14 0h1m90 0h1m1 0h1m4 0h2m-116 1h1m9 0h1m2 0h1m16 0h1m75 0h1m1 0h1m4 0h1m5 0h1m-116 1h1m10 0h1m13 0h1m1 0h1m17 0h1m46 0h1m9 0h1m2 0h2m3 0h1m-112 1h1m12 0h1m14 0h1m16 0h1m4 0h2m39 0h2m12 0h1m2 0h1m-109 1h2m10 0h3m6 0h2m21 0h1m2 0h1m3 0h1m3 0h1m2 0h2m1 0h1m24 0h2m2 0h1m-91 1h2m5 0h1m36 0h1m14 0h1m26 0h1m5 0h1m5 0h1m11 0h1m-106 1h1m4 0h1m2 0h1m39 0h1m9 0h1m2 0h2m-65 1h1m7 0h4m1 0h1m31 0h2m14 0h1m36 0h1m-91 1h2m4 0h1m23 0h1m5 0h3m17 0h1m4 0h1m1 0h1m8 0h1m1 0h1m3 0h1m1 0h1m-89 1h1m1 0h1m43 0h3m11 0h2m8 0h2m1 0h1m6 0h1m7 0h1m-90 1h1m17 0h1m28 0h1m1 0h1m6 0h1m1 0h1m1 0h1m4 0h1m7 0h1m1 0h2m2 0h3m1 0h1m3 0h1m-45 1h1m10 0h1m1 0h1m2 0h1m6 0h2m1 0h1m1 0h1m10 0h1m1 0h1m-73 1h1m14 0h2m4 0h1m7 0h1m11 0h1m27 0h1m3 0h1m-84 1h1m9 0h1m5 0h1m9 0h1m-17 1h1m2 0h1m2 0h3m1 0h1m2 0h1m14 0h1m-16 1h1m14 0h1m-3 1h1m-11 1h1m-5 1h1m1 0h1m7 0h1m-13 1h1m1 0h1m-10 1h1m2 0h1m3 0h1m-5 1h1"/>
<path stroke="#F4E61E" d="M176 17h1m1 0h1m2 0h1m-6 1h4m-5 1h3m2 0h1m-2 1h1m-5 1h1m3 0h2m-5 1h1m1 0h1m1 0h2m-8 1h1m1 0h1m1 0h2m2 0h1m-6 1h1m3 0h1m-10 1h4m4 0h1m3 0h2m-12 1h2m9 0h1m-40 1h1m29 0h1m-12 1h1m11 0h1m-36 1h1m19 0h1m1 0h1m10 0h4m-33 1h2m1 0h1m10 0h1m4 0h1m6 0h2m2 0h1m-29 1h2m11 0h1m8 0h2m2 0h1m1 0h1m1 0h1m-32 1h2m11 0h1m1 0h1m7 0h1m1 0h1m1 0h2m-22 1h1m5 0h1m1 0h1m8 0h2m1 0h1m-21 1h2m-8 1h1m1 0h1m4 0h1m27 0h3m-41 1h2m1 0h3m1 0h2m1 0h1m2 0h1m8 0h1m18 0h1m-44 1h2m6 0h1m2 0h2m1 0h1m26 0h1m2 0h1m-45 1h1m1 0h3m3 0h1m1 0h1m1 0h3m25 0h1m1 0h1m2 0h1m-47 1h3m1 0h1m3 0h1m1 0h5m1 0h1m22 0h1m2 0h1m4 0h1m-46 1h1m8 0h1m1 0h1m1 0h1m1 0h1m22 0h1m2 0h2m-35 1h3m1 0h3m1 0h1m9 0h1m9 0h2m4 0h1m2 0h1m-38 1h1m4 0h1m2 0h1m6 0h2m4 0h3m1 0h1m1 0h4m1 0h4m-37 1h1m1 0h1m1 0h1m4 0h2m1 0h3m1 0h2m1 0h1m3 0h1m2 0h6m-32 1h4m3 0h1m3 0h2m1 0h5m8 0h1m1 0h2m1 0h1m1 0h1m-33 1h1m5 0h1m2 0h3m4 0h2m6 0h1m7 0h2m-34 1h1m2 0h3m1 0h1m1 0h1m1 0h4m1 0h1m1 0h1m2 0h1m1 0h1m1 0h1m8 0h1m-37 1h3m3 0h1m3 0h3m4 0h4m3 0h2m2 0h1m2 0h2m2 0h2m-33 1h1m2 0h1m2 0h1m6 0h4m2 0h1m1 0h1m4 0h9m1 0h1m1 0h2m-46 1h2m2 0h2m1 0h1m1 0h3m1 0h2m1 0h1m3 0h4m4 0h1m3 0h3m1 0h1m1 0h3m2 0h1m1 0h2m-53 1h1m9 0h1m4 0h4m1 0h1m1 0h2m3 0h1m1 0h1m1 0h1m1 0h1m3 0h5m1 0h1m5 0h4m1 0h1m-56 1h1m1 0h5m1 0h1m2 0h3m1 0h1m1 0h1m1 0h1m3 0h2m8 0h1m2 0h1m1 0h1m3 0h2m1 0h1m1 0h3m1 0h2m2 0h1m-64 1h1m6 0h2m2 0h1m1 0h1m3 0h2m2 0h1m1 0h3m1 0h1m1 0h2m10 0h1m10 0h2m4 0h3m1 0h1m-58 1h4m5 0h2m1 0h1m1 0h1m2 0h2m1 0h2m1 0h2m1 0h1m1 0h1m5 0h2m9 0h1m1 0h1m5 0h1m3 0h1m-57 1h1m1 0h1m2 0h1m1 0h1m1 0h1m1 0h2m3 0h4m1 0h3m1 0h2m8 0h1m2 0h1m3 0h1m3 0h1m-59 1h1m11 0h1m1 0h1m2 0h3m1 0h1m1 0h1m1 0h1m4 0h2m1 0h5m3 0h1m3 0h2m-35 1h2m3 0h1m1 0h1m5 0h1m5 0h1m3 0h2m1 0h1m1 0h2m2 0h1m1 0h3m5 0h1m-44 1h1m2 0h1m2 0h1m1 0h1m1 0h1m2 0h1m5 0h1m2 0h3m2 0h3m2 0h4m1 0h2m-37 1h1m3 0h1m1 0h3m2 0h2m3 0h1m5 0h2m1 0h1m1 0h5m1 0h3m5 0h1m-46 1h1m1 0h2m1 0h1m1 0h6m1 0h2m3 0h1m3 0h3m1 0h1m1 0h6m1 0h1m1 0h2m4 0h2m-47 1h1m5 0h1m1 0h1m6 0h2m1 0h1m3 0h2m2 0h4m1 0h2m1 0h1m1 0h1m2 0h4m-39 1h1m3 0h1m3 0h3m3 0h2m5 0h3m1 0h2m1 0h2m1 0h1m3 0h5m-42 1h1m3 0h2m2 0h11m2 0h1m2 0h1m1 0h2m4 0h3m1 0h2m1 0h2m1 0h1m1 0h1m-46 1h1m2 0h1m2 0h1m1 0h1m3 0h1m1 0h1m1 0h3m2 0h3m1 0h1m2 0h1m1 0h1m1 0h3m3 0h5m1 0h1m-62 1h3m12 0h1m1 0h1m2 0h1m4 0h1m2 0h1m1 0h3m4 0h2m2 0h2m6 0h2m1 0h1m2 0h1m1 0h1m1 0h2m-61 1h1m17 0h1m7 0h5m1 0h2m1 0h2m2 0h1m1 0h3m1 0h1m2 0h1m2 0h1m2 0h2m1 0h7m14 0h1m2 0h1m1 0h1m2 0h2m-86 1h1m28 0h1m2 0h2m4 0h1m4 0h1m2 0h7m1 0h1m27 0h1m2 0h1m-85 1h1m10 0h1m9 0h2m3 0h2m2 0h1m1 0h2m1 0h2m1 0h1m1 0h1m3 0h1m6 0h1m1 0h1m2 0h1m2 0h1m16 0h1m4 0h1m2 0h1m-86 1h1m2 0h1m8 0h1m10 0h1m1 0h2m2 0h2m1 0h1m2 0h2m1 0h1m15 0h1m6 0h1m20 0h4m-76 1h1m10 0h2m1 0h1m2 0h3m1 0h2m2 0h3m3 0h3m1 0h1m2 0h1m5 0h3m2 0h3m2 0h1m12 0h1m5 0h3m-73 1h1m7 0h1m3 0h1m2 0h2m4 0h3m5 0h1m1 0h4m2 0h3m1 0h1m1 0h3m1 0h1m18 0h1m4 0h1m-63 1h1m1 0h1m2 0h1m1 0h1m8 0h2m1 0h1m1 0h1m5 0h1m9 0h1m6 0h1m10 0h1m1 0h1m1 0h4m-58 1h2m3 0h3m2 0h1m1 0h1m3 0h1m1 0h1m2 0h1m2 0h1m5 0h1m2 0h3m16 0h2m1 0h1m-57 1h1m1 0h1m3 0h1m1 0h1m1 0h2m5 0h2m6 0h1m3 0h1m4 0h1m5 0h1m12 0h1m3 0h1m-58 1h3m3 0h1m1 0h1m2 0h2m5 0h1m1 0h2m10 0h2m2 0h1m3 0h1m15 0h2m-72 1h1m15 0h1m1 0h8m1 0h1m2 0h2m1 0h2m3 0h1m4 0h1m2 0h1m4 0h1m4 0h1m11 0h3m-71 1h1m15 0h1m1 0h5m3 0h1m1 0h2m3 0h2m1 0h1m1 0h1m1 0h2m2 0h1m1 0h2m6 0h2m9 0h1m-61 1h2m12 0h1m1 0h1m1 0h4m4 0h3m5 0h1m5 0h1m2 0h1m5 0h1m9 0h1m2 0h2m-68 1h2m3 0h2m5 0h1m3 0h4m2 0h2m6 0h1m1 0h5m2 0h4m3 0h1m1 0h1m15 0h4m1 0h1m-71 1h1m7 0h1m2 0h1m1 0h1m2 0h3m1 0h3m2 0h1m4 0h2m1 0h2m1 0h1m2 0h1m1 0h1m1 0h4m1 0h1m2 0h2m2 0h1m10 0h2m1 0h1m-84 1h1m15 0h1m2 0h1m2 0h1m2 0h2m7 0h1m8 0h2m2 0h1m4 0h1m1 0h3m1 0h1m2 0h3m3 0h2m1 0h1m7 0h3m1 0h2m-72 1h1m4 0h1m11 0h1m1 0h1m4 0h1m1 0h1m5 0h2m2 0h1m5 0h1m3 0h4m13 0h1m3 0h1m-64 1h1m12 0h1m1 0h1m4 0h4m2 0h6m8 0h1m2 0h1m1 0h1m12 0h1m3 0h1m3 0h1m-150 1h1m14 0h4m73 0h1m3 0h5m1 0h1m1 0h1m1 0h5m3 0h1m1 0h1m1 0h1m1 0h1m1 0h1m1 0h2m14 0h1m5 0h2m-150 1h2m1 0h1m11 0h1m82 0h5m1 0h2m3 0h1m1 0h9m2 0h1m3 0h8m10 0h2m1 0h4m-147 1h2m9 0h1m61 0h2m11 0h1m6 0h6m1 0h2m1 0h1m1 0h1m2 0h4m2 0h1m2 0h2m2 0h1m2 0h1m2 0h1m11 0h3m2 0h1m1 0h1m-146 1h2m7 0h1m66 0h1m2 0h1m6 0h1m2 0h1m3 0h2m1 0h1m1 0h2m5 0h2m1 0h3m2 0h1m1 0h1m1 0h1m2 0h1m1 0h2m2 0h2m3 0h1m1 0h2m3 0h1m2 0h2m1 0h2m-144 1h3m2 0h2m65 0h3m1 0h1m1 0h1m3 0h1m4 0h1m2 0h2m7 0h1m1 0h1m1 0h2m3 0h11m2 0h1m1 0h1m2 0h2m1 0h1m1 0h1m1 0h2m2 0h2m1 0h2m-139 1h2m62 0h1m1 0h1m3 0h1m4 0h1m5 0h1m1 0h4m1 0h1m13 0h1m1 0h2m1 0h5m3 0h1m1 0h1m2 0h3m2 0h2m2 0h1m1 0h2m1 0h4m-72 1h2m1 0h3m1 0h1m2 0h1m1 0h1m1 0h1m1 0h3m16 0h1m1 0h1m2 0h5m3 0h3m2 0h2m1 0h1m1 0h1m1 0h1m1 0h1m1 0h1m3 0h1m-66 1h4m1 0h1m1 0h1m1 0h2m1 0h1m1 0h2m21 0h6m1 0h5m2 0h3m3 0h1m2 0h1m1 0h2m1 0h1m-72 1h1m1 0h3m1 0h3m1 0h4m1 0h4m25 0h7m2 0h1m1 0h3m1 0h1m1 0h2m3 0h1m1 0h3m-68 1h5m4 0h2m2 0h2m26 0h3m5 0h2m1 0h2m1 0h2m4 0h2m2 0h2m-68 1h1m3 0h3m3 0h2m1 0h4m1 0h1m24 0h2m4 0h1m1 0h1m2 0h1m6 0h3m-75 1h1m8 0h2m2 0h6m2 0h3m29 0h1m2 0h1m1 0h4m10 0h1m1 0h1m-70 1h1m1 0h1m1 0h1m2 0h5m5 0h3m29 0h1m1 0h2m1 0h2m1 0h2m1 0h3m5 0h1m-65 1h1m2 0h4m1 0h1m1 0h2m1 0h2m27 0h1m4 0h1m4 0h2m1 0h2m6 0h1m-65 1h1m6 0h1m2 0h3m1 0h4m24 0h2m3 0h1m6 0h5m4 0h1m1 0h1m-63 1h1m1 0h4m1 0h1m1 0h2m29 0h1m1 0h1m2 0h1m4 0h1m1 0h2m1 0h1m2 0h4m-63 1h6m3 0h1m29 0h3m2 0h1m1 0h1m3 0h1m1 0h1m1 0h1m2 0h3m1 0h1m-62 1h9m1 0h4m25 0h2m2 0h2m5 0h3m1 0h2m1 0h1m1 0h2m-61 1h1m1 0h2m1 0h1m1 0h1m1 0h4m26 0h1m1 0h2m1 0h3m2 0h1m4 0h2m1 0h1m1 0h2m-62 1h1m1 0h1m2 0h1m5 0h1m1 0h2m27 0h1m4 0h1m5 0h2m1 0h2m-57 1h4m2 0h1m1 0h4m2 0h1m25 0h1m1 0h3m8 0h3m1 0h1m1 0h1m-60 1h2m1 0h1m2 0h2m1 0h5m25 0h1m3 0h7m1 0h1m2 0h2m1 0h2m-57 1h2m1 0h1m2 0h4m1 0h2m1 0h1m15 0h2m3 0h2m1 0h6m1 0h3m1 0h1m1 0h2m2 0h2m-59 1h2m3 0h2m4 0h3m1 0h2m11 0h2m5 0h2m1 0h4m2 0h1m3 0h1m1 0h2m1 0h4m-56 1h2m2 0h2m1 0h1m1 0h1m1 0h1m1 0h1m1 0h1m14 0h1m1 0h1m1 0h1m2 0h1m1 0h2m1 0h1m4 0h2m4 0h1m1 0h1m-57 1h1m2 0h3m1 0h2m5 0h2m1 0h1m13 0h2m2 0h2m2 0h4m4 0h2m5 0h2m-55 1h2m1 0h1m1 0h2m3 0h1m4 0h2m10 0h1m1 0h1m1 0h1m1 0h1m2 0h2m2 0h2m1 0h1m3 0h2m2 0h3m-55 1h3m2 0h4m2 0h2m4 0h1m10 0h1m1 0h1m10 0h1m7 0h2m1 0h2m-47 1h2m1 0h1m2 0h5m4 0h1m20 0h1m1 0h1m3 0h1m2 0h1m-54 1h1m1 0h1m2 0h3m1 0h1m1 0h2m3 0h2m1 0h1m16 0h1m2 0h1m6 0h1m6 0h2m-51 1h2m2 0h1m5 0h1m14 0h1m1 0h1m5 0h1m2 0h1m2 0h1m6 0h3m-50 1h2m2 0h1m1 0h2m15 0h1m2 0h1m10 0h2m6 0h1m2 0h2m-53 1h1m2 0h1m3 0h1m1 0h1m11 0h1m1 0h5m10 0h1m1 0h2m4 0h1m2 0h1m-46 1h3m1 0h4m2 0h4m3 0h1m3 0h2m14 0h1m1 0h2m5 0h2m-63 1h1m13 0h2m2 0h2m1 0h3m1 0h1m10 0h1m1 0h2m9 0h1m3 0h1m3 0h4m-48 1h2m3 0h1m2 0h5m3 0h1m1 0h1m2 0h1m1 0h1m1 0h2m2 0h1m3 0h1m4 0h1m7 0h1m-131 1h1m68 0h1m4 0h1m10 0h1m1 0h1m3 0h1m1 0h1m5 0h1m8 0h1m1 0h1m3 0h1m13 0h1m1 0h1m-62 1h1m16 0h3m1 0h2m3 0h1m5 0h2m13 0h1m10 0h3m-61 1h1m4 0h1m10 0h3m1 0h1m1 0h1m15 0h1m3 0h2m1 0h1m6 0h1m2 0h1m-56 1h1m1 0h2m1 0h1m8 0h1m1 0h1m1 0h1m1 0h1m2 0h1m6 0h1m1 0h1m5 0h1m4 0h1m2 0h1m2 0h1m-124 1h1m74 0h1m2 0h1m6 0h1m6 0h4m3 0h1m16 0h1m3 0h1m1 0h1m-126 1h1m77 0h4m10 0h1m1 0h6m9 0h1m5 0h1m5 0h1m1 0h2m2 0h1m-130 1h1m2 0h1m84 0h1m1 0h1m1 0h1m2 0h1m3 0h1m4 0h1m6 0h1m3 0h1m1 0h1m2 0h1m2 0h1m2 0h1m-127 1h1m2 0h1m87 0h1m1 0h2m4 0h1m2 0h1m8 0h1m6 0h1m8 0h1m-126 1h1m2 0h1m5 0h1m79 0h1m2 0h2m2 0h5m8 0h2m2 0h1m5 0h1m6 0h1m-129 1h3m1 0h1m5 0h1m81 0h2m1 0h1m2 0h2m13 0h1m4 0h1m1 0h3m-123 1h2m7 0h1m75 0h1m7 0h1m1 0h2m2 0h1m2 0h2m7 0h1m1 0h1m5 0h2m1 0h1m3 0h2m-127 1h1m81 0h2m8 0h1m3 0h2m5 0h1m1 0h1m5 0h1m12 0h2m-123 1h1m75 0h1m11 0h1m2 0h1m3 0h2m7 0h1m1 0h1m9 0h3m-120 1h1m6 0h1m1 0h1m82 0h1m1 0h1m3 0h2m10 0h1m3 0h1m2 0h3m1 0h1m-125 1h1m97 0h1m7 0h1m2 0h1m3 0h1m2 0h1m1 0h2m1 0h3m-120 1h1m92 0h1m8 0h1m3 0h1m1 0h3m1 0h1m1 0h3m-115 1h1m96 0h1m2 0h1m2 0h3m2 0h2m1 0h1m2 0h1m-111 1h1m103 0h4m1 0h2m-126 1h2m1 0h1m9 0h1m95 0h1m7 0h1m3 0h3m-123 1h2m1 0h1m1 0h1m7 0h2m96 0h1m7 0h3m-122 1h1m4 0h1m10 0h1m91 0h1m1 0h2m3 0h1m1 0h2m-115 1h1m12 0h1m88 0h1m1 0h2m2 0h1m1 0h1m2 0h2m-117 1h2m2 0h1m16 0h2m5 0h1m19 0h3m8 0h2m34 0h1m1 0h2m1 0h1m1 0h2m1 0h1m2 0h1m2 0h5m-115 1h1m28 0h1m20 0h2m1 0h3m2 0h1m2 0h1m31 0h2m1 0h3m1 0h6m3 0h4m-113 1h1m15 0h1m32 0h4m1 0h1m1 0h2m3 0h3m2 0h2m24 0h1m3 0h1m6 0h1m1 0h1m1 0h1m2 0h1m-110 1h3m13 0h1m33 0h2m8 0h1m7 0h1m24 0h7m1 0h1m1 0h1m1 0h4m-107 1h1m2 0h4m6 0h1m34 0h1m41 0h1m1 0h1m1 0h2m2 0h1m-100 1h1m1 0h1m1 0h1m2 0h3m4 0h1m34 0h1m24 0h1m16 0h2m1 0h2m4 0h1m1 0h1m-103 1h2m1 0h1m1 0h4m2 0h2m1 0h1m2 0h1m66 0h1m8 0h2m4 0h1m-98 1h3m4 0h3m5 0h1m29 0h1m1 0h1m23 0h1m5 0h1m6 0h1m2 0h1m-88 1h3m7 0h3m3 0h1m26 0h3m2 0h3m3 0h1m1 0h2m1 0h2m2 0h1m3 0h1m1 0h1m1 0h1m1 0h2m1 0h1m1 0h1m3 0h1m2 0h1m-88 1h2m1 0h3m4 0h3m1 0h1m3 0h2m1 0h1m1 0h5m5 0h1m9 0h1m1 0h2m2 0h1m1 0h3m1 0h2m1 0h5m3 0h2m2 0h3m3 0h1m3 0h2m3 0h1m1 0h2m-90 1h3m3 0h2m1 0h2m1 0h2m1 0h1m2 0h2m1 0h3m10 0h3m1 0h2m1 0h1m1 0h2m5 0h8m1 0h1m1 0h1m7 0h2m1 0h1m1 0h1m3 0h1m1 0h1m7 0h2m-89 1h1m4 0h1m2 0h2m4 0h2m2 0h1m11 0h2m3 0h1m6 0h1m12 0h1m2 0h2m11 0h1m3 0h2m1 0h1m-74 1h1m3 0h1m2 0h5m10 0h1m2 0h2m7 0h2m1 0h4m28 0h2m-75 1h1m5 0h1m8 0h1m10 0h6m7 0h1m1 0h1m-16 1h2m1 0h1m10 0h1m-31 1h1m3 0h2m9 0h1m1 0h3m-19 1h2m2 0h1m7 0h1m-12 1h1m1 0h1m1 0h1m3 0h2m-9 1h1m3 0h1m-2 1h1m1 0h2"/>
<path stroke="#FDE725" d="M175 12h1m10 0h1m-1 1h1m1 0h1m-25 1h1m11 0h1m11 0h2m-1 1h1m-3 1h1m2 0h1m-4 1h2m2 0h1m-12 1h1m4 0h1m2 0h1m-10 1h1m2 0h1m1 0h1m5 0h2m-16 1h1m-12 1h1m17 0h1m5 0h1m-1 1h1m-3 1h1m1 0h1m-42 1h1m39 0h1m-38 1h1m31 0h1m-2 1h2m3 0h1m3 1h1m-16 1h1m7 0h1m4 0h2m1 0h1m1 0h1m-22 1h1m7 0h1m7 0h1m4 0h1m-47 1h1m14 0h1m16 0h1m2 0h2m-1 1h1m2 0h1m2 0h1m2 0h2m-14 1h2m1 0h1m2 0h1m3 0h1m1 0h2m1 0h1m-5 1h1m1 0h2m-59 1h1m52 0h1m6 0h1m-1 1h1m-44 1h1m29 0h2m-41 1h2m3 0h1m1 0h2m2 0h1m28 0h2m10 0h1m-54 1h1m7 0h1m1 0h1m31 0h2m9 0h1m-15 1h1m1 0h4m8 0h1m-44 1h1m1 0h1m26 0h2m2 0h3m1 0h2m4 0h1m-64 1h1m20 0h1m3 0h1m22 0h4m1 0h2m4 0h1m-41 1h4m1 0h2m10 0h3m5 0h1m4 0h1m10 0h1m1 0h1m-45 1h1m1 0h1m1 0h4m11 0h3m1 0h2m6 0h3m2 0h2m2 0h1m1 0h1m-40 1h3m1 0h3m2 0h1m5 0h8m1 0h1m2 0h1m1 0h1m6 0h1m-38 1h5m1 0h2m3 0h4m2 0h6m1 0h7m3 0h1m2 0h1m-40 1h1m1 0h2m3 0h1m1 0h1m1 0h1m6 0h1m1 0h2m1 0h1m1 0h1m1 0h8m10 0h1m-44 1h3m1 0h3m3 0h4m4 0h3m2 0h2m1 0h1m3 0h2m-34 1h1m1 0h1m5 0h1m1 0h6m4 0h2m1 0h1m1 0h4m11 0h1m-42 1h2m2 0h1m1 0h1m3 0h1m2 0h1m1 0h3m4 0h4m1 0h2m4 0h1m1 0h1m3 0h2m1 0h1m-44 1h3m1 0h1m2 0h1m4 0h1m1 0h1m2 0h3m1 0h1m1 0h1m1 0h1m1 0h1m1 0h1m7 0h1m2 0h2m4 0h1m-109 1h1m60 0h1m1 0h2m7 0h1m1 0h2m4 0h7m13 0h1m3 0h1m2 0h1m-108 1h1m54 0h2m1 0h1m1 0h3m2 0h1m2 0h1m3 0h1m6 0h8m15 0h2m3 0h1m-93 1h1m39 0h3m1 0h1m4 0h1m1 0h2m2 0h1m2 0h1m2 0h1m1 0h1m1 0h5m2 0h1m11 0h1m5 0h3m-55 1h1m1 0h2m1 0h1m3 0h1m2 0h3m4 0h1m3 0h1m2 0h8m20 0h2m-107 1h1m50 0h1m1 0h2m7 0h1m1 0h4m2 0h1m5 0h1m1 0h1m1 0h3m2 0h2m-123 1h1m50 0h1m1 0h1m34 0h3m1 0h1m1 0h5m1 0h5m1 0h3m2 0h1m1 0h1m2 0h2m1 0h1m-31 1h2m1 0h1m3 0h2m1 0h5m1 0h2m3 0h2m3 0h2m4 0h1m-34 1h2m6 0h2m2 0h3m1 0h5m2 0h1m7 0h1m9 0h1m-43 1h1m1 0h1m6 0h1m2 0h3m1 0h3m3 0h1m1 0h1m6 0h1m1 0h1m2 0h1m-38 1h2m1 0h1m2 0h1m2 0h2m2 0h1m1 0h3m2 0h1m8 0h1m1 0h1m1 0h2m-93 1h1m59 0h1m2 0h3m3 0h3m2 0h3m1 0h1m3 0h1m2 0h1m4 0h3m-116 1h1m81 0h1m2 0h2m11 0h2m1 0h1m2 0h1m2 0h4m3 0h1m-82 1h1m4 0h1m44 0h1m4 0h2m3 0h1m3 0h2m3 0h1m1 0h2m1 0h1m1 0h1m3 0h3m5 0h1m-86 1h1m53 0h1m3 0h4m2 0h2m2 0h6m2 0h1m1 0h2m1 0h1m5 0h1m-32 1h1m2 0h1m2 0h2m5 0h1m1 0h2m1 0h2m1 0h2m2 0h1m27 0h2m-54 1h2m2 0h4m1 0h4m1 0h2m7 0h1m1 0h6m20 0h1m2 0h1m-55 1h1m4 0h1m2 0h1m1 0h1m1 0h3m1 0h6m1 0h1m1 0h2m1 0h2m24 0h1m-116 1h1m52 0h1m8 0h1m1 0h2m2 0h1m1 0h15m1 0h6m-114 1h1m82 0h1m2 0h2m3 0h3m3 0h1m1 0h2m1 0h5m3 0h2m-39 1h1m9 0h4m3 0h1m1 0h3m1 0h1m4 0h2m3 0h1m1 0h1m3 0h1m-94 1h1m61 0h1m1 0h1m1 0h6m2 0h1m3 0h5m1 0h1m1 0h7m-116 1h1m86 0h2m3 0h2m1 0h1m1 0h3m3 0h2m1 0h2m1 0h5m1 0h2m23 0h1m-54 1h2m1 0h1m1 0h1m2 0h5m3 0h5m1 0h3m1 0h1m2 0h1m22 0h1m-53 1h2m1 0h1m5 0h5m1 0h1m2 0h9m24 0h1m-152 1h1m107 0h1m1 0h2m2 0h1m2 0h3m1 0h4m1 0h2m8 0h1m-127 1h1m94 0h1m1 0h1m1 0h1m2 0h3m2 0h1m1 0h1m1 0h1m2 0h2m1 0h1m23 0h2m-54 1h1m2 0h1m1 0h1m4 0h4m3 0h4m2 0h5m1 0h1m22 0h2m-138 1h1m1 0h1m85 0h2m2 0h5m2 0h1m5 0h2m4 0h2m23 0h1m-145 1h1m1 0h2m2 0h1m78 0h1m8 0h1m3 0h2m1 0h4m5 0h1m1 0h2m1 0h1m6 0h1m1 0h1m4 0h1m15 0h1m-146 1h1m93 0h1m1 0h8m2 0h2m1 0h4m1 0h1m3 0h1m1 0h2m20 0h1m-142 1h1m92 0h3m1 0h1m1 0h5m2 0h1m2 0h5m1 0h3m4 0h1m14 0h1m2 0h4m-141 1h1m1 0h1m86 0h1m1 0h2m5 0h1m6 0h8m1 0h2m1 0h1m16 0h1m1 0h3m1 0h1m-190 1h1m45 0h1m4 0h1m1 0h1m88 0h1m1 0h1m5 0h2m2 0h1m1 0h1m3 0h1m1 0h1m2 0h2m1 0h1m14 0h2m2 0h2m-191 1h1m58 0h1m11 0h1m70 0h1m2 0h3m1 0h1m9 0h2m1 0h3m20 0h1m4 0h1m-193 1h1m143 0h1m2 0h1m1 0h1m1 0h2m4 0h2m1 0h2m2 0h2m1 0h2m18 0h2m3 0h1m-193 1h1m137 0h1m2 0h1m1 0h1m3 0h4m2 0h1m3 0h1m2 0h1m4 0h1m1 0h1m2 0h2m14 0h1m2 0h1m-189 1h1m134 0h1m3 0h2m6 0h1m1 0h1m2 0h3m11 0h2m1 0h1m7 0h1m8 0h1m2 0h1m-190 1h1m53 0h1m23 0h1m58 0h1m11 0h3m1 0h1m2 0h1m5 0h1m3 0h1m1 0h2m3 0h2m2 0h2m1 0h1m2 0h1m4 0h1m-188 1h1m14 0h1m39 0h1m68 0h1m9 0h2m15 0h1m1 0h2m5 0h2m4 0h2m4 0h1m1 0h1m1 0h1m1 0h1m1 0h3m-182 1h1m113 0h3m33 0h4m6 0h1m5 0h2m3 0h3m1 0h2m1 0h1m2 0h1m-182 1h1m115 0h1m13 0h2m20 0h3m8 0h1m1 0h1m3 0h1m1 0h1m2 0h3m1 0h1m-178 1h1m117 0h1m1 0h1m7 0h3m21 0h2m4 0h1m5 0h1m2 0h1m2 0h3m3 0h2m-177 1h1m113 0h1m3 0h3m7 0h1m23 0h2m4 0h1m2 0h1m1 0h2m1 0h6m3 0h3m-178 1h1m43 0h1m74 0h1m5 0h4m23 0h1m1 0h2m6 0h10m1 0h1m1 0h1m-176 1h1m24 0h1m91 0h4m5 0h2m24 0h2m1 0h1m2 0h1m9 0h4m2 0h1m-174 1h1m46 0h1m67 0h1m4 0h1m2 0h3m25 0h4m1 0h3m6 0h6m1 0h2m-174 1h1m52 0h1m59 0h1m1 0h1m4 0h1m30 0h3m1 0h6m5 0h4m-170 1h1m117 0h1m2 0h1m27 0h1m1 0h1m1 0h2m1 0h3m5 0h1m1 0h2m-167 1h1m115 0h1m3 0h2m28 0h2m1 0h1m1 0h3m1 0h1m1 0h1m1 0h2m3 0h1m-169 1h1m148 0h2m2 0h5m3 0h1m7 0h1m-170 1h1m105 0h1m5 0h1m1 0h1m33 0h1m2 0h1m3 0h2m1 0h4m2 0h1m1 0h1m-166 1h1m25 0h1m2 0h1m39 0h1m39 0h2m3 0h1m1 0h1m1 0h1m26 0h3m1 0h4m1 0h5m2 0h1m2 0h3m-167 1h1m62 0h1m47 0h1m7 0h2m1 0h1m21 0h3m1 0h1m4 0h7m3 0h1m1 0h1m-166 1h1m110 0h2m8 0h2m19 0h4m1 0h3m7 0h1m1 0h2m2 0h1m-163 1h1m1 0h1m46 0h1m60 0h1m1 0h2m4 0h1m2 0h1m18 0h3m2 0h1m10 0h1m1 0h1m2 0h2m-163 1h1m71 0h1m35 0h3m2 0h2m1 0h1m3 0h1m17 0h1m1 0h1m2 0h1m14 0h1m4 0h1m-163 1h1m107 0h2m4 0h1m29 0h1m11 0h2m2 0h1m-161 1h1m105 0h2m6 0h1m2 0h1m3 0h1m32 0h4m3 0h1m-161 1h1m65 0h1m6 0h1m33 0h1m1 0h1m2 0h3m39 0h2m3 0h1m-160 1h1m106 0h1m5 0h2m29 0h1m10 0h1m2 0h1m-158 1h1m104 0h2m8 0h1m38 0h1m-155 1h1m25 0h1m78 0h2m3 0h1m1 0h1m2 0h2m9 0h1m-126 1h2m105 0h2m1 0h2m1 0h1m26 0h1m-140 1h1m104 0h2m1 0h1m40 0h1m-150 1h1m2 0h1m100 0h3m1 0h1m19 0h1m22 0h1m-151 1h1m12 0h1m87 0h2m3 0h1m19 0h1m-126 1h1m102 0h2m8 0h1m-113 1h1m84 0h4m12 0h3m1 0h1m17 0h1m-124 1h1m84 0h4m12 0h1m1 0h2m16 0h1m-121 1h1m8 0h1m74 0h5m10 0h1m3 0h1m-103 1h1m82 0h4m16 0h1m-103 1h1m81 0h1m2 0h1m10 0h1m1 0h1m1 0h1m1 0h1m20 0h1m-41 1h2m11 0h3m-96 1h1m93 0h1m-2 1h1m1 0h3m1 0h1m-6 1h4m1 0h1m13 0h1m-109 1h1m85 0h2m2 0h2m-4 1h1m1 0h2m-96 1h1m8 0h1m82 0h1m3 0h1m13 0h1m-17 1h1m23 0h1m-74 1h1m46 0h1m2 0h1m3 0h1m-3 2h1m20 0h1m-20 1h1m13 0h1m0 1h1m-122 1h1m37 0h1m-25 1h1m1 0h1m25 0h1m-26 1h1m33 0h1m66 0h2m-120 1h1m25 0h1m90 0h1m2 0h1m-120 1h2m1 0h1m27 0h1m9 0h1m-41 1h1m29 0h1m21 0h1m44 0h1m2 0h1m1 0h1m2 0h1m1 0h1m-107 1h1m28 0h1m20 0h1m7 0h1m37 0h1m3 0h1m6 0h3m-15 1h2m1 0h2m1 0h3m1 0h1m1 0h1m1 0h2m-110 1h1m100 0h1m1 0h1m1 0h1m-105 1h2m2 0h1m88 0h1m1 0h1m2 0h2m2 0h4m-102 1h1m1 0h2m5 0h1m2 0h1m77 0h1m2 0h4m1 0h1m-93 1h2m2 0h1m1 0h1m75 0h2m2 0h4m1 0h1m-96 1h4m3 0h5m78 0h4m-99 1h2m3 0h7m3 0h3m1 0h1m28 0h2m3 0h2m8 0h1m10 0h1m2 0h1m1 0h1m2 0h1m-81 1h1m3 0h4m5 0h3m2 0h1m1 0h1m21 0h1m2 0h2m1 0h1m6 0h1m5 0h3m2 0h2m3 0h3m1 0h3m3 0h2m-83 1h1m1 0h1m2 0h1m2 0h1m4 0h2m6 0h6m1 0h3m3 0h1m4 0h1m2 0h5m8 0h1m1 0h1m1 0h1m3 0h3m2 0h1m1 0h1m1 0h3m1 0h1m5 0h3m-88 1h1m1 0h1m4 0h2m2 0h3m14 0h3m2 0h3m1 0h5m2 0h3m14 0h1m11 0h3m2 0h1m-77 1h1m4 0h3m1 0h2m16 0h1m3 0h7m37 0h3m-74 1h2m1 0h8m17 0h6m2 0h1m1 0h1m-43 1h1m3 0h11m15 0h10m1 0h1m-34 1h2m1 0h3m19 0h1m1 0h1m-23 1h2m-5 1h2m1 0h1m9 0h1m-10 1h3m2 0h3m-8 1h2m1 0h1"/>
</g>
<g clip-path="url(#za)" stroke="#EBEBEB" stroke-opacity="0.22" fill="none"><path stroke-width="0.270" d="M10 8v153M11 8v153M12 8v153M13 8v153M14 8v153M15 8v153M16 8v153M17 8v153M18 8v153M19 8v153M20 8v153M21 8v153M22 8v153M23 8v153M24 8v153M25 8v153M26 8v153M27 8v153M28 8v153M29 8v153M30 8v153M31 8v153M32 8v153M33 8v153M34 8v153M35 8v153M36 8v153M37 8v153M38 8v153M39 8v153M40 8v153M41 8v153M42 8v153M43 8v153M44 8v153M45 8v153M46 8v153M47 8v153M48 8v153M49 8v153M50 8v153M51 8v153M52 8v153M53 8v153M54 8v153M55 8v153M56 8v153M57 8v153M58 8v153M59 8v153M60 8v153M61 8v153M62 8v153M63 8v153M64 8v153M65 8v153M66 8v153M67 8v153M68 8v153M69 8v153M70 8v153M71 8v153M72 8v153M73 8v153M74 8v153M75 8v153M76 8v153M77 8v153M78 8v153M79 8v153M80 8v153M81 8v153M82 8v153M83 8v153M84 8v153M85 8v153M86 8v153M87 8v153M88 8v153M89 8v153M90 8v153M91 8v153M92 8v153M93 8v153M94 8v153M95 8v153M96 8v153M97 8v153M98 8v153M99 8v153M100 8v153M101 8v153M102 8v153M103 8v153M104 8v153M105 8v153M106 8v153M107 8v153M108 8v153M109 8v153M110 8v153M111 8v153M112 8v153M113 8v153M114 8v153M115 8v153M116 8v153M117 8v153M118 8v153M119 8v153M120 8v153M121 8v153M122 8v153M123 8v153M124 8v153M125 8v153M126 8v153M127 8v153M128 8v153M129 8v153M130 8v153M131 8v153M132 8v153M133 8v153M134 8v153M135 8v153M136 8v153M137 8v153M138 8v153M139 8v153M140 8v153M141 8v153M142 8v153M143 8v153M144 8v153M145 8v153M146 8v153M147 8v153M148 8v153M149 8v153M150 8v153M151 8v153M152 8v153M153 8v153M154 8v153M155 8v153M156 8v153M157 8v153M158 8v153M159 8v153M160 8v153M161 8v153M162 8v153M163 8v153M164 8v153M165 8v153M166 8v153M167 8v153M168 8v153M169 8v153M170 8v153M171 8v153M172 8v153M173 8v153M174 8v153M175 8v153M176 8v153M177 8v153M178 8v153M179 8v153M180 8v153M181 8v153M182 8v153M183 8v153M184 8v153M185 8v153M186 8v153M187 8v153M188 8v153M189 8v153M190 8v153M191 8v153M192 8v153M193 8v153M194 8v153M195 8v153M196 8v153M197 8v153M198 8v153M199 8v153M200 8v153M201 8v153M202 8v153M203 8v153M204 8v153M205 8v153M206 8v153M207 8v153M208 8v153"/><path stroke-width="0.237" d="M10 8h198M10 9h198M10 10h198M10 11h198M10 12h198M10 13h198M10 14h198M10 15h198M10 16h198M10 17h198M10 18h198M10 19h198M10 20h198M10 21h198M10 22h198M10 23h198M10 24h198M10 25h198M10 26h198M10 27h198M10 28h198M10 29h198M10 30h198M10 31h198M10 32h198M10 33h198M10 34h198M10 35h198M10 36h198M10 37h198M10 38h198M10 39h198M10 40h198M10 41h198M10 42h198M10 43h198M10 44h198M10 45h198M10 46h198M10 47h198M10 48h198M10 49h198M10 50h198M10 51h198M10 52h198M10 53h198M10 54h198M10 55h198M10 56h198M10 57h198M10 58h198M10 59h198M10 60h198M10 61h198M10 62h198M10 63h198M10 64h198M10 65h198M10 66h198M10 67h198M10 68h198M10 69h198M10 70h198M10 71h198M10 72h198M10 73h198M10 74h198M10 75h198M10 76h198M10 77h198M10 78h198M10 79h198M10 80h198M10 81h198M10 82h198M10 83h198M10 84h198M10 85h198M10 86h198M10 87h198M10 88h198M10 89h198M10 90h198M10 91h198M10 92h198M10 93h198M10 94h198M10 95h198M10 96h198M10 97h198M10 98h198M10 99h198M10 100h198M10 101h198M10 102h198M10 103h198M10 104h198M10 105h198M10 106h198M10 107h198M10 108h198M10 109h198M10 110h198M10 111h198M10 112h198M10 113h198M10 114h198M10 115h198M10 116h198M10 117h198M10 118h198M10 119h198M10 120h198M10 121h198M10 122h198M10 123h198M10 124h198M10 125h198M10 126h198M10 127h198M10 128h198M10 129h198M10 130h198M10 131h198M10 132h198M10 133h198M10 134h198M10 135h198M10 136h198M10 137h198M10 138h198M10 139h198M10 140h198M10 141h198M10 142h198M10 143h198M10 144h198M10 145h198M10 146h198M10 147h198M10 148h198M10 149h198M10 150h198M10 151h198M10 152h198M10 153h198M10 154h198M10 155h198M10 156h198M10 157h198M10 158h198M10 159h198M10 160h198M10 161h198"/></g></g>
<!-- med -->
<g transform="translate(130.55 1139.45) scale(3.7067 4.2208)"><g transform="translate(0 0.5)" fill="none" stroke-width="1">
<path stroke="#440154" d="M168 10h1m3 0h1m-9 2h1m14 0h1m-3 1h2m7 1h1m-34 1h1m32 0h1m1 0h1m1 0h1m-18 1h1m12 0h1m2 0h1m0 1h1m-4 1h1m1 0h1m-38 2h1m-2 1h1m34 0h2m-41 1h1m3 0h1m15 0h1m19 0h2m1 1h1m-33 2h1m34 1h1m-4 1h1m2 0h1m-1 1h1m-6 1h1m1 0h1m1 0h2m-9 1h1m2 0h4m1 0h1m1 0h1m-14 1h2m1 0h2m2 0h1m1 0h2m-8 1h2m2 0h1m2 0h1m-3 1h2m-3 1h1m1 0h2m2 0h1m-5 1h1m1 0h2m-3 1h4m1 0h1m-5 1h2m-2 1h3m-61 1h1m57 0h4m-4 1h4m-143 1h1m139 0h2m1 0h1m-5 1h1m1 0h1m-1 1h3m-6 1h5m-109 2h1m3 0h2m-7 1h1m1 0h1m7 0h1m-3 1h1m-43 1h1m5 0h1m27 0h1m6 0h1m4 0h1m-46 1h1m2 0h2m34 0h1m5 0h1m-41 2h1m42 0h3m-14 1h1m9 0h1m4 0h1m-16 1h2m-7 1h1m5 0h1m13 0h1m-44 1h1m20 0h1m7 0h1m-6 1h1m4 0h1m-8 1h1m8 0h1m1 0h1m-15 1h1m1 0h1m2 0h1m4 0h1m1 0h1m1 0h1m-3 1h2m-40 1h1m38 0h2m-41 1h1m38 0h1m-18 1h1m1 0h1m1 0h1m3 0h2m-28 1h1m12 0h1m8 0h1m1 0h1m4 0h1m17 0h1m-41 1h1m13 0h2m1 0h1m5 0h1m2 0h1m-37 1h1m1 0h1m18 0h1m7 0h2m4 0h2m-9 1h2m6 0h1m-35 1h2m6 0h1m7 0h1m2 0h1m10 0h1m-16 1h1m1 0h1m14 0h1m-21 1h1m1 0h2m2 0h2m12 0h2m-20 1h1m2 0h1m9 0h1m-14 1h1m2 0h2m1 0h1m1 0h1m3 0h1m-17 1h1m5 0h1m7 0h1m-9 1h1m9 0h1m1 0h1m-7 1h1m4 0h1m-31 1h1m3 0h1m12 0h1m12 0h1m-1 1h1m1 0h1m-3 1h3m-3 1h2m-25 1h1m16 0h1m1 0h2m1 0h2m-67 1h1m36 0h1m21 0h1m1 0h1m4 0h1m-72 1h1m56 0h1m6 0h1m1 0h2m1 0h3m-35 1h1m1 0h1m8 0h1m20 0h1m1 0h1m-71 1h1m70 0h1m-17 1h1m2 0h1m2 0h1m5 0h1m-29 1h1m7 0h2m19 0h2m-38 1h1m23 0h1m7 0h4m1 0h1m-73 1h1m31 0h2m3 0h1m13 0h1m12 0h1m4 0h2m3 0h1m-74 1h1m4 0h1m8 0h1m18 0h3m1 0h1m9 0h1m1 0h1m2 0h1m18 0h2m16 0h1m-79 1h1m5 0h2m1 0h1m1 0h2m1 0h2m7 0h1m1 0h1m9 0h1m1 0h1m5 0h1m6 0h1m6 0h1m1 0h1m-71 1h1m2 0h1m7 0h1m6 0h1m2 0h1m10 0h1m2 0h1m1 0h1m9 0h3m13 0h1m5 0h2m-37 1h2m2 0h1m4 0h1m1 0h1m1 0h3m7 0h1m12 0h1m2 0h1m-33 1h4m1 0h3m6 0h1m1 0h1m1 0h1m3 0h1m-21 1h1m3 0h2m1 0h2m3 0h1m1 0h1m2 0h1m1 0h3m6 0h2m-54 1h3m1 0h2m15 0h1m7 0h2m1 0h2m3 0h2m7 0h1m5 0h1m-54 1h1m18 0h1m14 0h1m1 0h2m-52 1h1m11 0h2m9 0h2m28 0h1m9 0h1m-55 1h1m2 0h1m8 0h1m6 0h1m12 0h1m4 0h1m4 0h1m1 0h1m6 0h1m3 0h1m1 0h1m7 0h1m-33 1h1m9 0h2m10 0h1m-40 1h1m16 0h1m4 0h1m17 0h1m-27 1h1m8 0h1m10 0h2m-58 1h1m63 0h1m11 0h2m-35 1h1m2 0h1m23 0h1m5 0h2m-63 1h1m57 0h2m-55 1h1m-21 1h1m15 0h1m2 0h1m1 0h1m49 0h1m-55 1h1m2 0h1m43 0h1m-63 1h1m13 0h1m1 0h1m8 0h1m15 1h1m-28 1h1m4 0h1m-11 1h1m2 0h1m4 0h1m-12 1h1m7 0h1m1 0h1m4 0h1m-20 2h1m12 0h1m2 0h1m25 0h1m-26 1h2m-7 1h1m0 2h1m10 2h1m-4 1h1m-1 1h1m1 0h1m-4 1h1m1 0h1m0 1h2m-2 2h1m-1 1h1m0 2h1m1 0h1m1 3h1m23 0h1m-27 1h1m1 0h1m17 0h1m6 0h1m8 0h1m-34 1h1m22 0h1m16 0h1m-17 1h1m6 0h1m5 0h1m-14 1h2m6 0h1m-20 1h1m2 0h1m7 0h1m4 0h1m-13 1h1m21 0h2m1 0h1m-11 1h1"/>
<path stroke="#471063" d="M167 9h1m1 0h1m2 0h1m-8 1h2m6 0h1m6 0h2m1 0h1m-19 1h2m1 0h1m2 0h2m2 0h1m1 0h1m1 0h2m-22 1h1m2 0h2m1 0h2m1 0h1m8 0h2m3 0h1m-26 1h1m4 0h1m3 0h2m1 0h2m1 0h2m1 0h1m3 0h2m1 0h1m6 0h1m-35 1h1m15 0h1m3 0h1m6 0h1m2 0h1m1 0h1m-36 1h1m3 0h2m2 0h1m7 0h1m16 0h1m1 0h1m-3 1h1m2 0h1m-35 1h2m28 0h3m2 0h1m-29 1h2m21 0h1m5 0h2m-38 1h1m10 0h1m1 0h1m17 0h5m-44 1h6m13 0h2m17 0h8m-45 1h4m3 0h1m11 0h5m13 0h2m2 0h1m1 0h2m-46 1h1m2 0h2m1 0h1m5 0h1m6 0h2m19 0h1m3 0h2m-46 1h2m1 0h1m9 0h1m4 0h1m1 0h3m19 0h1m2 0h1m-53 1h1m3 0h1m1 0h1m1 0h1m7 0h1m3 0h1m9 0h1m17 0h1m1 0h3m-49 1h2m8 0h1m34 0h6m-51 1h1m44 0h5m-4 1h1m2 0h1m-2 1h1m-55 1h1m45 0h5m3 0h1m-55 1h1m43 0h2m3 0h2m4 0h1m1 0h1m-7 1h1m6 0h1m-61 1h2m9 0h1m41 0h1m1 0h1m4 0h1m-9 1h3m3 0h1m2 0h1m-9 1h1m4 0h2m1 0h1m-64 1h2m2 0h2m51 0h1m1 0h1m2 0h2m-65 1h5m2 0h1m51 0h1m4 0h1m-64 1h1m1 0h1m55 0h2m2 0h2m-66 1h1m1 0h2m2 0h1m29 0h1m24 0h1m3 0h1m-68 1h1m36 0h1m-114 1h2m-2 1h1m1 0h1m72 0h1m12 0h1m48 0h1m5 0h1m-144 1h4m67 0h1m67 0h1m4 0h1m-145 1h5m133 0h1m1 0h1m-141 1h6m130 0h2m6 0h1m-145 1h6m134 0h1m1 0h3m-145 1h7m29 0h3m2 0h3m99 0h1m-144 1h8m27 0h1m1 0h5m1 0h1m100 0h1m-145 1h9m24 0h9m1 0h3m-45 1h5m1 0h2m24 0h1m1 0h2m1 0h3m1 0h4m-46 1h1m1 0h2m2 0h3m23 0h8m1 0h5m1 0h5m-52 1h1m1 0h8m22 0h3m1 0h17m28 0h1m-82 1h6m1 0h3m22 0h1m1 0h1m1 0h6m2 0h5m-49 1h11m21 0h2m1 0h3m1 0h2m6 0h1m1 0h1m1 0h2m3 0h2m-58 1h8m1 0h2m21 0h6m2 0h1m3 0h1m2 0h1m1 0h4m-53 1h1m1 0h1m2 0h1m2 0h3m21 0h1m1 0h3m1 0h1m1 0h1m6 0h5m12 0h1m11 0h1m-77 1h1m1 0h1m1 0h2m1 0h3m22 0h7m1 0h1m6 0h5m11 0h1m-62 1h1m1 0h1m1 0h1m1 0h3m18 0h5m1 0h4m1 0h3m3 0h5m-44 1h3m17 0h5m1 0h8m1 0h1m1 0h4m33 0h1m-56 1h3m1 0h1m1 0h2m1 0h4m1 0h1m1 0h1m1 0h2m-40 1h1m18 0h16m3 0h1m17 0h1m-62 1h2m21 0h3m1 0h1m1 0h12m16 0h1m20 0h1m-78 1h1m2 0h1m1 0h1m14 0h14m1 0h5m1 0h1m11 0h1m-50 1h1m14 0h4m1 0h1m1 0h1m1 0h3m2 0h4m1 0h4m-43 1h2m1 0h3m14 0h8m1 0h1m1 0h4m1 0h5m24 0h1m-66 1h3m6 0h4m1 0h10m1 0h2m2 0h1m1 0h2m1 0h2m1 0h2m1 0h1m3 0h1m-46 1h1m1 0h2m3 0h1m3 0h14m1 0h7m2 0h4m2 0h1m-42 1h2m1 0h2m3 0h1m4 0h19m2 0h6m1 0h1m18 0h1m-61 1h1m4 0h1m3 0h1m5 0h7m1 0h2m1 0h10m1 0h1m1 0h3m6 0h1m9 0h1m2 0h1m-62 1h1m3 0h1m12 0h4m1 0h1m1 0h3m1 0h10m1 0h1m35 0h1m-74 1h1m1 0h1m2 0h2m3 0h1m3 0h2m1 0h1m2 0h2m2 0h11m-37 1h2m3 0h1m2 0h1m5 0h1m1 0h1m1 0h2m1 0h2m1 0h9m1 0h1m1 0h4m34 0h1m4 0h1m-66 1h1m3 0h2m1 0h2m2 0h1m1 0h1m1 0h3m1 0h5m97 0h1m5 0h1m-143 1h1m1 0h1m1 0h1m3 0h1m1 0h1m1 0h1m1 0h1m4 0h4m1 0h7m1 0h8m95 0h1m-132 1h1m1 0h1m2 0h1m2 0h1m3 0h1m1 0h1m1 0h3m1 0h9m1 0h1m1 0h4m104 0h1m-142 1h3m3 0h1m1 0h2m1 0h1m1 0h2m2 0h9m1 0h4m1 0h4m-36 1h1m3 0h1m5 0h1m2 0h2m1 0h2m1 0h10m1 0h1m1 0h4m-38 1h1m8 0h1m1 0h1m2 0h1m4 0h7m1 0h6m1 0h1m1 0h1m18 0h1m3 0h1m-60 1h3m2 0h2m2 0h2m8 0h11m1 0h2m3 0h1m-34 1h1m9 0h2m1 0h1m2 0h9m1 0h4m2 0h2m11 0h1m8 0h1m-95 1h1m37 0h5m7 0h1m1 0h1m1 0h2m2 0h2m1 0h3m1 0h1m2 0h1m2 0h2m103 0h1m-177 1h1m36 0h2m3 0h1m2 0h3m2 0h2m4 0h2m1 0h2m1 0h1m1 0h1m1 0h4m1 0h2m4 0h1m34 0h1m-77 1h2m3 0h2m11 0h2m1 0h6m1 0h1m2 0h1m3 0h3m-74 1h1m39 0h2m3 0h2m1 0h1m1 0h1m6 0h11m1 0h1m1 0h2m3 0h1m27 0h1m-106 1h1m1 0h1m32 0h1m2 0h1m2 0h4m3 0h3m2 0h1m1 0h1m2 0h10m1 0h3m1 0h1m4 0h1m27 0h1m-111 1h3m1 0h2m33 0h3m1 0h1m2 0h5m1 0h3m3 0h1m2 0h1m2 0h2m1 0h5m1 0h6m-78 1h1m2 0h1m5 0h1m25 0h1m1 0h1m1 0h2m5 0h5m4 0h3m1 0h1m3 0h9m2 0h3m-76 1h1m1 0h1m6 0h1m23 0h1m2 0h1m4 0h4m3 0h1m3 0h7m1 0h2m1 0h1m1 0h2m4 0h1m1 0h3m-77 1h1m2 0h1m2 0h1m4 0h2m22 0h3m1 0h2m2 0h1m1 0h1m5 0h1m2 0h9m3 0h4m2 0h3m15 0h2m-88 1h1m3 0h2m1 0h4m14 0h1m1 0h2m5 0h1m1 0h3m1 0h3m3 0h1m1 0h2m2 0h8m3 0h6m2 0h1m-69 1h1m1 0h4m1 0h4m5 0h1m2 0h1m2 0h1m1 0h3m1 0h1m1 0h1m1 0h6m1 0h2m1 0h1m1 0h5m1 0h6m1 0h2m1 0h1m1 0h1m1 0h1m1 0h4m28 0h1m-102 1h1m12 0h1m1 0h1m2 0h1m3 0h2m3 0h3m1 0h1m2 0h1m1 0h4m3 0h2m3 0h4m2 0h3m1 0h3m1 0h1m1 0h3m2 0h3m-72 1h2m7 0h1m6 0h5m3 0h8m2 0h2m2 0h3m1 0h1m1 0h1m3 0h2m2 0h3m1 0h6m3 0h3m1 0h2m-63 1h1m7 0h1m2 0h1m1 0h3m4 0h3m1 0h2m3 0h1m5 0h1m4 0h1m1 0h3m1 0h1m1 0h1m1 0h1m1 0h1m2 0h1m2 0h5m-56 1h3m1 0h3m5 0h1m1 0h1m1 0h2m1 0h1m2 0h3m4 0h1m2 0h1m2 0h3m1 0h1m1 0h2m5 0h2m1 0h3m6 0h1m-75 1h3m9 0h2m5 0h1m5 0h2m3 0h1m1 0h3m5 0h2m1 0h1m6 0h3m2 0h4m1 0h1m2 0h2m2 0h1m1 0h3m20 0h1m-90 1h1m8 0h3m1 0h2m1 0h1m3 0h2m1 0h1m1 0h1m4 0h1m2 0h1m4 0h5m2 0h1m1 0h1m2 0h3m2 0h4m1 0h3m1 0h2m1 0h1m-61 1h1m4 0h4m1 0h1m1 0h2m5 0h2m4 0h1m1 0h2m1 0h1m2 0h3m1 0h4m2 0h1m1 0h4m1 0h4m1 0h1m6 0h1m1 0h1m-75 1h3m8 0h2m1 0h2m1 0h1m2 0h2m2 0h2m2 0h1m2 0h3m3 0h1m5 0h1m1 0h1m2 0h1m2 0h1m3 0h4m3 0h2m-62 1h2m1 0h1m5 0h2m1 0h1m2 0h3m1 0h1m1 0h2m1 0h1m3 0h3m8 0h1m3 0h1m2 0h2m1 0h2m2 0h2m1 0h3m2 0h2m1 0h2m4 0h4m17 0h1m-93 1h1m2 0h1m10 0h3m1 0h1m1 0h4m3 0h1m2 0h2m14 0h1m5 0h1m2 0h7m1 0h2m12 0h2m-66 1h1m4 0h1m5 0h1m3 0h2m12 0h2m2 0h2m2 0h1m2 0h1m1 0h1m1 0h2m5 0h2m9 0h1m1 0h1m-65 1h3m7 0h1m3 0h1m16 0h1m2 0h2m9 0h4m1 0h2m3 0h1m3 0h1m1 0h4m-76 1h1m13 0h2m1 0h2m2 0h1m6 0h1m10 0h1m1 0h2m2 0h1m2 0h1m1 0h1m11 0h3m1 0h1m3 0h1m3 0h2m20 0h1m-97 1h1m12 0h1m6 0h2m7 0h2m10 0h1m2 0h1m12 0h1m4 0h1m8 0h1m1 0h1m3 0h1m1 0h1m-78 1h1m11 0h1m2 0h4m2 0h1m19 0h2m12 0h1m13 0h4m3 0h1m23 0h1m-99 1h1m10 0h2m1 0h2m1 0h1m1 0h1m22 0h1m8 0h1m14 0h1m3 0h1m1 0h1m-75 1h1m9 0h1m3 0h2m1 0h2m1 0h1m4 0h1m2 0h1m4 0h1m10 0h2m22 0h1m3 0h1m1 0h1m-65 1h1m2 0h1m4 0h4m5 0h1m5 0h1m5 0h1m3 0h3m7 0h1m1 0h1m12 0h1m2 0h1m4 0h1m-77 1h2m7 0h1m1 0h4m1 0h7m2 0h1m1 0h1m5 0h4m2 0h1m5 0h3m7 0h1m1 0h1m-48 1h1m2 0h2m1 0h3m2 0h3m1 0h2m30 0h1m-55 1h1m7 0h1m2 0h2m1 0h1m1 0h4m1 0h1m1 0h1m13 0h1m-33 1h1m1 0h1m3 0h1m1 0h1m1 0h3m2 0h1m1 0h1m43 0h1m-67 1h1m2 0h2m2 0h3m1 0h3m1 0h8m38 0h1m1 0h1m-63 1h1m9 0h2m1 0h2m1 0h1m25 0h1m37 0h1m8 0h1m-90 1h1m6 0h1m1 0h7m-6 1h1m2 0h3m21 0h1m21 0h1m4 0h1m-57 1h2m2 0h2m27 0h1m29 0h2m-67 1h1m1 1h1m1 0h4m40 0h1m-47 1h2m10 0h2m22 0h1m18 0h1m-45 1h1m2 0h2m7 0h1m-13 1h1m33 0h1m-34 1h1m1 0h3m2 0h1m5 0h1m-13 1h1m2 0h1m20 0h1m-25 1h5m56 0h1m-62 1h1m1 0h1m1 0h1m87 0h1m-93 1h1m1 0h2m1 0h1m36 0h1m23 0h1m-65 1h5m-4 1h1m1 0h2m-3 1h4m-4 1h4m34 0h1m-39 1h1m2 0h2m22 0h1m15 0h1m3 0h1m-49 1h1m1 0h1m2 0h1m9 0h1m7 0h1m3 0h1m4 0h2m2 0h1m2 0h1m-41 1h1m2 0h2m1 0h1m15 0h2m5 0h1m1 0h2m-32 1h4m2 0h1m11 0h2m2 0h1m4 0h1m2 0h1m1 0h1m1 0h1m2 0h1m-36 1h3m2 0h1m9 0h2m3 0h1m11 0h1m2 0h1m3 0h1m1 0h1m1 0h1m-44 1h1m1 0h2m3 0h1m8 0h1m4 0h5m1 0h2m1 0h1m2 0h3m6 0h1m-44 1h1m3 0h2m2 0h1m5 0h1m3 0h2m1 0h1m7 0h1m3 0h3m8 0h1m22 0h1m-65 1h3m28 0h1m8 0h1m1 0h1m-33 2h1m-3 2h1m-4 1h1m6 0h1m-16 3h1m62 0h1m-47 1h1m-19 6h1"/>
<path stroke="#482173" d="M168 9h1m-7 1h3m4 0h3m-11 1h3m6 0h1m3 0h1m3 0h1m2 0h2m-22 1h1m5 0h1m1 0h5m7 0h1m1 0h1m-26 1h1m2 0h1m2 0h1m6 0h1m12 0h1m2 0h1m-32 1h1m1 0h1m2 0h2m4 0h4m9 0h1m3 0h1m-9 1h1m-23 1h2m1 0h1m26 0h1m-14 1h1m-24 1h1m1 0h1m3 0h1m9 0h1m21 0h1m-37 1h1m1 0h1m9 0h3m-11 1h1m3 1h1m-14 1h1m9 0h1m7 0h1m4 0h2m-27 1h3m2 0h1m1 0h1m1 0h3m14 0h1m-30 1h1m3 0h1m1 0h1m2 0h1m1 0h2m1 0h1m2 0h1m10 0h1m14 0h1m-39 1h1m1 0h2m1 0h1m1 0h1m35 3h1m-7 1h1m-45 1h1m42 1h1m-45 1h1m19 0h1m25 0h1m-47 1h1m49 1h1m-53 1h1m4 1h1m49 0h1m-60 1h1m2 0h1m1 0h2m24 0h1m2 0h1m-37 1h1m40 0h1m-39 1h2m3 0h1m-12 1h1m65 1h1m-3 4h1m1 0h1m1 0h1m-100 2h1m100 0h1m-44 1h1m-64 1h1m-37 2h1m55 0h1m-25 1h1m8 0h2m8 0h2m-20 1h1m11 0h1m7 0h1m-47 1h1m39 0h1m-48 1h1m1 0h2m1 0h2m33 0h1m10 0h1m1 0h1m-52 1h1m37 0h1m4 0h1m6 0h1m-53 1h1m1 0h1m1 0h1m45 0h2m-52 1h1m1 0h1m44 0h4m-51 1h1m1 0h1m4 0h1m39 0h1m2 0h1m26 0h1m-77 1h2m1 0h1m37 0h1m1 0h2m14 0h1m1 0h1m-60 1h1m1 0h1m20 0h1m16 0h1m-44 1h1m34 0h1m-34 1h1m3 0h1m46 0h1m6 0h1m-62 1h1m2 0h1m0 1h1m1 0h1m2 0h1m15 0h1m8 0h1m7 0h2m11 0h1m-55 1h1m3 0h1m2 0h2m32 0h1m9 0h1m-48 1h3m3 0h2m29 0h1m-42 1h2m1 0h1m3 0h1m43 0h1m-51 1h1m2 0h2m1 0h1m1 0h1m3 0h2m11 0h1m12 0h1m-40 1h1m4 0h1m7 0h1m22 0h1m2 0h1m8 0h1m57 0h1m-102 1h1m5 0h2m3 0h1m-19 1h1m1 0h5m1 0h1m3 0h1m4 0h1m-15 1h1m3 0h1m3 0h1m3 0h2m1 0h1m-19 1h1m6 0h2m1 0h1m2 0h3m3 0h1m123 0h1m-142 1h1m5 0h1m1 0h1m2 0h1m1 0h1m2 0h2m19 0h1m-35 1h1m3 0h1m1 0h1m3 0h1m16 0h1m6 0h1m1 0h1m-38 1h3m4 0h1m1 0h1m2 0h1m1 0h1m8 0h1m11 0h1m15 0h1m2 0h1m-54 1h1m3 0h1m2 0h2m2 0h1m14 0h1m-68 1h2m35 0h3m7 0h2m3 0h1m2 0h1m9 0h1m8 0h1m4 0h1m-79 1h1m1 0h1m33 0h1m6 0h1m1 0h1m4 0h1m5 0h1m2 0h1m12 0h1m20 0h1m-96 1h1m3 0h1m32 0h1m2 0h1m3 0h1m5 0h1m3 0h1m1 0h1m2 0h1m2 0h1m16 0h1m3 0h1m-85 1h1m1 0h1m2 0h1m36 0h1m4 0h1m31 0h1m1 0h1m-81 1h1m1 0h1m37 0h1m2 0h2m29 0h1m3 0h1m-81 1h2m40 0h1m4 0h3m4 0h1m37 0h1m-92 1h1m2 0h3m29 0h1m3 0h1m8 0h1m4 0h2m25 0h1m-82 1h2m4 0h1m2 0h1m25 0h1m1 0h1m15 0h1m3 0h1m1 0h1m18 0h1m4 0h1m-80 1h1m2 0h2m28 0h1m1 0h1m9 0h1m14 0h1m30 0h1m-92 1h1m3 0h1m3 0h1m18 0h1m9 0h1m3 0h3m27 0h1m10 0h1m-87 1h1m1 0h1m2 0h1m3 0h1m6 0h1m29 0h2m15 0h1m11 0h2m-76 1h1m5 0h1m9 0h1m26 0h1m22 0h1m-62 1h1m1 0h4m2 0h1m2 0h1m2 0h1m2 0h2m3 0h1m6 0h1m7 0h1m1 0h1m9 0h2m3 0h1m14 0h2m13 0h1m-74 1h2m5 0h2m14 0h1m12 0h2m10 0h1m-63 1h2m11 0h1m3 0h1m9 0h1m7 0h2m10 0h1m11 0h1m2 0h1m2 0h1m5 0h1m-72 1h3m15 0h1m3 0h1m2 0h1m4 0h1m4 0h2m3 0h1m1 0h1m16 0h1m11 0h1m1 0h1m-70 1h2m6 0h1m2 0h2m11 0h1m1 0h1m1 0h1m3 0h2m5 0h1m1 0h1m2 0h1m13 0h1m10 0h1m-63 1h1m9 0h3m7 0h1m1 0h1m2 0h1m2 0h2m16 0h2m4 0h1m8 0h1m-70 1h1m5 0h2m2 0h1m8 0h1m4 0h1m4 0h1m2 0h1m4 0h1m1 0h2m3 0h1m12 0h1m8 0h2m3 0h1m-68 1h1m1 0h1m7 0h1m2 0h1m6 0h1m8 0h1m5 0h1m2 0h1m1 0h1m3 0h1m2 0h1m5 0h1m4 0h1m1 0h1m-63 1h1m3 0h1m6 0h2m3 0h1m4 0h1m7 0h1m4 0h1m5 0h1m2 0h1m9 0h1m3 0h2m7 0h2m7 0h1m-78 1h1m22 0h1m4 0h1m9 0h1m4 0h2m16 0h1m3 0h1m2 0h1m9 0h1m1 0h1m-81 1h3m4 0h1m1 0h1m5 0h1m4 0h2m4 0h1m2 0h2m8 0h2m2 0h2m3 0h1m1 0h1m2 0h1m6 0h3m2 0h1m1 0h1m1 0h1m5 0h1m-69 1h2m2 0h1m4 0h1m6 0h1m7 0h1m9 0h1m2 0h2m6 0h3m6 0h1m3 0h1m11 0h1m-78 1h1m11 0h1m4 0h1m2 0h1m2 0h1m1 0h2m9 0h1m4 0h1m5 0h1m8 0h1m1 0h3m5 0h1m3 0h1m2 0h1m3 0h1m-78 1h1m18 0h2m2 0h3m6 0h1m3 0h2m1 0h1m3 0h1m3 0h1m18 0h1m6 0h1m5 0h1m-75 1h1m6 0h3m1 0h2m5 0h1m11 0h1m1 0h1m26 0h1m5 0h2m4 0h1m-64 1h2m10 0h1m3 0h2m1 0h2m2 0h2m11 0h1m7 0h1m16 0h1m-73 1h1m11 0h1m1 0h1m7 0h1m4 0h2m3 0h1m2 0h1m18 0h4m9 0h1m2 0h2m2 0h1m1 0h1m-76 1h1m1 0h1m9 0h1m1 0h1m1 0h1m6 0h1m5 0h2m3 0h2m1 0h1m2 0h1m5 0h1m1 0h1m8 0h2m5 0h1m5 0h1m1 0h1m2 0h1m33 0h1m-108 1h1m12 0h1m12 0h1m8 0h1m5 0h2m26 0h1m4 0h1m-69 1h2m1 0h1m7 0h1m8 0h1m6 0h2m1 0h2m3 0h2m3 0h1m7 0h1m2 0h1m2 0h1m-62 1h2m3 0h1m1 0h2m2 0h1m10 0h1m3 0h1m13 0h1m5 0h1m64 0h1m-111 1h1m10 0h1m10 0h1m12 0h1m2 0h1m4 0h1m2 0h1m18 0h1m-64 1h1m3 0h1m8 0h1m16 0h1m2 0h1m6 0h1m1 0h2m4 0h1m-48 1h1m4 0h4m7 0h3m16 0h1m7 0h1m24 0h1m4 0h1m-76 1h1m4 0h1m1 0h1m1 0h1m33 0h1m26 0h1m-68 1h1m5 0h2m6 0h1m18 0h2m33 0h1m11 0h1m-82 1h1m9 0h1m55 0h1m12 0h1m-79 1h1m5 0h1m2 0h1m-3 1h1m30 0h1m-28 1h2m4 0h1m2 0h1m18 0h1m3 0h1m-28 1h1m2 0h1m17 0h1m12 0h1m9 0h1m-42 1h1m1 0h1m21 0h1m3 0h1m8 0h1m2 0h1m19 0h1m-3 1h1m1 0h1m-57 1h1m22 0h1m14 0h1m14 0h1m54 0h1m-92 1h1m6 0h1m29 0h1m-60 1h1m3 0h1m1 0h1m21 0h1m-24 1h1m1 0h1m18 0h2m14 0h1m3 0h1m-45 1h1m15 0h1m5 0h1m77 0h1m-101 1h1m14 0h1m4 0h1m28 0h1m-49 1h2m-3 1h1m1 0h1m4 0h1m38 0h1m-46 1h2m1 0h1m15 0h1m3 0h4m20 0h1m10 0h1m-59 1h1m4 0h1m25 0h1m3 0h1m11 0h1m1 0h1m9 0h1m-59 1h2m16 0h1m1 0h1m11 0h1m1 0h2m2 0h3m2 0h1m1 0h1m1 0h1m11 0h1m-82 1h1m25 0h2m14 0h1m5 0h1m2 0h1m1 0h1m8 0h1m3 0h2m12 0h1m1 0h1m-60 1h1m14 0h1m2 0h2m5 0h2m4 0h1m2 0h1m3 0h2m16 0h2m3 0h1m-57 1h1m14 0h1m9 0h1m2 0h1m3 0h5m2 0h1m25 0h1m-68 1h1m2 0h1m5 0h1m2 0h2m7 0h2m6 0h1m3 0h1m3 0h1m10 0h1m5 0h1m-57 1h1m14 0h3m5 0h1m16 0h1m-37 1h1m6 0h1m22 0h1m23 0h1m-46 1h1m1 0h1m-10 1h1m8 0h1"/>
<path stroke="#463480" d="M170 9h2m1 0h1m-7 1h1m7 0h1m-16 1h1m8 0h1m3 0h1m2 1h1m3 0h1m7 0h1m-29 1h1m2 0h1m1 0h1m8 0h1m8 0h1m1 0h1m-23 1h1m1 0h2m-12 1h1m-6 1h1m2 0h1m14 0h1m-20 1h1m18 0h1m-17 1h1m3 0h2m25 0h1m-37 1h2m2 0h1m14 0h1m16 0h1m-29 1h1m5 0h2m5 0h2m-25 1h1m6 0h1m18 0h1m-29 1h1m4 0h1m4 0h2m7 0h1m22 0h1m-16 1h1m-30 1h1m11 0h1m10 0h1m-26 1h1m1 0h1m4 0h1m2 0h1m-11 1h2m1 0h1m5 0h2m8 0h2m1 0h1m26 1h1m-51 1h1m46 0h1m-49 3h1m0 1h1m46 1h2m-51 1h1m-1 1h1m52 0h1m-53 1h1m25 0h1m-32 2h1m3 0h1m-9 1h1m63 0h1m-65 1h1m8 0h1m-7 1h1m59 1h1m-2 1h1m-52 2h1m49 0h1m5 1h1m-68 2h1m-9 1h1m-5 3h1m-23 1h1m-1 1h1m11 0h1m1 0h1m-49 3h1m35 0h3m-46 1h1m1 0h1m1 0h1m48 0h1m10 0h1m-63 1h1m1 0h1m1 0h1m39 0h1m3 0h1m-50 1h1m2 0h1m2 0h1m-3 1h1m40 0h1m1 0h1m11 0h1m2 0h1m-64 1h1m43 0h1m9 0h1m-51 1h2m72 0h1m-36 1h1m9 0h1m7 0h1m-62 1h1m4 0h1m50 0h1m-47 1h1m44 0h1m-46 1h1m48 0h1m-57 1h1m7 0h2m29 0h1m8 0h1m-49 1h1m7 0h3m37 0h1m10 0h1m2 0h1m-61 1h1m4 0h1m4 0h1m25 0h1m-40 1h3m6 0h1m3 0h1m24 0h2m15 0h1m6 0h1m-65 1h1m5 0h1m2 0h2m2 0h1m1 0h1m1 0h1m20 0h2m-1 1h1m-39 1h1m2 0h1m5 0h1m5 0h1m-12 1h2m-7 1h2m9 0h1m1 0h1m44 0h1m-57 1h1m4 0h1m10 0h1m18 0h1m14 0h1m-50 1h1m3 0h1m9 0h2m18 0h1m11 0h1m7 0h1m-93 1h1m33 0h1m5 0h1m11 0h1m-56 1h1m2 0h1m45 0h2m3 0h1m2 0h1m20 0h1m3 0h1m6 0h1m4 0h1m-89 1h1m34 0h1m7 0h1m5 0h1m18 0h1m6 0h1m7 0h1m20 0h1m-109 1h1m3 0h1m32 0h2m6 0h1m3 0h1m1 0h2m24 0h1m-77 1h1m92 0h1m7 0h1m-102 1h1m1 0h1m80 0h1m2 0h1m-35 1h1m20 0h1m-76 1h1m3 0h1m33 0h1m42 0h1m-84 1h1m32 0h1m3 0h1m37 0h1m1 0h1m5 0h1m-84 1h1m1 0h1m5 0h1m30 0h1m55 0h1m-65 1h2m8 0h1m41 0h1m20 0h1m-104 1h1m1 0h1m28 0h1m59 0h1m-92 1h1m24 0h1m1 0h1m14 0h1m-43 1h1m2 0h6m55 0h1m19 0h1m5 0h1m-88 1h1m3 0h1m7 0h2m4 0h1m4 0h2m4 0h1m2 0h1m14 0h1m35 0h1m-83 1h1m6 0h1m17 0h1m4 0h1m-34 1h1m24 0h1m3 0h1m9 0h2m19 0h1m-60 1h3m8 0h1m13 0h1m1 0h1m3 0h1m5 0h1m9 0h1m21 0h1m4 0h1m8 0h1m3 0h1m-88 1h1m3 0h2m5 0h1m7 0h1m8 0h1m22 0h1m14 0h1m-64 1h1m1 0h1m17 0h1m3 0h1m2 0h1m9 0h1m8 0h1m10 0h1m12 0h2m1 0h1m23 0h1m-100 1h1m4 0h2m1 0h2m2 0h1m21 0h1m1 0h1m12 0h1m49 0h1m-98 1h1m1 0h1m4 0h4m6 0h1m12 0h2m6 0h1m2 0h1m4 0h2m1 0h1m2 0h1m16 0h3m1 0h2m3 0h1m9 0h1m-76 1h1m1 0h1m2 0h1m12 0h1m2 0h1m1 0h1m13 0h1m3 0h1m10 0h1m1 0h1m2 0h2m4 0h3m-80 1h1m2 0h1m5 0h1m7 0h1m6 0h1m2 0h1m1 0h2m11 0h1m13 0h1m7 0h1m5 0h1m-69 1h1m10 0h1m14 0h1m2 0h2m1 0h1m2 0h1m6 0h1m5 0h1m18 0h1m4 0h1m5 0h1m-68 1h1m1 0h1m10 0h1m8 0h1m12 0h1m3 0h1m2 0h1m1 0h1m1 0h1m1 0h2m4 0h1m9 0h1m-51 1h1m1 0h1m2 0h1m6 0h1m10 0h1m3 0h1m23 0h1m1 0h2m9 0h1m-88 1h1m2 0h1m4 0h1m26 0h2m1 0h1m3 0h1m3 0h1m8 0h1m5 0h1m2 0h1m1 0h1m5 0h1m2 0h1m2 0h2m-77 1h1m4 0h1m2 0h1m9 0h3m7 0h1m4 0h1m2 0h1m1 0h2m2 0h1m3 0h1m1 0h1m4 0h2m2 0h1m2 0h2m5 0h1m12 0h1m-63 1h1m2 0h1m2 0h1m2 0h1m6 0h1m3 0h1m4 0h1m6 0h1m1 0h1m3 0h1m1 0h1m6 0h1m3 0h1m12 0h1m-84 1h1m3 0h1m15 0h2m1 0h1m14 0h1m12 0h1m1 0h1m1 0h1m1 0h1m7 0h1m1 0h1m4 0h1m-76 1h2m1 0h1m3 0h1m16 0h1m2 0h1m1 0h1m10 0h1m1 0h1m8 0h1m1 0h1m7 0h1m6 0h1m-65 1h1m11 0h1m19 0h1m6 0h1m1 0h1m-45 1h1m2 0h1m4 0h1m2 0h1m18 0h1m1 0h1m5 0h1m2 0h2m2 0h1m-42 1h1m3 0h1m3 0h1m27 0h2m7 0h1m4 0h1m23 0h1m-74 1h2m1 0h1m15 0h1m6 0h1m25 0h1m-37 1h1m18 0h1m5 0h1m1 0h1m-39 1h1m9 0h1m12 0h2m11 0h1m1 0h1m-44 1h2m3 0h1m6 0h1m51 0h1m2 0h1m-66 1h1m2 0h1m5 0h1m8 0h1m9 0h1m1 0h1m20 0h1m-53 1h3m33 0h1m5 0h1m16 0h1m17 0h1m-71 1h1m24 0h1m4 0h1m2 0h1m18 0h1m14 0h1m-73 1h2m17 0h1m8 0h1m8 0h1m10 0h1m-30 1h1m19 1h2m3 1h1m26 0h2m2 0h1m-24 1h1m22 0h1m-62 1h1m16 0h1m12 0h1m31 0h2m-35 1h1m4 0h1m27 0h1m-34 1h1m4 0h1m27 0h1m-53 1h1m9 0h1m5 0h1m2 0h1m29 0h1m3 0h1m-61 1h1m19 0h1m7 0h1m14 1h1m3 0h1m2 0h1m1 0h1m-53 1h1m7 0h1m22 0h1m10 0h1m8 0h1m-44 1h1m12 0h1m2 0h1m6 0h1m1 0h1m6 0h1m4 0h1m3 0h1m9 0h1m-34 1h1m8 0h1m2 0h1m4 0h1m-43 1h1m7 0h1m13 0h1m2 0h1m11 0h1m2 0h1m2 0h1m3 0h1m-47 1h1m4 0h1m15 0h1m1 0h1m1 0h1m16 0h1m4 0h1m7 0h2m-57 1h2m1 0h1m3 0h1m7 0h2m5 0h1m20 0h1m11 0h1m-54 1h2m14 0h1m10 0h1m2 0h1m5 0h1m3 0h1m12 0h1m-42 1h1m1 0h1m4 0h2m9 0h2m4 0h1m19 0h2m6 0h1m-49 1h1m16 0h1m1 0h1m5 0h1m13 0h1m-40 1h1m26 0h1m6 0h1m3 1h1m2 0h1m-5 1h1m3 0h1m-50 1h1m3 1h1m2 3h1"/>
<path stroke="#3E4989" d="M169 8h1m8 2h2m2 0h1m-19 1h1m11 0h1m6 0h2m-11 1h1m-7 1h1m12 0h1m-22 1h1m11 0h2m3 0h2m2 0h1m-18 1h2m6 0h2m1 0h1m1 0h1m1 0h1m4 0h1m-33 1h1m7 0h1m6 0h1m-17 1h1m1 0h1m8 0h1m7 0h1m-22 2h1m3 0h1m1 0h3m12 0h1m-18 1h1m2 0h1m16 0h1m9 0h1m-28 1h1m6 0h1m7 1h1m12 0h1m-43 1h1m8 0h1m13 0h1m-24 1h1m7 0h1m11 0h2m3 0h1m-26 1h1m17 0h1m1 0h1m6 0h2m16 0h1m-37 1h1m10 0h2m1 0h1m-29 1h1m13 0h1m34 1h1m-48 1h2m-2 2h1m1 2h1m-8 1h1m32 1h1m-2 1h1m-4 1h1m-26 1h1m52 0h1m-31 1h1m2 0h1m-34 1h1m2 0h1m3 0h1m-12 1h1m1 0h1m7 0h1m-10 1h1m59 2h1m-61 2h1m-23 5h1m0 1h1m17 0h1m-28 1h1m19 0h1m-20 1h1m-1 1h1m6 2h1m-49 1h1m-1 1h1m41 0h1m1 0h1m4 0h1m-55 1h1m6 1h1m53 0h1m-58 1h1m41 0h1m6 0h1m6 0h1m-61 1h2m58 0h1m2 0h1m-57 2h1m38 0h1m3 0h1m1 0h1m-6 1h1m-46 1h1m40 0h1m8 0h1m24 0h1m-65 1h1m33 0h1m8 0h1m-50 1h1m33 0h1m11 0h2m8 0h1m-64 1h1m2 0h1m5 0h1m3 0h1m34 0h1m11 0h1m-54 1h1m2 0h1m37 0h1m-41 1h1m53 0h1m11 0h1m-75 1h1m3 0h2m2 0h1m32 0h1m4 0h1m1 0h2m91 0h1m-142 1h1m1 0h1m36 0h2m11 0h1m20 0h1m-25 1h1m23 0h1m69 0h1m-139 1h1m11 0h1m30 0h3m-52 1h1m1 0h1m11 0h1m2 0h1m34 0h1m87 0h1m-99 1h1m3 0h1m-84 1h1m44 0h1m30 0h1m10 0h1m4 0h1m-56 1h1m8 0h1m30 0h1m3 0h1m-83 1h1m3 0h1m-1 1h1m1 0h1m38 0h1m4 0h1m2 0h1m42 0h1m-91 1h2m73 0h1m9 0h1m-85 1h1m47 0h1m22 0h1m2 0h1m12 0h1m1 0h1m-19 1h1m4 0h1m-87 1h1m5 0h1m71 0h1m13 0h1m9 0h1m-98 1h1m36 0h1m36 0h1m15 0h1m-12 1h1m-79 1h1m72 0h1m11 0h1m3 0h1m8 0h1m-83 1h1m-16 1h1m7 0h1m1 1h2m58 0h1m13 0h1m-83 1h2m1 0h1m16 0h1m13 0h1m47 0h1m-74 1h2m71 0h1m-64 1h1m52 0h2m8 0h1m-82 1h2m12 0h1m21 0h1m32 0h1m6 0h1m-78 1h1m3 0h1m19 0h1m5 0h1m36 0h1m6 0h1m2 0h1m-63 1h1m15 0h1m1 0h1m34 0h1m5 0h1m-56 1h1m4 0h1m8 0h1m5 0h1m37 0h1m11 0h1m-85 1h1m5 0h1m23 0h1m30 0h1m5 0h1m-69 1h1m5 0h1m10 0h1m1 0h2m5 0h1m48 0h1m-66 1h1m2 0h4m11 0h1m1 0h1m1 0h1m1 0h1m8 0h1m1 0h1m4 0h1m13 0h1m2 0h1m7 0h1m-60 1h1m2 0h1m2 0h1m2 0h1m4 0h1m-26 1h1m7 0h1m21 0h1m5 0h1m9 0h1m3 0h1m3 0h1m5 0h2m16 0h1m-85 1h1m2 0h2m1 0h1m14 0h1m16 0h1m3 0h1m1 0h1m6 0h1m3 0h1m1 0h2m-55 1h1m17 0h2m3 0h1m2 0h1m6 0h1m1 0h2m3 0h1m4 0h1m1 0h1m2 0h1m1 0h1m17 0h1m1 0h2m4 0h1m-46 1h1m8 0h2m18 0h1m8 0h1m10 0h1m-89 1h1m9 0h1m26 0h1m12 0h1m2 0h1m14 0h1m9 0h1m-74 1h1m5 0h1m18 0h2m9 0h1m8 0h1m3 0h1m10 0h1m8 0h2m-63 1h1m28 0h1m3 0h1m18 0h2m3 0h1m1 0h1m-67 1h1m1 0h1m30 0h1m5 0h1m16 0h1m1 0h2m5 0h1m-33 1h1m2 0h1m5 0h1m2 0h1m-18 1h1m5 0h2m2 0h1m5 0h1m31 0h1m-52 1h1m2 0h2m4 0h1m4 0h1m5 0h1m6 0h1m2 0h1m-55 1h2m1 0h1m13 0h1m1 0h1m11 0h1m7 0h1m2 0h1m6 0h1m11 0h1m-63 1h1m16 0h1m9 0h2m2 0h1m1 0h1m44 0h1m-74 1h1m3 0h1m16 0h2m3 0h1m35 0h1m-66 1h1m5 0h1m4 0h1m27 0h1m5 0h1m12 0h1m3 0h1m4 0h1m2 0h1m7 0h1m1 0h1m-61 1h1m6 0h1m20 0h1m6 0h1m2 0h1m5 0h1m14 0h1m-77 1h1m24 0h1m10 0h1m4 0h1m8 0h1m3 0h1m-33 1h1m22 0h1m2 0h1m-16 1h2m2 0h1m8 0h1m-28 1h1m8 0h1m3 0h1m7 0h1m6 0h1m14 0h1m-27 1h1m9 0h1m28 0h1m-44 1h1m12 0h1m29 0h1m-43 1h1m6 0h1m3 0h1m23 0h1m-55 1h1m13 0h1m14 0h1m30 0h1m-46 1h3m9 0h1m6 0h1m8 0h1m11 0h1m-55 1h1m14 0h1m1 0h1m2 0h1m7 0h2m-30 1h1m7 0h1m7 0h1m1 0h1m30 0h1m1 0h1m8 0h1m-61 1h1m1 0h1m24 0h1m1 0h2m15 0h1m2 0h2m1 0h1m-35 1h1m5 0h1m9 0h1m15 0h1m-28 1h1m3 0h2m9 0h1m4 0h1m4 0h1m3 0h1m6 0h1m-31 1h1m2 0h1m7 0h1m10 0h1m-32 1h1m5 0h1m1 0h1m7 0h1m14 0h1m14 0h1m-65 1h1m9 0h1m21 0h1m1 0h1m4 0h1m20 0h1m1 0h1m3 0h1m-20 1h2m9 0h1m-58 1h1m82 0h1m-77 1h1m5 0h1m6 0h1m6 0h1m13 0h1m13 0h1m8 0h1m-48 1h1m4 0h1m19 0h1m2 0h3m-35 1h1m6 0h1m37 0h1m-46 1h1m41 0h1m4 0h1m-73 1h1m9 0h1m13 3h1m2 0h1m6 1h1"/>
<path stroke="#365D8D" d="M170 8h1m-10 2h1m5 1h1m16 1h1m-31 2h1m19 0h1m4 0h1m-29 1h1m6 0h2m3 0h1m10 0h1m-19 1h1m5 0h2m6 0h1m3 0h1m-25 1h1m1 0h1m19 0h1m-22 1h1m3 0h1m7 0h1m3 0h1m-10 2h1m4 0h2m7 0h1m-20 1h1m3 0h1m-2 1h1m7 0h1m21 1h1m-31 1h1m3 0h1m4 0h2m-13 1h1m-1 1h1m-16 1h1m7 0h1m17 0h1m1 0h1m-29 1h3m40 0h1m-45 1h1m-3 1h1m1 1h1m-3 2h1m1 3h1m25 0h1m24 0h1m-60 1h1m1 0h1m5 0h1m33 0h1m17 0h1m-27 1h1m10 0h1m1 0h1m-44 1h1m1 0h1m38 0h1m-37 1h1m1 3h1m-16 1h1m-1 1h1m15 1h1m51 0h1m-59 1h1m58 0h1m-63 2h1m-14 1h1m1 0h1m-15 2h1m2 0h1m2 1h1m9 0h1m-18 1h1m28 0h1m-84 3h1m78 0h1m-74 1h1m45 0h1m6 0h1m3 0h1m10 0h1m-22 1h1m9 0h1m7 0h1m-21 1h1m2 0h1m21 0h1m-32 1h1m18 0h1m-8 2h1m23 0h1m-17 1h1m-58 1h1m45 0h1m9 0h1m-21 1h1m17 0h1m-54 1h1m35 0h3m-38 1h1m33 0h1m4 0h1m16 0h1m-66 1h1m47 0h1m13 1h1m-55 1h1m37 0h1m2 0h1m4 0h1m-15 1h1m4 0h1m12 0h1m17 0h1m-66 1h1m-13 2h1m60 0h1m-6 1h1m2 0h1m-52 1h1m-10 1h1m38 0h1m15 0h1m3 0h1m-55 1h1m40 0h1m14 2h1m-54 1h1m29 0h1m16 0h1m-18 1h1m5 0h1m5 0h1m5 0h1m3 0h1m-23 1h1m18 0h1m-90 1h2m68 0h1m18 0h1m-92 1h1m34 0h1m44 0h1m12 0h1m4 0h1m2 0h1m-102 1h1m73 0h2m4 0h1m-80 1h1m36 0h1m34 0h1m6 0h1m21 0h1m-17 1h1m-14 1h1m6 0h1m-79 1h1m69 1h1m10 0h1m2 0h1m-78 1h1m6 0h1m53 0h2m14 0h1m-85 1h1m2 0h1m15 0h2m47 0h1m10 1h1m7 0h1m-62 1h1m49 0h1m20 0h1m-14 1h1m-84 1h1m2 0h1m1 0h1m28 0h1m33 0h1m8 0h1m7 0h1m-62 1h2m4 0h1m42 0h1m-72 1h2m1 0h1m8 0h1m35 0h1m16 0h1m-67 1h1m6 0h1m2 0h1m4 0h1m54 0h1m15 0h1m-58 1h1m1 0h1m1 0h1m1 0h1m1 0h1m-27 1h1m18 0h1m5 0h1m13 0h3m25 0h1m-76 1h1m5 0h1m3 0h1m11 0h2m11 0h1m27 0h1m-69 1h1m7 0h1m20 0h1m9 0h2m9 0h2m7 0h1m2 0h1m1 0h2m10 0h1m17 0h1m-95 1h1m4 0h1m8 0h1m19 0h1m2 0h1m22 0h1m1 0h1m5 0h1m18 0h1m-81 1h1m33 0h1m22 0h1m15 0h2m-69 1h1m12 0h1m7 0h1m8 0h1m8 0h1m10 0h1m1 0h1m2 0h1m11 0h1m-41 1h1m20 0h1m9 0h1m7 0h1m-44 1h1m11 0h1m3 0h1m-26 1h1m9 0h1m3 0h1m2 0h1m8 0h1m4 0h1m5 0h1m4 0h1m1 0h1m12 0h1m-80 1h1m2 0h1m4 0h1m9 0h1m27 0h1m1 0h2m13 0h1m9 0h1m1 0h1m-52 1h1m23 0h1m9 0h1m12 0h1m-51 1h1m1 0h1m14 0h2m11 0h1m1 0h1m6 0h1m4 0h1m10 0h1m-54 1h1m1 0h1m11 0h1m1 0h1m8 0h2m-27 1h1m3 0h2m29 0h1m10 0h1m5 0h1m6 0h1m-78 1h1m25 0h1m2 0h1m2 0h1m17 0h2m3 0h1m10 0h1m-66 1h1m4 0h1m7 0h1m2 0h1m16 0h1m1 0h1m4 0h1m3 0h2m6 0h1m8 0h1m2 0h1m5 0h1m-70 1h1m14 0h1m21 0h1m2 0h1m8 0h1m9 0h1m8 0h1m20 0h1m-93 1h1m3 0h1m18 0h1m12 0h1m9 0h1m3 0h1m4 0h1m19 0h1m-75 1h1m31 0h1m3 0h1m2 0h1m1 0h2m1 0h1m9 0h1m13 0h1m8 0h1m-49 1h1m3 0h1m6 0h1m9 0h1m25 0h1m-50 1h1m8 0h1m1 0h1m-24 1h2m11 0h1m4 0h1m9 0h1m2 0h1m23 0h1m8 0h1m-69 1h1m4 0h1m5 0h1m12 0h1m4 0h1m17 0h1m51 0h1m-75 1h1m12 0h1m4 0h1m18 0h1m1 0h1m-44 1h3m15 0h1m1 0h1m13 0h2m2 0h1m10 0h1m-65 1h1m17 0h1m1 0h1m36 0h1m1 0h1m2 0h1m-44 1h1m35 0h1m2 0h1m-40 1h2m2 0h1m22 0h1m5 0h2m4 0h1m-42 1h4m4 0h1m-35 1h1m41 0h1m1 0h1m6 0h1m2 0h1m2 0h1m-20 1h1m15 0h1m1 0h1m14 0h1m-53 1h1m9 0h1m1 0h1m31 0h1m15 0h1m-59 1h1m46 0h1m2 0h1m-54 1h1m1 0h1m21 0h1m13 0h1m1 0h1m36 0h1m-76 1h1m5 0h1m41 0h1m-30 1h1m11 0h2m16 0h1m-58 1h1m25 0h1m7 0h1m8 0h1m1 0h1m5 0h1m5 0h1m-54 1h1m48 0h3m-1 1h1m10 0h1m-15 1h1m-66 1h1m69 0h1m2 0h1m-64 1h1m7 1h1m20 1h1m-8 1h2m-3 2h1m-14 5h1"/>
<path stroke="#2E6F8E" d="M177 10h1m-18 2h1m26 0h1m-12 1h1m-18 1h1m23 0h1m-30 1h1m7 0h1m4 0h1m2 0h1m-13 1h1m11 2h1m1 0h1m9 0h1m-15 1h2m1 1h1m-8 1h1m-6 1h1m10 0h1m-16 1h1m2 1h1m0 1h1m-13 1h1m9 0h1m-20 1h1m30 0h1m17 1h1m-49 2h1m-5 3h1m2 0h1m-1 1h1m28 0h1m20 1h1m-28 1h1m2 1h1m1 0h1m2 0h1m4 0h1m4 0h1m-45 1h1m29 0h1m12 0h2m-42 1h1m-10 1h2m4 0h1m2 2h1m9 1h1m-23 3h1m10 0h1m2 0h1m49 0h1m-61 1h1m2 0h1m-9 2h1m8 1h1m-9 1h1m-10 1h1m-21 1h1m19 1h1m15 0h1m-20 1h1m-56 1h1m47 1h1m4 0h1m13 0h1m-8 1h1m-67 1h1m51 0h1m8 0h1m13 0h1m-29 1h1m-1 1h1m30 0h1m-20 1h1m-58 1h1m56 0h1m16 0h1m-30 1h1m8 0h1m-13 1h1m4 0h1m3 0h1m-11 1h1m4 0h1m-1 1h2m-41 2h1m40 0h1m7 2h1m83 0h1m-100 1h1m8 0h1m4 0h1m17 0h2m1 0h1m61 0h1m-67 1h2m68 1h1m-101 1h1m3 0h1m2 0h1m4 0h1m-12 1h1m1 0h1m3 0h1m2 0h1m-5 1h1m7 0h1m-46 1h1m25 0h1m6 0h1m8 0h1m-17 1h1m1 1h1m-27 1h1m46 0h1m1 0h1m-20 1h1m12 0h1m-21 1h1m14 0h1m-88 1h1m69 0h1m4 0h1m1 0h1m1 0h1m8 0h1m12 0h1m-22 1h3m4 0h1m3 0h1m-21 1h1m2 0h2m25 0h1m-25 1h1m3 0h1m3 0h1m2 0h1m12 0h1m-101 1h1m69 0h1m1 0h1m3 0h2m20 0h1m-103 2h1m1 0h1m70 0h2m11 0h1m9 0h1m-85 1h1m61 0h2m-68 1h1m-3 2h1m5 0h1m13 0h1m50 0h1m2 0h1m-72 1h1m65 0h1m3 0h1m-73 1h1m2 0h1m80 0h1m-59 1h1m48 0h1m-43 1h1m48 0h1m9 0h1m-53 1h1m21 0h1m-30 1h1m2 0h1m8 0h1m16 0h1m23 0h1m-87 1h1m3 0h1m24 0h2m1 0h1m-36 1h1m8 0h1m38 0h1m34 0h1m-81 1h2m1 0h1m1 0h1m1 0h1m26 0h1m18 0h1m3 0h1m6 0h1m-64 1h1m28 0h1m14 0h1m1 0h1m2 0h1m10 0h1m19 0h1m6 0h1m-82 1h1m16 0h1m5 0h1m3 0h1m17 0h1m26 0h1m-22 1h1m4 0h1m-57 1h1m21 0h1m10 0h1m7 0h1m9 0h1m-53 1h1m57 0h1m8 0h1m-67 1h1m42 0h1m9 0h1m1 0h1m2 0h2m10 0h1m21 0h1m-71 1h1m6 0h1m29 0h1m-40 1h2m16 0h1m1 0h1m9 0h1m9 0h1m-25 1h1m11 0h1m3 0h1m3 0h1m16 0h1m-56 1h1m11 0h1m14 0h1m2 0h2m9 0h1m7 0h1m1 0h1m12 0h1m-83 1h1m18 0h2m2 0h1m4 0h1m10 0h1m5 0h1m8 0h1m6 0h2m12 0h1m1 0h1m-62 1h1m13 0h1m5 0h1m8 0h2m1 0h2m10 0h1m6 0h1m3 0h1m-76 1h1m3 0h1m1 0h1m34 0h2m7 0h1m4 0h1m7 0h1m8 0h1m-68 1h1m25 0h1m2 0h2m15 0h1m8 0h1m21 0h1m-53 1h1m4 0h1m1 0h1m3 0h1m10 0h3m13 0h1m5 0h1m5 0h1m-74 1h1m6 0h1m5 0h1m5 0h1m10 0h1m9 0h2m1 0h1m5 0h2m8 0h1m1 0h3m8 0h1m-56 1h2m20 0h1m5 0h1m14 0h1m3 0h1m2 0h1m1 0h1m2 0h1m-39 1h1m13 0h2m3 0h2m18 0h1m-40 1h1m9 0h1m10 0h1m8 0h1m5 0h2m-32 1h1m1 0h1m12 0h1m11 0h1m8 0h1m-67 1h1m15 0h1m20 0h1m5 0h1m1 0h1m-51 1h1m24 0h1m3 0h1m3 0h1m2 0h1m3 0h1m-26 1h1m23 0h1m13 0h1m17 0h1m31 0h1m-76 1h1m4 0h1m15 0h1m6 0h1m9 0h1m3 0h1m31 0h1m-87 1h1m11 0h1m2 0h1m5 0h1m1 0h1m10 0h1m8 0h1m2 0h1m9 0h2m-40 1h1m25 0h2m9 0h1m-54 1h1m-1 1h1m12 0h1m1 0h1m1 0h1m4 0h1m24 0h1m-35 1h1m13 0h1m4 0h1m12 1h1m3 0h1m5 0h1m8 0h1m-65 1h1m9 0h1m25 0h1m3 0h1m6 0h2m3 0h1m-12 1h1m3 0h1m9 0h1m-13 1h1m2 0h1m1 0h1m-1 1h1m4 0h1m6 0h2m10 0h2m3 0h1m-61 1h1m38 0h1m3 0h2m-67 1h1m13 0h1m24 0h1m-29 1h1m2 0h2m42 0h1m-62 1h1m7 0h1m9 0h1m4 0h1m-1 1h1m35 0h1m-52 1h1m44 0h1m-44 1h1m16 0h1m36 0h1m-57 1h1m19 0h1m-22 1h1m8 0h1m10 0h1m-3 2h1m-3 1h1m-18 4h1"/>
<path stroke="#27808E" d="M188 11h1m-4 1h1m-27 1h1m-3 1h1m11 1h1m-19 1h1m5 1h2m1 0h1m3 0h1m4 0h1m-21 1h1m18 0h2m-11 1h1m7 1h1m-22 1h1m8 0h1m-12 1h1m18 1h1m-3 1h1m-22 1h1m22 0h1m3 0h2m-31 1h1m2 0h1m2 0h1m11 0h1m-17 1h1m8 0h1m3 0h1m1 0h1m-13 1h1m20 0h1m-24 3h1m16 0h1m21 0h1m-40 1h1m-3 1h1m44 0h1m-43 2h1m30 2h1m-11 1h1m9 0h1m-44 1h2m30 0h1m-33 2h1m7 0h1m-12 1h1m62 0h1m-49 1h1m-14 1h1m-2 1h1m6 0h1m-7 2h1m-6 1h2m13 0h1m56 0h1m-69 1h1m7 0h1m-2 1h1m-25 1h1m0 1h1m6 0h1m-4 1h1m16 0h1m-39 1h1m2 0h1m10 0h1m-15 1h1m14 1h1m22 1h1m-24 1h1m3 0h1m-55 1h1m54 0h1m-10 1h1m12 0h1m-67 1h1m49 0h1m1 0h1m24 1h1m-23 1h1m15 0h1m-28 1h2m5 0h1m8 0h1m1 0h1m-15 1h1m8 0h1m16 0h1m-18 2h1m-12 1h1m7 0h1m-12 2h1m3 0h1m8 0h1m1 0h1m3 0h1m14 0h1m-22 1h1m-17 1h1m3 0h1m4 0h1m13 0h1m-15 2h1m22 0h1m66 0h1m-83 1h1m1 0h1m15 0h1m-2 1h1m66 0h1m-98 1h1m1 0h1m3 1h1m2 0h1m19 0h1m65 0h1m2 0h1m-102 1h1m11 0h1m-12 1h1m2 0h4m6 0h1m18 0h1m-111 1h1m77 0h1m5 0h1m4 1h1m1 0h1m17 0h1m-108 1h1m74 0h1m2 0h2m4 0h1m-13 1h1m31 1h1m-29 1h1m3 0h1m12 0h1m-101 1h1m86 0h1m-6 1h1m11 0h1m12 0h1m-19 1h1m1 1h1m9 0h1m-22 1h2m7 0h1m2 0h2m-67 1h1m52 0h1m7 0h1m6 0h1m2 0h1m-86 1h1m2 0h1m65 0h1m13 0h1m-88 1h1m3 0h1m69 0h1m9 0h1m1 0h1m-82 1h1m69 0h1m11 0h1m-14 1h1m20 0h1m-64 1h1m38 0h1m10 0h1m2 0h1m-21 1h1m8 0h2m3 0h1m3 0h1m-12 1h1m6 0h1m1 0h1m-59 1h1m7 0h1m63 0h1m-92 1h1m-1 1h1m-4 1h1m48 0h1m32 0h1m10 0h1m-95 1h1m1 0h1m4 0h1m1 0h1m21 0h1m4 0h1m11 0h1m30 0h1m-76 1h1m29 0h1m16 0h1m3 0h1m10 0h1m13 0h1m-74 1h1m1 0h1m16 0h1m58 0h1m-84 1h2m3 0h1m70 0h1m5 0h1m-2 1h1m-77 1h1m24 0h1m20 0h1m9 0h1m16 0h1m-78 1h1m28 0h1m20 0h1m7 0h1m2 0h1m2 0h1m6 0h1m3 0h1m4 0h2m-50 1h1m2 0h1m27 0h1m5 0h1m-18 1h1m3 0h1m3 0h1m2 0h1m32 0h2m-65 2h1m7 0h1m20 0h1m1 0h2m7 0h1m5 0h1m-55 1h1m3 0h2m25 0h2m14 0h1m1 0h1m3 0h1m1 0h1m3 0h2m-79 1h1m14 0h1m12 0h1m4 0h1m1 0h1m3 0h1m2 0h1m19 0h1m-50 1h2m9 0h1m7 0h1m5 0h2m19 0h1m8 0h1m2 0h1m2 0h1m-52 1h1m2 0h1m14 0h1m4 0h1m10 0h3m7 0h1m-54 1h1m2 0h1m5 0h2m8 0h1m2 0h1m10 0h1m20 0h1m1 0h1m7 0h1m-79 1h1m31 0h2m11 0h1m4 0h1m5 0h1m3 0h1m15 0h2m-76 1h1m26 0h1m3 0h1m11 0h1m15 0h1m11 0h1m4 0h1m-77 1h1m1 0h1m8 0h1m17 0h1m5 0h1m3 0h1m25 0h1m10 0h1m-52 1h1m4 0h1m1 0h1m18 0h2m1 0h1m1 0h1m7 0h1m6 0h1m15 1h1m-61 1h1m11 0h1m3 0h1m26 0h1m6 0h1m-73 1h1m22 0h1m8 0h2m1 0h1m23 0h1m1 0h1m4 0h1m-35 1h1m19 0h1m8 0h1m3 0h1m-48 1h1m11 0h1m9 0h1m2 0h1m9 0h1m7 0h1m15 0h1m25 0h2m-43 1h1m2 0h1m-30 1h1m19 0h1m2 0h1m-63 1h1m65 0h1m3 0h1m2 0h1m-75 1h1m22 0h1m18 0h1m16 0h1m14 0h1m13 0h1m-84 1h2m6 0h1m16 0h1m26 0h1m8 0h1m2 0h1m6 0h1m-63 1h1m24 0h1m1 0h1m31 0h1m14 0h1m-16 1h1m11 0h1m-46 1h1m38 1h2m-11 1h1m1 0h1m13 0h1m-47 1h1m5 0h1m23 0h1m21 0h2m-73 1h1m18 0h1m13 0h1m5 0h1m7 0h1m5 0h1m-40 1h1m37 0h1m1 0h1m2 0h1m-45 1h1m32 0h1m2 0h1m9 0h2m-67 1h1m1 0h1m50 0h2m2 0h1m-51 1h2m19 0h1m30 0h1m-41 1h1m18 0h1m-28 1h1m7 0h1m1 0h1m-14 1h1m13 1h1m2 0h1"/>
<path stroke="#21918C" d="M176 10h1m-6 5h1m8 0h1m-17 1h1m12 0h1m-22 1h1m16 0h1m9 0h1m-38 2h1m24 0h1m10 1h1m-21 1h1m9 0h1m-16 1h1m14 0h1m-17 1h1m-1 2h2m-13 1h1m18 0h1m3 0h1m1 0h1m12 2h1m-18 1h1m-24 1h1m-8 1h1m6 0h1m7 0h1m5 0h1m9 0h1m-9 2h1m8 0h1m14 0h1m-45 1h1m46 0h1m-48 1h1m40 1h1m-1 1h1m-10 1h1m-1 1h1m6 0h1m-52 1h1m-2 1h1m12 1h1m6 0h1m-22 1h1m8 0h1m-8 1h1m3 0h1m11 0h1m-6 1h1m4 0h1m-20 1h1m67 0h1m-69 1h1m6 0h1m7 0h1m-20 1h1m6 0h1m2 0h1m66 0h1m-71 1h1m-16 2h1m5 0h1m14 0h1m2 0h1m-42 2h1m12 0h1m4 0h1m1 0h1m18 0h1m-40 3h1m2 0h1m9 0h1m-1 1h1m15 0h1m-10 1h1m-15 2h1m1 0h1m9 0h1m17 0h1m-30 1h1m-5 1h1m2 0h1m12 0h1m-1 3h1m-17 1h1m7 0h1m-10 1h1m10 0h1m6 0h1m-13 1h1m4 0h1m8 0h1m80 0h1m-135 2h1m34 0h1m7 0h1m2 0h1m-16 1h1m3 0h1m4 0h2m22 0h1m64 0h1m-85 1h1m6 1h1m80 0h1m-102 1h1m2 0h1m1 0h1m9 0h1m82 0h1m-92 1h1m3 0h1m-56 1h1m39 0h1m-34 1h1m32 0h1m9 0h1m3 0h1m-10 1h1m93 0h1m-99 1h1m5 0h1m3 0h1m5 0h1m14 0h1m4 0h1m-40 1h2m11 0h1m22 0h1m-36 2h2m6 0h1m5 0h1m-5 1h1m5 0h1m6 0h1m-19 2h1m6 0h1m-12 1h1m8 0h1m6 0h1m1 0h1m7 0h1m-24 1h1m14 0h1m-3 1h1m-18 1h1m16 0h1m-5 1h1m4 0h2m-14 1h1m-72 1h2m78 0h1m4 0h1m1 0h1m-15 1h1m6 0h1m-83 1h1m69 0h1m9 0h1m1 0h1m-84 1h1m70 0h1m3 0h1m2 0h1m-78 1h1m68 0h1m24 0h1m-96 1h1m79 1h1m5 0h1m-54 1h2m-12 1h1m42 1h1m27 0h1m-48 1h1m33 0h1m1 0h1m2 0h1m-88 2h1m40 0h1m-14 1h1m15 0h1m19 0h1m1 0h1m15 0h1m11 0h1m-95 1h1m60 0h1m-59 1h1m56 0h1m19 0h1m18 0h1m-49 1h1m33 0h1m3 0h1m-4 1h1m-83 1h1m42 0h1m6 0h1m3 0h1m15 0h1m-20 1h1m1 0h1m-53 1h1m53 0h1m11 0h2m4 0h1m4 0h1m6 0h1m10 0h1m-69 1h1m12 0h1m17 0h1m4 0h1m9 0h1m1 0h1m3 0h1m2 0h1m-51 1h1m14 0h1m21 0h1m7 0h1m3 0h1m-58 1h1m4 0h1m8 0h1m20 0h1m23 0h1m45 0h1m-83 1h1m13 0h1m17 0h1m2 0h1m11 0h1m-81 1h3m3 0h1m17 0h2m1 0h1m4 0h2m7 0h2m5 0h1m19 0h1m12 0h1m-70 1h1m15 0h1m3 0h1m34 0h1m-65 1h1m5 0h1m6 0h1m3 0h2m16 0h1m6 0h1m35 0h1m-79 1h1m17 0h1m22 0h1m4 0h1m1 0h1m-57 1h1m26 0h1m11 0h1m20 0h1m-46 1h1m10 1h1m11 0h1m2 0h2m1 0h1m17 0h1m-39 1h1m5 0h1m5 0h1m8 0h2m15 0h1m6 0h1m2 0h1m29 0h1m3 0h1m-84 1h1m2 0h1m10 0h1m5 0h1m7 0h1m3 0h1m10 0h1m-43 1h1m2 0h1m3 0h1m1 0h1m18 0h1m21 0h1m6 0h2m-80 1h1m2 0h1m11 0h1m6 0h1m19 0h1m11 0h1m4 0h1m6 0h1m-30 1h1m5 0h1m7 0h1m5 0h1m8 0h1m2 0h1m4 0h1m-53 1h1m7 0h1m21 0h1m15 0h1m-62 1h1m28 0h1m14 0h1m15 0h1m-49 1h1m31 0h1m11 0h1m1 0h1m-35 1h1m14 0h1m5 0h1m11 0h1m2 0h1m2 0h1m-42 1h1m33 0h1m-69 1h1m64 0h1m2 0h1m10 0h2m4 0h1m-32 1h1m11 0h1m4 0h1m6 0h1m-53 1h1m3 0h1m35 0h1m9 0h1m-11 1h1m1 0h1m7 0h1m16 0h1m-64 1h1m9 0h1m6 0h1m15 0h1m5 0h1m7 0h1m1 0h1m1 0h1m6 0h1m5 0h1m-92 1h1m51 0h1m20 0h1m4 0h1m16 0h1m-81 1h1m17 0h2m18 0h2m-37 1h1m16 0h1m12 0h1m15 0h1m2 0h1m-40 1h1m6 0h1m27 0h1m12 0h1m-47 1h2m45 0h1m2 0h1m-57 1h1m7 1h1m1 0h1m-11 2h1m12 0h1m13 0h1m11 0h1m-46 1h1m7 0h1m13 0h1m-20 5h1m-3 3h1"/>
<path stroke="#1FA188" d="M174 10h1m-16 1h1m18 4h1m2 0h1m1 0h1m-18 1h1m2 0h1m-22 1h1m22 1h1m1 0h1m-13 1h1m-3 2h1m11 2h1m13 0h1m-31 2h1m-3 1h1m-6 1h1m17 0h1m20 0h1m-51 1h1m42 1h1m-41 2h1m12 0h1m-14 1h1m16 1h1m-25 1h1m6 0h1m11 0h1m4 0h1m7 1h1m9 0h1m4 0h1m6 0h1m-23 1h1m1 1h1m8 0h1m-38 1h2m19 1h1m-29 1h2m-1 1h1m1 0h1m55 0h1m-67 1h1m17 0h1m-22 2h1m13 0h1m-12 1h1m1 0h1m61 1h1m-67 1h1m8 0h1m8 0h1m2 0h1m-19 1h1m8 0h1m-10 1h1m-20 2h1m8 0h1m-8 1h1m9 1h1m58 0h1m-69 1h1m8 0h1m17 0h1m-18 1h1m-25 1h2m14 0h1m13 2h1m4 0h1m-3 1h1m-25 1h1m11 0h1m14 0h1m-15 1h1m-8 1h1m4 0h2m3 0h1m9 0h1m-26 1h1m20 0h1m-20 1h1m3 1h1m2 0h1m2 0h1m-6 1h2m-12 1h2m10 1h1m-11 1h1m11 0h1m-15 1h1m2 0h1m12 0h2m66 0h1m-92 1h2m15 0h1m6 0h1m4 0h1m-31 1h1m-3 1h1m3 0h1m97 0h1m-98 1h1m10 0h1m-18 1h1m1 0h1m3 0h1m6 0h1m17 0h1m1 0h1m69 0h1m-99 1h1m7 0h1m2 0h1m-8 1h1m-9 1h1m10 0h1m16 0h1m-26 1h1m7 0h1m6 1h1m-21 1h2m4 0h1m2 0h1m7 0h1m15 0h1m1 0h1m58 0h1m6 0h1m-97 1h1m3 0h1m3 0h1m4 0h1m14 0h1m-1 1h1m6 1h1m-84 1h1m44 0h1m4 0h1m5 0h1m3 0h1m11 0h1m3 0h1m-106 2h1m24 0h1m30 0h1m18 0h1m14 0h1m7 0h1m4 0h1m-97 1h1m74 0h1m-2 1h1m-9 1h2m13 0h1m7 0h1m-22 1h1m5 0h1m19 0h1m-30 1h1m11 0h1m5 0h1m-7 1h1m-77 1h1m80 0h1m-87 1h1m4 0h1m69 0h1m-73 1h1m73 0h1m5 0h1m-10 1h1m10 0h1m1 0h1m-13 1h1m3 0h1m5 0h1m2 0h1m5 0h1m-22 1h1m2 0h1m7 0h1m1 0h1m-56 1h2m48 0h1m2 0h2m4 0h1m-7 1h1m-83 1h1m75 0h1m7 0h1m8 0h1m-89 1h1m72 0h2m5 0h1m8 0h1m-73 1h1m40 0h1m14 0h1m7 0h1m-59 1h1m9 0h1m40 0h1m1 0h1m2 0h2m13 0h1m-95 1h1m34 0h1m20 0h1m18 0h1m4 0h1m-59 1h1m6 0h1m49 0h1m6 0h1m-89 1h1m2 0h1m70 0h1m3 0h2m3 0h1m-84 1h1m79 0h1m11 0h1m-26 1h1m2 0h2m1 0h1m5 0h1m1 0h1m1 0h1m6 0h1m-64 1h1m19 0h2m5 0h2m15 0h3m2 0h1m8 0h1m8 0h1m-72 1h1m39 0h1m5 0h1m11 0h1m3 0h1m-33 1h2m2 0h1m8 0h2m10 0h1m-46 1h1m16 0h1m15 0h1m-37 1h2m23 0h1m9 0h3m5 0h1m2 0h1m1 0h3m3 0h1m-67 1h1m1 0h1m3 0h1m27 0h1m11 0h2m17 0h1m-61 1h1m1 0h1m22 0h1m2 0h1m8 0h2m2 0h1m8 0h1m2 0h1m6 0h1m-56 1h1m6 0h1m2 0h1m19 0h1m35 0h1m-69 1h1m6 0h1m7 0h1m74 0h1m-114 1h1m7 0h1m21 0h1m34 0h1m-62 1h1m16 0h1m33 0h1m9 0h1m1 0h1m-66 1h1m19 0h1m1 0h1m3 0h1m5 0h1m9 0h1m1 0h1m4 0h1m11 0h1m11 0h1m2 0h1m-33 1h1m6 0h1m2 0h1m9 0h1m5 0h2m2 0h1m1 0h1m1 0h1m-46 1h1m1 0h1m29 0h1m-53 1h1m7 0h1m28 0h1m7 0h1m7 0h1m2 0h1m2 0h1m12 0h1m-79 1h1m15 0h1m22 0h1m1 0h1m2 0h1m1 0h1m3 0h1m8 0h1m3 0h1m39 0h1m-103 1h1m24 0h1m3 0h1m6 0h3m31 0h1m1 0h1m5 0h1m-47 1h1m10 0h1m8 0h1m5 0h1m13 0h1m27 0h1m-99 1h1m17 0h1m9 0h1m19 0h1m10 0h1m4 0h1m-38 1h1m2 0h1m7 0h1m14 0h1m8 0h1m-67 1h1m36 0h1m31 0h1m38 0h1m-100 1h1m36 0h1m1 0h1m17 0h1m5 0h1m-73 1h1m18 0h1m60 0h1m-19 1h1m10 0h1m9 0h1m-64 1h1m45 0h1m9 0h1m-17 1h1m14 0h1m2 0h1m-78 1h1m4 0h1m4 0h1m13 0h1m39 0h1m7 0h1m14 0h1m5 0h1m-97 1h1m11 0h2m60 0h1m10 0h1m5 0h1m2 0h1m3 0h1m-86 1h1m12 0h1m16 0h1m17 0h2m-46 1h1m10 0h1m8 0h1m10 0h1m21 0h1m-70 1h1m36 0h1m18 0h1m17 0h1m1 0h1m-78 1h1m27 0h1m31 0h1m11 0h1m2 1h1m-57 1h1m17 0h1m-21 1h1m9 0h1m11 0h1m13 0h1m21 0h1m8 0h1m-64 1h1m8 0h2m29 0h1m-34 1h1m-3 1h1m1 0h1m5 0h1m1 0h1m-7 1h1m3 0h1m-19 4h1m4 1h1"/>
<path stroke="#2CB17E" d="M185 10h1m-1 1h1m-30 2h1m15 3h1m-20 2h1m4 1h1m14 0h1m-4 1h1m-11 2h1m22 0h1m-24 1h1m1 0h1m7 1h1m4 0h1m10 0h1m-22 1h2m-7 1h1m-11 1h1m1 0h1m5 0h1m4 0h1m5 1h1m-27 1h1m21 0h1m-12 2h1m-12 1h1m25 0h1m-14 1h1m10 0h1m13 0h2m-48 1h1m8 0h1m34 0h1m-11 2h1m-41 1h1m31 0h1m16 0h1m-51 1h1m32 0h1m10 0h1m-46 1h1m39 0h1m2 0h1m20 0h1m-68 1h1m36 0h3m14 0h1m-55 1h1m7 0h1m30 0h1m-35 1h2m2 0h1m7 0h1m6 0h1m-18 1h1m4 0h1m11 1h1m-4 1h1m-19 1h1m4 0h1m58 0h1m1 0h1m-67 1h1m6 0h2m1 0h1m4 0h1m-14 1h1m6 0h1m1 0h1m1 0h1m-18 1h1m0 1h1m-12 1h1m10 1h1m-29 1h1m-1 1h1m26 0h1m6 0h2m-36 1h3m10 0h1m8 0h1m-10 1h1m4 0h1m-5 1h1m12 0h1m1 1h1m3 0h1m-17 1h1m5 0h1m2 0h1m9 0h1m47 0h1m-72 1h1m8 0h1m-11 1h1m15 0h1m5 0h1m-28 1h1m5 0h1m8 0h1m9 0h1m-31 1h1m4 0h1m29 0h1m-4 1h1m-12 1h1m10 0h1m5 0h1m-38 1h1m3 0h1m8 0h1m-7 1h2m6 0h1m2 0h2m7 0h1m-29 1h1m29 0h1m-31 1h2m11 0h2m84 0h1m-103 1h1m18 0h1m12 0h1m4 0h1m7 0h1m50 0h1m-85 1h1m6 0h1m-17 1h1m2 0h1m2 0h1m9 0h1m10 0h1m-22 1h1m4 0h1m15 0h1m66 0h1m5 0h1m-102 1h1m9 0h1m9 0h1m2 0h1m68 0h1m-94 1h1m3 0h1m7 0h1m9 0h1m11 0h1m62 0h1m-98 1h1m9 0h1m3 0h1m2 0h1m10 0h1m-9 1h1m5 0h1m-27 1h1m12 0h1m84 0h1m2 0h1m-87 1h2m13 0h1m3 0h1m-19 1h1m2 0h1m69 0h1m-87 1h1m10 0h1m1 1h1m71 0h1m-76 1h2m10 0h1m-20 1h1m82 0h1m-75 1h1m6 0h1m2 0h1m3 0h1m-80 1h1m74 0h1m-17 1h1m9 0h1m10 0h1m-100 1h2m76 0h1m11 0h1m-87 1h1m8 0h1m36 0h1m20 0h1m8 0h1m4 0h1m7 0h1m1 0h1m-22 1h1m16 0h1m-23 1h1m16 0h1m3 1h1m-99 1h1m75 0h1m20 0h1m-20 1h1m11 0h1m-86 1h1m65 0h1m7 1h1m9 0h2m-11 1h1m5 0h1m8 0h2m-8 1h1m1 2h1m2 0h1m-96 1h1m84 0h3m4 0h1m-88 1h1m3 2h1m44 0h1m36 0h1m5 0h1m-46 2h2m1 0h1m34 0h1m3 0h1m4 0h1m-61 1h1m15 0h1m29 0h2m18 0h1m-43 1h1m31 0h1m-60 1h1m15 0h1m1 0h1m31 0h1m4 0h1m3 0h1m2 0h1m-90 1h1m26 0h1m22 0h1m23 0h1m-50 1h1m18 0h2m21 0h1m15 0h1m-62 1h1m6 0h1m18 0h1m3 0h1m15 0h1m5 0h1m8 0h1m-60 1h1m5 0h1m18 0h1m21 0h1m8 0h1m3 0h1m-2 1h5m-63 1h1m2 0h1m5 0h1m-33 1h1m35 0h1m6 0h1m4 0h1m4 0h1m14 0h1m5 0h2m7 0h1m-64 1h1m14 0h1m7 0h1m3 0h1m2 0h1m4 0h1m19 0h1m-60 1h2m5 0h1m6 0h1m24 0h1m1 0h1m10 0h1m-39 1h1m10 0h1m18 0h1m7 0h2m4 0h1m3 0h1m11 0h1m-77 1h1m14 0h1m18 0h1m23 0h1m59 0h1m-119 1h1m14 0h1m42 0h1m1 0h1m-65 1h1m33 0h1m8 0h1m9 0h1m9 0h1m-12 1h1m-40 1h1m8 0h1m15 0h1m1 0h1m3 0h1m11 0h2m42 0h1m-101 1h1m14 0h2m13 0h1m16 0h1m7 0h1m14 0h1m11 0h1m19 0h1m-102 1h1m49 0h1m20 0h1m2 0h1m23 0h1m1 0h1m-100 1h1m26 0h1m22 0h1m10 0h1m13 0h1m-62 1h1m1 0h1m29 0h1m14 0h2m35 0h1m-103 1h1m35 0h1m3 0h1m1 0h1m3 0h2m29 0h1m-54 1h1m2 0h1m6 0h1m1 0h1m3 0h3m11 0h1m9 0h1m6 0h2m-53 1h1m4 0h1m18 0h1m6 0h1m3 0h1m7 1h2m17 0h1m-61 1h1m52 0h1m-65 2h1m44 0h1m8 0h1m12 0h2m4 0h1m-77 1h1m15 0h2m54 0h1m-80 1h1m59 0h2m1 0h1m-42 1h1m53 0h1m-42 1h1m13 0h1m15 0h1m-68 1h1m10 0h1m9 0h1m19 0h1m5 0h1m32 0h1m5 0h1m-82 1h1m5 0h1m14 0h1m23 0h2m18 0h1m7 0h1m-16 1h1m12 0h1m3 0h1m-58 1h1m52 0h2m-60 1h1m49 0h1m4 0h1m3 0h1m-64 1h1m7 0h1m6 0h1m4 0h1m44 0h1m-63 1h1m7 0h1m16 0h1m7 0h1m14 0h1m-42 1h1m4 0h1m1 0h1m5 0h1m2 0h2m9 0h1m-10 1h1m-12 1h1m4 0h1m-17 5h1m-6 2h1"/>
<path stroke="#48C16E" d="M167 8h1m-7 1h1m22 1h1m1 1h1m-30 1h1m24 3h1m-20 2h1m-17 1h1m12 0h1m4 0h1m8 0h1m-14 3h1m11 1h1m-16 1h1m-9 3h1m15 0h1m4 0h1m-29 1h1m13 0h1m2 0h2m-18 1h1m7 0h1m1 0h1m12 0h1m-13 1h1m13 0h1m-35 1h1m22 0h1m10 0h1m-28 1h1m25 0h1m-13 1h1m8 0h1m2 0h1m-24 1h1m12 0h1m5 0h1m1 0h1m-25 1h1m42 0h1m-54 1h1m7 0h1m20 0h1m2 0h1m6 0h1m2 0h1m6 0h1m-52 1h1m11 0h1m28 0h2m3 0h1m-38 1h1m20 0h1m7 0h1m8 0h1m-4 1h1m5 0h1m9 0h1m-66 1h2m12 0h1m25 0h1m2 0h2m-34 1h1m3 0h1m23 1h1m-34 1h1m2 0h1m1 0h1m3 0h1m1 0h1m-17 1h1m1 0h2m3 0h1m1 0h1m2 0h1m-11 1h1m17 0h1m2 0h1m37 0h1m-67 1h1m8 0h2m1 0h1m3 0h1m8 0h1m2 0h1m-28 1h2m6 0h1m3 0h1m9 0h2m-18 1h1m17 0h1m-25 1h1m11 0h1m10 0h1m2 0h1m-28 1h2m0 1h1m4 0h1m3 0h1m-19 1h1m13 0h1m8 0h1m-12 1h1m4 0h2m45 0h1m-62 1h1m7 0h1m5 0h1m5 0h2m-25 1h1m1 0h1m18 0h1m48 0h1m-77 1h1m3 0h1m3 0h1m17 0h1m-24 2h1m22 0h1m-28 1h1m5 0h1m19 0h1m45 0h1m-70 1h1m12 0h1m11 0h1m-26 1h1m15 0h1m-21 1h1m2 0h1m9 0h1m-15 1h1m18 0h1m-20 1h1m3 0h1m9 0h1m3 0h1m2 0h1m-26 1h1m1 0h1m6 0h1m13 0h1m3 0h1m5 0h1m-33 2h1m1 0h1m2 0h1m1 0h2m8 0h1m12 0h1m65 1h1m-103 1h1m13 0h1m2 0h1m15 0h1m72 0h1m-108 1h1m5 0h1m7 0h1m20 0h1m-34 1h1m6 0h1m13 0h1m3 0h1m6 0h1m7 0h1m50 0h1m1 0h1m1 0h2m-79 1h1m2 0h2m4 0h1m11 0h2m-18 1h1m-15 1h1m4 0h1m19 0h1m-32 1h1m2 0h1m19 0h2m3 0h2m55 0h1m5 0h1m-93 1h1m6 0h1m6 0h1m68 0h1m-88 1h1m21 0h1m7 0h1m65 1h1m-76 1h1m1 0h1m-19 1h1m4 0h1m17 0h1m69 0h1m-88 1h1m6 0h1m-5 1h1m2 0h1m1 0h1m1 0h1m5 0h1m5 1h1m58 0h1m2 0h1m2 0h1m-122 1h1m31 0h1m79 0h1m7 0h1m-144 1h1m56 0h1m6 0h1m3 0h2m3 0h1m69 0h1m-171 1h1m24 0h1m47 0h1m23 0h1m-47 1h1m33 0h1m30 0h1m-116 1h1m79 0h1m9 0h1m-85 1h1m13 0h1m31 0h1m17 0h1m10 0h1m6 0h1m11 0h1m-90 1h5m56 0h1m9 0h1m3 0h2m-69 1h1m51 0h3m2 0h2m7 0h1m7 0h1m2 0h1m4 0h1m-23 1h1m9 0h1m-24 1h1m8 0h1m9 0h1m-13 1h1m10 0h1m3 0h1m-13 1h1m3 0h1m10 0h1m-33 1h2m19 0h1m2 0h1m6 0h1m1 0h1m1 0h1m-24 1h1m7 0h1m7 0h1m3 0h1m-2 1h1m0 1h1m4 0h1m-20 2h2m-2 1h1m1 0h1m10 0h1m1 1h2m-90 1h1m84 0h2m-88 1h1m81 0h1m3 0h1m-3 2h1m3 0h1m6 0h2m-94 1h1m77 0h1m3 0h1m2 0h1m7 0h1m-98 1h2m76 0h1m8 0h1m4 0h1m1 0h2m1 0h1m-18 1h1m8 0h1m6 0h1m-67 1h1m15 0h1m42 0h1m-60 1h1m20 0h1m11 0h1m7 0h1m5 0h1m8 0h1m5 0h1m1 0h2m-70 1h2m1 0h1m28 0h1m1 0h1m11 0h1m48 0h1m-95 1h1m5 0h1m11 0h1m16 0h1m4 0h1m2 0h1m8 0h1m12 0h1m4 0h1m-72 1h1m19 0h1m1 0h1m7 0h1m16 0h2m-28 1h1m15 0h1m2 0h1m-43 1h2m24 0h1m11 0h1m11 0h1m11 0h1m4 0h1m6 0h1m-17 1h1m15 0h1m-31 1h1m9 0h2m-47 1h1m16 0h1m26 0h1m1 0h1m15 0h1m3 0h1m-84 1h1m17 0h1m36 0h1m9 0h1m11 0h1m-79 1h2m13 0h1m14 0h1m34 0h1m2 0h1m11 0h1m-78 1h1m12 0h1m3 0h1m25 0h1m4 0h1m3 0h2m2 0h1m-59 1h1m2 0h1m16 0h1m5 0h1m22 0h1m4 0h1m44 0h1m-102 1h1m22 0h1m1 0h1m5 0h1m13 0h2m13 0h1m10 0h1m6 0h1m-76 1h1m38 0h1m3 0h1m9 0h1m43 0h1m2 0h1m-107 1h1m27 0h1m3 0h1m12 0h1m13 0h1m20 0h1m2 0h1m-53 1h1m16 0h2m15 0h1m12 0h1m22 0h1m-92 1h1m37 0h1m31 0h1m2 0h1m-66 1h1m26 0h1m5 0h1m4 0h1m1 0h1m27 0h1m-21 1h2m10 0h1m-47 1h1m11 0h1m1 0h2m38 0h1m16 0h1m-101 1h1m1 0h1m16 0h2m6 0h1m35 0h1m12 0h1m1 0h2m-82 1h1m10 0h1m11 0h1m5 0h2m36 0h1m18 0h1m-66 1h3m1 0h1m1 0h1m40 0h2m-70 1h1m1 0h1m6 0h1m15 0h2m1 0h2m32 0h1m22 0h1m4 0h1m-96 1h1m3 0h1m2 0h1m80 0h1m1 0h1m2 0h1m2 0h1m2 0h2m-96 1h1m22 0h2m53 0h1m2 0h2m10 0h2m-74 1h1m3 0h1m35 0h2m1 0h1m7 0h1m9 0h1m6 0h1m4 0h1m-32 1h1m1 0h1m3 0h1m4 0h1m6 0h1m12 0h1m1 0h2m-84 1h1m9 0h1m13 0h1m56 0h1m-93 1h1m1 0h2m2 0h1m28 0h1m18 0h1m1 0h1m2 0h1m3 0h1m17 0h1m-88 1h1m31 0h1m54 0h1m-70 1h1m62 0h1m-47 1h2m1 0h1m33 0h1m4 0h1m5 0h1m-66 1h1m1 0h1m2 0h1m2 0h1m5 0h1m6 0h2m13 0h1m23 0h1m-63 1h1m12 0h1m8 0h1m-2 1h1m6 0h1m10 0h1m3 0h1m8 0h1m18 0h1m-64 1h1m1 0h2m4 0h1m8 0h2m14 0h1m-17 1h1m-7 1h1m-17 3h1m-2 1h1m-1 1h2m2 0h1m-4 1h1m-4 1h1m1 0h2"/>
<path stroke="#6ECE58" d="M164 9h3m-7 1h1m-7 3h1m4 3h1m15 0h1m7 0h1m-23 1h1m20 0h1m-17 1h1m-10 2h1m2 0h1m12 1h1m-32 1h1m18 0h1m-21 1h1m39 0h1m-21 2h1m-25 1h1m14 0h1m2 0h1m13 0h1m-28 1h1m2 0h1m18 0h1m-23 1h1m4 0h1m7 0h1m14 0h1m-30 1h1m3 0h1m4 0h1m3 0h1m13 0h1m3 0h1m-33 1h1m1 0h1m9 0h1m2 0h1m-21 1h1m8 0h1m-1 1h1m4 0h1m1 0h1m6 0h2m18 0h1m-28 1h1m13 0h1m-20 1h1m12 0h1m1 0h1m4 0h1m2 0h1m7 0h1m2 0h1m3 0h1m-25 1h1m15 0h1m1 0h2m-49 1h1m9 0h1m17 0h1m2 0h1m7 0h1m8 0h1m-9 1h1m3 0h1m-46 1h1m31 0h1m5 0h1m-6 1h1m8 0h1m3 0h2m-18 1h1m14 0h1m-53 1h1m1 0h1m10 0h1m25 0h1m2 0h1m-40 1h1m8 0h1m13 0h1m15 0h1m23 0h1m-68 1h3m2 0h1m11 0h1m-3 1h1m1 0h1m1 0h1m-20 1h2m18 0h1m44 0h1m-67 1h1m7 0h1m8 0h1m49 0h1m-68 1h1m18 0h1m6 0h1m-27 1h1m1 0h1m7 0h3m12 0h1m-18 1h1m4 0h2m1 0h1m3 0h1m-4 1h1m-19 1h1m11 0h1m-23 1h1m2 0h2m15 0h1m4 0h1m-16 1h1m9 0h1m-18 1h1m4 0h1m0 1h1m13 0h1m3 0h1m44 0h1m-70 1h1m13 0h1m-14 1h1m1 0h2m2 0h1m-4 2h1m12 0h1m-29 1h1m5 0h1m3 0h1m7 0h1m2 0h1m-9 1h1m13 0h1m-26 1h1m5 0h1m16 0h1m-13 1h1m12 0h1m-27 1h1m8 0h2m14 0h1m-24 1h1m8 0h1m15 0h1m-14 1h1m7 0h2m3 0h1m-21 1h1m1 0h1m21 0h1m-7 1h1m3 0h1m9 0h1m-46 1h2m10 0h1m1 0h1m2 0h1m5 0h1m1 0h3m2 0h1m14 0h1m-30 1h1m72 0h1m17 0h1m-102 1h1m3 0h1m5 0h1m3 0h1m70 0h1m9 0h1m-90 1h1m12 0h1m10 0h1m54 0h1m8 0h3m1 0h1m-106 1h2m1 0h1m23 0h1m3 0h1m3 0h1m3 0h1m4 0h1m1 0h1m47 0h1m-86 1h1m10 0h1m11 0h1m3 0h1m9 0h1m2 0h1m-52 1h1m21 0h1m3 0h1m12 0h1m-34 1h1m14 0h1m11 0h1m1 0h1m2 0h2m62 0h1m-103 1h1m4 0h1m1 0h1m12 0h1m1 0h1m7 0h1m2 0h3m3 0h1m51 0h1m9 0h1m-83 1h2m1 0h1m14 0h2m66 0h1m-84 1h1m0 1h1m4 0h2m70 0h1m-92 1h1m-2 1h2m13 0h1m1 0h2m5 0h1m59 0h1m3 0h1m-91 1h1m13 0h1m2 0h1m6 0h1m5 0h1m10 0h1m-44 1h1m2 0h1m2 0h1m7 0h2m6 0h1m4 0h2m2 0h1m17 0h1m41 0h1m-116 1h1m31 0h1m1 0h1m4 0h1m4 0h1m4 0h1m64 0h1m-82 1h1m30 0h1m-114 1h2m19 0h1m55 0h2m-27 1h1m30 0h1m6 0h1m-85 1h1m1 0h2m5 0h1m54 0h1m1 0h1m16 0h1m2 0h1m4 0h1m-17 1h1m5 0h1m9 0h1m-12 1h1m6 0h1m1 0h1m-8 1h1m2 0h1m2 0h1m-22 1h2m1 0h1m4 0h1m4 0h1m-30 1h1m19 0h1m15 0h1m-13 1h1m-17 1h1m11 0h1m4 0h1m5 0h1m2 0h1m-23 1h1m6 0h2m6 0h1m7 0h1m7 0h1m-26 1h1m2 0h1m10 0h1m7 0h1m0 1h1m-12 1h1m3 0h1m1 0h1m3 0h1m-21 2h1m8 0h1m1 0h3m4 0h1m-95 1h1m75 0h1m8 0h1m10 0h1m-21 1h1m3 0h2m6 0h1m5 0h1m-75 1h1m65 0h1m1 0h1m5 0h1m4 0h1m-22 1h1m16 0h1m-5 1h1m1 1h1m2 0h1m2 0h1m-22 1h1m-12 1h1m9 0h2m8 0h1m2 0h1m-15 1h1m4 0h1m8 0h1m-59 1h2m83 0h1m11 0h1m-64 1h1m18 0h1m3 0h1m44 0h1m-77 1h1m10 0h1m14 0h1m-25 1h1m1 0h1m11 0h1m12 0h1m1 0h1m44 0h1m-82 1h1m16 0h1m6 0h1m15 0h1m5 0h1m18 0h1m-93 1h1m19 0h1m49 0h1m21 0h1m-103 1h1m9 0h1m18 0h1m39 0h1m12 0h1m-96 1h1m12 0h1m48 0h1m32 0h1m-68 1h1m23 0h1m13 0h1m3 0h2m9 0h1m9 0h1m3 0h2m-86 1h1m12 0h1m41 0h1m43 0h1m-103 1h2m4 0h1m10 0h1m3 0h1m3 0h1m21 0h1m10 0h1m6 0h1m17 0h1m32 0h1m-119 1h1m17 0h1m16 0h1m11 0h2m10 0h1m5 0h1m1 0h1m17 0h1m-85 1h1m4 0h1m1 0h1m1 0h1m9 0h2m34 0h3m1 0h1m6 0h1m9 0h1m28 0h2m-98 1h1m16 0h1m4 0h1m13 0h1m3 0h1m4 0h1m3 0h1m2 0h2m1 0h1m12 0h1m3 0h1m2 0h1m18 0h1m-80 1h1m22 0h1m3 0h1m5 0h1m1 0h1m6 0h1m10 0h1m2 0h1m44 0h1m-117 1h1m10 0h2m29 0h1m33 0h1m17 0h2m-100 1h2m18 0h1m10 0h1m46 0h1m-73 1h1m35 0h1m3 0h1m6 0h1m1 0h2m43 0h1m-109 1h1m27 0h1m1 0h1m24 0h1m31 0h1m-87 1h2m4 0h1m1 0h1m21 0h1m6 0h1m16 0h1m25 0h2m5 0h1m-81 1h1m5 0h1m17 0h1m2 0h1m19 0h1m17 0h1m7 0h2m1 0h1m3 0h1m19 0h1m3 0h1m-101 1h1m16 0h1m60 0h1m6 0h1m-98 1h1m13 0h1m63 0h1m5 0h1m1 0h1m-85 1h1m5 0h2m5 0h1m55 0h1m13 0h1m2 0h1m2 0h1m-94 1h1m2 0h1m3 0h1m10 0h1m54 0h1m10 0h1m8 0h1m3 0h1m1 0h1m8 0h1m-110 1h1m1 0h1m15 0h1m64 0h1m7 0h1m1 0h1m-86 1h1m1 0h1m21 0h1m67 0h1m11 0h1m-106 1h1m44 0h1m41 0h1m5 0h2m-83 1h2m50 0h2m9 0h1m1 0h1m3 0h1m11 0h1m-69 1h1m35 0h1m17 0h1m6 0h1m-85 1h1m9 0h1m13 0h1m6 0h1m3 0h1m23 0h2m12 0h1m-78 1h1m1 0h1m13 0h1m15 0h1m6 0h1m30 0h1m16 0h1m-86 1h1m14 0h1m22 0h1m1 0h1m13 0h1m19 0h1m3 0h1m7 0h1m-62 1h2m9 0h1m13 0h1m10 0h1m3 0h1m5 0h1m1 0h2m6 0h1m4 0h1m-72 1h1m19 0h1m20 0h2m9 0h1m8 0h2m2 0h1m-61 1h1m11 0h1m16 0h1m8 0h1m4 0h1m1 0h1m11 0h1m4 0h1m-55 2h1m8 1h1m-23 3h1m1 1h2"/>
<path stroke="#95D840" d="M163 9h1m23 2h1m-30 1h1m-6 1h1m1 0h1m-4 1h1m8 1h1m-13 1h1m28 0h1m1 0h1m-22 1h1m5 0h1m8 0h1m-17 1h2m0 1h1m-17 2h1m29 1h1m9 1h1m-14 1h1m2 0h1m-37 1h1m25 0h1m-19 1h1m7 1h1m4 0h1m10 0h2m11 0h2m-49 1h1m43 0h2m-31 1h1m1 0h1m13 0h1m2 0h1m-18 1h1m2 0h2m8 0h2m2 0h1m-12 1h1m-10 1h1m13 0h1m15 0h1m-47 1h1m5 0h1m2 0h1m9 0h1m15 0h1m6 0h1m-36 1h1m7 0h1m1 0h1m20 0h1m1 0h2m-10 1h1m2 0h2m1 0h1m5 1h1m2 0h1m-41 1h1m39 0h1m7 0h1m-63 1h1m31 0h1m9 0h1m-30 1h1m33 0h1m-11 1h1m1 0h1m2 0h1m4 0h1m-36 1h1m26 0h1m-44 1h1m8 0h1m14 0h1m16 0h1m1 0h1m-37 1h1m1 0h1m10 0h2m4 0h1m-27 1h1m9 0h1m1 0h1m2 0h1m1 0h1m6 0h1m-16 1h1m1 0h1m9 0h1m-9 1h1m6 0h1m5 0h1m-24 1h1m11 0h1m3 1h1m52 0h1m-64 1h1m7 0h1m-16 1h3m1 0h3m-9 1h2m2 0h1m2 0h1m8 0h1m-25 1h1m65 0h1m-53 1h1m6 0h1m43 0h1m2 0h1m-73 1h2m7 0h1m3 0h1m3 0h1m9 0h2m45 0h1m-76 1h2m13 0h1m9 0h1m-25 1h1m5 0h2m4 0h2m8 0h3m3 0h1m-31 1h1m3 0h1m1 0h1m5 0h1m3 0h1m5 0h1m3 0h1m43 0h1m-56 1h1m5 0h1m7 0h1m42 0h1m-64 1h1m1 0h2m11 0h2m-14 1h1m6 0h1m4 0h1m3 0h1m-18 1h2m6 0h1m-29 1h1m14 0h1m7 0h1m9 0h1m-35 1h1m2 0h1m8 0h1m6 0h1m3 0h1m13 0h1m-21 1h1m6 0h1m5 0h1m-9 1h2m1 0h1m1 0h1m5 0h1m2 0h1m-19 1h2m14 0h1m3 0h1m5 0h1m55 0h2m-85 1h1m8 0h1m5 0h1m7 0h1m-24 1h1m3 0h1m9 0h1m11 0h1m54 0h1m-98 1h1m19 0h1m3 0h1m2 0h1m3 0h1m1 0h2m2 0h1m-33 1h1m2 0h1m8 0h1m8 0h1m6 0h2m3 0h1m61 0h1m-79 1h1m6 0h3m2 0h1m55 0h3m1 0h1m3 0h1m1 0h1m-98 1h1m9 0h1m3 0h1m1 0h1m4 0h1m1 0h1m8 0h1m6 0h1m52 0h1m-89 1h1m2 0h1m4 0h1m7 0h1m5 0h1m3 0h1m8 0h1m40 0h1m6 0h1m2 0h1m2 0h1m-103 1h1m21 0h1m1 0h1m14 0h1m6 0h1m2 0h1m49 0h1m4 0h1m-104 1h1m24 0h2m9 0h1m10 0h1m40 0h1m13 0h2m-84 1h1m17 0h1m58 0h2m3 0h1m2 0h1m-106 1h1m28 0h1m4 0h1m18 0h1m-48 1h1m22 0h1m68 0h1m-86 1h1m8 0h1m4 0h1m4 0h1m56 0h1m7 0h1m2 0h1m-91 1h1m8 0h1m13 0h3m10 0h1m5 0h1m-58 1h1m12 0h1m2 0h1m16 0h1m17 0h1m8 0h1m33 0h1m1 0h1m-90 1h1m5 0h1m11 0h1m6 0h1m-23 1h1m24 0h1m5 0h1m55 0h1m-116 1h1m26 0h1m16 0h1m10 0h1m1 0h1m5 0h1m11 0h1m39 0h1m2 0h1m-75 1h1m-43 1h1m29 0h1m4 0h1m4 0h2m8 0h1m1 0h1m9 0h1m-26 1h1m7 0h1m5 0h1m9 0h1m-36 1h1m9 0h1m4 0h1m6 0h1m-45 1h1m20 0h1m11 0h1m5 0h1m-40 1h1m35 0h1m5 0h1m2 0h1m-29 1h1m10 0h1m2 0h1m6 0h1m4 0h1m-42 1h1m12 0h2m1 0h2m21 0h1m2 0h1m-97 1h1m85 0h1m1 0h1m2 0h1m-28 1h1m7 0h1m1 0h1m15 0h1m2 0h1m3 0h1m-20 1h1m6 0h1m-29 1h1m8 0h1m10 0h1m7 0h1m-10 1h1m8 0h2m4 0h1m-33 1h1m1 0h1m-2 1h1m17 0h1m2 0h1m4 0h2m4 0h1m-17 1h1m1 0h1m13 0h1m-18 1h1m7 0h1m4 0h1m1 0h1m1 0h1m-8 1h1m-4 1h1m-6 1h1m14 0h1m3 0h1m-16 1h1m12 0h1m-8 1h1m1 0h1m3 0h1m-10 1h1m-83 1h1m73 0h1m6 0h1m5 0h2m6 0h1m-22 1h1m3 0h1m4 0h2m5 0h1m46 0h1m-59 1h1m3 0h1m4 0h1m3 0h1m-16 1h1m16 0h1m35 0h2m9 0h1m-93 1h1m14 0h1m9 0h1m4 0h1m5 0h1m-64 1h1m2 0h1m54 0h1m11 0h1m20 0h1m4 0h1m21 0h1m-82 1h1m33 0h3m33 0h1m-75 1h2m28 0h1m2 0h1m6 0h1m37 0h1m-47 1h1m1 0h1m1 0h1m24 0h1m9 0h2m-108 1h1m52 0h1m18 0h1m35 0h1m-114 1h1m6 0h1m31 0h1m19 0h1m16 0h1m4 0h2m-41 1h1m32 0h1m41 0h2m-109 1h1m1 0h1m18 0h1m8 0h1m38 0h1m25 0h1m6 0h1m4 0h1m-126 1h1m1 0h1m18 0h1m16 0h1m15 0h1m9 0h2m17 0h1m3 0h1m18 0h1m4 0h1m1 0h1m-108 1h1m48 0h1m9 0h1m46 0h1m2 0h1m-116 1h1m110 0h1m17 0h1m-134 1h2m3 0h2m18 0h2m11 0h1m17 0h1m5 0h1m68 0h1m3 0h1m-130 1h1m2 0h1m15 0h3m52 0h1m1 0h3m9 0h1m36 0h1m-107 1h1m36 0h1m12 0h1m6 0h1m8 0h1m14 0h1m13 0h1m4 0h1m-122 1h1m23 0h1m23 0h1m11 0h1m13 0h1m11 0h1m26 0h1m-90 1h1m25 0h1m7 0h3m18 0h1m2 0h1m-62 1h2m20 0h1m10 0h1m20 0h2m3 0h1m3 0h1m16 0h1m4 0h1m5 0h1m-113 1h1m21 0h3m22 0h1m6 0h1m22 0h1m-76 1h1m48 0h1m19 0h1m4 0h1m7 0h1m1 0h1m14 0h1m-100 1h1m5 0h1m67 0h1m25 0h1m1 0h1m-105 1h1m9 0h1m12 0h1m4 0h1m49 0h1m3 0h1m3 0h1m20 0h1m-82 1h1m1 0h1m48 0h1m2 0h1m20 0h1m-101 1h1m5 0h2m20 0h1m53 0h1m6 0h1m2 0h1m1 0h1m6 0h1m-100 1h1m1 0h1m80 0h1m12 0h1m-12 1h1m19 0h1m-101 1h1m56 0h1m31 0h1m-85 1h1m12 0h1m16 0h1m33 0h2m6 0h2m6 0h1m-94 1h1m1 0h1m5 0h1m38 0h1m15 0h1m24 0h1m3 0h1m2 0h1m2 0h1m-101 1h1m2 0h1m1 0h1m15 0h1m33 0h1m3 0h1m5 0h1m1 0h1m16 0h1m-83 1h1m6 0h1m12 0h1m18 0h1m28 0h1m-69 1h1m6 0h1m15 0h1m4 0h2m4 0h1m7 0h1m30 0h1m7 0h1m-77 1h1m11 0h1m14 0h2m2 0h1m17 0h1m6 0h1m5 0h1m2 0h1m1 0h1m8 0h1m-58 1h1m7 0h1m22 0h1m17 0h1m4 0h1m-45 1h1m17 0h1m3 0h1m10 0h1m5 0h1m2 0h1m8 0h1m-67 1h2m2 0h2m6 0h1m8 0h1m10 0h1m25 0h1m-59 1h1m1 0h2m1 0h1m27 0h3m10 0h1m17 0h1m-64 1h1m4 0h1m4 0h1m3 0h1m1 1h1m2 0h1m-19 3h1m1 1h2m-5 1h1m1 0h1m-6 1h1m1 1h1"/>
<path stroke="#B5DE2B" d="M168 8h1m-7 1h1m23 1h1m-34 4h1m12 1h1m-6 1h1m20 0h1m-17 1h1m8 0h1m5 1h1m-10 1h1m5 0h1m-20 1h1m17 0h1m-35 1h1m16 0h1m21 0h1m-8 1h1m6 0h1m-26 1h1m25 0h1m-46 1h1m33 0h1m5 1h1m2 0h1m4 0h1m-46 2h1m2 0h1m17 0h1m5 0h1m10 0h2m1 0h1m2 0h1m-41 1h2m1 0h1m2 0h1m5 0h3m8 0h1m3 0h1m-37 1h1m7 0h1m7 0h1m4 0h3m1 0h1m-18 1h2m5 0h1m2 0h1m4 0h1m2 0h1m1 0h1m3 0h1m9 0h1m-24 1h1m8 0h1m-26 1h1m13 0h1m1 0h1m21 0h1m-29 1h2m4 0h1m7 0h1m11 0h1m1 0h2m-31 1h1m9 0h1m4 0h1m4 0h1m1 0h1m5 0h1m1 0h1m2 0h1m-41 1h1m1 0h2m8 0h1m2 0h1m5 0h2m9 0h1m3 0h1m4 0h1m-27 1h1m16 0h1m3 0h1m4 0h2m4 0h1m-49 1h1m1 0h1m15 0h2m-19 1h1m24 0h1m-18 1h1m9 0h1m19 0h1m-32 1h1m1 0h1m14 0h1m2 0h1m2 0h1m-28 1h2m4 0h1m20 0h1m7 0h1m-30 1h1m11 0h2m-24 1h1m4 0h2m3 0h1m36 0h1m-58 1h1m11 0h1m-14 1h1m18 0h1m-14 1h1m7 1h1m4 0h1m1 0h1m39 0h1m2 0h1m-45 1h1m-20 1h1m11 0h1m2 0h1m2 0h1m-12 1h1m9 0h1m-27 1h1m3 0h1m-6 1h1m7 0h2m3 0h1m2 0h2m-27 1h1m9 0h1m6 0h1m3 0h1m52 0h1m-71 1h1m9 0h2m50 0h1m5 0h1m-63 1h1m1 0h2m-5 1h1m1 0h1m9 0h1m5 0h1m40 0h2m-62 1h1m2 0h1m5 0h1m49 0h1m-71 1h1m2 0h1m6 0h1m4 0h1m8 0h1m2 0h1m1 0h1m-13 1h1m55 1h1m-72 1h1m14 0h1m10 0h1m44 0h1m-63 1h1m6 0h1m-27 1h2m2 0h1m12 0h1m2 0h1m4 0h1m12 0h1m-34 1h1m11 0h1m7 0h2m4 0h1m7 0h1m-12 1h1m2 0h1m10 0h1m57 0h1m-90 1h1m24 0h1m3 0h1m-22 1h1m12 0h1m7 0h2m1 0h1m40 0h1m12 0h1m2 0h2m-84 1h1m4 0h1m15 0h1m-26 1h1m10 0h1m3 0h1m9 0h1m58 0h1m1 0h1m-103 1h1m29 0h1m7 0h1m2 0h1m49 0h1m7 0h1m-100 1h1m22 0h1m16 0h3m6 0h1m37 0h2m-87 1h1m5 0h1m27 0h1m2 0h1m9 0h1m37 0h1m6 0h1m-90 1h1m4 0h1m4 0h1m18 0h1m10 0h1m1 0h1m39 0h1m14 0h1m-91 1h1m1 0h1m1 0h1m4 0h1m2 0h1m12 0h1m3 0h1m-23 1h1m4 0h1m1 0h1m8 0h1m2 0h1m1 0h2m4 0h1m41 0h1m7 0h1m-101 1h1m35 0h1m5 0h1m2 0h2m4 0h1m41 0h1m3 0h1m4 0h1m-80 1h1m13 0h1m12 0h1m44 0h2m6 0h1m-98 1h1m26 0h1m5 0h1m4 0h1m11 0h1m33 0h1m1 0h1m3 0h1m5 0h1m-84 1h1m5 0h1m5 0h1m5 0h1m4 0h1m61 0h1m-97 1h1m4 0h1m15 0h3m14 0h1m2 0h1m6 0h1m44 0h2m-92 1h1m1 0h1m3 0h1m6 0h1m2 0h1m5 0h1m2 0h1m9 0h1m1 0h1m48 0h1m-75 1h1m2 0h1m6 0h1m1 0h1m5 0h1m1 0h1m4 0h1m43 0h1m5 0h1m-76 1h2m13 0h1m9 0h1m43 0h1m1 0h1m-74 1h1m7 0h1m6 0h1m3 0h1m13 0h1m42 0h1m1 0h1m-92 1h1m12 0h1m11 0h1m9 0h1m1 0h1m5 0h1m-46 1h1m1 0h1m14 0h1m7 0h1m1 0h1m67 0h1m-82 1h1m1 0h1m4 0h1m1 0h1m3 0h1m58 0h1m-71 1h1m-25 1h1m26 0h1m22 0h1m-46 1h1m-19 1h1m19 0h1m11 0h1m2 0h2m2 0h1m-24 1h1m-4 1h1m16 0h1m3 0h1m1 0h1m2 0h2m-9 1h1m7 1h1m3 0h1m1 1h1m-42 1h1m3 0h1m21 0h1m0 1h1m6 0h1m1 0h1m3 0h2m-21 1h1m14 0h1m3 0h1m-20 1h1m1 1h1m7 0h1m-14 1h1m11 1h1m1 1h2m3 0h1m2 0h1m-13 1h1m5 0h1m-1 1h1m4 0h1m-12 1h2m3 0h2m52 0h1m-4 1h1m-59 1h1m9 0h1m16 0h1m33 0h1m-144 1h1m84 0h1m5 0h1m4 0h1m15 0h1m16 0h1m3 0h1m8 0h2m-119 1h1m41 0h1m1 0h1m9 0h1m1 0h1m6 0h1m7 0h1m19 0h1m18 0h2m2 0h1m3 0h1m-66 1h1m8 0h1m9 0h1m13 0h1m10 0h1m5 0h1m1 0h1m5 0h1m3 0h1m2 0h1m1 0h1m-92 1h1m30 0h1m1 0h1m3 0h1m25 0h1m1 0h1m3 0h2m4 0h1m13 0h2m-56 1h1m19 0h1m2 0h1m2 0h1m1 0h1m12 0h1m1 0h2m-47 1h1m2 0h2m1 0h1m22 0h1m-65 1h1m5 0h1m26 0h2m7 0h1m25 0h1m14 0h1m-118 1h1m69 0h1m2 0h1m33 0h1m5 0h3m-120 1h1m6 0h1m67 0h2m3 0h1m17 0h1m5 0h1m14 0h1m8 0h2m-121 1h1m90 0h1m2 0h1m16 0h2m1 0h1m-124 1h1m11 0h1m65 0h2m20 0h1m9 0h1m15 0h1m-127 1h1m18 0h1m21 0h1m6 0h2m1 0h1m16 0h1m26 0h1m1 0h1m12 0h1m11 0h1m-131 1h1m50 0h1m24 0h1m6 0h1m2 0h3m19 0h1m15 0h1m3 0h1m3 0h1m1 0h1m-137 1h1m7 0h1m15 0h1m81 0h2m3 0h2m18 0h1m2 0h2m-127 1h1m74 0h1m1 0h1m2 0h1m1 0h2m19 0h1m5 0h1m-108 1h1m48 0h1m25 0h1m44 0h1m-122 1h3m9 0h1m2 0h1m29 0h1m8 0h1m24 0h1m39 0h1m1 0h1m-132 1h1m112 0h1m3 0h1m4 0h1m-111 1h2m12 0h1m75 0h1m3 0h1m18 0h2m-121 1h1m1 0h1m18 0h1m20 0h1m7 0h1m23 0h2m4 0h1m2 0h1m11 0h1m4 0h1m3 0h1m-102 1h1m2 0h1m40 0h1m2 0h1m3 0h1m17 0h2m1 0h1m4 0h1m2 0h1m13 0h1m10 0h2m-105 1h1m1 0h1m15 0h1m22 0h1m24 0h2m6 0h1m20 0h1m8 0h1m7 0h2m-112 1h1m14 0h2m59 0h1m4 0h1m23 0h1m-37 1h1m1 0h1m2 0h1m4 0h2m6 0h1m-100 1h1m5 0h3m78 0h1m-89 1h1m2 0h1m9 0h1m80 0h1m2 0h1m23 0h1m-120 1h1m28 0h1m37 0h1m24 0h1m10 0h1m5 0h1m-112 1h1m9 0h1m5 0h1m13 0h1m45 0h1m16 0h1m15 0h1m-96 1h2m76 0h1m-93 1h1m1 0h2m22 0h1m40 0h1m17 0h1m1 0h1m2 0h1m1 0h2m-92 1h1m5 0h1m9 0h1m30 0h1m7 0h1m22 0h1m1 0h1m4 0h2m-86 1h1m3 0h1m9 0h1m7 0h1m26 0h1m6 0h1m28 0h1m-82 1h2m6 0h1m1 0h1m20 0h1m24 0h1m21 0h1m-63 1h1m4 0h1m4 0h1m13 0h1m20 0h1m19 0h1m-78 1h2m1 0h1m3 0h1m11 0h1m1 0h2m12 0h1m18 0h1m3 0h1m1 0h1m16 0h1m-70 1h1m25 0h1m1 0h1m5 0h1m9 0h1m3 0h2m4 0h1m13 0h1m-66 1h1m3 0h1m15 0h1m2 0h1m16 0h2m18 0h1m4 0h1m-58 1h1m16 0h1m10 0h1m12 0h2m2 0h1m8 0h1m2 0h1m-55 1h1m20 0h1m14 0h4m6 0h1m4 0h1m-55 1h2m9 0h2m1 0h1m-13 1h1m7 1h1m-16 1h1m-3 1h1m-5 1h1m-2 1h1m7 0h1m-9 1h1m3 0h2m1 0h1m-7 1h1m3 0h1m-5 1h1"/>
<path stroke="#D2E21B" d="M151 14h1m13 2h1m5 0h1m9 0h1m-15 1h1m7 1h1m-31 2h1m28 1h1m6 0h1m-42 2h1m31 0h1m2 0h1m4 0h1m-5 1h1m-6 1h1m4 0h1m-5 1h2m3 0h5m4 0h1m-51 1h1m19 0h1m17 0h1m2 0h1m3 0h1m4 0h1m-38 1h2m2 0h1m2 0h1m6 0h1m9 0h2m-27 1h1m7 0h1m3 0h1m2 0h1m7 0h1m7 0h1m-30 1h1m10 0h1m17 0h1m-34 1h1m3 0h1m1 0h1m3 0h1m6 0h1m1 0h2m2 0h1m2 0h1m-21 1h1m13 0h2m5 0h1m-28 1h1m23 0h1m-24 1h1m5 0h1m10 0h2m7 0h1m8 0h2m-37 1h1m9 0h1m1 0h1m8 0h1m-9 1h1m7 0h1m5 0h1m8 1h1m-42 1h1m15 0h1m1 0h1m15 0h1m-36 1h1m6 0h1m2 0h1m21 0h1m6 0h1m1 0h1m-58 1h1m15 0h1m4 0h1m2 0h1m17 0h1m4 0h2m2 0h2m1 0h1m10 0h1m-48 1h1m3 0h1m1 0h1m17 0h1m6 0h1m1 0h1m-33 1h2m5 0h1m-15 1h1m9 0h1m21 0h1m16 0h1m-63 1h2m8 0h1m9 0h2m4 0h1m-27 1h1m15 0h1m6 0h1m-23 1h1m13 0h1m1 0h1m5 0h2m1 0h1m-6 1h1m43 0h1m4 0h1m-58 1h1m3 0h1m1 0h2m14 0h1m-29 1h1m7 0h1m3 0h1m2 0h2m49 0h1m-57 1h1m46 0h1m-72 1h1m11 0h1m1 0h1m51 0h1m-61 1h1m56 0h1m1 0h1m1 0h1m-50 1h1m43 0h1m1 0h2m-61 1h1m9 0h1m15 0h1m30 0h2m-43 1h1m41 0h1m2 0h1m-63 1h1m55 0h1m5 0h1m1 0h1m-68 1h1m11 0h1m5 0h2m46 0h1m-76 1h1m18 0h1m-21 1h2m1 0h1m14 0h2m50 0h2m-69 1h1m13 0h1m8 0h1m3 0h1m43 0h1m-76 1h1m4 0h1m9 0h1m4 0h1m5 0h2m45 0h1m1 0h1m-58 1h1m11 0h1m1 0h2m-20 1h1m8 0h1m1 0h1m11 0h1m-46 1h1m33 0h1m9 0h1m34 0h1m-79 1h1m10 0h1m4 0h1m8 0h1m8 0h1m8 0h1m-24 1h2m1 0h1m4 0h1m1 0h2m6 0h1m2 0h1m2 0h1m5 0h1m33 0h1m17 0h1m-81 1h1m4 0h1m1 0h1m6 0h1m5 0h1m8 0h1m50 0h1m-82 1h1m2 0h1m10 0h1m2 0h1m7 0h1m39 0h1m12 0h1m1 0h1m1 0h1m-69 1h1m2 0h1m45 0h1m2 0h1m15 0h1m-83 1h1m1 0h3m5 0h1m14 0h1m39 0h1m11 0h2m-77 1h1m9 0h1m11 0h1m50 0h1m5 0h1m-96 1h1m3 0h1m6 0h1m3 0h2m9 0h1m2 0h1m1 0h1m2 0h1m4 0h1m44 0h1m-92 1h1m4 0h1m8 0h1m2 0h2m2 0h1m2 0h1m10 0h1m1 0h1m2 0h1m43 0h1m1 0h1m4 0h1m10 0h1m-108 1h1m10 0h1m1 0h1m4 0h1m16 0h1m1 0h1m3 0h1m5 0h1m-32 1h1m4 0h1m10 0h1m1 0h1m7 0h1m8 0h1m1 0h1m50 0h1m-84 1h1m1 0h1m2 0h3m17 0h1m1 0h2m4 0h1m33 0h1m2 0h1m3 0h1m7 0h1m-90 1h1m4 0h1m4 0h1m10 0h1m5 0h3m6 0h1m47 0h1m2 0h1m2 0h1m-86 1h1m5 0h1m1 0h1m2 0h1m2 0h1m3 0h1m6 0h1m3 0h2m1 0h1m1 0h1m33 0h1m-86 1h1m37 0h1m7 0h1m4 0h1m41 0h1m-74 1h2m12 0h2m11 0h1m3 0h1m42 0h1m-63 1h1m1 0h1m1 0h2m4 0h1m5 0h1m2 0h1m34 0h1m3 0h1m-75 1h2m6 0h1m1 0h1m6 0h1m7 0h1m1 0h1m2 0h1m1 0h3m35 0h1m4 0h1m2 0h1m-70 1h1m3 0h3m1 0h1m3 0h2m1 0h1m8 0h2m35 0h1m1 0h1m3 0h3m-78 1h1m11 0h1m6 0h1m2 0h1m2 0h1m3 0h1m-18 1h1m3 0h3m3 0h1m10 0h1m33 0h1m2 0h1m3 0h1m2 0h3m-72 1h2m17 0h1m2 0h1m40 0h1m7 0h1m-82 1h1m5 0h1m9 0h1m-17 1h1m11 0h1m3 0h1m4 0h1m3 0h2m4 0h1m30 1h1m-50 1h1m8 0h1m-37 1h1m9 0h1m29 0h1m-25 1h1m1 0h1m4 0h1m2 0h1m-45 1h1m9 0h1m2 0h1m28 0h1m51 0h1m-83 1h1m17 0h1m2 0h1m4 0h1m2 0h1m-22 1h1m11 0h1m3 0h1m1 0h1m2 0h1m4 0h1m-14 1h1m6 0h3m3 0h1m6 0h1m44 0h1m-84 1h1m22 0h1m13 0h1m54 0h1m-89 2h1m1 0h1m1 0h1m17 0h1m-8 1h1m8 0h1m-12 1h1m6 0h4m-18 1h1m1 0h1m13 0h2m8 0h1m-27 1h2m4 0h1m7 0h2m1 0h1m1 0h1m-5 1h1m2 0h1m-9 1h1m1 0h1m3 0h1m49 0h1m-61 1h1m56 0h1m1 0h3m-54 1h2m33 0h1m4 0h1m7 0h1m10 0h1m-43 1h1m17 0h1m3 0h2m11 0h1m-34 1h1m17 0h1m1 0h1m-50 1h1m8 0h1m2 0h1m17 0h1m3 0h1m7 0h1m2 0h1m12 0h1m1 0h1m2 0h2m-66 1h1m5 0h1m11 0h1m16 0h1m1 0h1m5 0h2m1 0h1m1 0h1m3 0h1m5 0h1m-62 1h1m3 0h1m7 0h1m1 0h1m31 0h3m1 0h1m1 0h1m1 0h1m7 0h1m-50 1h1m2 0h1m15 0h1m5 0h1m5 0h1m8 0h1m-43 1h1m3 0h1m3 0h1m14 0h1m4 0h1m1 0h2m1 0h1m2 0h1m6 0h1m2 0h1m3 0h1m3 0h2m2 0h1m-58 1h1m2 0h1m20 0h1m1 0h1m2 0h1m6 0h2m2 0h1m-74 1h1m35 0h1m21 0h1m4 0h1m5 0h1m5 0h2m1 0h1m-52 1h1m12 0h1m17 0h1m1 0h1m2 0h1m7 0h1m7 0h1m4 0h1m-64 1h1m35 0h1m1 0h1m4 0h1m4 0h1m8 0h1m-120 1h1m66 0h1m14 0h2m5 0h1m4 0h2m8 0h1m7 0h1m3 0h1m4 0h1m3 0h1m-59 1h1m25 0h1m2 0h2m4 0h1m1 0h1m2 0h2m2 0h1m1 0h2m1 0h1m6 0h2m-130 1h1m14 0h1m48 0h1m14 0h1m1 0h1m1 0h1m1 0h2m10 0h1m9 0h1m4 0h1m10 0h2m-125 1h1m1 0h1m48 0h1m50 0h1m23 0h1m4 0h1m-134 1h1m1 0h2m2 0h2m11 0h1m60 0h1m1 0h1m4 0h1m10 0h2m1 0h1m4 0h1m2 0h1m3 0h3m2 0h1m5 0h2m-124 1h1m83 0h1m22 0h3m5 0h1m2 0h1m7 0h1m-20 1h1m7 0h2m5 0h2m-129 1h1m86 0h1m15 0h1m7 0h1m7 0h1m1 0h1m-122 1h1m11 0h1m12 0h1m58 0h1m1 0h1m22 0h1m9 0h1m3 0h2m1 0h1m-121 1h1m3 0h1m42 0h1m33 0h1m11 0h1m2 0h1m11 0h1m1 0h1m-114 1h1m8 0h1m39 0h1m34 0h1m2 0h1m24 0h1m1 0h1m2 0h1m3 0h1m-122 1h1m1 0h2m5 0h1m35 0h1m1 0h2m1 0h1m30 0h1m2 0h1m2 0h1m9 0h2m2 0h1m2 0h1m4 0h1m8 0h1m-109 1h1m12 0h2m24 0h1m30 0h1m1 0h1m4 0h1m1 0h1m2 0h1m16 0h1m-83 1h1m59 0h2m17 0h1m5 0h1m2 0h1m-111 1h2m3 0h1m80 0h1m7 0h1m1 0h1m2 0h1m-106 1h1m29 0h1m57 0h1m1 0h1m8 0h2m3 0h2m8 0h1m3 0h2m-125 1h1m93 0h1m9 0h1m4 0h1m-111 1h1m13 0h2m1 0h2m70 0h1m20 0h1m2 0h1m1 0h2m4 0h1m-16 1h1m3 0h2m-107 1h1m88 0h1m1 0h1m9 0h1m4 0h1m-111 1h2m6 0h1m1 0h2m1 0h1m96 0h2m-112 1h1m7 0h2m1 0h2m3 0h1m32 0h2m18 0h1m15 0h1m5 0h1m2 0h1m16 0h1m2 0h1m-101 1h1m5 0h1m22 0h1m2 0h1m33 0h1m7 0h2m-83 1h1m3 0h1m1 0h1m6 0h2m4 0h2m3 0h1m16 0h1m41 0h1m2 0h1m-83 1h1m1 0h1m1 0h1m11 0h1m3 0h1m8 0h2m12 0h1m4 0h2m4 0h1m3 0h1m19 0h1m2 0h1m-88 1h1m2 0h2m1 0h1m7 0h1m3 0h1m9 0h1m17 0h1m2 0h1m1 0h1m1 0h1m4 0h1m21 0h1m2 0h2m1 0h1m2 0h1m-84 1h2m35 0h1m5 0h1m6 0h2m1 0h1m3 0h1m3 0h3m1 0h1m9 0h1m1 0h1m4 0h1m-90 1h1m17 0h1m3 0h1m2 0h1m24 0h1m3 0h2m6 0h1m1 0h1m6 0h1m3 0h2m7 0h1m-70 1h1m2 0h1m10 0h1m20 0h1m12 0h2m21 0h1m1 0h1m-54 1h1m14 0h1m8 0h1m1 0h2m1 0h1m9 0h1m11 0h1m-67 1h1m4 0h1m1 0h1m6 1h1m3 0h1m-23 2h1m7 0h1m15 0h1m-25 1h1m6 0h1m-7 2h1"/>
<path stroke="#E5E419" d="M187 10h1m-38 5h1m25 1h1m2 0h1m0 1h1m-7 2h1m6 0h1m-8 1h2m4 0h2m-5 1h2m-2 1h3m-19 1h1m11 0h1m-1 1h1m4 0h3m1 0h1m2 0h1m-9 1h1m1 0h1m2 0h1m1 1h1m-13 1h2m1 0h1m-16 1h3m15 0h2m-33 1h1m1 0h1m24 0h1m-34 1h1m30 0h1m1 0h2m1 0h1m-33 1h1m1 0h1m12 0h1m1 0h1m10 0h1m1 0h1m1 0h3m-38 1h1m2 0h1m8 0h1m6 0h1m9 0h1m4 0h1m2 0h1m-38 1h1m1 0h1m3 0h1m3 0h1m1 0h1m6 0h1m11 0h1m5 0h2m-38 1h1m1 0h1m4 0h1m5 0h1m3 0h1m1 0h1m8 0h1m-21 1h2m1 0h1m3 0h1m25 0h1m1 0h1m-44 1h2m2 0h1m3 0h1m5 0h1m17 0h1m-29 1h3m32 0h1m5 0h1m-41 1h3m30 0h1m2 0h1m4 0h1m-45 1h1m1 0h1m9 0h1m32 0h1m-49 1h2m3 0h1m3 0h2m5 0h1m11 0h1m9 0h2m-42 1h1m1 0h1m3 0h1m1 0h1m2 0h1m9 0h1m6 0h2m2 0h2m1 0h1m1 0h1m-41 1h1m23 0h1m7 0h1m4 0h1m1 0h1m11 0h1m-27 1h1m3 0h1m-35 1h1m53 0h1m-51 1h1m4 0h1m8 0h3m-20 1h1m12 0h1m4 0h1m-30 1h1m2 0h1m23 0h1m31 0h1m6 0h1m2 0h2m-42 1h1m4 0h1m13 0h1m19 0h1m3 0h1m-71 1h1m13 0h1m41 0h1m15 0h1m-76 1h1m11 0h1m2 0h1m2 0h2m1 0h1m1 0h1m1 0h1m1 0h2m5 0h2m21 0h1m6 0h1m-71 1h1m3 0h1m2 0h1m12 0h1m2 0h1m1 0h2m22 0h2m10 0h2m1 0h1m1 0h1m4 0h1m9 0h1m-79 1h1m2 0h2m4 0h1m10 0h2m14 0h1m10 0h2m16 0h1m1 0h1m-74 1h1m13 0h1m19 0h1m3 0h1m2 0h1m11 0h1m10 0h2m-51 1h1m1 0h1m4 0h1m41 0h1m4 0h1m-67 1h1m6 0h1m3 0h2m2 0h1m5 0h1m11 0h1m28 0h2m2 0h1m2 0h3m-72 1h1m3 0h1m8 0h1m2 0h1m4 0h2m46 0h1m-58 1h1m1 0h1m10 0h1m7 0h1m24 0h1m6 0h1m1 0h1m-63 1h1m1 0h1m13 0h1m3 0h1m3 0h1m1 0h1m30 0h2m-67 1h1m9 1h1m1 0h1m2 0h1m2 0h1m4 0h1m3 0h1m5 0h1m1 0h2m12 0h1m17 0h2m-77 1h1m18 0h1m11 0h1m1 0h3m1 0h1m1 0h1m15 0h1m10 0h1m-69 1h1m17 0h1m1 0h1m6 0h1m4 0h3m24 0h1m14 0h1m2 0h1m1 0h2m-44 1h1m6 0h1m35 0h1m-45 1h1m2 0h2m1 0h1m2 0h1m33 0h1m1 0h1m14 0h1m-66 1h1m3 0h1m1 0h1m1 0h1m2 0h1m15 0h1m36 0h1m1 0h1m2 0h1m-76 1h1m6 0h2m6 0h1m2 0h4m48 0h2m2 0h1m-82 1h2m13 0h1m1 0h2m7 0h3m5 0h1m28 0h1m21 0h1m-100 1h1m5 0h1m20 0h1m3 0h1m2 0h1m2 0h1m5 0h2m33 0h2m14 0h1m6 0h1m-68 1h1m1 0h1m2 0h1m1 0h2m9 0h1m26 0h1m15 0h2m1 0h1m-61 1h1m3 0h1m34 0h1m18 0h1m1 0h2m-64 1h1m5 0h1m4 0h1m10 0h1m17 0h3m4 0h1m-51 1h1m3 0h3m2 0h1m2 0h1m14 0h1m19 0h1m2 0h2m12 0h1m-66 1h1m5 0h1m2 0h1m3 0h1m27 0h1m19 0h1m-79 1h1m15 0h2m6 0h2m10 0h2m20 0h1m2 0h2m3 0h1m12 0h2m-67 1h1m4 0h2m3 0h1m1 0h1m1 0h1m31 0h1m2 0h1m7 0h1m8 0h1m-73 1h1m5 0h1m1 0h1m4 0h1m3 0h3m2 0h1m32 0h1m16 0h2m-109 1h1m1 0h1m23 0h2m3 0h1m7 0h3m5 0h3m2 0h2m1 0h1m22 0h1m8 0h1m4 0h2m7 0h1m4 0h1m-84 1h1m1 0h1m3 0h1m5 0h1m4 0h1m2 0h1m4 0h1m2 0h1m3 0h1m14 0h1m15 0h1m4 0h1m1 0h1m1 0h1m-76 1h1m1 0h1m1 0h1m1 0h2m10 0h2m3 0h3m1 0h1m4 0h1m2 0h1m26 0h1m10 0h1m3 0h1m2 0h1m1 0h2m1 0h1m2 0h1m-70 1h2m2 0h1m11 0h1m34 0h1m9 0h1m2 0h1m-79 1h2m14 0h2m7 0h1m2 0h1m4 0h1m14 0h1m20 0h1m1 0h1m2 0h2m1 0h1m1 0h1m-68 1h4m4 0h1m1 0h1m2 0h1m3 0h1m1 0h1m9 0h1m21 0h1m13 0h1m-82 1h1m17 0h1m2 0h1m2 0h1m1 0h1m1 0h2m3 0h1m5 0h1m11 0h1m14 0h1m13 0h1m-59 1h2m3 0h1m1 0h2m40 0h1m2 0h1m4 0h1m3 0h1m-86 1h2m18 0h3m4 0h1m1 0h3m1 0h1m38 0h2m2 0h1m-85 1h1m22 0h4m2 0h1m4 0h2m2 0h1m2 0h2m20 0h1m2 0h2m1 0h1m11 0h1m1 0h1m2 0h2m-69 1h1m4 0h1m3 0h1m3 0h3m1 0h4m37 0h2m6 0h1m-78 1h1m7 0h1m4 0h1m2 0h1m4 0h1m4 0h2m33 0h2m-83 1h1m20 0h1m8 0h2m10 0h1m4 0h1m41 0h1m13 0h2m-72 1h1m9 0h1m1 0h1m2 0h1m1 0h1m-22 1h2m1 0h1m54 0h1m-61 1h1m2 0h1m1 0h2m6 0h1m1 0h1m2 0h2m31 0h1m1 0h3m11 0h1m-97 1h1m29 0h1m2 0h1m2 0h2m9 0h1m33 0h1m-61 1h1m7 0h1m1 0h1m3 0h2m11 0h1m-26 1h1m10 0h1m10 0h1m39 0h1m2 0h1m7 0h1m-69 1h1m55 0h1m-57 1h2m5 0h3m-17 1h1m9 0h1m4 0h1m49 0h1m-67 1h1m2 0h2m3 0h1m3 0h1m7 0h2m2 0h2m-17 1h1m1 0h1m1 0h1m9 0h1m28 0h1m19 0h1m-60 1h1m1 0h1m11 0h1m-21 1h1m1 0h1m4 0h1m4 0h1m2 0h1m5 0h1m45 0h1m-69 1h1m14 0h1m-19 1h1m12 0h1m-22 1h1m18 0h2m8 0h1m20 0h1m1 0h1m-43 1h1m7 0h1m9 0h1m20 0h2m1 0h1m8 0h1m1 0h1m3 0h3m-52 1h1m7 0h1m3 0h1m3 0h1m12 0h1m1 0h1m5 0h1m10 0h1m-38 1h1m2 0h1m14 0h1m10 0h1m5 0h1m-56 1h1m1 0h1m5 0h1m1 0h1m3 0h1m9 0h1m12 0h1m1 0h1m6 0h1m6 0h1m1 0h1m1 0h1m-51 1h2m14 0h1m2 0h1m10 0h1m3 0h1m2 0h2m1 0h3m3 0h1m-56 1h1m4 0h1m10 0h1m1 0h1m4 0h1m9 0h1m1 0h3m4 0h1m1 0h1m3 0h2m10 0h1m1 0h1m2 0h1m-65 1h1m1 0h1m1 0h1m4 0h1m11 0h1m9 0h1m1 0h1m1 0h1m12 0h1m2 0h1m3 0h1m5 0h2m-61 1h1m6 0h5m11 0h2m1 0h1m1 0h1m3 0h1m1 0h1m3 0h3m3 0h1m1 0h1m3 0h1m2 0h2m2 0h1m3 0h1m-76 1h1m15 0h2m5 0h2m11 0h1m2 0h2m5 0h1m2 0h1m2 0h3m6 0h1m4 0h2m-48 1h1m3 0h1m7 0h3m1 0h3m1 0h1m12 0h1m4 0h1m2 0h1m2 0h4m1 0h1m2 0h1m1 0h1m-76 1h1m23 0h1m10 0h1m3 0h1m5 0h1m2 0h1m2 0h1m4 0h2m2 0h1m4 0h1m2 0h5m-62 1h1m1 0h2m2 0h1m6 0h2m6 0h1m6 0h2m3 0h2m1 0h1m1 0h1m14 0h1m1 0h1m1 0h1m-59 1h1m4 0h1m3 0h1m12 0h1m5 0h1m14 0h1m1 0h2m2 0h1m2 0h1m1 0h5m-53 1h1m16 0h1m1 0h1m3 0h1m3 0h1m1 0h1m2 0h1m3 0h2m2 0h2m8 0h1m1 0h1m1 0h1m-55 1h1m7 0h2m7 0h1m14 0h1m3 0h1m8 0h3m4 0h1m-45 1h1m4 0h1m3 0h1m1 0h1m3 0h1m2 0h2m2 0h1m1 0h1m1 0h1m2 0h1m4 0h1m5 0h1m3 0h2m-140 1h1m23 0h1m62 0h1m4 0h2m8 0h1m1 0h1m1 0h3m4 0h1m1 0h1m1 0h1m6 0h2m4 0h1m1 0h1m1 0h1m1 0h1m-135 1h1m20 0h1m37 0h1m18 0h1m12 0h1m16 0h1m5 0h2m6 0h1m6 0h1m2 0h1m-113 1h1m65 0h1m14 0h3m11 0h1m2 0h2m2 0h1m4 0h1m2 0h1m1 0h1m-133 1h1m66 0h1m22 0h1m9 0h1m1 0h1m1 0h1m12 0h2m4 0h2m6 0h1m-131 1h1m2 0h1m20 0h1m65 0h1m8 0h1m11 0h1m1 0h3m5 0h1m1 0h2m3 0h1m-129 1h1m1 0h1m20 0h1m57 0h1m19 0h2m4 0h1m4 0h1m3 0h2m3 0h1m2 0h1m2 0h1m-126 1h1m1 0h1m82 0h1m1 0h1m12 0h2m12 0h2m3 0h2m-122 1h1m8 0h1m13 0h1m70 0h1m7 0h1m1 0h1m15 0h1m-114 1h1m79 0h1m3 0h2m4 0h1m6 0h1m1 0h3m4 0h2m5 0h1m-124 1h1m9 0h1m1 0h1m70 0h1m18 0h2m1 0h1m3 0h1m2 0h1m3 0h2m7 0h1m-126 1h1m79 0h1m12 0h1m2 0h1m1 0h3m5 0h1m2 0h1m1 0h1m2 0h2m7 0h1m-123 1h1m2 0h1m6 0h1m18 0h1m63 0h1m1 0h1m5 0h1m1 0h1m2 0h1m4 0h1m1 0h1m2 0h1m-114 1h3m3 0h1m1 0h2m1 0h1m78 0h3m2 0h2m4 0h1m3 0h1m1 0h1m-113 1h1m1 0h1m10 0h1m15 0h2m70 0h1m3 0h1m8 0h1m-118 1h1m2 0h1m9 0h1m77 0h1m4 0h1m5 0h1m5 0h1m3 0h2m-106 1h1m87 0h1m9 0h1m2 0h2m3 0h1m2 0h3m-121 1h1m4 0h1m2 0h1m2 0h1m1 0h2m3 0h1m90 0h3m3 0h2m-105 1h1m5 0h3m12 0h1m81 0h1m-111 1h1m11 0h1m15 0h1m15 0h1m1 0h1m39 0h1m6 0h2m1 0h1m2 0h1m7 0h1m3 0h1m-112 1h1m20 0h1m23 0h1m4 0h2m39 0h1m13 0h1m1 0h2m-97 1h1m7 0h1m22 0h3m1 0h1m3 0h1m6 0h2m2 0h1m24 0h1m2 0h1m-91 1h1m7 0h1m3 0h1m1 0h1m7 0h1m17 0h1m1 0h2m2 0h1m7 0h1m4 0h1m4 0h1m21 0h1m11 0h1m11 0h1m-106 1h1m41 0h2m4 0h1m1 0h1m3 0h1m2 0h1m3 0h2m23 0h1m3 0h1m-93 1h1m7 0h2m1 0h1m1 0h2m33 0h1m9 0h1m2 0h1m17 0h1m6 0h1m10 0h2m-91 1h2m1 0h1m32 0h2m2 0h1m1 0h1m4 0h1m8 0h2m3 0h1m16 0h2m-88 1h1m1 0h1m15 0h1m26 0h1m1 0h2m7 0h2m3 0h1m12 0h3m3 0h1m7 0h1m-73 1h3m25 0h1m5 0h1m4 0h1m3 0h1m2 0h1m7 0h1m1 0h1m1 0h1m3 0h1m1 0h1m1 0h1m-65 1h1m2 0h3m18 0h1m10 0h1m4 0h1m3 0h1m1 0h3m1 0h1m1 0h1m8 0h1m1 0h1m2 0h1m-74 1h1m15 0h2m1 0h1m4 0h1m14 0h1m1 0h1m31 0h1m-84 1h1m9 0h1m5 0h1m9 0h1m-17 1h1m2 0h1m2 0h2m1 0h2m2 1h1m2 0h1m11 0h1m-3 1h1m-24 1h1m4 0h1m4 0h2m1 0h1m-3 1h1m7 0h1m-20 1h1m6 0h1m-8 1h1m2 0h2m-2 1h1"/>
<path stroke="#F4E61E" d="M176 17h4m1 0h1m-6 1h4m-5 1h2m3 0h1m-5 1h1m1 0h2m-5 1h2m2 0h2m-5 1h1m3 0h2m-8 1h1m1 0h4m2 0h1m-6 1h1m3 0h1m2 0h1m-13 1h4m4 0h1m3 0h2m-19 1h1m6 0h3m6 0h1m1 0h1m-10 1h1m1 0h1m-13 1h1m4 0h1m3 0h1m1 0h1m-32 1h1m15 0h1m1 0h1m10 0h1m1 0h2m-33 1h2m1 0h1m10 0h1m10 0h1m1 0h1m2 0h1m-29 1h1m21 0h2m2 0h1m1 0h1m-30 1h2m11 0h1m1 0h2m6 0h1m1 0h1m1 0h2m-29 1h1m12 0h1m1 0h1m8 0h2m1 0h1m-21 1h2m-11 1h2m1 0h3m4 0h1m27 0h1m-39 1h2m2 0h2m1 0h1m2 0h1m2 0h1m8 0h1m18 0h2m-45 1h2m6 0h1m2 0h2m14 0h1m13 0h1m-42 1h1m2 0h2m3 0h1m1 0h1m1 0h3m24 0h2m4 0h1m-47 1h3m1 0h1m3 0h1m1 0h5m1 0h1m22 0h1m2 0h1m4 0h1m-46 1h2m7 0h1m1 0h1m1 0h1m1 0h1m22 0h1m2 0h1m-34 1h1m1 0h1m2 0h1m2 0h1m9 0h1m7 0h1m1 0h2m4 0h1m2 0h1m-38 1h1m14 0h2m4 0h1m1 0h1m1 0h1m1 0h4m1 0h4m-37 1h1m1 0h3m5 0h1m1 0h3m2 0h1m5 0h2m1 0h2m2 0h2m-32 1h3m4 0h1m3 0h2m1 0h5m8 0h1m1 0h2m1 0h1m-31 1h1m5 0h1m2 0h3m4 0h2m6 0h1m8 0h1m-56 1h1m21 0h1m3 0h2m3 0h8m1 0h1m2 0h1m1 0h1m1 0h1m8 0h1m-37 1h3m3 0h1m1 0h1m1 0h3m4 0h4m4 0h1m5 0h2m3 0h1m-41 1h1m2 0h1m4 0h1m1 0h2m2 0h1m6 0h1m2 0h1m2 0h1m1 0h1m1 0h1m2 0h9m3 0h1m-50 1h1m4 0h2m2 0h2m1 0h1m1 0h3m2 0h1m4 0h5m1 0h1m2 0h1m3 0h3m1 0h1m1 0h3m1 0h2m1 0h2m-53 1h1m1 0h1m7 0h1m4 0h4m1 0h1m1 0h1m4 0h1m1 0h1m1 0h4m2 0h5m1 0h1m2 0h1m2 0h4m1 0h1m-56 1h3m1 0h3m1 0h1m2 0h4m1 0h2m1 0h1m4 0h2m7 0h1m2 0h1m1 0h1m1 0h1m1 0h2m1 0h1m1 0h3m2 0h2m1 0h1m-64 1h1m5 0h3m2 0h1m1 0h1m1 0h1m1 0h2m2 0h1m1 0h3m1 0h4m10 0h3m1 0h1m6 0h2m5 0h1m-72 1h2m3 0h1m11 0h4m5 0h2m1 0h2m3 0h1m2 0h2m1 0h2m3 0h1m5 0h2m9 0h1m1 0h1m5 0h1m-72 1h1m20 0h1m2 0h1m3 0h1m1 0h2m3 0h4m1 0h1m1 0h1m1 0h2m8 0h1m2 0h1m3 0h1m3 0h1m9 0h1m-84 1h1m17 0h2m6 0h2m1 0h1m2 0h3m1 0h3m1 0h1m4 0h2m1 0h2m1 0h2m1 0h1m1 0h1m3 0h2m4 0h1m-55 1h2m2 0h2m9 0h2m3 0h1m1 0h1m5 0h1m5 0h1m3 0h3m2 0h2m4 0h3m1 0h1m2 0h2m-45 1h2m1 0h1m3 0h3m1 0h1m2 0h1m5 0h1m3 0h2m2 0h2m1 0h1m1 0h2m1 0h1m1 0h2m3 0h1m1 0h1m-63 1h1m17 0h1m5 0h1m1 0h3m2 0h1m4 0h1m5 0h2m1 0h2m1 0h3m2 0h1m1 0h1m3 0h1m1 0h1m-47 1h1m1 0h2m2 0h1m1 0h6m1 0h2m3 0h1m3 0h3m1 0h1m1 0h2m1 0h3m1 0h1m1 0h2m4 0h2m-47 1h1m5 0h1m1 0h1m6 0h4m3 0h2m2 0h7m1 0h1m1 0h1m2 0h4m-53 1h1m13 0h1m1 0h1m1 0h1m3 0h3m4 0h1m4 0h4m1 0h2m1 0h2m1 0h1m3 0h3m1 0h1m-48 1h1m9 0h2m3 0h3m1 0h3m1 0h2m2 0h1m2 0h1m2 0h1m4 0h2m2 0h2m1 0h2m1 0h1m-46 1h1m5 0h1m1 0h1m1 0h1m3 0h3m1 0h3m2 0h5m2 0h1m1 0h1m1 0h3m3 0h2m2 0h1m1 0h1m-62 1h1m1 0h1m9 0h1m3 0h2m2 0h1m4 0h2m1 0h1m2 0h1m5 0h1m14 0h1m4 0h1m1 0h2m-61 1h1m2 0h1m14 0h1m1 0h1m4 0h6m1 0h2m1 0h2m2 0h1m1 0h3m1 0h1m2 0h1m5 0h1m2 0h8m13 0h1m2 0h1m1 0h1m1 0h3m-86 1h1m3 0h1m12 0h1m9 0h1m1 0h1m2 0h2m2 0h1m1 0h1m2 0h1m1 0h1m2 0h7m1 0h1m6 0h1m20 0h2m1 0h1m-85 1h2m9 0h1m9 0h2m3 0h2m4 0h2m1 0h2m1 0h1m1 0h1m3 0h1m3 0h2m1 0h1m1 0h1m2 0h1m2 0h1m16 0h1m3 0h2m2 0h1m-83 1h2m5 0h1m3 0h1m8 0h1m1 0h2m2 0h2m1 0h1m3 0h1m1 0h1m15 0h1m6 0h1m20 0h3m-75 1h1m3 0h1m6 0h2m1 0h1m2 0h3m1 0h2m2 0h1m5 0h2m2 0h1m2 0h1m4 0h4m2 0h1m1 0h1m2 0h1m12 0h1m5 0h3m-73 1h1m5 0h1m1 0h1m1 0h1m1 0h1m1 0h1m1 0h1m4 0h3m5 0h1m2 0h3m2 0h1m1 0h1m1 0h1m1 0h3m1 0h1m1 0h1m16 0h1m4 0h1m-81 1h1m8 0h1m5 0h1m1 0h2m4 0h1m8 0h1m1 0h2m3 0h1m3 0h1m1 0h1m1 0h1m7 0h1m6 0h1m10 0h1m1 0h1m1 0h3m-66 1h1m8 0h2m2 0h4m2 0h1m1 0h1m3 0h1m1 0h1m2 0h1m2 0h1m5 0h2m1 0h2m15 0h1m1 0h2m1 0h1m-93 1h1m6 0h2m15 0h1m9 0h1m1 0h3m3 0h1m1 0h1m1 0h2m5 0h3m5 0h1m3 0h1m2 0h3m5 0h1m12 0h1m1 0h1m1 0h1m-72 1h1m12 0h5m2 0h1m1 0h1m2 0h2m5 0h1m1 0h2m6 0h1m4 0h1m2 0h1m1 0h1m1 0h1m1 0h1m8 0h1m2 0h4m-63 1h1m6 0h10m1 0h1m2 0h2m1 0h2m1 0h1m1 0h1m4 0h1m2 0h1m4 0h1m1 0h1m1 0h3m8 0h1m1 0h3m-86 1h2m13 0h1m3 0h1m11 0h1m1 0h5m1 0h1m1 0h1m6 0h2m3 0h1m1 0h2m2 0h1m1 0h3m2 0h1m2 0h2m9 0h1m-82 1h1m20 0h2m9 0h1m1 0h2m1 0h1m1 0h1m1 0h2m4 0h1m1 0h1m5 0h2m4 0h1m2 0h2m1 0h1m2 0h1m9 0h1m2 0h2m-108 1h1m9 0h1m29 0h2m3 0h2m5 0h1m3 0h4m2 0h3m6 0h6m2 0h4m3 0h1m1 0h1m4 0h1m10 0h4m1 0h1m-77 1h1m11 0h1m1 0h1m2 0h1m1 0h1m2 0h3m1 0h3m2 0h1m4 0h5m1 0h1m2 0h1m1 0h1m1 0h4m1 0h1m2 0h1m3 0h1m10 0h2m1 0h1m-85 1h2m14 0h2m1 0h2m2 0h1m2 0h2m4 0h2m1 0h1m8 0h2m2 0h1m4 0h1m1 0h3m1 0h1m2 0h3m2 0h5m7 0h3m1 0h2m-72 1h1m4 0h2m4 0h1m2 0h1m2 0h1m1 0h1m4 0h1m1 0h1m5 0h2m2 0h1m9 0h4m7 0h1m7 0h1m1 0h1m-64 1h1m12 0h1m1 0h1m1 0h1m2 0h4m2 0h6m8 0h1m2 0h1m14 0h2m2 0h1m3 0h1m-150 1h1m14 0h4m66 0h1m6 0h1m4 0h4m1 0h1m1 0h1m1 0h6m2 0h1m1 0h1m1 0h3m1 0h1m2 0h1m15 0h1m1 0h1m3 0h1m-150 1h2m1 0h1m11 0h1m65 0h1m7 0h2m7 0h5m1 0h2m3 0h8m1 0h2m2 0h1m3 0h8m10 0h1m3 0h3m-147 1h2m9 0h1m61 0h2m8 0h1m9 0h6m1 0h2m1 0h1m1 0h1m2 0h2m1 0h1m2 0h1m2 0h2m2 0h1m2 0h2m1 0h2m6 0h1m3 0h3m3 0h2m-146 1h2m7 0h1m66 0h2m1 0h1m6 0h1m2 0h1m3 0h4m1 0h1m6 0h2m1 0h3m2 0h1m3 0h1m2 0h4m2 0h3m2 0h1m1 0h2m3 0h1m2 0h2m1 0h2m-144 1h3m2 0h2m65 0h1m1 0h1m1 0h1m1 0h1m3 0h1m4 0h5m7 0h1m1 0h1m1 0h2m3 0h3m1 0h1m1 0h1m1 0h3m4 0h1m2 0h2m1 0h1m1 0h1m1 0h6m1 0h2m-139 1h2m62 0h1m1 0h1m2 0h3m2 0h2m4 0h2m1 0h4m1 0h1m13 0h1m1 0h2m1 0h1m1 0h2m4 0h1m4 0h3m2 0h2m2 0h1m1 0h2m1 0h4m-74 1h10m2 0h3m1 0h1m1 0h1m18 0h1m1 0h1m2 0h1m1 0h3m3 0h3m1 0h3m1 0h1m1 0h1m1 0h1m1 0h1m1 0h1m1 0h1m1 0h1m-74 1h1m7 0h4m1 0h1m1 0h1m1 0h2m1 0h1m2 0h1m19 0h1m1 0h6m1 0h4m3 0h3m6 0h4m1 0h1m-89 1h1m16 0h1m1 0h3m1 0h8m1 0h4m23 0h1m1 0h1m1 0h1m1 0h1m1 0h2m1 0h1m1 0h1m1 0h1m1 0h1m1 0h2m3 0h1m1 0h3m-68 1h3m1 0h1m4 0h2m2 0h2m26 0h2m6 0h2m1 0h2m1 0h2m4 0h2m-70 1h1m2 0h1m1 0h2m3 0h1m1 0h1m4 0h1m1 0h3m2 0h1m24 0h3m3 0h1m1 0h1m9 0h3m-75 1h1m9 0h1m2 0h6m1 0h1m1 0h2m29 0h1m2 0h6m1 0h1m8 0h1m1 0h1m-80 1h1m9 0h1m1 0h1m1 0h1m2 0h5m5 0h4m28 0h1m1 0h2m1 0h2m1 0h2m1 0h2m6 0h1m-66 1h2m2 0h4m1 0h1m1 0h2m1 0h2m27 0h1m4 0h1m4 0h2m1 0h2m6 0h1m-67 1h3m1 0h1m4 0h1m2 0h3m1 0h4m24 0h2m3 0h1m7 0h1m1 0h1m5 0h1m1 0h1m-66 1h1m2 0h1m1 0h6m1 0h2m29 0h3m2 0h1m3 0h1m2 0h2m1 0h1m2 0h4m-72 1h1m8 0h4m1 0h1m3 0h1m29 0h3m2 0h1m1 0h1m3 0h1m1 0h1m1 0h1m2 0h3m1 0h1m-68 1h1m5 0h8m2 0h1m1 0h2m25 0h2m2 0h2m5 0h3m1 0h4m1 0h1m1 0h1m-76 1h1m13 0h1m1 0h2m1 0h1m1 0h6m26 0h4m1 0h3m2 0h1m4 0h2m1 0h1m2 0h1m-63 1h2m1 0h1m2 0h1m5 0h1m1 0h2m38 0h2m1 0h2m-75 1h1m15 0h1m1 0h4m1 0h2m1 0h4m2 0h1m25 0h1m1 0h4m7 0h3m1 0h1m-58 1h2m4 0h4m1 0h1m1 0h1m25 0h1m1 0h1m1 0h7m5 0h1m1 0h2m-57 1h1m5 0h2m1 0h1m1 0h2m1 0h1m12 0h2m1 0h1m4 0h1m2 0h6m1 0h3m3 0h2m2 0h2m-59 1h2m4 0h1m4 0h3m1 0h2m11 0h2m5 0h2m1 0h4m9 0h1m2 0h3m-57 1h1m1 0h1m2 0h2m1 0h1m1 0h1m1 0h3m1 0h1m14 0h2m2 0h1m1 0h2m1 0h1m2 0h3m2 0h3m3 0h1m1 0h1m-68 1h1m10 0h1m2 0h2m2 0h2m5 0h2m1 0h1m12 0h3m2 0h4m1 0h3m1 0h1m2 0h2m4 0h3m-57 1h1m1 0h2m4 0h1m3 0h1m3 0h4m9 0h1m1 0h1m1 0h1m1 0h2m1 0h1m1 0h1m1 0h2m1 0h1m3 0h2m2 0h2m-54 1h3m1 0h3m1 0h1m2 0h2m6 0h1m8 0h1m1 0h1m2 0h1m7 0h1m8 0h1m1 0h2m-56 1h1m1 0h1m4 0h1m1 0h2m1 0h1m2 0h5m4 0h1m5 0h1m11 0h1m2 0h1m1 0h1m1 0h1m1 0h1m2 0h1m-54 1h1m1 0h1m2 0h2m2 0h1m2 0h1m3 0h2m1 0h2m15 0h2m1 0h1m2 0h1m3 0h1m1 0h1m1 0h1m2 0h2m-51 1h2m2 0h1m2 0h1m2 0h1m14 0h1m7 0h1m2 0h2m1 0h1m6 0h3m-50 1h2m2 0h1m1 0h4m13 0h1m2 0h1m10 0h2m1 0h1m4 0h1m2 0h2m-53 1h2m1 0h1m3 0h1m1 0h1m3 0h1m7 0h1m1 0h5m6 0h1m3 0h1m1 0h2m4 0h1m1 0h2m-46 1h3m1 0h4m1 0h3m5 0h1m4 0h1m5 0h1m7 0h2m1 0h2m5 0h2m-63 1h1m3 0h1m9 0h2m3 0h1m1 0h4m13 0h1m2 0h1m2 0h2m3 0h1m1 0h1m1 0h1m3 0h5m-49 1h2m3 0h1m2 0h5m3 0h1m1 0h2m1 0h1m3 0h2m2 0h1m2 0h2m4 0h1m8 0h1m-132 1h1m68 0h1m4 0h1m12 0h1m3 0h1m1 0h1m3 0h1m1 0h1m8 0h3m3 0h1m9 0h1m5 0h1m-62 1h1m16 0h3m1 0h1m2 0h1m1 0h2m2 0h1m1 0h2m1 0h1m11 0h1m6 0h1m4 0h2m-61 1h1m14 0h4m1 0h1m1 0h1m8 0h1m10 0h1m1 0h4m1 0h1m2 0h1m2 0h3m-58 1h1m2 0h1m1 0h1m8 0h1m1 0h1m1 0h1m1 0h1m2 0h1m1 0h1m4 0h1m1 0h1m1 0h1m3 0h1m1 0h1m2 0h1m4 0h2m-130 1h1m5 0h1m74 0h1m2 0h1m1 0h1m2 0h3m2 0h1m3 0h5m2 0h1m15 0h2m2 0h4m-126 1h1m77 0h4m9 0h2m4 0h3m3 0h1m5 0h1m5 0h1m4 0h1m2 0h2m2 0h1m-128 1h3m83 0h1m1 0h1m1 0h1m2 0h1m3 0h1m2 0h1m1 0h1m6 0h2m1 0h4m2 0h1m2 0h1m2 0h2m-128 1h1m2 0h1m5 0h1m81 0h1m2 0h1m4 0h1m2 0h2m14 0h1m2 0h1m5 0h1m-123 1h1m5 0h1m78 0h2m2 0h2m2 0h2m1 0h2m8 0h2m2 0h1m12 0h1m-129 1h4m1 0h1m4 0h1m79 0h1m1 0h2m1 0h1m2 0h2m1 0h1m9 0h4m5 0h3m4 0h2m-129 1h1m6 0h1m1 0h1m1 0h1m72 0h2m6 0h2m1 0h2m1 0h3m1 0h2m7 0h1m1 0h2m2 0h1m1 0h1m2 0h1m1 0h1m1 0h2m-127 1h2m2 0h1m2 0h1m2 0h1m71 0h2m7 0h1m4 0h3m4 0h1m1 0h1m5 0h1m5 0h2m1 0h1m2 0h3m-123 1h1m3 0h1m71 0h1m11 0h1m2 0h1m2 0h3m7 0h1m1 0h2m6 0h4m-121 1h1m1 0h2m5 0h1m19 0h1m64 0h1m1 0h1m3 0h4m8 0h1m6 0h3m1 0h1m-125 1h1m1 0h1m80 0h1m14 0h1m2 0h1m4 0h1m4 0h1m1 0h1m1 0h2m1 0h2m2 0h2m-113 1h1m80 0h1m4 0h2m7 0h1m3 0h1m1 0h3m1 0h1m1 0h3m-126 1h1m1 0h1m8 0h1m92 0h1m1 0h1m1 0h1m2 0h1m1 0h5m1 0h2m1 0h4m-118 1h1m6 0h1m92 0h1m10 0h4m1 0h2m-126 1h2m1 0h1m2 0h3m5 0h1m3 0h2m89 0h1m7 0h1m3 0h3m-123 1h1m1 0h2m1 0h1m8 0h1m101 0h1m2 0h3m-122 1h2m3 0h1m8 0h1m1 0h1m14 0h1m75 0h5m3 0h1m1 0h2m1 0h1m-116 1h1m24 0h1m75 0h5m1 0h1m1 0h1m2 0h1m-116 1h2m13 0h1m5 0h2m5 0h1m1 0h1m18 0h2m8 0h2m33 0h2m1 0h2m1 0h1m1 0h4m2 0h1m2 0h5m-115 1h3m11 0h2m6 0h2m5 0h1m20 0h2m1 0h4m1 0h1m2 0h2m24 0h1m5 0h2m1 0h3m1 0h6m3 0h2m1 0h1m-113 1h1m1 0h1m5 0h1m7 0h1m5 0h1m22 0h1m3 0h3m2 0h1m6 0h3m2 0h2m24 0h2m2 0h1m6 0h1m1 0h1m1 0h1m2 0h1m-110 1h3m7 0h1m2 0h1m2 0h1m33 0h2m8 0h1m2 0h1m4 0h1m24 0h2m1 0h4m1 0h1m1 0h1m1 0h2m1 0h1m-107 1h1m1 0h1m1 0h3m4 0h1m1 0h1m32 0h3m41 0h1m3 0h2m-97 1h1m3 0h1m2 0h3m2 0h1m1 0h1m1 0h1m23 0h1m7 0h2m23 0h2m7 0h1m1 0h1m5 0h6m4 0h1m1 0h1m-100 1h1m1 0h4m2 0h2m1 0h1m2 0h1m30 0h1m13 0h1m9 0h2m1 0h1m8 0h1m9 0h1m-94 1h4m5 0h1m5 0h2m29 0h4m8 0h1m6 0h1m6 0h1m3 0h1m1 0h1m1 0h1m4 0h1m1 0h2m-88 1h3m7 0h3m3 0h1m26 0h4m1 0h3m3 0h4m1 0h3m1 0h1m3 0h1m1 0h1m1 0h1m1 0h1m2 0h1m1 0h1m4 0h1m1 0h1m-88 1h1m3 0h2m4 0h1m1 0h1m1 0h1m1 0h1m1 0h2m1 0h1m1 0h1m1 0h4m4 0h2m7 0h2m1 0h2m2 0h1m1 0h1m1 0h1m1 0h2m1 0h5m3 0h2m2 0h3m3 0h1m2 0h1m1 0h2m4 0h2m-90 1h3m3 0h2m1 0h2m1 0h2m1 0h1m2 0h2m1 0h3m10 0h3m1 0h2m1 0h1m1 0h2m5 0h1m2 0h3m1 0h1m1 0h1m1 0h1m7 0h2m1 0h1m1 0h1m3 0h1m8 0h3m-84 1h1m2 0h2m4 0h2m2 0h1m2 0h1m4 0h1m4 0h1m3 0h1m6 0h1m12 0h1m2 0h1m12 0h1m3 0h2m1 0h1m-74 1h1m7 0h1m1 0h2m10 0h1m2 0h2m7 0h2m1 0h3m29 0h2m1 0h1m-77 1h1m5 0h1m8 0h1m10 0h6m7 0h1m1 0h1m-31 1h1m15 0h1m1 0h1m10 0h1m-30 1h1m3 0h1m8 0h2m1 0h3m-19 1h2m10 0h2m-13 1h1m1 0h1m1 0h1m3 0h3m-10 1h1m3 0h1m0 1h1"/>
<path stroke="#FDE725" d="M175 12h1m10 0h1m-1 1h1m1 0h1m-25 1h1m11 0h1m11 0h2m-1 1h1m-3 1h1m2 0h1m-4 1h2m2 0h1m-12 1h1m4 0h1m2 0h1m-12 1h1m1 0h1m2 0h1m1 0h1m5 0h2m-27 2h1m17 0h1m5 0h1m-1 1h1m-3 1h1m1 0h1m-42 1h1m39 0h1m-38 1h1m31 0h1m-2 1h1m4 0h1m-42 1h1m44 0h1m-27 1h1m10 0h1m7 0h1m4 0h2m1 0h1m1 0h1m-53 1h1m30 0h1m2 0h1m4 0h1m7 0h1m4 0h1m-47 1h1m14 0h1m1 0h1m14 0h1m2 0h2m-36 1h1m11 0h1m22 0h1m2 0h1m2 0h1m2 0h2m-14 1h2m1 0h1m2 0h1m3 0h1m1 0h2m1 0h1m-5 1h1m1 0h2m-59 1h1m52 0h1m6 0h1m-13 1h1m11 0h1m-50 1h1m4 0h2m29 0h2m-41 1h2m3 0h1m1 0h2m2 0h2m27 0h3m9 0h1m-54 1h2m6 0h1m1 0h1m30 0h3m9 0h1m-15 1h1m1 0h4m8 0h1m-44 1h1m1 0h1m26 0h2m1 0h4m1 0h2m4 0h1m-64 1h1m18 0h1m1 0h2m1 0h2m22 0h4m1 0h2m4 0h1m-41 1h8m9 0h3m5 0h1m4 0h1m10 0h1m1 0h1m-45 1h1m3 0h5m6 0h1m2 0h4m2 0h1m2 0h2m2 0h3m2 0h2m2 0h1m1 0h1m-41 1h4m1 0h3m2 0h1m5 0h8m1 0h1m2 0h1m1 0h2m5 0h1m-38 1h5m1 0h2m3 0h4m2 0h6m1 0h8m2 0h1m2 0h1m-40 1h1m1 0h3m2 0h3m8 0h1m1 0h2m1 0h1m1 0h1m1 0h8m10 0h1m-44 1h3m1 0h1m1 0h1m3 0h4m4 0h4m1 0h4m3 0h3m-35 1h1m1 0h1m5 0h1m1 0h6m1 0h1m2 0h2m1 0h1m1 0h1m1 0h2m10 0h2m-42 1h2m2 0h1m1 0h1m3 0h2m1 0h4m5 0h1m1 0h2m1 0h2m4 0h1m1 0h1m3 0h1m2 0h1m-44 1h3m1 0h1m2 0h1m4 0h1m1 0h1m1 0h4m1 0h1m1 0h1m5 0h1m7 0h1m2 0h2m4 0h1m-109 1h1m56 0h1m3 0h1m1 0h2m4 0h1m2 0h1m1 0h2m4 0h7m13 0h1m3 0h2m-106 1h1m54 0h2m1 0h1m1 0h1m1 0h1m2 0h1m2 0h1m3 0h1m6 0h8m15 0h3m1 0h3m-94 1h1m39 0h3m1 0h1m6 0h2m1 0h2m2 0h1m2 0h1m1 0h1m1 0h5m2 0h1m11 0h1m5 0h4m-57 1h2m1 0h2m1 0h2m2 0h1m2 0h3m4 0h1m1 0h1m1 0h1m2 0h8m20 0h1m-106 1h1m37 0h1m12 0h1m1 0h2m7 0h1m1 0h4m2 0h1m2 0h1m2 0h1m1 0h1m1 0h3m2 0h2m-123 1h1m50 0h1m1 0h1m34 0h3m1 0h1m1 0h5m1 0h5m1 0h3m3 0h2m2 0h4m-32 1h3m5 0h2m1 0h5m1 0h3m2 0h2m2 0h1m1 0h1m4 0h1m-35 1h3m6 0h2m1 0h4m1 0h5m2 0h1m2 0h1m3 0h2m1 0h1m7 0h1m-47 1h1m2 0h2m1 0h1m6 0h1m2 0h3m1 0h3m3 0h1m1 0h1m2 0h1m3 0h1m1 0h1m2 0h1m-38 1h2m1 0h1m2 0h1m2 0h2m4 0h3m2 0h1m8 0h1m1 0h1m1 0h2m-93 1h1m62 0h3m3 0h4m1 0h3m5 0h1m2 0h1m4 0h3m3 0h1m-120 1h1m78 0h1m2 0h1m2 0h3m3 0h1m3 0h1m2 0h2m1 0h1m2 0h2m1 0h4m2 0h2m-82 1h1m4 0h1m39 0h1m2 0h1m1 0h1m4 0h2m3 0h1m3 0h2m5 0h2m1 0h1m1 0h1m3 0h3m2 0h2m1 0h1m-86 1h1m25 0h1m13 0h1m13 0h2m1 0h5m1 0h14m1 0h4m5 0h1m-32 1h1m2 0h1m2 0h2m5 0h1m1 0h2m1 0h5m1 0h2m27 0h1m-53 1h2m2 0h2m1 0h1m1 0h2m1 0h1m1 0h2m7 0h1m1 0h6m20 0h1m2 0h1m-79 1h1m23 0h2m3 0h1m2 0h1m1 0h1m1 0h3m1 0h3m2 0h1m1 0h1m1 0h2m1 0h2m24 0h1m-116 1h1m30 0h1m11 0h1m9 0h1m8 0h1m1 0h3m1 0h1m1 0h15m1 0h6m-114 1h1m82 0h1m2 0h2m2 0h4m2 0h2m1 0h2m1 0h4m4 0h2m1 0h1m-41 1h1m7 0h1m1 0h4m3 0h1m1 0h3m1 0h2m3 0h2m1 0h1m1 0h1m1 0h1m3 0h1m-94 1h1m57 0h1m3 0h3m1 0h4m1 0h1m2 0h2m2 0h3m1 0h1m1 0h1m1 0h7m25 0h1m-142 1h1m86 0h1m4 0h2m1 0h1m1 0h3m3 0h2m1 0h2m1 0h5m2 0h1m2 0h1m20 0h1m-54 1h2m1 0h1m1 0h1m2 0h5m3 0h5m1 0h3m1 0h1m25 0h1m-53 1h2m1 0h1m5 0h5m1 0h1m2 0h6m1 0h2m1 0h1m-129 1h1m81 0h1m25 0h1m1 0h2m2 0h1m2 0h1m1 0h1m1 0h4m1 0h2m8 0h1m-127 1h1m94 0h1m1 0h1m1 0h6m2 0h3m1 0h1m2 0h2m1 0h1m23 0h2m-54 1h1m2 0h1m1 0h1m1 0h1m2 0h4m1 0h1m1 0h4m3 0h4m1 0h1m22 0h2m-138 1h1m1 0h1m85 0h2m3 0h4m1 0h1m6 0h2m4 0h2m23 0h1m-145 1h1m1 0h2m2 0h1m68 0h1m9 0h1m8 0h1m3 0h2m1 0h4m5 0h1m1 0h2m1 0h1m6 0h1m1 0h1m2 0h1m1 0h1m15 0h1m-146 1h1m93 0h1m1 0h8m2 0h2m1 0h4m1 0h1m3 0h1m1 0h2m20 0h1m-142 1h1m92 0h3m1 0h1m1 0h5m2 0h1m2 0h9m4 0h1m12 0h1m4 0h4m-141 1h1m1 0h1m86 0h1m1 0h2m5 0h1m6 0h8m1 0h2m1 0h2m15 0h1m1 0h3m1 0h1m-190 1h1m45 0h1m4 0h1m1 0h1m81 0h1m6 0h1m1 0h1m6 0h1m2 0h1m1 0h1m3 0h1m1 0h2m1 0h2m1 0h1m10 0h1m3 0h3m1 0h2m-191 1h1m58 0h1m11 0h1m70 0h1m2 0h3m8 0h1m2 0h2m1 0h3m19 0h2m4 0h1m-193 1h1m130 0h1m12 0h1m2 0h1m1 0h1m1 0h2m2 0h1m1 0h2m1 0h2m2 0h2m1 0h2m18 0h3m2 0h1m-193 1h1m137 0h1m4 0h1m1 0h1m1 0h4m2 0h1m3 0h1m2 0h1m4 0h1m4 0h2m14 0h1m2 0h1m-189 1h1m119 0h1m18 0h2m6 0h1m1 0h1m2 0h3m3 0h1m1 0h1m1 0h1m3 0h4m7 0h1m8 0h1m2 0h1m-190 1h1m53 0h1m23 0h1m58 0h1m11 0h3m1 0h1m2 0h1m1 0h1m2 0h2m3 0h4m3 0h2m2 0h2m1 0h1m2 0h1m4 0h1m-188 1h1m14 0h1m39 0h1m68 0h1m7 0h4m15 0h1m1 0h2m1 0h1m3 0h2m4 0h1m5 0h1m1 0h1m1 0h1m1 0h1m1 0h1m1 0h1m-182 1h1m113 0h3m14 0h1m18 0h2m1 0h1m6 0h1m4 0h3m3 0h6m4 0h1m-182 1h1m115 0h1m13 0h2m20 0h1m1 0h1m1 0h1m1 0h1m1 0h1m2 0h1m1 0h1m3 0h1m1 0h1m2 0h3m1 0h1m-178 1h1m115 0h1m1 0h1m1 0h1m7 0h3m21 0h2m2 0h1m1 0h1m5 0h1m2 0h1m2 0h3m3 0h4m-179 1h1m113 0h1m1 0h1m1 0h4m5 0h2m23 0h2m4 0h1m2 0h1m1 0h9m3 0h3m-178 1h1m43 0h1m64 0h1m9 0h1m1 0h1m3 0h4m23 0h1m1 0h2m6 0h1m1 0h8m1 0h1m1 0h1m-176 1h1m24 0h1m91 0h4m5 0h2m24 0h2m1 0h1m2 0h1m8 0h5m2 0h1m-174 1h1m46 0h1m67 0h1m4 0h1m2 0h3m25 0h4m1 0h3m6 0h6m1 0h2m-174 1h1m52 0h1m59 0h1m1 0h1m4 0h1m30 0h3m1 0h7m1 0h1m1 0h5m-170 1h1m117 0h1m2 0h1m27 0h1m3 0h2m1 0h3m1 0h1m3 0h1m1 0h2m-167 1h1m111 0h1m3 0h1m3 0h2m28 0h2m1 0h1m1 0h3m1 0h1m1 0h1m1 0h2m3 0h1m-169 1h1m115 0h1m2 0h1m29 0h2m2 0h5m3 0h1m6 0h1m-169 1h1m105 0h1m5 0h1m1 0h1m36 0h1m3 0h2m1 0h4m2 0h1m1 0h2m-167 1h1m25 0h1m2 0h1m39 0h1m39 0h2m3 0h1m1 0h1m1 0h1m26 0h14m2 0h1m2 0h3m-167 1h1m62 0h1m47 0h1m7 0h2m1 0h1m21 0h3m1 0h1m4 0h7m3 0h1m1 0h2m-167 1h1m109 0h3m4 0h1m1 0h1m1 0h2m19 0h4m1 0h1m1 0h1m7 0h5m1 0h1m-163 1h1m1 0h1m46 0h1m59 0h5m4 0h1m2 0h1m18 0h3m1 0h2m10 0h3m2 0h2m-163 1h1m71 0h1m35 0h4m1 0h2m1 0h1m3 0h1m17 0h1m1 0h1m2 0h1m14 0h2m3 0h1m-163 1h1m105 0h1m1 0h2m4 0h1m23 0h1m5 0h1m1 0h1m9 0h2m2 0h1m-161 1h1m105 0h2m2 0h1m3 0h1m2 0h1m3 0h1m32 0h4m3 0h1m-161 1h1m65 0h1m6 0h1m33 0h1m1 0h2m1 0h3m27 0h1m11 0h2m2 0h2m-160 1h1m106 0h1m3 0h1m1 0h2m6 0h1m22 0h1m8 0h1m1 0h1m2 0h1m-158 1h1m104 0h2m8 0h1m38 0h1m-155 1h1m25 0h1m78 0h2m2 0h2m1 0h1m2 0h2m9 0h1m-126 1h2m105 0h2m1 0h2m1 0h1m26 0h1m-140 1h1m104 0h2m1 0h1m40 0h1m-150 1h1m2 0h1m100 0h3m1 0h1m19 0h1m22 0h1m-151 1h1m12 0h1m87 0h2m3 0h1m9 0h1m9 0h1m-126 1h1m102 0h3m6 0h2m9 0h1m2 0h1m-126 1h1m84 0h4m12 0h3m1 0h1m16 0h2m21 0h1m-146 1h1m84 0h4m11 0h2m1 0h2m16 0h1m21 0h1m-143 1h1m8 0h1m74 0h5m10 0h1m3 0h1m1 0h1m-105 1h1m82 0h5m15 0h1m-103 1h1m81 0h2m1 0h1m10 0h1m1 0h1m1 0h1m1 0h1m20 0h1m3 0h1m-45 1h2m11 0h3m-96 1h1m93 0h4m-99 1h1m93 0h1m1 0h3m1 0h1m-8 1h1m1 0h4m1 0h1m10 0h1m2 0h1m-109 1h1m85 0h2m2 0h2m2 0h1m20 0h1m-28 1h1m1 0h2m-97 1h2m91 0h1m17 0h1m7 0h1m-28 1h1m2 0h1m23 0h1m-74 1h1m46 0h1m2 0h1m3 0h1m20 0h1m-111 1h1m104 0h1m-19 1h1m9 0h1m10 0h2m-21 1h1m13 0h1m0 1h1m-122 1h1m37 0h1m-26 1h1m2 0h1m25 0h1m-41 1h1m14 0h1m33 0h1m60 0h1m5 0h2m-120 1h1m25 0h1m90 0h1m2 0h1m-120 1h2m1 0h1m13 0h1m13 0h1m9 0h1m76 0h1m-118 1h1m4 0h1m24 0h1m18 0h1m2 0h1m44 0h1m2 0h1m1 0h1m4 0h1m-107 1h1m28 0h1m20 0h1m7 0h1m37 0h1m3 0h1m6 0h3m2 0h1m-60 1h1m3 0h2m36 0h2m1 0h2m1 0h3m1 0h1m1 0h1m1 0h2m-110 1h1m100 0h1m1 0h1m1 0h1m2 0h1m-108 1h2m3 0h1m87 0h3m2 0h2m2 0h4m-103 1h2m1 0h2m8 0h1m80 0h4m1 0h1m-102 1h2m7 0h2m2 0h1m1 0h1m75 0h3m1 0h6m-96 1h5m1 0h5m79 0h4m-99 1h2m3 0h7m3 0h3m1 0h1m29 0h1m3 0h2m19 0h1m1 0h2m1 0h1m2 0h1m1 0h1m-84 1h3m2 0h4m1 0h1m3 0h1m1 0h1m2 0h1m1 0h1m1 0h1m19 0h1m2 0h2m1 0h1m6 0h1m5 0h3m2 0h2m3 0h3m1 0h2m1 0h1m2 0h3m-84 1h1m1 0h1m2 0h1m2 0h1m4 0h2m6 0h6m1 0h3m3 0h1m4 0h1m2 0h5m1 0h2m3 0h1m1 0h1m1 0h1m1 0h1m3 0h3m2 0h1m1 0h1m1 0h3m1 0h2m4 0h2m-87 1h3m4 0h2m2 0h3m14 0h4m1 0h3m1 0h5m2 0h3m13 0h2m11 0h3m2 0h1m-77 1h1m4 0h7m1 0h1m13 0h1m3 0h7m6 0h1m30 0h1m1 0h1m-74 1h2m1 0h8m17 0h6m2 0h1m1 0h1m-43 1h1m3 0h7m1 0h3m15 0h10m1 0h1m-34 1h3m1 0h3m18 0h1m1 0h1m-23 1h2m-5 1h2m1 0h1m9 0h1m-10 1h3m2 0h3m-8 1h4m1 0h1"/>
</g>
<g clip-path="url(#za)" stroke="#EBEBEB" stroke-opacity="0.22" fill="none"><path stroke-width="0.270" d="M10 8v153M11 8v153M12 8v153M13 8v153M14 8v153M15 8v153M16 8v153M17 8v153M18 8v153M19 8v153M20 8v153M21 8v153M22 8v153M23 8v153M24 8v153M25 8v153M26 8v153M27 8v153M28 8v153M29 8v153M30 8v153M31 8v153M32 8v153M33 8v153M34 8v153M35 8v153M36 8v153M37 8v153M38 8v153M39 8v153M40 8v153M41 8v153M42 8v153M43 8v153M44 8v153M45 8v153M46 8v153M47 8v153M48 8v153M49 8v153M50 8v153M51 8v153M52 8v153M53 8v153M54 8v153M55 8v153M56 8v153M57 8v153M58 8v153M59 8v153M60 8v153M61 8v153M62 8v153M63 8v153M64 8v153M65 8v153M66 8v153M67 8v153M68 8v153M69 8v153M70 8v153M71 8v153M72 8v153M73 8v153M74 8v153M75 8v153M76 8v153M77 8v153M78 8v153M79 8v153M80 8v153M81 8v153M82 8v153M83 8v153M84 8v153M85 8v153M86 8v153M87 8v153M88 8v153M89 8v153M90 8v153M91 8v153M92 8v153M93 8v153M94 8v153M95 8v153M96 8v153M97 8v153M98 8v153M99 8v153M100 8v153M101 8v153M102 8v153M103 8v153M104 8v153M105 8v153M106 8v153M107 8v153M108 8v153M109 8v153M110 8v153M111 8v153M112 8v153M113 8v153M114 8v153M115 8v153M116 8v153M117 8v153M118 8v153M119 8v153M120 8v153M121 8v153M122 8v153M123 8v153M124 8v153M125 8v153M126 8v153M127 8v153M128 8v153M129 8v153M130 8v153M131 8v153M132 8v153M133 8v153M134 8v153M135 8v153M136 8v153M137 8v153M138 8v153M139 8v153M140 8v153M141 8v153M142 8v153M143 8v153M144 8v153M145 8v153M146 8v153M147 8v153M148 8v153M149 8v153M150 8v153M151 8v153M152 8v153M153 8v153M154 8v153M155 8v153M156 8v153M157 8v153M158 8v153M159 8v153M160 8v153M161 8v153M162 8v153M163 8v153M164 8v153M165 8v153M166 8v153M167 8v153M168 8v153M169 8v153M170 8v153M171 8v153M172 8v153M173 8v153M174 8v153M175 8v153M176 8v153M177 8v153M178 8v153M179 8v153M180 8v153M181 8v153M182 8v153M183 8v153M184 8v153M185 8v153M186 8v153M187 8v153M188 8v153M189 8v153M190 8v153M191 8v153M192 8v153M193 8v153M194 8v153M195 8v153M196 8v153M197 8v153M198 8v153M199 8v153M200 8v153M201 8v153M202 8v153M203 8v153M204 8v153M205 8v153M206 8v153M207 8v153M208 8v153"/><path stroke-width="0.237" d="M10 8h198M10 9h198M10 10h198M10 11h198M10 12h198M10 13h198M10 14h198M10 15h198M10 16h198M10 17h198M10 18h198M10 19h198M10 20h198M10 21h198M10 22h198M10 23h198M10 24h198M10 25h198M10 26h198M10 27h198M10 28h198M10 29h198M10 30h198M10 31h198M10 32h198M10 33h198M10 34h198M10 35h198M10 36h198M10 37h198M10 38h198M10 39h198M10 40h198M10 41h198M10 42h198M10 43h198M10 44h198M10 45h198M10 46h198M10 47h198M10 48h198M10 49h198M10 50h198M10 51h198M10 52h198M10 53h198M10 54h198M10 55h198M10 56h198M10 57h198M10 58h198M10 59h198M10 60h198M10 61h198M10 62h198M10 63h198M10 64h198M10 65h198M10 66h198M10 67h198M10 68h198M10 69h198M10 70h198M10 71h198M10 72h198M10 73h198M10 74h198M10 75h198M10 76h198M10 77h198M10 78h198M10 79h198M10 80h198M10 81h198M10 82h198M10 83h198M10 84h198M10 85h198M10 86h198M10 87h198M10 88h198M10 89h198M10 90h198M10 91h198M10 92h198M10 93h198M10 94h198M10 95h198M10 96h198M10 97h198M10 98h198M10 99h198M10 100h198M10 101h198M10 102h198M10 103h198M10 104h198M10 105h198M10 106h198M10 107h198M10 108h198M10 109h198M10 110h198M10 111h198M10 112h198M10 113h198M10 114h198M10 115h198M10 116h198M10 117h198M10 118h198M10 119h198M10 120h198M10 121h198M10 122h198M10 123h198M10 124h198M10 125h198M10 126h198M10 127h198M10 128h198M10 129h198M10 130h198M10 131h198M10 132h198M10 133h198M10 134h198M10 135h198M10 136h198M10 137h198M10 138h198M10 139h198M10 140h198M10 141h198M10 142h198M10 143h198M10 144h198M10 145h198M10 146h198M10 147h198M10 148h198M10 149h198M10 150h198M10 151h198M10 152h198M10 153h198M10 154h198M10 155h198M10 156h198M10 157h198M10 158h198M10 159h198M10 160h198M10 161h198"/></g></g>
<!-- ub -->
<g transform="translate(960.55 1139.45) scale(3.7067 4.2208)"><g transform="translate(0 0.5)" fill="none" stroke-width="1">
<path stroke="#440154" d="M167 9h1m5 0h1m-5 2h1m2 0h1m8 1h1m5 0h2m-24 1h1m8 0h1m9 0h2m1 0h1m1 0h1m-23 1h1m16 0h4m-36 1h1m6 0h1m5 0h1m19 0h1m1 0h2m1 0h1m-32 1h1m24 0h3m1 0h2m-7 1h4m2 0h2m-25 1h1m15 0h3m1 0h2m1 0h3m-9 1h1m1 0h1m1 0h3m-16 1h1m8 0h6m1 0h2m-40 1h1m3 0h1m14 0h1m13 0h3m2 0h2m-46 1h1m1 0h1m3 0h1m11 0h1m18 0h6m1 0h2m-6 1h1m3 0h2m-53 1h1m23 0h1m23 0h1m1 0h3m-50 1h1m44 0h6m-50 1h1m44 0h5m-55 1h1m49 0h3m1 0h2m-12 1h2m1 0h3m3 0h1m1 0h1m-57 1h3m40 0h1m1 0h3m3 0h1m1 0h4m-13 1h1m3 0h5m1 0h2m1 0h2m-16 1h2m3 0h2m1 0h2m1 0h2m-58 1h1m10 0h1m36 0h1m2 0h1m1 0h3m1 0h1m-8 1h1m3 0h3m1 0h1m2 0h1m-11 1h4m2 0h1m1 0h2m-35 1h1m1 0h1m23 0h4m2 0h1m1 0h2m-8 1h3m1 0h3m1 0h1m-8 1h2m1 0h4m-6 1h6m-31 1h1m26 0h1m1 0h2m-4 1h4m-56 1h1m48 0h3m2 0h3m-143 1h1m68 0h1m65 0h4m1 0h1m1 0h1m-8 1h2m3 0h3m-141 1h1m129 0h4m1 0h6m-8 1h1m1 0h6m-110 1h1m100 0h8m-2 1h1m1 0h1m-112 1h1m4 2h1m1 0h1m43 0h1m-76 1h1m26 0h1m44 0h1m-75 1h1m60 0h1m-69 1h1m3 0h1m46 0h1m4 0h2m-19 1h1m4 0h1m3 0h1m26 0h1m-68 1h2m54 0h1m11 0h1m-31 1h1m16 0h1m-17 1h1m-4 1h1m23 0h1m12 0h1m-79 1h1m72 0h1m-76 1h1m41 0h1m18 0h1m-62 1h1m5 0h1m50 0h1m20 0h1m-25 1h1m-22 1h1m18 0h1m-4 1h1m15 0h1m-22 1h1m31 0h1m-74 1h1m4 0h1m3 0h1m6 0h1m21 0h1m-32 1h1m24 0h1m23 0h1m-59 1h1m11 0h3m1 0h1m39 0h1m2 0h1m13 1h1m-74 1h1m33 0h1m-22 1h1m6 0h1m14 0h1m36 0h1m4 0h1m55 1h1m5 0h1m-8 1h1m-104 1h1m-32 1h1m2 0h2m25 1h1m1 0h1m5 0h1m95 0h1m-131 1h1m54 0h1m16 0h1m-64 1h1m121 0h1m-173 1h1m55 0h1m7 1h1m8 0h1m34 0h1m67 0h1m-138 1h1m72 0h1m-70 1h1m14 0h1m3 0h1m46 0h1m-105 1h1m98 0h1m-108 1h1m36 0h1m70 0h1m-44 1h1m12 0h1m-79 1h1m71 0h2m1 0h1m-39 1h1m63 0h1m-101 1h1m54 0h1m-29 1h1m13 0h1m5 0h1m20 0h1m3 0h1m-51 1h3m29 0h1m48 0h1m-104 1h1m4 0h1m37 0h1m3 0h1m2 0h1m5 0h1m16 0h1m-56 1h1m3 0h1m-10 1h1m17 0h1m17 0h1m8 1h1m12 0h1m5 0h1m-66 1h1m4 0h1m20 0h1m56 0h1m7 0h1m-93 1h1m8 0h1m18 0h1m3 0h1m21 0h1m15 0h1m20 0h1m-99 1h1m34 0h1m-24 1h1m2 0h2m17 0h1m31 1h1m25 0h1m-92 1h1m41 0h1m19 0h1m-26 1h1m1 0h1m30 0h1m-61 1h1m33 0h2m-41 1h1m41 0h1m3 0h1m1 0h1m3 0h1m39 0h1m1 0h1m-94 1h1m29 0h1m3 0h1m4 0h1m23 0h1m-24 1h1m21 0h1m34 0h1m-74 1h1m11 0h1m32 0h1m-54 1h1m1 0h1m47 0h1m-48 1h1m3 0h1m11 0h1m16 0h1m27 0h1m-77 1h1m12 0h1m45 0h1m7 0h1m2 0h1m17 0h1m4 0h1m-56 1h1m11 0h1m-44 1h1m4 0h1m46 2h1m-47 1h1m1 0h1m7 0h1m31 0h1m21 0h1m8 0h1m-74 1h1m-16 1h1m35 0h1m21 0h1m-58 1h1m72 0h1m-74 1h1m58 0h1m6 0h1m-7 2h2m-44 1h1m10 0h1m-12 1h1m48 0h1m-43 1h1m17 1h1m-26 1h1m61 0h1m30 1h1m-51 1h1m23 0h1m-64 1h1m44 0h1m-16 3h1m8 0h1m2 1h1m-41 1h1m12 0h1m-15 1h1m2 0h1m30 0h1m8 0h1m-45 2h1m8 1h1m8 0h1m7 0h1m12 0h1m-31 1h1m58 0h1m-70 1h1m19 0h1m2 0h1m18 0h1m3 0h1m-25 1h1m31 1h1m-42 2h1m-4 1h1m6 0h1m11 1h1m-28 2h1m62 0h1m2 0h1m-60 1h1m9 0h1m-19 6h1"/>
<path stroke="#471063" d="M158 25h1m-31 16h1m-94 54h1m1 17h1"/>
<path stroke="#482173" d="M168 10h1m8 1h1m-14 1h1m1 0h1m11 0h1m-13 1h1m10 0h2m1 0h1m-26 1h1m19 0h1m-23 1h1m19 1h1m-22 4h1m15 1h1m-22 1h1m3 0h1m15 0h1m-22 1h1m22 1h1m13 0h1m-48 8h1m-3 3h1m0 4h1m-82 2h1m37 5h2m-5 1h1m63 1h1m-95 1h1m34 0h1m-41 1h1m3 0h1m44 2h2m-13 3h1m-9 1h1m0 2h1m10 0h1m-3 1h1m1 0h1m-3 1h2m-1 1h2m-19 2h1m1 0h1m-21 1h1m21 0h1m1 0h1m22 0h1m-24 1h1m1 0h1m3 0h1m2 0h1m-35 1h1m25 1h2m-27 1h1m13 1h1m1 0h1m14 0h1m-19 1h1m4 0h1m81 0h1m-88 1h1m2 0h1m9 0h1m2 0h1m-14 1h2m3 0h1m-13 1h1m15 1h1m1 0h1m-2 1h1m-31 1h1m3 0h1m25 0h1m-1 1h1m1 0h1m-34 1h1m32 0h1m-3 1h1m-5 1h1m3 0h1m-67 1h1m36 0h1m21 0h1m6 0h1m-72 1h1m56 0h1m8 0h1m2 0h2m-32 1h1m8 0h1m20 0h1m-69 1h1m70 0h1m-37 1h1m19 0h1m2 0h1m-20 1h1m7 0h1m-16 1h1m23 0h1m9 0h2m1 0h1m-3 1h1m3 0h1m-60 1h1m18 0h3m1 0h1m11 0h1m2 0h1m18 0h1m-55 1h1m2 0h1m15 0h1m9 0h1m21 0h1m1 0h1m-68 1h1m7 0h1m6 0h1m2 0h1m9 0h2m15 0h2m7 0h1m5 0h1m5 0h1m-50 1h1m13 0h2m9 0h1m2 0h1m8 0h1m15 0h1m-33 1h1m2 0h1m1 0h3m6 0h1m1 0h1m5 0h1m-35 1h1m13 0h1m11 0h1m1 0h1m2 0h1m2 0h2m-45 1h1m2 0h1m5 0h1m6 0h1m3 0h1m5 0h1m1 0h2m1 0h2m4 0h1m7 0h1m1 0h1m3 0h1m-54 1h1m35 0h1m1 0h1m-41 1h2m9 0h2m-4 1h1m5 0h1m23 0h1m-39 1h1m38 0h2m10 0h1m-23 1h1m5 1h1m10 0h1m19 1h2m-61 1h1m25 0h1m26 0h1m5 0h1m-4 1h2m-55 1h1m-21 1h1m15 0h1m4 0h1m49 0h1m-56 2h1m1 0h1m91 0h1m-97 2h1m1 0h1m2 0h1m2 0h1m-9 1h1m4 0h1m93 0h1m-96 1h1m4 0h1m-9 1h1m1 1h1m2 0h1m-4 4h1m10 2h1m-2 2h1m-2 1h2m110 1h1m-112 2h1m-1 1h1m99 1h1m-97 2h1m1 1h1m-2 1h1m23 0h1m-27 1h1m1 0h1m24 0h1m-51 2h1m49 0h1m6 0h1m-8 1h2m6 0h1m-20 1h1m2 0h1m7 0h1m4 0h1m-13 1h1m-14 4h1"/>
<path stroke="#463480" d="M168 9h1m3 0h1m-7 1h1m5 0h2m6 0h2m1 0h1m-21 1h1m1 0h1m2 0h1m5 0h1m5 0h1m-22 1h1m3 0h1m1 0h1m2 0h1m2 0h1m7 0h1m2 0h1m-25 1h1m3 0h2m5 0h1m2 0h2m1 0h1m3 0h1m2 0h1m-25 1h1m3 0h1m7 0h1m11 0h1m-26 1h1m2 0h1m7 0h1m15 0h1m1 0h1m-33 2h2m5 1h2m-9 1h1m9 0h2m1 0h1m18 0h1m-41 1h5m14 0h2m22 0h1m-42 1h4m2 0h1m11 0h2m1 0h2m13 0h1m3 0h1m-44 1h1m4 0h1m4 0h1m9 0h2m2 0h1m-25 1h1m1 0h1m1 0h2m2 0h1m10 0h1m1 0h3m19 0h1m-46 1h1m1 0h1m1 0h1m7 0h1m3 0h1m-16 1h1m2 0h2m4 0h1m39 0h1m-1 1h1m-6 2h1m-4 1h3m-51 1h1m44 0h1m7 0h1m2 0h1m-12 1h2m11 0h1m-11 1h1m9 0h1m-10 1h3m2 1h1m1 0h1m2 0h1m-60 1h2m52 0h2m1 0h1m-62 1h4m2 0h1m52 0h1m3 0h1m-66 1h1m3 0h1m1 0h1m54 0h1m-59 1h1m-6 1h1m62 0h1m1 0h1m-142 1h2m-2 1h1m140 0h1m-142 1h1m2 0h1m-4 1h2m2 0h1m135 0h1m-141 1h1m-1 1h5m131 0h1m-135 1h1m1 0h1m1 0h1m29 0h3m2 0h2m-43 1h2m1 0h1m30 0h2m1 0h5m2 0h1m98 0h1m-144 1h1m1 0h1m1 0h3m29 0h5m1 0h3m-45 1h3m2 0h1m1 0h1m26 0h3m2 0h1m2 0h5m-47 1h1m2 0h2m3 0h1m23 0h3m1 0h2m4 0h3m1 0h4m1 0h1m-48 1h3m1 0h1m23 0h2m3 0h2m6 0h2m1 0h2m1 0h2m-52 1h1m2 0h3m1 0h2m26 0h1m1 0h1m1 0h1m3 0h1m1 0h4m-49 1h1m3 0h3m1 0h2m22 0h1m2 0h5m6 0h3m3 0h1m-53 1h7m1 0h2m21 0h2m2 0h3m1 0h1m9 0h2m-52 1h1m1 0h1m2 0h1m26 0h2m1 0h2m1 0h1m1 0h1m6 0h3m3 0h1m-54 1h1m3 0h2m3 0h2m21 0h2m2 0h2m1 0h2m6 0h4m-49 1h1m1 0h1m3 0h3m18 0h13m4 0h1m1 0h3m-44 1h2m19 0h3m2 0h2m2 0h1m3 0h2m3 0h1m-21 1h6m1 0h2m1 0h1m1 0h2m2 0h1m1 0h1m-39 1h1m20 0h1m1 0h2m1 0h1m2 0h1m1 0h1m1 0h1m-37 1h1m20 0h2m2 0h1m1 0h8m1 0h2m-39 1h2m18 0h1m1 0h12m1 0h2m3 0h1m-22 1h4m1 0h1m1 0h6m2 0h3m1 0h3m-42 1h1m2 0h2m14 0h1m1 0h1m1 0h1m1 0h3m3 0h2m1 0h3m1 0h3m-41 1h1m1 0h1m6 0h2m1 0h2m1 0h1m1 0h1m2 0h1m2 0h1m1 0h1m1 0h3m1 0h1m2 0h2m1 0h2m1 0h1m-39 1h1m3 0h1m3 0h1m2 0h5m2 0h7m1 0h1m1 0h7m1 0h3m-42 1h1m2 0h2m3 0h1m5 0h1m1 0h1m2 0h2m1 0h2m1 0h2m3 0h1m3 0h2m2 0h3m-36 1h2m2 0h1m7 0h1m1 0h4m1 0h3m5 0h1m1 0h3m2 0h2m-41 1h1m16 0h1m1 0h2m1 0h1m1 0h3m3 0h3m4 0h1m1 0h1m-33 1h2m3 0h1m4 0h2m2 0h1m2 0h1m2 0h1m2 0h4m1 0h1m2 0h2m-40 1h1m4 0h1m12 0h2m1 0h1m2 0h5m1 0h3m5 0h1m-25 1h1m4 0h4m2 0h3m3 0h4m2 0h1m-39 1h1m9 0h1m1 0h1m7 0h4m1 0h10m1 0h3m-33 1h1m2 0h1m2 0h1m5 0h1m2 0h7m1 0h3m2 0h1m2 0h1m-27 1h2m1 0h1m6 0h4m2 0h1m1 0h5m1 0h1m1 0h2m-26 1h1m6 0h2m1 0h2m1 0h1m1 0h3m5 0h2m-26 1h1m2 0h1m4 0h2m1 0h1m1 0h1m3 0h1m1 0h2m2 0h1m1 0h1m-37 1h2m3 0h2m12 0h1m1 0h1m3 0h1m5 0h4m-22 1h1m2 0h1m3 0h3m1 0h1m1 0h2m1 0h4m1 0h1m-72 1h1m37 0h2m2 0h1m4 0h1m2 0h1m8 0h1m1 0h3m1 0h1m1 0h3m1 0h2m-73 1h1m37 0h1m7 0h1m13 0h1m1 0h1m1 0h2m2 0h2m1 0h2m-31 1h1m12 0h1m4 0h1m2 0h2m1 0h2m2 0h1m-35 1h1m4 0h1m4 0h1m3 0h1m6 0h2m1 0h8m1 0h4m-72 1h1m39 0h1m1 0h1m3 0h1m1 0h1m8 0h9m1 0h3m-74 1h1m1 0h1m38 0h1m2 0h2m1 0h2m3 0h1m3 0h1m5 0h3m1 0h8m-40 1h3m2 0h1m6 0h4m1 0h1m3 0h2m1 0h1m4 0h9m2 0h1m-75 1h1m1 0h1m30 0h1m9 0h1m4 0h1m4 0h4m3 0h1m4 0h4m2 0h1m1 0h2m-76 1h2m1 0h1m8 0h1m20 0h3m1 0h4m4 0h1m5 0h2m1 0h3m4 0h1m3 0h2m2 0h2m1 0h1m1 0h1m16 0h1m-90 1h1m4 0h1m4 0h3m17 0h1m8 0h2m2 0h1m4 0h1m1 0h2m2 0h1m1 0h1m1 0h1m2 0h1m3 0h3m2 0h1m2 0h1m15 0h1m-81 1h4m5 0h1m2 0h1m3 0h3m3 0h1m1 0h3m1 0h4m3 0h1m2 0h2m1 0h1m2 0h1m1 0h2m2 0h5m1 0h1m1 0h1m1 0h1m1 0h1m1 0h2m-73 1h1m27 0h1m2 0h1m1 0h3m2 0h1m4 0h1m6 0h2m6 0h1m1 0h1m1 0h1m1 0h3m1 0h3m-54 1h1m10 0h2m4 0h3m1 0h1m2 0h2m1 0h2m1 0h1m4 0h3m1 0h4m1 0h1m3 0h6m-55 1h2m1 0h1m2 0h1m7 0h1m1 0h2m6 0h2m9 0h2m3 0h2m2 0h1m2 0h1m2 0h2m1 0h2m-56 1h3m20 0h1m5 0h9m1 0h1m2 0h1m2 0h1m2 0h2m2 0h2m1 0h1m-69 1h1m14 0h1m4 0h1m12 0h1m15 0h2m1 0h1m1 0h3m2 0h1m2 0h1m3 0h1m1 0h1m-56 1h1m1 0h1m6 0h2m1 0h1m6 0h2m8 0h1m1 0h1m2 0h3m1 0h1m1 0h1m4 0h2m3 0h2m1 0h2m1 0h1m-56 1h1m1 0h1m2 0h1m1 0h1m6 0h1m13 0h3m1 0h1m2 0h1m2 0h6m1 0h1m1 0h1m1 0h1m-65 1h1m9 0h2m2 0h2m8 0h1m4 0h1m2 0h1m9 0h1m4 0h1m3 0h1m2 0h2m1 0h1m3 0h1m1 0h1m1 0h1m1 0h1m-63 1h1m11 0h3m3 0h1m7 0h1m17 0h1m1 0h2m6 0h2m2 0h1m2 0h1m8 0h1m-60 1h2m1 0h1m2 0h1m3 0h1m4 0h1m21 0h1m2 0h1m4 0h2m3 0h1m11 0h2m-61 1h1m9 0h1m10 0h1m3 0h1m11 0h1m2 0h1m1 0h1m3 0h2m9 0h1m1 0h1m-75 1h1m9 0h2m8 0h1m36 0h1m2 0h1m8 0h1m1 0h2m-53 1h1m6 0h1m18 0h1m15 0h1m10 0h1m3 0h1m-66 1h1m2 0h1m4 0h1m24 0h1m24 0h1m1 0h1m5 0h1m-66 1h1m3 0h3m2 0h1m20 0h1m26 0h4m3 0h1m-64 1h2m1 0h3m2 0h1m46 0h1m5 0h1m-65 1h1m3 0h4m2 0h1m7 0h1m34 0h1m8 0h1m-72 1h1m8 0h1m7 0h1m1 0h1m8 0h1m3 0h1m10 0h2m-46 1h1m13 0h1m6 0h2m11 0h1m1 0h1m5 0h1m-33 1h1m3 0h1m1 0h2m2 0h1m1 0h1m2 0h1m-16 1h2m3 0h1m5 0h2m3 0h1m13 0h1m-34 1h1m2 0h1m3 0h1m1 0h1m1 0h1m1 0h1m19 0h1m-38 1h1m3 0h1m3 0h1m3 0h1m1 0h1m1 0h1m2 0h2m-21 1h1m10 0h1m3 0h1m26 0h1m-33 1h4m4 0h1m-8 1h2m1 0h2m-6 1h1m2 0h2m-6 2h1m3 0h2m-6 1h1m11 0h2m-3 1h1m2 0h1m30 1h1m-34 1h1m2 0h1m-3 1h4m-4 1h3m-1 1h1m1 0h1m-2 1h1m1 0h1m-2 1h1m-3 1h1m1 0h2m0 1h2m-4 1h1m1 0h1m0 1h1m0 1h1m15 0h1m15 0h1m1 0h1m-38 1h2m1 0h1m16 0h1m4 0h2m-28 1h1m1 0h1m2 0h1m15 0h1m4 0h1m2 0h1m3 0h1m-33 1h2m18 0h1m14 0h1m3 0h1m1 0h1m-40 1h2m17 0h1m-18 1h1m8 0h1m3 0h1m14 0h2m7 0h2m1 0h1m-42 1h1m29 0h2"/>
<path stroke="#3E4989" d="M169 8h1m-1 1h1m-8 1h1m1 0h2m5 0h1m-11 1h2m3 0h1m3 0h2m1 0h1m1 0h1m3 0h1m1 0h2m-21 1h1m6 0h2m2 0h1m2 0h2m5 0h1m-27 1h1m3 0h1m2 0h1m2 0h1m2 0h2m-16 1h1m4 0h1m1 0h1m1 0h2m1 0h2m1 0h1m8 0h2m-27 1h2m-3 1h2m1 0h1m-10 2h1m1 0h1m1 0h1m1 0h1m2 0h1m-10 1h3m1 0h1m4 0h1m4 0h2m-13 1h1m2 0h1m6 0h1m-15 1h1m-5 1h1m5 0h1m8 0h1m3 0h2m4 0h1m-26 1h2m7 0h1m1 0h1m4 0h1m9 0h2m-31 1h1m3 0h1m1 0h1m4 0h2m1 0h1m2 0h1m-15 1h1m1 0h1m4 0h1m-13 5h1m-6 5h1m1 0h1m-4 1h1m4 0h1m2 0h1m22 0h1m-31 1h2m27 0h1m-34 1h1m1 0h1m1 0h1m3 0h1m29 0h1m-36 1h2m3 0h1m-12 1h1m10 0h1m-83 1h1m-2 1h1m0 1h2m-3 1h3m1 0h1m-1 1h1m-6 1h2m1 0h1m1 0h1m37 0h1m-42 1h1m1 0h4m34 0h2m-43 1h1m1 0h1m3 0h2m25 0h2m5 0h1m3 0h1m-43 1h2m3 0h1m24 0h1m4 0h1m1 0h1m-39 1h1m3 0h2m27 0h1m3 0h1m1 0h1m3 0h1m4 0h1m-51 1h1m1 0h2m3 0h1m26 0h1m4 0h6m2 0h1m2 0h1m-51 1h1m1 0h2m28 0h1m1 0h1m2 0h1m1 0h1m1 0h1m3 0h1m-44 1h2m4 0h1m23 0h1m1 0h2m10 0h1m5 0h1m-53 1h1m7 0h1m25 0h2m11 0h1m1 0h1m2 0h1m-52 1h1m8 0h1m23 0h1m15 0h2m-45 1h2m25 0h2m2 0h1m2 0h1m9 0h1m-51 1h1m1 0h1m2 0h1m35 0h1m-34 1h1m17 0h1m3 0h1m3 0h2m1 0h3m4 0h1m1 0h2m-48 1h1m30 0h1m2 0h1m1 0h1m2 0h1m4 0h1m-44 1h1m2 0h1m19 0h2m1 0h1m2 0h1m1 0h2m1 0h1m1 0h1m1 0h1m3 0h1m-43 1h1m23 0h1m11 0h1m2 0h1m-37 1h1m1 0h1m15 0h1m12 0h1m2 0h3m1 0h1m-38 1h1m28 0h1m7 0h1m-42 1h1m3 0h1m14 0h1m1 0h1m1 0h1m4 0h1m3 0h1m3 0h1m-39 1h1m5 0h1m5 0h1m2 0h1m1 0h1m1 0h2m1 0h2m1 0h1m1 0h1m-28 1h1m11 0h1m6 0h1m8 0h1m1 0h1m7 0h1m-38 1h1m10 0h2m1 0h1m1 0h2m2 0h1m2 0h1m2 0h3m1 0h1m5 0h1m3 0h1m-38 1h1m18 0h1m3 0h5m1 0h1m3 0h1m3 0h1m-38 1h2m2 0h1m5 0h1m3 0h1m8 0h3m3 0h4m3 0h1m-40 1h1m2 0h1m9 0h1m1 0h1m2 0h1m2 0h2m2 0h1m1 0h2m4 0h1m2 0h1m2 0h1m-40 1h1m12 0h1m1 0h2m11 0h1m4 0h1m4 0h1m-38 1h1m1 0h2m1 0h1m1 0h1m1 0h1m4 0h3m10 0h2m4 0h2m-36 1h1m4 0h2m5 0h1m3 0h2m4 0h1m10 0h1m3 0h1m-40 1h1m3 0h1m3 0h1m5 0h1m1 0h1m2 0h2m7 0h1m7 0h1m1 0h2m-37 1h1m5 0h2m2 0h1m2 0h5m4 0h2m1 0h1m7 0h1m-35 1h2m1 0h1m1 0h1m1 0h1m5 0h3m1 0h1m2 0h1m2 0h1m1 0h1m4 0h1m2 0h1m2 0h1m-38 1h1m2 0h1m1 0h1m3 0h1m2 0h1m2 0h1m5 0h1m1 0h1m1 0h3m1 0h1m2 0h1m21 0h1m-46 1h2m4 0h1m4 0h1m1 0h3m1 0h4m6 0h1m-36 1h1m1 0h1m10 0h2m2 0h1m4 0h1m1 0h1m2 0h1m6 0h2m-71 1h1m33 0h1m2 0h1m13 0h2m1 0h2m1 0h1m-62 1h1m3 0h1m32 0h2m4 0h1m2 0h1m4 0h2m4 0h4m1 0h1m4 0h2m-70 1h1m37 0h2m3 0h1m3 0h1m8 0h1m2 0h1m1 0h1m1 0h1m9 0h3m-75 1h2m39 0h1m2 0h1m1 0h1m2 0h1m10 0h1m-61 1h1m37 0h1m1 0h2m1 0h1m1 0h3m1 0h1m3 0h1m1 0h1m2 0h1m14 0h1m-78 1h2m1 0h1m1 0h2m1 0h1m30 0h1m1 0h2m5 0h1m2 0h3m2 0h2m3 0h1m14 0h3m-78 1h1m2 0h1m3 0h1m1 0h1m29 0h1m6 0h1m8 0h1m4 0h1m2 0h1m20 0h1m-80 1h1m2 0h1m1 0h1m26 0h1m4 0h2m1 0h1m7 0h1m4 0h2m2 0h1m1 0h2m10 0h1m-71 1h1m2 0h1m1 0h1m1 0h1m18 0h1m3 0h1m6 0h1m2 0h1m1 0h1m9 0h3m1 0h1m4 0h2m4 0h1m-73 1h1m1 0h2m3 0h4m19 0h1m6 0h1m1 0h1m3 0h1m1 0h3m8 0h1m1 0h1m1 0h2m1 0h1m6 0h1m-65 1h3m5 0h2m14 0h2m11 0h1m6 0h1m1 0h2m4 0h2m13 0h1m-63 1h1m4 0h1m1 0h1m2 0h1m1 0h1m1 0h2m1 0h1m1 0h1m8 0h2m1 0h1m2 0h1m1 0h1m4 0h1m3 0h1m3 0h1m1 0h1m-60 1h2m13 0h1m3 0h1m1 0h1m2 0h2m1 0h1m2 0h2m5 0h1m1 0h2m7 0h2m10 0h1m-61 1h2m19 0h1m1 0h1m4 0h1m6 0h1m1 0h1m5 0h1m4 0h1m1 0h1m3 0h1m3 0h1m6 0h1m2 0h1m-51 1h5m2 0h1m3 0h1m1 0h2m1 0h4m1 0h2m1 0h1m16 0h1m6 0h1m-66 1h1m1 0h1m10 0h1m1 0h1m3 0h1m5 0h1m3 0h2m1 0h1m3 0h1m3 0h3m1 0h1m7 0h1m5 0h1m2 0h1m8 0h2m-60 1h2m5 0h2m1 0h1m5 0h1m3 0h1m2 0h1m3 0h1m1 0h2m1 0h1m10 0h1m1 0h2m2 0h1m1 0h1m-54 1h1m5 0h1m1 0h1m2 0h1m1 0h1m2 0h1m3 0h1m3 0h2m1 0h4m1 0h1m5 0h2m11 0h1m1 0h1m1 0h1m2 0h2m2 0h3m-74 1h2m9 0h1m6 0h3m3 0h2m4 0h1m1 0h1m3 0h1m6 0h2m2 0h1m1 0h1m5 0h1m1 0h1m3 0h1m1 0h1m1 0h1m8 0h1m-74 1h2m4 0h1m2 0h2m2 0h1m5 0h1m2 0h1m5 0h1m1 0h1m8 0h1m1 0h1m11 0h2m1 0h1m2 0h2m1 0h1m5 0h1m1 0h3m-74 1h1m2 0h1m10 0h1m7 0h3m2 0h1m3 0h1m7 0h1m7 0h1m8 0h4m2 0h1m1 0h1m7 0h1m-72 1h2m7 0h1m2 0h1m2 0h2m4 0h1m1 0h1m4 0h2m11 0h1m4 0h1m2 0h2m1 0h1m3 0h1m3 0h1m1 0h1m2 0h1m-55 1h1m2 0h1m11 0h2m15 0h1m2 0h2m9 0h2m1 0h1m2 0h1m2 0h1m8 0h3m-77 1h1m11 0h1m1 0h2m1 0h1m1 0h1m21 0h2m2 0h1m2 0h1m9 0h1m3 0h1m1 0h1m5 0h1m4 0h2m-77 1h1m18 0h2m1 0h1m1 0h1m4 0h2m10 0h1m15 0h1m4 0h1m9 0h1m4 0h2m-68 1h2m3 0h2m25 0h1m-40 1h1m7 0h1m8 0h1m26 0h1m6 0h1m-55 1h2m10 0h1m1 0h1m4 0h1m6 0h1m8 0h1m9 0h2m22 0h1m5 0h1m-75 1h1m1 0h1m9 0h3m4 0h1m1 0h1m1 0h1m3 0h1m2 0h1m6 0h1m1 0h1m6 0h1m21 0h2m1 0h2m3 0h1m-76 1h1m7 0h1m1 0h3m1 0h5m7 0h2m6 0h1m1 0h1m1 0h1m5 0h2m-28 1h1m6 0h1m-25 1h1m5 0h1m3 0h1m4 0h1m2 0h1m2 0h2m-17 1h1m10 0h1m3 0h3m-20 1h1m3 0h1m1 0h1m3 0h1m1 0h1m1 0h2m2 0h1m-21 1h1m7 0h1m2 0h1m1 0h1m3 0h1m1 0h1m-21 1h2m3 0h1m3 0h1m4 0h3m-8 1h1m6 0h2m-9 1h1m-3 1h1m3 1h1m8 1h1m24 0h1m-24 1h1m1 0h1m-5 1h1m1 0h1m1 0h1m-5 1h1m4 0h1m-1 2h2m-5 1h1m2 0h1m-4 1h1m1 0h1m-1 1h1m2 0h2m-6 1h1m1 0h1m2 0h1m-5 1h1m1 0h1m-2 1h1m1 0h1m-3 1h3m2 0h1m22 0h1m18 0h2m-49 1h1m3 0h1m18 0h1m3 0h1m4 0h2m4 0h1m-39 1h1m19 0h2m8 0h1m3 0h1m3 0h1m4 0h1m1 0h1m-46 1h1m1 0h1m15 0h2m9 0h1m2 0h1m4 0h1m3 0h1m-41 1h1m2 0h1m2 0h1m8 0h1m1 0h1m15 0h1m4 0h2m4 0h1m11 0h1m-56 1h2m2 0h2m13 0h1m2 0h2m1 0h1m3 0h2m1 0h2m1 0h1m2 0h1m1 0h3m-44 1h1m2 0h2m10 0h2m2 0h1m1 0h1m13 0h1m4 0h2m2 0h1m-42 1h1m1 0h1m7 0h1m2 0h2m25 0h1m1 0h1m-33 2h2"/>
<path stroke="#365D8D" d="M170 9h2m-9 1h1m3 0h1m1 0h2m4 0h1m2 0h1m-19 1h1m17 0h1m4 0h1m-23 1h1m5 0h1m4 0h1m7 0h1m-21 1h1m22 0h1m-12 1h1m1 0h1m2 0h3m-16 1h1m7 0h2m2 0h1m-27 1h1m1 0h2m6 0h1m1 0h1m4 0h1m-19 1h4m9 0h1m8 0h1m-16 1h1m7 0h1m-18 1h1m3 0h1m3 0h1m10 0h1m-14 1h1m1 0h2m5 0h2m4 0h1m-24 1h1m7 0h1m4 0h1m4 0h1m-11 1h2m16 0h1m-24 1h1m2 0h1m13 0h1m-25 1h2m6 0h2m13 0h2m1 0h2m-30 1h1m1 0h1m7 0h1m2 0h1m-14 1h2m18 0h1m1 0h1m-24 2h1m-2 3h2m-2 1h2m-2 1h1m3 0h1m-6 1h1m-1 1h1m-5 2h1m-1 1h1m3 0h1m1 0h1m-5 1h1m1 0h1m-9 1h1m2 0h1m-5 1h1m0 1h1m-39 7h1m-37 2h1m31 1h1m8 0h2m8 0h2m0 1h1m-52 2h2m1 0h2m33 0h1m10 0h1m1 0h1m-53 1h2m3 1h1m43 0h2m-53 1h2m1 0h1m45 0h2m-49 1h1m3 0h1m1 0h1m-6 1h1m41 0h2m-43 1h1m1 0h1m20 0h1m-27 1h1m1 1h3m-6 1h1m42 0h1m-42 1h1m6 0h1m24 0h1m7 0h2m-43 1h2m2 0h1m4 0h1m-6 1h1m1 0h1m34 0h1m-43 1h2m6 0h1m2 0h2m-11 1h2m2 0h1m3 0h1m1 0h2m1 0h1m-11 1h2m8 0h1m-14 1h2m2 0h1m1 0h1m3 0h2m-15 1h1m1 0h1m1 0h1m2 0h1m8 0h1m22 0h2m-38 1h2m6 0h1m3 0h2m-10 1h1m2 0h1m2 0h1m-12 1h1m3 0h3m6 0h1m23 0h1m-29 1h1m2 0h1m-12 1h1m7 0h1m2 0h1m4 0h1m18 0h2m16 0h1m1 0h1m-55 1h1m7 0h2m4 0h2m11 0h1m-67 1h1m35 0h1m9 0h2m-48 1h1m39 0h1m2 0h1m1 0h1m2 0h1m1 0h3m2 0h1m-52 1h1m34 0h1m2 0h1m3 0h1m1 0h1m3 0h3m-56 1h1m2 0h1m35 0h2m5 0h1m6 0h1m-53 1h1m2 0h1m34 0h1m2 0h1m33 0h1m-79 1h1m52 0h1m-50 1h1m30 0h1m20 0h1m-57 1h1m7 0h1m27 0h1m3 0h1m11 0h1m3 0h1m-50 1h1m25 0h1m3 0h2m9 0h1m-47 1h2m4 0h1m31 0h1m4 0h1m28 0h1m-60 1h1m15 0h1m42 0h1m-75 1h1m7 0h1m6 0h2m15 0h1m8 0h1m1 0h1m1 0h1m20 0h1m-60 1h3m3 0h1m2 0h1m2 0h1m3 0h1m4 0h1m5 0h1m7 0h1m11 0h1m3 0h1m15 0h1m-64 1h1m4 0h1m7 0h1m3 0h1m23 0h2m10 0h2m-62 1h1m11 0h1m9 0h2m1 0h1m6 0h1m1 0h1m22 0h1m2 0h1m-63 1h3m27 0h1m40 0h1m1 0h1m-74 1h1m27 0h2m2 0h1m6 0h2m7 0h1m-45 1h1m6 0h1m10 0h1m15 0h2m8 0h1m8 0h1m14 0h1m-70 1h1m5 0h2m18 0h1m2 0h1m9 0h1m4 0h1m4 0h1m7 0h1m6 0h1m-64 1h1m2 0h1m1 0h1m9 0h1m4 0h1m3 0h1m13 0h1m1 0h1m2 0h1m6 0h1m5 0h2m-55 1h1m2 0h1m3 0h1m2 0h1m3 0h1m4 0h2m6 0h1m11 0h1m1 0h2m8 0h1m-45 1h1m7 0h1m8 0h1m2 0h1m12 0h2m2 0h1m4 0h1m11 0h1m2 0h1m3 0h4m2 0h1m-72 1h1m3 0h1m2 0h1m4 0h2m4 0h2m3 0h2m8 0h1m2 0h3m7 0h1m7 0h1m4 0h1m1 0h1m3 0h1m2 0h1m-67 1h1m6 0h1m3 0h1m2 0h2m5 0h1m21 0h2m2 0h1m4 0h1m2 0h2m1 0h1m-68 1h1m16 0h1m5 0h1m1 0h2m5 0h1m7 0h2m14 0h1m1 0h1m1 0h1m6 0h1m2 0h1m2 0h2m-75 1h1m18 0h1m4 0h1m7 0h1m4 0h1m5 0h1m11 0h1m1 0h1m1 0h1m10 0h1m-68 1h1m1 0h1m10 0h1m6 0h1m5 0h1m28 0h1m11 0h1m-57 1h1m14 0h1m7 0h1m19 0h1m16 0h1m4 0h1m-65 1h1m11 0h1m1 0h2m4 0h2m3 0h1m15 0h1m11 0h1m4 0h1m2 0h1m1 0h1m-60 1h1m14 0h1m2 0h2m4 0h1m1 0h2m20 0h1m10 0h1m-74 1h1m20 0h1m1 0h2m6 0h1m9 0h2m2 0h1m7 0h1m15 0h1m-65 1h1m1 0h1m1 0h1m11 0h1m4 0h1m7 0h1m2 0h1m3 0h2m-44 1h1m1 0h2m1 0h1m2 0h1m31 0h1m-38 1h1m4 0h1m3 0h1m-10 1h2m2 0h1m4 0h1m11 0h1m20 0h1m-37 1h2m1 0h1m32 0h1m-37 1h2m10 0h1m-17 1h1m14 0h1m-17 1h1m9 0h1m59 0h2m-69 1h1m2 0h1m3 0h1m-3 1h1m1 0h1m10 1h1m22 0h1m-13 3h1m-9 1h1m0 2h1m-2 1h1m21 0h1m-26 1h1m19 1h1m-19 1h1m-3 1h1m0 1h1m25 0h1m18 0h1m1 0h1m-25 1h1m7 0h1m5 0h1m-19 1h1m5 0h1m6 0h1m9 0h1m-38 1h1m15 0h1m5 0h1m4 0h1m7 0h2m-36 1h1m13 0h2m4 0h2m5 0h1m2 0h1m11 0h1m-32 1h1m12 0h2m5 0h1m1 0h1m6 0h1m-44 1h1m4 0h1m10 0h1m11 0h1m1 0h1m4 0h1m-36 1h1m22 0h1m16 0h1m17 1h1"/>
<path stroke="#2E6F8E" d="M177 10h1m1 0h1m2 0h1m-19 1h1m11 0h1m-17 1h1m13 0h1m-7 1h1m12 0h1m-28 1h1m4 0h2m12 0h1m9 0h1m-33 1h1m2 0h1m3 0h1m3 0h2m5 0h1m4 0h1m-19 1h1m1 0h1m9 0h1m-16 1h1m3 0h1m10 0h1m1 0h1m1 0h1m-22 1h1m3 0h1m7 0h1m3 0h2m-16 1h1m2 0h1m13 0h1m-2 1h1m-24 1h1m10 0h1m-14 1h1m11 0h1m13 0h1m-8 1h1m-11 1h1m8 0h1m3 0h1m-27 1h1m5 0h1m7 0h1m5 0h1m-19 1h1m8 0h1m11 0h1m-27 1h1m1 4h1m-2 2h2m-2 1h2m-1 1h1m26 1h1m-31 1h1m1 0h1m24 0h1m1 0h1m-2 1h1m-35 1h1m-2 1h1m4 0h1m3 0h1m-8 1h1m5 0h1m-44 12h1m-1 1h1m11 0h1m-1 2h1m-54 1h1m4 0h1m37 0h3m-44 1h1m1 0h1m46 0h1m-48 1h1m41 0h1m1 0h1m2 0h1m-48 1h1m2 0h1m-3 1h1m38 0h1m-45 1h1m-1 1h2m5 0h1m-5 1h1m0 1h2m1 0h1m0 1h1m-3 1h1m3 0h1m-8 1h1m7 1h1m-3 1h2m2 0h1m-10 1h1m2 0h1m2 0h2m28 0h1m-41 1h1m12 0h1m-14 1h1m3 0h2m2 0h1m3 0h1m-13 1h3m1 0h1m5 0h1m3 0h1m1 0h1m-17 2h1m4 0h1m11 0h1m-14 2h1m2 0h2m-44 1h1m33 0h1m2 0h1m2 0h1m1 0h1m9 0h1m19 0h1m19 0h1m-96 1h1m2 0h1m33 0h1m8 0h1m2 0h1m-47 1h1m45 0h1m24 0h1m3 0h1m-77 1h2m2 0h1m32 0h1m9 0h1m1 0h1m1 0h1m24 0h1m-5 1h1m3 0h1m-76 1h1m1 0h1m48 0h1m23 0h1m-73 1h1m-5 1h1m2 0h1m32 2h1m2 0h1m-39 1h1m27 0h1m42 0h1m-75 1h1m1 0h1m15 0h1m-19 1h1m2 0h1m1 0h1m19 0h1m-26 1h1m4 0h2m1 0h1m-2 1h1m1 0h1m4 0h1m1 0h1m2 0h1m1 0h1m5 0h1m4 0h1m6 0h1m10 0h1m21 0h1m-58 1h1m11 0h1m1 0h1m4 0h1m-30 1h1m7 0h2m11 0h1m34 0h1m12 0h1m-73 1h1m10 0h1m6 0h1m6 0h1m1 0h1m2 0h2m37 0h1m-70 1h1m2 0h3m1 0h1m3 0h2m6 0h1m7 0h1m5 0h1m36 0h1m-66 1h1m30 0h1m12 0h1m21 0h1m1 0h2m-74 1h1m2 0h1m2 0h1m2 0h1m16 0h1m7 0h4m11 0h1m20 0h1m-69 1h1m1 0h1m5 0h2m5 0h1m1 0h1m24 0h1m3 0h1m2 0h1m1 0h1m17 0h1m8 0h2m-79 1h1m21 0h1m7 0h1m15 0h1m2 0h1m3 0h1m11 0h1m1 0h1m1 0h1m1 0h1m3 0h3m-80 1h1m6 0h2m6 0h1m1 0h1m1 0h1m9 0h1m1 0h1m9 0h1m12 0h1m15 0h1m9 0h1m-79 1h1m9 0h1m15 0h1m5 0h1m2 0h1m6 0h1m5 0h1m15 0h1m13 0h1m-68 1h1m1 0h1m19 0h1m10 0h1m5 0h1m8 0h2m4 0h1m9 0h1m-74 1h1m9 0h1m10 0h1m11 0h1m1 0h2m9 0h1m8 0h1m4 0h1m6 0h1m4 0h3m1 0h1m-77 1h1m10 0h1m9 0h3m4 0h2m1 0h2m1 0h3m3 0h1m2 0h1m10 0h3m15 0h1m-65 1h1m12 0h2m7 0h1m8 0h1m1 0h1m3 0h1m7 0h3m4 0h1m9 0h1m-73 1h1m25 0h1m2 0h1m24 0h1m2 0h3m11 0h1m2 0h1m3 0h1m-68 1h1m13 0h1m15 0h2m16 0h1m11 0h1m2 0h1m2 0h1m-76 1h1m6 0h1m3 0h1m11 0h1m10 0h1m2 0h1m1 0h1m-34 1h1m8 0h1m8 0h1m-25 1h2m34 0h1m3 0h1m-33 1h1m34 0h1m34 0h1m-75 1h3m1 0h1m-3 1h1m1 0h1m63 0h1m-63 1h1m1 0h1m25 0h1m28 0h1m17 0h1m-76 1h1m2 0h1m3 0h1m-7 1h1m4 0h1m-10 1h1m35 0h1m13 0h1m-46 1h1m30 0h1m-17 2h1m-5 4h1m0 2h1m0 2h1m0 1h1m5 0h1m38 0h2m-48 1h1m25 0h1m4 0h1m10 0h1m-42 1h1m24 0h1m4 0h1m4 0h2m4 0h1m5 0h3m-50 1h1m29 0h1m2 0h1m4 0h1m1 0h2m6 0h1m-43 1h1m15 0h1m2 0h2m10 0h1m5 0h1m1 0h3m11 0h1m-42 1h1m3 0h1m1 0h1m18 0h1m19 0h1m-62 1h1m13 0h1m6 0h1m18 0h1m5 0h1m-45 1h1m23 0h1m1 0h1m3 0h1m18 0h1m-37 1h1m3 0h2m16 0h1m-33 1h1m6 0h1m3 0h1m25 0h1m-27 1h1m2 0h1"/>
<path stroke="#27808E" d="M170 8h1m-10 2h1m5 1h1m-11 3h1m9 1h1m2 0h2m3 0h1m1 0h1m-15 1h1m6 0h1m3 0h1m-17 1h1m1 0h1m3 0h1m4 0h1m-21 1h1m20 0h1m-10 1h1m6 0h2m-12 1h1m5 0h1m2 0h1m2 0h2m-17 1h1m8 0h1m-8 1h1m1 0h1m-18 1h1m12 0h1m0 1h1m1 0h1m1 0h1m-6 1h1m6 0h1m6 0h2m-33 1h1m2 0h1m7 0h1m8 0h1m3 0h1m2 0h1m-29 2h1m1 0h1m0 1h1m-5 1h1m2 0h1m-4 1h1m20 1h1m-23 1h2m-3 1h1m3 2h1m22 0h1m-32 1h1m4 1h1m27 0h1m6 0h1m6 0h2m-51 1h1m9 0h1m22 0h1m-32 1h1m4 0h1m-7 1h1m-20 10h1m-3 3h1m-3 3h1m-48 1h1m-2 1h1m43 0h1m-50 1h1m3 2h1m39 0h1m-37 3h1m43 1h1m2 0h1m-54 1h1m6 0h1m0 1h1m2 0h1m34 0h1m-42 1h1m1 0h1m-10 1h1m8 1h1m-2 1h1m1 0h1m28 1h1m-29 3h1m28 0h1m-42 1h1m1 0h1m5 0h2m7 0h2m-19 1h1m37 0h1m-76 1h1m-2 2h1m53 0h1m25 0h1m1 0h1m-77 1h1m39 0h1m6 0h1m26 0h1m-77 1h1m0 1h1m1 0h1m82 0h1m-11 1h1m-84 1h1m4 0h1m1 0h1m70 0h1m-76 1h1m1 0h1m36 0h1m37 0h1m-73 1h1m6 3h1m76 0h1m-86 1h2m2 0h1m6 0h1m58 0h1m-69 1h2m1 0h1m77 0h1m-83 1h1m3 0h1m4 0h1m10 0h1m-19 1h1m17 0h1m-22 1h2m26 0h1m50 0h1m-51 2h1m3 0h1m5 0h1m31 0h1m3 0h1m-55 1h1m11 0h1m7 0h1m1 0h1m34 0h1m-73 1h2m1 0h1m3 0h1m14 0h1m4 0h1m3 0h1m2 0h1m26 0h2m-63 1h1m2 0h1m1 0h1m2 0h1m8 0h1m12 0h1m44 0h1m-78 1h1m14 0h1m2 0h1m16 0h2m2 0h1m5 0h1m1 0h1m4 0h1m16 0h1m-52 1h1m2 0h1m2 0h1m2 0h2m1 0h1m1 0h2m15 0h1m1 0h1m-43 1h1m5 0h1m7 0h1m12 0h1m8 0h1m2 0h1m12 0h1m1 0h1m4 0h1m-71 1h1m30 0h1m2 0h1m16 0h1m1 0h2m5 0h1m1 0h1m-63 1h1m10 0h1m18 0h1m2 0h1m6 0h1m4 0h1m3 0h1m10 0h1m3 0h1m4 0h1m7 0h1m1 0h1m-39 1h1m7 0h1m10 0h1m5 0h1m1 0h2m8 0h1m-68 1h1m1 0h1m12 0h1m7 0h1m3 0h1m4 0h1m6 0h1m5 0h1m5 0h1m1 0h1m4 0h1m-65 1h1m25 0h1m26 0h2m10 0h1m6 0h1m-76 1h1m2 0h1m23 0h1m13 0h2m13 0h1m5 0h1m-58 1h1m21 0h1m8 0h1m1 0h2m-37 1h1m7 0h2m8 0h1m20 0h2m4 0h1m20 0h1m-33 1h1m4 0h1m4 0h1m2 0h1m13 0h1m13 1h1m-73 1h1m39 0h1m-25 1h1m24 0h1m-41 1h1m2 0h1m34 0h1m-39 1h1m-1 1h1m1 0h1m15 0h1m-4 2h1m5 0h1m27 0h1m9 0h1m18 1h1m-62 2h1m27 0h1m27 0h1m1 0h1m-37 1h1m36 0h1m-53 2h1m34 0h1m-25 1h1m-18 1h1m17 0h1m31 0h1m-1 1h1m-5 1h1m2 0h3m-31 1h1m4 0h1m6 0h2m13 0h1m11 0h1m-52 1h1m19 0h1m4 0h1m9 0h5m12 0h1m-40 1h1m13 0h1m2 0h1m22 0h1m-61 1h1m7 0h1m9 0h1m15 0h1m26 0h1m-55 1h1m20 0h1m3 0h1m6 0h1m16 0h1m-10 1h1m-34 1h1m11 0h2m11 0h2m-25 1h1m16 0h2m9 0h1m-22 1h1m13 0h1m8 0h2m-29 1h1m-2 1h1"/>
<path stroke="#21918C" d="M184 11h1m-1 1h2m-10 1h1m2 2h1m-16 1h1m4 0h1m-14 1h1m-4 1h1m15 0h1m1 0h1m-13 1h1m12 1h2m-2 1h1m-11 2h1m-2 1h1m-3 1h1m-12 1h1m8 0h1m-19 1h1m7 0h1m3 0h1m-17 7h1m4 0h1m26 1h1m-4 1h1m8 1h1m1 1h1m-45 1h1m30 0h1m-30 1h1m5 0h1m-7 1h1m-8 3h1m12 1h1m-14 1h1m1 2h1m-7 2h1m-16 4h1m-9 1h1m-42 3h1m47 0h1m-54 1h1m46 0h1m2 0h1m27 0h1m-16 1h1m-4 1h1m-7 1h1m5 0h1m-59 1h1m58 1h1m-11 4h1m-51 1h1m39 0h1m-39 1h1m37 0h1m-3 4h1m102 0h1m-137 3h1m50 1h1m-54 1h1m37 0h1m5 0h1m8 1h1m-94 1h1m80 0h1m11 1h1m-92 1h1m69 1h1m2 0h1m-73 1h1m32 1h1m-36 1h1m70 0h1m18 0h1m-10 1h1m2 0h1m-86 1h1m72 0h1m6 0h1m-82 1h1m1 0h1m20 2h1m59 0h1m-12 1h1m-69 1h2m7 0h1m10 0h1m47 0h1m-68 2h3m2 0h1m63 0h2m8 0h1m3 0h1m-56 1h1m-29 1h1m34 0h1m29 0h1m-42 1h2m16 0h1m-41 1h1m2 0h1m17 0h1m7 0h1m3 0h1m2 0h1m28 0h1m-64 1h1m11 0h1m14 0h2m1 0h1m-31 1h1m25 0h2m1 0h1m4 0h1m8 0h1m19 0h1m-66 1h1m9 0h1m23 0h2m15 0h1m5 0h1m7 0h1m-68 1h1m2 0h1m10 0h1m11 0h2m4 0h1m3 0h1m2 0h1m8 0h1m5 0h1m3 0h1m4 0h1m-39 1h1m2 0h1m7 0h1m2 0h2m5 0h1m2 0h1m5 0h1m4 0h1m2 0h2m14 0h1m9 0h1m-86 1h1m36 0h1m9 0h1m1 0h1m6 0h1m4 0h2m13 0h1m-78 1h1m26 0h1m8 0h1m2 0h1m1 0h1m4 0h2m2 0h1m4 0h1m1 0h1m2 0h1m-2 1h1m1 0h1m1 0h2m-29 1h1m10 0h1m10 0h1m2 0h2m-61 1h1m29 0h1m2 0h1m21 0h1m8 0h1m-27 1h2m19 0h1m-58 1h1m24 0h1m7 0h1m5 0h1m21 0h1m-34 1h1m6 0h1m10 0h1m21 0h1m-50 1h1m22 0h1m-2 1h1m1 0h1m-40 1h1m24 0h1m4 0h1m33 0h1m-66 1h1m61 0h1m12 0h1m-76 1h1m4 0h1m23 0h1m7 0h1m12 0h1m-50 1h1m16 0h1m21 0h1m34 0h1m-75 1h2m5 0h1m17 0h1m9 0h1m-3 1h1m14 0h1m-10 1h1m12 0h1m-34 1h1m18 0h1m34 0h1m1 0h1m-63 1h1m29 0h1m-14 2h1m11 0h2m31 0h1m-62 1h1m25 0h1m19 0h1m-23 1h1m-8 1h1m40 0h1m-37 1h1m27 0h1m1 0h1m-8 1h1m8 0h1m-45 1h1m8 0h1m6 0h1m15 0h1m4 0h1m-24 1h1m4 0h1m31 0h1m-52 1h1m10 0h1m5 0h1m2 0h1m19 0h1m1 0h1m-26 1h1m14 0h1m8 0h1m-18 1h1m2 0h1m10 0h1m11 0h1m1 0h1m-59 1h1m70 0h1m-49 1h1m16 0h1m6 0h1m7 0h1m2 0h1m-52 1h1m16 0h1m-21 1h1m13 0h1m1 0h1m26 0h1m-35 1h1m2 0h1m35 0h1m2 1h1m3 1h1"/>
<path stroke="#1FA188" d="M174 10h1m-16 3h1m-9 3h1m21 1h1m-2 1h1m-2 1h1m-11 2h2m-7 2h1m1 0h1m-3 2h1m10 0h1m-24 1h1m2 0h1m19 1h1m-28 1h1m1 7h1m-4 2h1m32 0h1m1 0h1m-10 1h1m-39 1h1m-1 1h1m8 0h1m-11 1h1m3 0h1m1 0h1m2 0h1m2 1h1m-5 1h1m7 0h1m-17 2h1m15 1h1m-7 1h1m-10 1h1m-8 1h1m-1 1h1m-15 1h1m-9 2h1m0 1h1m-41 2h1m45 2h1m-46 1h1m53 1h1m-62 1h1m60 0h1m-9 1h1m7 1h1m-9 1h1m1 1h1m-14 3h1m11 1h1m10 0h1m-55 1h1m37 0h1m-9 1h1m8 0h1m92 3h1m-95 1h1m-51 1h1m58 0h1m-8 1h1m2 2h1m-15 1h1m2 0h1m12 0h1m15 1h1m-36 1h1m4 0h1m9 1h1m2 1h1m-17 1h1m4 0h1m-1 1h1m-86 1h1m77 0h1m2 0h1m3 0h1m-78 1h1m88 0h1m-4 2h1m-79 1h1m60 0h1m-66 1h1m-3 2h1m3 0h1m-4 1h1m0 1h1m-1 2h1m1 0h1m28 0h1m61 0h1m-62 1h1m28 0h1m11 0h1m-30 1h1m-47 1h2m-4 1h1m34 0h2m13 0h1m-49 1h1m64 0h1m-66 1h2m28 0h1m15 0h1m4 0h1m13 0h1m-41 1h1m4 0h1m2 0h1m10 0h1m5 0h1m2 0h1m3 0h1m6 0h1m-61 1h1m20 0h1m16 0h1m17 0h1m5 0h1m13 0h1m-80 1h1m2 0h1m25 0h1m19 0h1m26 0h1m-31 1h1m4 0h1m21 0h1m11 0h1m-83 1h1m25 0h1m23 0h1m6 0h2m4 0h1m1 0h1m-68 1h1m45 0h1m2 0h1m17 0h1m-33 1h1m6 0h1m2 0h1m3 0h1m-6 1h2m2 0h1m-8 1h1m5 0h1m1 0h1m-44 1h1m15 0h1m1 0h1m7 0h1m4 0h2m3 0h1m5 0h1m9 0h1m12 0h1m-51 1h1m13 0h1m3 0h1m3 0h1m2 0h1m6 0h1m-52 1h1m3 0h1m22 0h1m2 0h1m-27 1h1m4 1h1m12 0h1m9 0h1m-26 1h1m12 0h1m18 0h1m6 0h1m4 0h1m6 0h1m8 0h1m-63 1h1m4 0h1m3 0h1m20 0h1m7 0h1m3 0h1m8 0h1m-51 1h1m26 0h1m5 1h2m8 0h1m2 0h1m8 0h1m-24 1h1m7 0h1m0 1h1m15 0h1m13 0h1m-40 1h1m10 0h1m7 0h1m22 0h1m-42 1h1m6 0h1m32 0h1m-31 1h1m3 0h1m27 0h1m-45 1h1m10 0h1m29 0h1m2 0h1m-37 1h1m2 0h1m-28 1h1m17 0h1m10 1h3m20 0h1m-18 1h1m6 0h1m1 0h1m7 0h1m-31 1h1m-13 1h1m17 0h1m16 0h1m5 1h1m7 0h1m2 0h1m3 0h1m-40 1h1m21 0h1m12 0h1m-46 1h1m-15 1h1m13 0h1m16 0h1m-19 1h1m12 0h1m7 0h1m2 0h1m17 0h1m2 0h1m5 0h1m1 0h1m-62 1h1m9 0h2m18 0h1m-23 2h1m38 0h1m3 0h1m-45 4h1m6 1h1"/>
<path stroke="#2CB17E" d="M176 10h1m-24 4h1m24 1h1m1 0h1m-15 1h1m5 0h1m-12 1h1m1 0h1m1 1h1m-8 1h1m-2 1h1m2 0h1m-2 1h2m-4 2h1m2 0h1m10 0h1m-9 2h1m-11 1h2m13 0h1m-29 1h1m24 0h1m3 0h1m17 0h1m-47 1h1m11 3h1m-13 1h1m42 1h1m-21 4h1m14 0h1m-8 1h2m-10 1h1m6 0h1m3 0h1m-44 1h1m-6 2h1m18 0h1m1 1h1m-21 2h1m6 0h1m-8 1h1m1 1h1m2 0h1m5 0h1m-16 1h1m71 0h2m-91 4h1m8 0h1m8 0h1m-2 1h1m-18 4h1m-3 2h1m8 0h1m-15 1h1m-3 1h2m8 2h1m4 0h1m-17 2h1m1 0h1m3 0h1m-4 1h1m-1 1h1m1 0h1m2 1h1m-4 1h1m1 0h1m11 0h1m-4 1h1m-13 1h1m8 0h1m-17 2h1m-2 1h1m102 1h1m-106 3h1m2 0h1m7 0h1m4 0h1m-10 1h1m-2 1h1m6 0h1m-15 3h1m4 0h3m-4 1h1m6 0h1m3 0h1m-15 2h1m-73 1h1m78 0h1m8 0h1m-13 1h1m8 1h1m-16 1h1m8 0h1m4 0h1m8 0h1m-85 2h1m75 0h1m-16 1h1m12 0h1m-78 1h1m-4 1h1m1 0h2m76 0h1m4 1h1m-85 1h1m70 0h1m2 0h1m-5 2h2m14 0h1m-57 1h1m54 0h1m-91 1h1m89 0h1m-85 1h1m28 0h1m-24 1h1m69 0h1m-71 1h1m15 0h1m25 0h1m34 0h1m-81 1h1m17 0h1m4 0h1m2 0h1m8 0h1m25 0h1m-67 1h1m44 0h1m5 0h1m9 0h1m1 0h1m14 0h1m-76 1h1m31 0h1m24 0h1m17 0h1m5 0h1m2 0h1m-39 1h1m9 0h1m-29 1h1m27 0h1m-55 1h1m23 0h1m23 0h1m6 0h2m3 0h1m5 0h1m-27 1h1m16 0h1m4 0h1m-63 1h1m27 0h1m4 0h1m37 0h1m-38 1h1m15 0h1m5 0h1m-30 1h2m8 0h1m14 0h2m10 0h1m-46 1h3m24 0h1m2 0h1m31 0h1m-80 1h1m1 0h1m22 0h1m3 0h3m6 0h1m3 0h1m21 0h1m13 0h1m-50 1h1m22 0h1m10 0h1m1 0h1m-55 1h1m3 0h1m29 0h1m16 0h2m16 0h1m-65 1h1m2 0h1m38 0h2m19 0h1m-79 1h1m21 0h1m15 0h1m6 0h1m3 0h1m6 0h1m16 0h1m-73 1h1m1 0h1m20 0h1m7 0h1m8 0h1m2 0h1m12 0h1m19 0h1m-49 1h1m9 0h2m-11 1h1m12 0h1m1 0h1m3 0h1m14 0h1m-32 1h1m14 0h1m21 0h1m5 0h1m2 0h1m-72 1h1m13 0h1m12 0h1m11 0h2m-34 1h1m30 0h1m7 0h1m23 0h1m-47 1h1m1 0h1m9 0h1m-14 1h1m3 0h1m-2 1h1m1 0h1m9 0h1m31 0h1m-46 1h1m12 0h1m18 0h1m9 0h1m-59 1h1m17 0h1m1 0h1m35 0h1m-35 1h1m6 0h1m22 1h1m6 0h1m1 1h1m-16 1h1m-45 1h1m8 0h1m52 0h1m3 0h1m-12 1h2m3 0h1m-36 1h1m32 0h1m-57 1h1m25 0h1m11 0h2m6 0h1m11 0h1m-37 1h1m13 0h1m6 0h1m12 0h1m-39 1h1m1 0h2m22 0h1m20 0h1m-57 3h1m15 1h1m-5 2h1"/>
<path stroke="#48C16E" d="M188 11h1m-23 4h1m14 0h1m-21 1h1m15 0h1m-19 1h1m5 0h1m1 0h1m-10 1h3m-15 1h1m13 3h1m11 0h1m12 1h1m-29 2h1m8 0h1m1 0h1m-24 1h1m4 0h1m5 0h1m3 0h1m-12 1h1m3 0h1m1 0h1m-13 1h1m-4 2h1m-1 1h1m10 0h1m15 0h1m-29 1h2m-1 1h1m16 0h1m9 0h2m14 0h1m-44 2h1m24 0h1m14 0h1m-39 1h1m22 0h1m5 0h1m6 1h1m-49 1h1m9 0h1m38 0h1m-44 3h1m-12 1h1m4 0h2m3 0h1m3 0h1m3 0h1m-13 1h1m3 0h1m5 0h1m-11 1h1m11 0h1m-11 1h1m9 0h1m-12 1h1m4 0h1m2 0h1m-12 1h1m1 0h1m-7 1h1m4 0h1m8 0h1m-15 1h1m1 0h1m8 0h1m-3 1h1m-23 1h1m-5 1h1m2 0h1m5 0h1m-21 1h1m16 0h1m2 1h1m-10 1h1m-14 1h1m12 0h1m5 2h1m1 0h2m9 0h1m-4 1h1m-18 1h1m-8 1h2m1 0h1m3 2h1m8 0h1m14 0h1m-34 1h1m10 0h1m-3 1h1m1 0h1m-14 1h1m4 0h1m13 0h1m-20 1h1m1 0h1m16 0h1m-16 1h1m1 0h1m0 1h1m2 0h1m8 0h1m-15 1h1m9 0h1m-12 1h1m10 0h1m5 0h1m-25 1h2m1 0h1m15 0h1m2 0h1m12 0h1m-30 1h1m2 0h1m91 0h1m-69 2h1m-25 1h3m4 0h1m-5 1h1m5 0h1m-21 2h1m0 1h1m1 0h1m5 0h2m6 0h1m-14 1h1m3 1h1m-9 1h1m9 0h1m17 0h1m-30 1h2m3 0h1m11 0h1m1 0h2m-21 1h1m8 0h2m5 0h1m-14 1h1m9 0h1m9 0h1m-14 1h1m5 0h1m-17 1h1m3 0h1m6 1h2m15 0h1m-28 1h1m18 0h1m-21 1h1m5 0h1m-71 1h1m74 0h2m2 0h1m-87 1h1m4 1h1m68 0h2m7 0h1m2 0h1m-15 1h1m7 0h1m7 0h1m-10 2h1m7 0h1m-12 1h1m2 0h1m-42 1h1m59 0h1m-64 1h1m-32 2h1m5 2h1m33 0h1m-39 1h2m2 0h2m83 0h1m-88 1h1m42 0h2m34 0h1m-80 1h1m30 0h1m14 0h1m-46 2h1m1 0h1m23 0h1m18 0h1m1 0h1m24 0h1m-48 1h1m15 0h1m2 0h1m13 0h1m2 0h1m5 0h1m-18 1h1m4 0h1m2 0h1m5 0h1m-27 1h1m4 0h1m1 0h2m1 0h1m9 0h1m1 0h1m11 0h1m-53 1h1m6 0h1m4 0h1m1 0h1m12 0h1m13 0h1m13 0h1m-55 1h2m2 0h1m9 0h1m5 0h1m5 0h1m25 0h1m5 0h1m-58 1h1m3 0h1m1 0h1m3 0h1m3 0h3m12 0h1m18 0h1m-51 1h1m6 0h1m12 0h1m25 0h1m3 0h1m-55 1h1m8 0h2m1 0h2m4 0h1m14 0h1m2 0h1m14 0h1m3 0h1m8 0h1m-53 1h1m4 0h1m1 0h2m1 0h1m4 0h1m4 0h1m18 0h2m1 0h1m1 0h1m6 0h1m-68 1h1m15 0h1m7 0h1m4 0h1m3 0h1m4 0h1m2 0h1m1 0h1m7 0h1m3 0h2m-68 1h1m14 0h1m17 0h1m15 0h1m5 0h1m8 0h1m8 0h1m1 0h1m-41 1h1m1 0h1m1 0h2m5 0h3m1 0h1m4 0h1m13 0h1m7 0h1m-45 1h2m3 0h2m8 0h1m2 0h1m16 0h1m5 0h1m-47 1h1m8 0h1m1 0h1m2 0h1m2 0h1m-7 1h1m7 0h1m3 0h1m7 0h1m18 0h1m-41 1h1m3 0h1m16 0h1m18 0h1m-41 1h1m11 0h1m11 0h1m7 0h2m2 0h1m-44 1h1m5 0h1m4 0h1m24 0h2m1 0h2m5 0h1m4 0h1m-50 1h1m4 0h2m4 0h1m5 0h3m7 0h1m10 0h1m5 0h1m2 0h1m-55 1h1m6 0h1m4 0h1m7 0h1m26 0h1m2 0h1m-51 1h1m10 0h2m25 0h2m4 0h2m6 0h1m-44 1h1m1 0h1m2 0h1m2 0h1m19 0h1m-23 1h2m11 0h1m19 1h1m1 0h1m3 0h1m-44 1h1m36 0h1m3 0h1m9 0h1m-17 1h1m9 0h1m-53 1h1m38 0h1m5 0h1m5 0h1m22 0h1m-76 1h1m39 0h1m7 0h2m5 0h1m14 0h2m-24 1h1m3 0h1m1 0h1m4 0h1m15 0h1m-61 1h1m27 0h1m2 0h1m2 0h1m-44 1h1m9 0h1m17 0h1m10 0h2m-1 1h1m-40 1h1m41 0h1m1 0h2m1 0h1m-65 1h1m56 0h1m1 0h1m2 0h1m-56 2h1m14 2h1m-4 1h1"/>
<path stroke="#6ECE58" d="M167 8h1m16 2h1m-26 1h1m25 0h1m-25 4h1m21 0h1m-19 1h1m9 0h1m-28 1h1m17 0h1m6 1h1m-14 1h1m-2 1h1m22 0h1m-22 2h1m-1 1h1m24 1h1m-22 1h1m-11 1h1m8 0h1m-17 1h1m14 0h1m2 0h1m-3 1h1m0 1h2m-26 2h3m-1 1h1m15 1h1m-18 1h1m1 0h1m7 0h1m14 0h1m11 0h1m-5 1h1m2 1h1m1 0h1m-20 1h1m4 0h2m1 0h1m10 0h1m-42 1h1m22 0h1m6 0h1m1 0h1m-47 1h1m34 0h1m4 0h1m4 0h1m7 0h1m12 0h1m-67 1h1m35 0h1m1 0h1m14 0h1m-41 1h1m-10 1h1m3 0h1m7 0h1m-17 1h1m3 0h1m8 0h2m-18 1h1m5 0h2m18 0h1m-12 1h2m-17 1h1m7 0h1m-7 1h1m7 0h1m1 0h2m8 0h1m-25 1h1m2 0h1m5 0h1m4 0h3m-9 1h1m4 0h1m-8 2h1m-15 1h1m6 0h1m-12 1h1m6 0h1m17 1h1m2 0h1m-25 3h1m-1 1h1m2 0h1m-10 1h2m7 0h1m-12 1h1m24 0h1m1 0h1m-27 1h1m11 0h1m-20 1h2m12 0h1m-16 2h1m15 0h1m1 0h1m2 0h1m-17 1h1m2 0h2m8 0h1m1 0h1m-21 1h1m1 1h1m1 0h1m3 0h1m2 0h1m3 0h1m17 0h1m-34 1h1m11 0h1m9 0h1m-11 2h1m6 0h1m-18 1h1m9 0h1m-13 1h1m1 0h1m2 0h1m7 0h1m18 0h2m-38 1h1m7 0h1m0 1h1m2 0h1m5 0h1m85 0h1m-106 1h1m1 0h1m9 0h1m4 0h1m4 0h1m-23 1h1m7 0h2m5 0h1m19 0h1m-31 1h1m5 0h1m88 0h1m-101 1h2m3 0h2m9 0h1m17 0h1m64 0h1m-98 1h1m4 0h1m2 0h1m-13 1h2m6 0h2m4 1h1m-7 1h1m8 0h2m-15 1h1m7 0h2m2 0h3m2 0h2m-17 1h1m23 0h1m-25 1h1m4 0h1m2 0h1m3 0h3m-17 1h2m2 0h2m8 0h1m2 0h1m4 0h1m2 0h1m-28 1h1m2 0h1m3 0h1m-9 1h1m6 0h1m19 0h1m-19 1h1m5 0h1m8 0h1m-26 1h1m0 1h3m6 0h1m3 0h1m-13 1h1m10 0h1m-76 1h1m75 0h1m-9 1h1m9 0h1m-80 1h1m65 0h1m1 0h2m-4 1h1m2 0h1m-5 1h1m14 0h1m-14 1h1m2 0h1m5 0h1m1 0h1m9 0h1m-21 1h1m-70 4h1m1 0h1m75 0h1m-5 1h1m3 0h1m6 0h1m-84 1h1m73 0h1m2 0h1m-2 1h2m1 0h3m2 0h1m-83 1h1m70 0h1m-77 1h1m3 0h1m42 0h1m27 0h1m3 0h1m2 0h1m-34 1h1m-23 1h1m15 0h1m7 0h2m7 0h1m2 0h1m5 0h1m4 0h1m5 0h1m-56 1h2m4 0h1m11 0h1m1 0h1m6 0h1m2 0h1m9 0h2m1 0h1m10 0h1m-27 1h1m1 0h3m7 0h1m12 0h1m17 0h1m-55 1h1m11 0h2m9 0h1m3 0h1m2 0h1m2 0h1m8 0h1m2 0h1m-56 1h2m1 0h1m15 0h1m12 0h2m5 0h1m8 0h1m-53 1h1m4 0h1m3 0h1m11 0h2m2 0h1m1 0h1m8 0h2m5 0h1m4 0h1m2 0h1m5 0h1m-59 1h1m17 0h1m2 0h1m2 0h1m4 0h1m1 0h1m5 0h1m10 0h1m4 0h1m-65 1h3m11 0h1m3 0h2m2 0h1m5 0h2m3 0h1m3 0h1m4 0h1m1 0h1m1 0h1m1 0h2m5 0h1m6 0h1m-51 1h1m3 0h1m9 0h1m1 0h1m2 0h2m1 0h1m2 0h1m4 0h1m6 0h1m8 0h1m1 0h1m-74 1h1m15 0h1m16 0h1m1 0h1m4 0h1m5 0h1m1 0h1m5 0h1m9 0h1m1 0h1m5 0h1m20 0h1m-72 1h1m12 0h3m6 0h1m3 0h1m8 0h1m1 0h1m7 0h1m1 0h1m7 0h1m1 0h2m-73 1h1m30 0h1m4 0h1m8 0h2m-39 1h1m6 0h1m20 0h1m15 0h1m15 0h1m1 0h1m-45 1h2m1 0h1m12 0h1m4 0h2m15 0h1m3 0h1m4 0h1m-51 1h1m6 0h1m5 0h1m13 0h1m-27 1h1m2 0h1m5 0h2m1 0h3m1 0h1m13 0h1m10 0h1m1 0h1m6 0h1m29 0h1m-88 1h1m9 0h1m2 0h1m6 0h1m3 0h1m2 0h1m7 0h2m7 0h1m4 0h1m1 0h1m4 0h1m31 0h1m-88 1h1m8 0h1m6 0h1m9 0h1m6 0h1m2 0h1m3 0h1m8 0h2m3 0h1m31 0h1m-75 1h1m5 0h1m4 0h1m18 0h1m1 0h2m1 0h1m3 0h1m5 0h1m-58 1h1m6 0h1m7 0h1m2 0h1m25 0h2m-30 1h1m3 0h1m-4 1h1m2 0h1m31 1h1m-43 1h1m36 0h1m9 0h1m-64 1h1m50 0h1m1 0h2m1 0h1m6 0h1m-53 1h1m40 0h1m4 0h1m6 0h1m-49 1h1m37 0h1m-3 1h1m2 0h1m12 0h1m16 0h1m-30 1h1m-55 1h1m76 0h1m-44 1h1m17 0h1m2 0h1m2 0h2m-54 1h1m44 0h1m5 0h3m-46 1h1m3 0h1m-13 1h1m44 0h2m3 0h1m-50 1h2m16 0h1m32 0h1m3 0h1m-49 1h1m3 0h1m1 1h1m3 2h1m-7 1h1m2 0h1m-17 5h1"/>
<path stroke="#95D840" d="M161 9h1m3 0h1m19 1h1m-29 2h1m-2 1h1m25 2h1m-12 1h1m11 0h1m-2 1h1m-9 1h1m-2 1h1m-1 2h1m-4 3h1m-10 1h1m2 0h1m-28 1h1m28 0h1m3 0h1m-30 1h1m1 0h1m1 0h1m4 0h1m1 0h1m4 0h2m1 0h2m-18 1h1m9 0h1m12 0h1m-25 1h1m24 0h1m-26 1h1m12 0h1m1 0h1m-15 1h1m9 0h1m2 0h2m0 1h1m8 0h1m-24 1h1m35 0h2m-50 1h1m23 0h1m8 0h1m2 0h1m15 0h1m-54 1h1m8 0h1m22 0h1m1 0h1m4 0h1m2 0h1m6 0h1m-52 1h2m30 0h1m11 0h1m1 0h1m-48 1h1m45 0h3m-50 1h1m32 0h1m6 0h1m5 0h1m-49 1h1m12 0h1m23 0h1m3 0h1m4 0h1m3 0h1m-53 1h1m15 0h1m23 0h1m-41 1h1m14 0h1m22 0h3m-39 1h1m5 0h1m3 0h1m52 0h1m-64 1h3m3 0h2m2 0h1m-10 1h1m8 0h1m9 0h1m2 0h1m-29 1h1m5 0h1m3 0h1m10 0h1m3 0h1m-26 1h1m2 0h1m2 0h1m1 0h1m4 0h1m9 0h2m-23 1h1m13 0h1m3 0h2m3 0h1m-26 1h2m3 0h1m4 0h1m6 0h1m1 0h1m4 0h1m-23 1h1m2 0h1m-4 1h1m1 0h1m9 0h1m-29 1h1m8 0h1m1 0h1m14 0h1m-3 1h2m-38 1h1m20 0h1m1 0h1m15 0h1m-40 1h1m2 0h1m10 0h1m-15 1h1m13 0h1m4 0h1m-19 1h3m27 1h1m5 0h2m-24 1h1m8 0h1m5 0h1m-10 1h1m11 0h1m-28 1h1m3 0h2m6 0h1m12 0h1m-25 1h1m13 0h1m14 0h1m-31 1h1m3 0h1m5 0h1m2 0h1m2 0h1m12 0h1m-21 1h1m1 0h1m11 0h1m4 0h1m4 0h1m-35 1h1m3 0h1m5 1h1m16 0h1m-22 1h1m6 0h1m-11 1h2m5 0h1m6 0h1m-19 1h1m3 0h1m3 0h1m7 0h1m-21 1h1m9 0h1m5 0h1m-16 1h1m3 0h1m5 0h2m7 0h1m3 0h1m10 0h1m-34 1h1m10 0h1m11 0h1m7 0h1m64 0h1m1 0h1m-101 1h1m9 0h1m2 0h1m7 0h1m10 0h1m65 0h1m-67 1h2m-33 1h1m2 0h1m25 0h2m65 0h1m-96 1h1m3 0h1m3 0h1m22 0h1m-32 1h2m9 0h1m3 0h1m81 0h1m-103 1h1m8 0h2m13 0h1m-18 1h1m4 0h1m1 0h1m4 0h1m-20 1h2m2 0h1m27 0h1m1 0h1m66 0h1m-99 1h1m7 0h1m23 0h1m-36 1h1m7 0h2m6 0h1m4 0h1m3 0h1m-27 1h2m7 0h1m3 0h1m1 0h1m2 0h1m1 0h1m12 0h1m1 0h1m-29 1h1m11 0h1m-13 1h1m-6 1h1m9 0h1m-14 1h1m1 0h1m8 0h1m18 0h2m-28 1h1m1 0h1m7 0h1m17 0h1m-31 1h1m3 0h2m6 0h1m12 0h1m2 0h1m-26 1h1m12 0h1m-7 1h1m1 0h1m3 0h1m-8 1h1m-75 1h1m62 0h1m9 0h1m5 0h2m2 0h1m-86 1h1m68 0h1m1 0h1m2 0h1m3 0h1m2 0h3m-82 1h1m67 0h1m-4 1h1m1 0h1m6 0h1m-3 1h1m5 0h1m11 0h1m-22 1h1m6 0h2m-9 1h1m3 0h2m4 0h1m-9 1h1m1 0h1m8 1h1m2 0h1m4 1h1m-18 1h1m2 0h2m3 0h1m-84 1h1m89 0h1m-88 1h1m72 1h1m2 0h1m3 0h1m-81 1h1m1 0h1m-3 1h1m73 0h2m1 0h1m2 0h1m12 0h1m-95 1h1m2 0h1m42 0h1m27 0h1m4 0h1m3 0h2m-85 1h1m44 0h1m28 0h1m5 0h2m-81 1h1m45 0h1m5 0h1m15 0h1m3 0h1m5 0h1m3 0h1m-59 1h1m1 0h1m2 0h1m14 0h1m6 0h1m1 0h1m5 0h2m10 0h1m3 0h1m-17 1h1m5 0h1m2 0h1m2 0h1m8 0h1m1 0h2m8 0h1m-72 1h1m1 0h1m26 0h1m5 0h2m13 0h1m2 0h1m2 0h2m-56 1h1m13 0h1m5 0h1m5 0h2m6 0h2m5 0h2m3 0h1m6 0h1m-56 1h1m2 0h1m4 0h1m14 0h1m8 0h1m4 0h1m6 0h1m3 0h1m4 0h2m2 0h2m1 0h1m-64 1h2m3 0h1m12 0h1m1 0h1m5 0h1m1 0h1m13 0h1m2 0h2m4 0h1m5 0h1m2 0h1m2 0h1m-60 1h1m10 0h1m3 0h2m1 0h1m3 0h2m1 0h1m3 0h1m6 0h1m4 0h1m12 0h2m1 0h1m1 0h1m12 0h1m-78 1h1m1 0h1m6 0h2m6 0h1m14 0h1m1 0h2m5 0h1m2 0h1m7 0h1m8 0h1m1 0h1m-54 1h1m1 0h1m1 0h1m2 0h1m4 0h1m11 0h1m6 0h1m12 0h1m1 0h1m1 0h1m1 0h1m3 0h1m-72 1h1m12 0h1m6 0h1m18 0h1m3 0h1m8 0h2m8 0h1m5 0h1m-77 1h1m29 0h1m2 0h1m22 0h1m5 0h1m8 0h1m2 0h1m4 0h1m-36 1h1m6 0h2m19 0h1m6 0h1m-52 1h1m18 0h1m7 0h5m1 0h1m5 0h2m4 0h1m2 0h1m1 0h1m-66 1h1m16 0h1m4 0h1m1 0h1m13 0h1m23 0h1m2 0h1m11 0h1m-76 1h1m13 0h1m19 0h1m11 0h1m10 0h1m6 0h1m7 0h1m23 0h1m-81 1h1m7 0h3m6 0h1m4 0h1m1 0h1m4 0h1m7 0h1m11 0h1m6 0h1m22 0h1m-80 1h1m3 0h1m2 0h1m9 0h1m2 0h2m10 0h1m8 0h1m9 0h1m-67 1h1m22 0h1m5 0h2m1 0h1m9 0h1m1 0h2m5 0h1m12 0h1m30 0h2m-73 1h1m29 0h2m5 0h1m1 0h1m-54 1h1m12 0h1m1 0h1m1 0h1m1 0h1m1 0h1m23 0h1m2 0h1m1 0h1m-51 1h1m5 0h1m10 0h1m16 0h1m10 0h2m1 0h2m2 0h1m-62 1h1m9 0h1m8 0h1m18 0h2m14 0h1m6 0h1m-62 1h2m19 0h1m31 0h1m9 0h1m9 0h1m-16 1h1m7 0h2m4 0h1m2 0h1m-57 1h1m37 0h1m2 0h1m6 0h1m-55 1h1m38 0h2m12 0h1m-75 1h1m59 0h1m2 0h1m11 0h1m2 0h1m9 0h1m2 0h1m-17 1h3m3 0h1m6 0h2m-49 1h1m22 0h1m2 0h1m8 0h1m16 0h1m-81 1h2m8 0h1m20 0h1m4 0h1m1 0h1m-43 1h1m6 0h1m49 0h2m4 0h2m1 0h1m-79 1h1m34 0h2m27 0h2m2 0h1m8 0h3m-79 1h2m64 0h1m7 0h1m5 0h1m-71 1h1m7 0h2m20 0h1m-20 1h1m4 0h1m2 0h1m4 0h1m39 0h1m-57 1h1m4 0h2m2 0h1m1 0h3m6 0h2m-20 1h1m16 0h1m-11 1h1m5 0h1m2 0h1m3 0h1m-12 1h1m3 0h1m1 0h1m-19 4h1m1 3h1"/>
<path stroke="#B5DE2B" d="M163 9h2m1 0h1m-7 1h1m25 1h1m-33 2h1m-6 3h1m30 0h1m-34 2h1m24 1h1m-29 2h1m-3 1h1m30 0h1m-33 1h1m42 0h1m-10 1h1m-30 2h1m5 0h1m16 0h1m1 0h1m-30 1h1m1 0h1m17 0h1m21 0h1m-43 1h1m4 0h2m3 0h1m2 0h1m13 0h2m10 0h1m-46 1h1m4 0h1m3 0h1m8 0h1m3 0h1m8 0h1m-33 1h1m6 0h1m9 0h2m15 0h1m-35 1h1m8 1h1m4 0h2m5 0h1m1 0h1m10 0h1m8 0h1m1 0h1m-47 1h1m8 0h1m6 0h2m3 0h1m2 0h1m5 0h3m2 0h1m-9 1h1m14 0h1m1 0h1m1 0h1m-19 1h1m6 0h1m3 0h1m2 0h1m1 0h2m-39 1h1m27 0h2m6 0h1m3 0h1m-42 1h2m18 0h1m7 0h1m20 0h1m-31 1h1m6 0h1m13 0h1m9 0h1m-51 1h1m18 0h1m8 0h2m4 0h1m2 0h1m-18 1h1m1 0h1m11 0h2m-53 1h1m1 0h1m8 1h1m5 0h1m1 0h1m5 0h2m-27 1h2m5 0h1m13 0h2m-23 1h1m6 0h1m2 0h1m4 0h2m1 0h1m5 0h1m-25 1h1m1 0h1m4 0h1m3 0h1m9 0h2m1 0h1m1 0h1m37 0h1m-65 1h1m14 0h1m10 0h1m38 0h1m-68 1h1m4 0h3m9 0h1m4 0h1m3 0h1m-6 1h1m5 0h1m-28 1h2m6 0h1m4 0h2m-12 1h1m3 0h2m2 0h1m5 0h1m-28 1h1m1 0h1m6 0h2m14 0h2m-29 1h1m14 0h1m-6 1h1m5 0h1m7 0h1m44 0h1m-83 1h1m21 0h2m3 0h1m6 0h1m-35 1h3m21 0h1m-12 1h2m1 0h1m1 0h1m-7 1h1m1 0h1m-4 1h1m5 0h1m12 0h1m4 0h1m-19 1h1m5 0h1m-18 1h2m5 0h1m7 0h1m-12 1h1m12 0h1m4 0h1m-9 1h1m4 0h1m2 0h1m6 0h1m-34 1h1m10 0h1m-9 1h1m6 0h1m25 0h1m-34 1h1m10 0h3m3 0h2m-22 1h2m2 0h1m1 0h1m4 0h1m4 0h1m4 0h1m-23 1h1m8 0h2m6 0h1m3 0h1m7 0h1m-29 1h1m9 0h1m8 0h1m80 0h1m-103 1h1m4 0h1m15 0h1m-21 1h1m1 0h1m3 0h1m6 0h1m3 0h1m12 0h1m4 0h1m-38 1h2m7 0h2m8 0h1m9 0h2m-22 1h1m4 0h1m4 0h1m10 0h1m5 0h1m64 0h1m-99 1h1m5 0h1m1 0h1m2 0h1m6 0h1m8 0h1m3 0h1m65 0h1m1 0h1m-101 1h2m2 0h1m1 0h1m3 0h1m1 0h1m84 0h1m-99 1h1m2 0h1m3 0h1m3 0h1m2 0h1m1 0h1m12 0h1m4 0h1m-25 1h1m17 0h3m-28 1h2m5 0h1m-11 1h1m6 0h1m5 0h1m82 0h1m2 0h1m1 0h1m-98 1h1m2 0h2m1 0h1m2 0h1m1 0h2m16 0h1m-19 1h1m1 0h1m12 0h1m-37 1h2m5 0h1m11 0h1m5 0h2m9 0h1m-26 1h1m3 0h1m6 0h1m77 0h1m-82 1h1m3 0h2m-13 1h1m10 0h1m4 0h1m-71 1h1m49 0h1m6 0h1m5 0h1m7 0h1m3 0h1m-14 1h1m1 0h1m5 0h1m-75 1h1m30 0h1m27 0h1m1 0h1m3 0h2m9 0h1m-95 1h3m64 0h1m7 0h1m4 0h1m1 0h1m10 0h1m-80 1h1m50 0h1m6 0h1m6 0h1m1 0h1m1 0h1m2 0h1m7 0h1m1 0h1m-31 1h2m1 0h1m4 0h1m6 0h1m1 0h1m1 0h1m1 0h1m5 0h1m-26 1h1m2 0h1m4 0h1m2 0h1m6 0h2m-25 1h1m1 0h1m19 0h1m-15 1h1m1 1h1m4 0h1m2 0h3m-13 1h1m6 0h1m3 0h1m4 0h1m-20 1h1m3 0h1m9 0h2m8 0h1m-26 1h1m5 0h2m4 0h1m3 0h1m4 0h1m-16 1h1m4 0h1m4 0h1m9 0h1m-18 1h1m3 0h1m1 0h1m-3 1h2m2 0h1m5 0h1m-17 1h1m1 0h2m6 0h1m-10 1h1m4 0h1m2 0h1m9 0h1m-91 1h1m71 0h3m5 0h2m2 0h1m-87 1h1m74 0h1m0 1h1m5 0h1m-81 1h1m73 0h1m18 0h1m-19 1h1m2 0h1m-82 1h1m43 1h1m33 0h1m4 0h1m-56 1h1m16 0h1m25 0h2m2 0h2m8 0h1m5 0h1m-47 1h1m10 0h1m13 0h1m1 0h1m1 0h1m5 0h1m12 0h1m-71 1h2m5 0h1m22 0h1m3 0h3m8 0h2m1 0h1m3 0h1m2 0h1m7 0h1m9 0h1m-69 1h1m2 0h2m17 0h1m4 0h1m5 0h1m4 0h2m1 0h1m15 0h1m-53 1h1m13 0h2m6 0h1m17 0h1m3 0h1m4 0h4m1 0h1m-63 1h1m3 0h1m5 0h1m20 0h1m5 0h1m3 0h1m1 0h1m5 0h1m4 0h1m-61 1h1m4 0h1m26 0h1m1 0h1m2 0h1m4 0h1m22 0h1m-66 1h1m1 0h1m4 0h1m11 0h1m6 0h1m10 0h1m1 0h1m15 0h1m1 0h1m7 0h1m-65 1h1m5 0h1m6 0h1m5 0h1m19 0h1m2 0h1m14 0h2m-55 1h1m1 0h3m3 0h1m1 0h1m9 0h1m4 0h1m13 0h1m7 0h2m3 0h1m1 0h1m2 0h1m-65 1h1m15 0h2m19 0h1m20 0h1m-68 1h1m8 0h1m14 0h1m11 0h1m14 0h1m9 0h3m5 0h1m1 0h1m2 0h1m-77 1h1m2 0h1m16 0h1m1 0h1m3 0h1m1 0h2m11 0h1m2 0h1m17 0h1m3 0h1m6 0h1m2 0h1m-65 1h1m7 0h1m8 0h1m18 0h1m12 0h1m2 0h1m5 0h1m7 0h1m-72 1h1m4 0h1m7 0h1m5 0h1m18 0h1m1 0h1m2 0h1m1 0h1m7 0h1m1 0h1m1 0h2m1 0h1m10 0h1m28 0h1m2 0h1m-104 1h1m1 0h1m20 0h1m19 0h1m3 0h1m7 0h2m8 0h1m-67 1h1m21 0h1m3 0h1m3 0h1m12 0h1m4 0h1m31 0h2m22 0h1m-104 1h2m28 0h1m6 0h2m13 0h1m6 0h1m6 0h1m4 0h1m-57 1h1m1 0h1m14 0h1m10 0h3m2 0h1m4 0h1m9 0h2m4 0h1m3 0h2m26 0h1m-81 1h1m12 0h1m3 0h1m3 0h1m1 0h1m6 0h2m11 0h1m2 0h1m-43 1h1m7 0h1m5 0h3m9 0h1m11 0h1m-62 1h1m16 0h1m4 0h1m4 0h1m1 0h1m4 0h1m5 0h1m25 0h1m-70 1h1m45 0h1m2 0h1m12 0h1m2 0h2m4 0h2m8 0h1m2 0h1m-84 1h1m17 0h1m8 0h2m-4 1h1m35 0h1m20 0h1m-64 1h1m44 0h1m11 0h3m1 0h1m-81 1h1m21 0h1m52 0h1m1 0h1m11 0h1m-91 1h1m10 0h1m13 0h1m37 0h1m8 0h2m19 0h2m-97 1h1m12 0h1m10 0h1m1 0h1m35 0h1m2 0h1m1 0h1m7 0h1m1 0h1m16 0h1m3 0h1m-98 1h1m24 0h1m18 0h1m16 0h1m11 0h3m13 0h1m4 0h1m-41 1h1m9 0h1m4 0h1m9 0h1m-80 1h1m2 0h1m6 0h1m26 0h1m10 0h2m10 0h1m15 0h1m-48 1h1m2 0h1m26 0h1m11 0h1m7 0h1m-68 1h1m17 0h2m43 0h4m-55 1h1m8 0h1m35 0h1m2 0h1m-58 1h1m3 0h2m3 0h1m7 0h1m5 0h1m11 0h1m24 0h1m-56 1h1m7 0h1m35 0h1m-42 1h1m6 0h1m7 0h2m11 0h2m10 0h1m-46 1h1m6 0h2m2 0h1m4 0h1m6 0h1m-21 5h1m-3 1h2m-5 2h1"/>
<path stroke="#D2E21B" d="M168 8h1m-7 1h1m24 2h1m-30 1h1m-6 1h1m1 0h1m-5 1h2m23 2h1m1 0h1m3 0h1m-9 1h1m6 1h1m-37 2h1m-3 1h1m38 0h1m-1 1h1m0 1h1m-46 1h1m32 0h2m-35 1h1m47 0h1m-51 2h1m17 0h1m9 0h1m3 0h1m1 0h2m11 0h1m1 0h1m-50 1h1m8 0h2m2 0h1m1 0h1m5 0h1m1 0h1m8 0h1m11 0h1m-37 1h1m5 0h4m1 0h1m1 0h1m1 0h1m1 0h1m7 0h1m2 0h1m-22 1h1m2 0h1m2 0h1m1 0h1m7 0h2m-14 1h1m8 0h1m1 0h1m1 0h1m-18 1h1m1 0h1m1 0h1m9 0h1m-17 1h1m3 0h1m2 0h1m20 0h2m-38 1h1m4 0h1m1 0h2m1 0h1m7 0h1m5 0h1m2 0h1m3 0h1m1 0h2m1 0h1m6 0h1m-42 1h1m16 0h1m7 0h1m1 0h1m1 0h1m4 0h1m-6 1h1m6 0h1m8 0h1m-30 1h1m21 0h1m-55 1h1m13 0h1m34 0h1m-28 1h1m23 0h1m5 0h1m-15 1h2m1 0h2m-25 1h1m3 0h1m15 0h2m-44 1h1m21 0h1m18 0h2m-44 1h1m20 0h1m3 0h1m1 0h2m-27 1h1m9 0h2m1 0h1m2 0h1m1 0h1m2 0h1m-24 1h1m6 0h1m2 0h1m7 0h1m-16 1h1m9 0h2m2 0h1m3 0h1m-4 1h1m7 0h1m41 0h1m-59 1h1m10 0h1m2 0h1m2 0h1m45 0h1m-64 1h1m4 0h1m2 0h2m3 0h1m-20 1h2m2 0h1m-17 1h1m9 0h1m2 0h1m4 0h1m-23 1h1m2 0h3m10 0h1m3 0h1m47 0h1m-83 1h1m16 0h1m3 0h1m12 0h2m5 0h2m-29 1h2m2 0h1m1 0h1m9 0h1m4 0h1m3 0h1m1 0h1m-26 1h1m3 0h1m1 0h1m-8 1h1m1 0h1m4 0h1m-8 1h1m1 0h1m10 0h1m10 0h1m-7 1h2m-11 1h1m1 0h1m9 0h1m2 0h1m44 0h1m-71 1h1m1 0h1m5 0h2m12 0h1m-25 1h2m5 0h1m2 0h1m1 0h1m7 0h1m1 0h1m-31 1h1m2 0h1m5 0h1m5 0h1m2 0h1m8 0h1m-28 1h1m1 0h2m1 0h1m9 0h1m2 0h1m4 0h1m2 0h1m6 0h1m-23 1h2m14 0h2m1 0h1m-2 1h1m6 0h1m-34 1h1m3 0h1m2 0h1m5 0h2m11 0h1m-21 1h1m1 0h1m19 0h1m-36 1h1m13 0h1m2 0h1m16 0h2m9 0h1m60 0h1m-106 1h3m9 0h2m1 0h2m16 0h1m10 0h1m55 0h1m-103 1h1m8 0h1m7 0h1m5 0h1m1 0h1m1 0h1m3 0h1m2 0h1m7 0h1m49 0h1m2 0h2m-94 1h1m3 0h1m3 0h2m4 0h2m1 0h1m2 0h2m2 0h1m13 0h1m-39 1h1m2 0h1m18 0h1m77 0h1m-104 1h1m1 0h1m9 0h1m2 0h2m10 0h1m3 0h1m3 0h1m61 0h1m5 0h1m-105 1h1m5 0h1m16 0h1m2 0h1m3 0h1m2 0h2m60 0h1m1 0h1m-94 1h1m1 0h1m7 0h1m4 0h1m4 0h1m4 0h1m8 0h1m62 0h1m-101 1h2m8 0h1m4 0h1m2 0h3m1 0h1m10 0h1m63 0h1m2 0h1m-103 1h1m28 0h1m61 0h1m6 0h1m-91 1h1m19 0h1m-17 1h1m17 0h1m6 0h1m61 0h1m-87 1h1m5 0h1m2 0h1m6 0h1m5 0h2m55 0h1m-87 1h1m2 0h1m7 0h1m1 0h1m1 0h1m9 0h1m67 0h1m-90 1h1m12 0h1m1 0h2m8 0h1m55 0h1m8 0h1m-122 1h1m26 0h1m4 0h1m16 0h1m2 0h1m67 0h1m-144 1h1m47 0h1m1 0h2m5 0h1m5 0h1m4 0h1m4 0h1m1 0h1m6 0h1m55 0h1m4 0h1m-171 1h1m24 0h1m47 0h1m11 0h1m10 0h1m1 0h3m1 0h2m-80 1h1m26 0h1m30 0h1m1 0h2m-85 1h1m1 0h1m19 0h1m55 0h1m13 0h1m1 0h1m8 0h1m-98 1h1m13 0h1m31 0h2m28 0h1m4 0h1m-81 1h2m2 0h6m37 0h1m16 0h1m1 0h1m14 0h1m4 0h1m4 0h1m-80 1h1m51 0h1m4 0h1m1 0h1m13 0h1m2 0h1m5 0h1m-5 1h1m-23 1h1m9 0h2m3 0h1m3 0h1m-23 1h1m2 0h1m1 0h1m4 0h1m4 0h2m4 0h1m-36 1h1m8 0h1m6 0h1m5 0h1m10 0h1m-33 1h2m6 0h1m7 0h1m4 0h1m-12 1h1m9 0h1m12 1h1m-9 1h1m2 0h1m5 0h1m-12 1h1m1 0h1m-8 1h4m7 0h1m1 0h1m3 0h2m2 0h1m-18 1h3m6 0h1m-4 1h1m2 0h1m1 0h3m-91 1h1m84 0h1m-87 1h1m74 0h1m1 0h1m2 0h1m1 0h3m1 0h1m-6 1h1m8 0h1m6 0h1m-14 1h1m3 0h1m2 0h1m2 0h2m-93 1h1m81 0h1m2 0h2m7 0h1m-21 1h1m8 0h2m3 0h1m2 0h1m-18 1h1m1 0h1m4 0h4m2 0h1m2 0h1m-65 1h1m48 0h1m2 0h2m3 0h1m2 0h1m-63 1h1m1 0h1m18 0h3m17 0h1m6 0h1m9 0h2m2 0h1m5 0h1m-71 1h2m1 0h1m3 0h1m16 0h1m1 0h1m14 0h1m9 0h1m51 0h1m-103 1h2m16 0h1m20 0h1m6 0h1m5 0h1m2 0h1m2 0h1m6 0h1m4 0h1m-40 1h1m4 0h1m5 0h1m3 0h1m13 0h1m1 0h1m-31 1h2m1 0h1m23 0h1m2 0h1m41 0h1m-108 1h1m15 0h1m9 0h1m2 0h1m7 0h1m8 0h1m3 0h1m2 0h1m1 0h1m6 0h2m3 0h1m4 0h1m-74 1h2m1 0h1m24 0h1m11 0h1m34 0h1m-83 1h1m9 0h1m18 0h1m13 0h1m8 0h1m27 0h1m-37 1h1m4 0h1m28 0h1m2 0h1m1 0h1m18 0h1m-103 1h1m41 0h1m8 0h1m1 0h1m1 0h1m1 0h2m18 0h1m2 0h1m-83 1h3m9 0h1m3 0h1m33 0h1m1 0h1m2 0h1m5 0h1m19 0h1m-88 1h1m9 0h1m9 0h1m3 0h1m6 0h1m21 0h1m3 0h1m1 0h2m2 0h1m2 0h3m50 0h1m-118 1h1m31 0h1m1 0h1m6 0h1m4 0h2m7 0h1m4 0h1m-35 1h2m1 0h1m5 0h1m12 0h1m1 0h1m1 0h1m2 0h2m1 0h1m4 0h1m18 0h1m20 0h1m1 0h2m-100 1h1m10 0h3m1 0h1m3 0h1m4 0h1m14 0h1m2 0h2m1 0h1m1 0h1m2 0h1m3 0h1m1 0h1m22 0h1m16 0h2m2 0h1m-104 1h2m14 0h1m3 0h1m22 0h1m9 0h1m1 0h2m5 0h1m9 0h2m1 0h1m23 0h1m-104 1h1m5 0h2m24 0h1m15 0h2m1 0h1m14 0h1m7 0h1m4 0h1m1 0h1m1 0h1m18 0h1m1 0h1m-85 1h1m1 0h1m57 0h2m22 0h1m-98 1h1m3 0h1m31 0h2m2 0h1m1 0h1m1 0h2m4 0h5m25 0h1m-88 1h1m10 0h1m14 0h2m26 0h1m1 0h1m11 0h1m4 0h2m-75 1h1m2 0h1m18 0h1m24 0h2m4 0h1m31 0h1m1 0h1m16 0h1m6 0h1m-113 1h1m23 0h1m5 0h1m2 0h1m34 0h1m2 0h1m9 0h3m-81 1h2m1 0h1m18 0h1m3 0h1m38 0h1m1 0h1m7 0h1m-79 1h1m24 0h2m1 0h1m43 0h1m3 0h1m5 0h1m-83 1h1m2 0h1m2 0h1m4 0h1m2 0h1m13 0h1m2 0h1m33 0h1m2 0h1m18 0h2m-90 1h1m11 0h1m16 0h1m38 0h1m1 0h1m13 0h1m2 0h1m6 0h1m1 0h1m1 0h1m-101 1h1m5 0h1m6 0h1m2 0h1m12 0h2m53 0h1m3 0h1m2 0h1m3 0h1m-79 1h1m9 0h1m2 0h1m37 0h1m9 0h1m9 0h1m1 0h2m3 0h1m2 0h1m1 0h2m-55 1h2m20 0h1m1 0h1m15 0h1m2 0h1m8 0h1m2 0h1m-98 1h1m14 0h1m5 0h1m17 0h1m1 0h1m20 0h1m12 0h1m5 0h1m4 0h1m9 0h1m-92 1h1m4 0h1m14 0h2m12 0h1m11 0h1m5 0h2m1 0h1m2 0h1m15 0h1m5 0h1m-88 1h1m3 0h1m23 0h1m34 0h1m1 0h1m21 0h1m-88 1h1m16 0h1m12 0h1m1 0h1m6 0h1m34 0h1m-55 1h1m12 0h1m1 0h1m2 0h3m1 0h1m33 0h2m1 0h2m1 0h2m4 0h1m-73 1h1m2 0h2m5 0h1m4 0h1m4 0h1m2 0h1m15 0h1m20 0h1m4 0h1m4 0h1m-71 1h2m1 0h1m9 0h1m5 0h1m1 0h1m2 0h1m3 0h1m13 0h2m3 0h1m5 0h1m8 0h2m5 0h1m-62 1h1m2 0h1m2 0h3m6 0h1m3 0h2m8 0h1m6 0h1m6 0h1m11 0h1m7 0h1m-63 1h3m10 0h1m2 0h1m-12 1h1m2 0h1m7 0h1m-7 1h1m-18 3h2m2 0h1m-5 1h3m3 0h1m-7 1h2m2 0h1m-6 1h2m-3 1h1m1 0h2"/>
<path stroke="#E5E419" d="M186 10h1m-8 6h1m1 0h1m-7 1h1m2 2h1m2 0h1m-8 2h1m6 0h1m-8 1h2m-36 1h1m31 0h1m2 0h1m4 0h2m-8 1h1m-4 1h1m9 0h1m-9 1h1m4 0h1m1 0h1m5 0h1m-31 1h1m16 0h1m3 0h1m1 0h4m3 0h1m-37 1h1m2 0h1m4 0h1m1 0h1m1 0h2m8 0h2m-27 1h3m6 0h1m13 0h2m7 0h1m-39 1h1m2 0h1m5 0h1m4 0h1m5 0h2m3 0h1m3 0h1m3 0h1m3 0h1m-33 1h1m5 0h1m6 0h1m3 0h1m1 0h1m3 0h1m-28 1h1m9 0h1m11 0h1m1 0h1m10 0h1m-36 1h1m1 0h1m1 0h1m1 0h1m12 0h1m1 0h1m6 0h1m4 0h2m2 0h1m-37 1h1m1 0h1m1 0h1m5 0h1m4 0h1m1 0h1m2 0h2m5 0h1m2 0h1m7 0h3m-40 1h1m2 0h1m5 0h1m2 0h2m1 0h1m22 0h1m-27 1h1m2 0h2m7 0h1m4 0h1m1 0h1m7 0h1m-42 1h1m15 0h1m12 0h1m10 0h2m-26 1h1m1 0h1m20 0h1m-41 1h1m6 0h1m31 0h1m1 0h1m-42 1h1m4 0h1m1 0h3m16 0h1m3 0h2m3 0h2m12 0h1m-51 1h1m2 0h2m2 0h1m2 0h1m10 0h1m9 0h2m1 0h2m3 0h1m-43 1h1m6 0h1m2 0h1m2 0h1m11 0h2m2 0h1m-30 1h1m2 0h1m5 0h1m39 0h2m-63 1h1m6 0h1m11 0h1m-4 1h1m6 0h1m-16 1h1m7 0h1m4 0h3m1 0h1m-26 1h1m19 0h1m4 0h1m38 0h1m3 0h2m-62 1h1m3 0h1m3 0h1m2 0h1m-21 1h1m5 0h1m8 0h1m2 0h2m2 0h3m-18 1h1m15 0h1m-25 1h1m1 0h1m2 0h1m1 0h1m8 0h1m-7 1h1m1 0h2m44 0h1m-62 1h1m7 0h1m-17 1h2m6 0h1m3 0h1m13 0h2m37 0h1m6 0h1m-75 1h2m7 0h1m1 0h1m3 0h1m7 0h2m47 0h1m-66 1h1m2 0h1m2 0h2m2 0h1m5 0h1m1 0h1m43 0h1m-71 1h1m4 0h4m2 0h2m1 0h1m4 0h1m2 0h1m2 0h1m2 0h1m-30 1h2m1 0h1m11 0h2m8 0h1m4 0h1m40 0h1m1 0h1m-72 1h2m5 0h2m2 0h1m1 0h1m6 0h1m2 0h1m-26 1h1m11 0h3m7 0h1m2 0h1m-27 1h1m2 0h1m18 0h1m-26 1h1m5 0h1m8 0h1m6 0h1m1 0h1m4 0h1m-35 1h1m11 0h1m5 0h1m1 0h2m1 0h1m2 0h1m1 0h2m7 0h1m-35 1h1m2 0h1m4 0h1m5 0h1m6 0h3m3 0h1m1 0h1m-32 1h1m3 0h1m16 0h1m2 0h1m1 0h1m1 0h1m6 0h1m-25 1h2m5 0h1m4 0h2m7 0h1m4 0h1m-22 1h1m8 0h1m13 0h1m58 0h1m1 0h1m-85 1h1m1 0h1m1 0h1m2 0h1m3 0h3m12 0h1m54 0h1m-98 1h1m7 0h1m5 0h1m4 0h6m1 0h2m3 0h1m1 0h2m2 0h1m-40 1h1m6 0h1m2 0h1m8 0h1m6 0h1m11 0h1m1 0h1m1 0h1m44 0h1m2 0h1m3 0h2m3 0h1m2 0h1m2 0h1m-88 1h1m12 0h3m1 0h2m2 0h1m49 0h1m2 0h2m2 0h1m5 0h1m-101 1h1m2 0h1m9 0h1m3 0h1m1 0h1m1 0h1m2 0h1m1 0h1m5 0h1m4 0h1m49 0h1m4 0h1m2 0h1m1 0h1m2 0h1m-105 1h1m6 0h1m4 0h1m4 0h3m8 0h1m6 0h2m1 0h1m4 0h1m1 0h1m41 0h1m5 0h1m3 0h1m-90 1h1m5 0h1m1 0h1m2 0h2m1 0h2m3 0h1m5 0h1m1 0h1m1 0h1m1 0h1m5 0h1m2 0h1m40 0h1m12 0h1m-106 1h1m1 0h1m10 0h1m12 0h1m1 0h2m1 0h1m6 0h1m50 0h1m3 0h1m6 0h1m4 0h1m-105 1h1m4 0h1m16 0h1m13 0h4m59 0h1m2 0h2m-103 1h1m2 0h1m14 0h1m3 0h1m1 0h1m3 0h2m1 0h1m1 0h1m3 0h1m15 0h1m40 0h1m4 0h1m-95 1h1m11 0h2m1 0h2m1 0h1m5 0h1m5 0h2m62 0h1m3 0h1m-102 1h1m10 0h1m6 0h1m3 0h1m2 0h1m2 0h1m1 0h1m56 0h1m10 0h1m-91 1h1m1 0h1m8 0h1m4 0h1m3 0h1m4 0h1m16 0h1m45 0h1m1 0h1m-93 1h1m2 0h2m10 0h1m3 0h2m3 0h1m12 0h3m42 0h1m-90 1h2m4 0h1m12 0h1m1 0h1m2 0h1m1 0h1m4 0h1m57 0h1m1 0h1m1 0h1m-74 1h3m4 0h1m1 0h1m3 0h1m10 0h1m1 0h1m41 0h1m4 0h1m-118 1h1m30 0h1m7 0h1m4 0h1m2 0h1m5 0h1m1 0h1m1 0h1m55 0h1m4 0h1m-118 1h1m38 0h1m4 0h1m69 0h1m-114 1h1m25 0h1m4 0h1m3 0h1m4 0h2m6 0h1m1 0h1m1 0h2m9 0h2m-115 1h1m77 0h1m8 0h1m1 0h1m7 0h1m1 0h1m-24 1h1m6 0h1m3 0h2m1 0h2m6 0h2m-92 1h2m44 0h1m13 0h1m6 0h1m10 0h1m2 0h1m-36 1h1m17 0h2m7 0h1m8 0h1m1 0h1m3 0h1m2 0h1m-29 1h1m3 0h1m6 0h1m2 0h2m3 0h6m-40 1h1m12 0h2m1 0h2m14 0h1m2 0h1m2 0h2m2 0h1m-97 1h1m82 0h1m2 0h3m-17 1h1m1 0h2m15 0h1m1 0h1m-15 1h2m8 0h1m2 0h1m-36 1h1m5 0h1m11 0h1m4 0h1m3 0h1m1 0h1m1 0h2m-32 1h1m16 0h2m5 0h1m1 0h2m1 0h1m2 0h2m6 0h1m-40 1h1m1 0h1m14 0h1m5 0h1m4 0h2m3 0h1m1 0h2m-36 1h1m12 0h1m1 0h1m1 0h2m7 0h2m4 0h1m3 0h1m-19 1h2m9 0h1m-15 1h1m5 0h1m1 0h1m6 0h1m-15 1h1m8 0h2m1 0h1m-10 1h2m1 0h1m12 0h1m-17 1h1m7 0h1m1 0h2m1 0h2m1 0h2m-12 1h3m5 0h1m4 0h1m-14 1h1m1 0h1m-2 1h1m3 0h3m1 0h1m1 0h1m-95 1h1m73 0h1m6 0h1m5 0h1m2 0h2m1 0h2m1 0h1m-23 1h1m3 0h1m7 0h1m6 0h1m-30 1h1m10 0h1m10 0h1m1 0h1m2 0h1m1 0h1m-27 1h1m1 0h1m4 0h1m2 0h1m4 0h1m5 0h2m2 0h1m37 0h2m9 0h1m-113 1h1m48 0h2m1 0h1m3 0h1m5 0h1m22 0h1m3 0h1m-97 1h1m31 0h1m25 0h1m4 0h2m36 0h1m7 0h1m8 0h1m-82 1h1m32 0h2m-39 1h1m7 0h1m7 0h1m12 0h1m2 0h1m5 0h1m1 0h1m35 0h1m-80 1h1m34 0h1m1 0h3m3 0h1m19 0h1m-98 1h1m73 0h2m34 0h1m-114 1h1m5 0h2m31 0h1m19 0h1m2 0h1m4 0h1m12 0h2m-84 1h1m9 0h1m68 0h1m2 0h1m37 0h1m-109 1h4m17 0h1m34 0h1m9 0h1m2 0h2m24 0h1m12 0h1m-127 1h1m6 0h1m13 0h1m4 0h1m11 0h1m16 0h1m2 0h1m5 0h1m2 0h1m19 0h1m15 0h1m7 0h1m1 0h1m-115 1h1m1 0h2m1 0h1m16 0h1m26 0h1m1 0h1m5 0h1m27 0h2m41 0h1m-129 1h1m5 0h2m57 0h1m1 0h1m17 0h1m19 0h2m5 0h1m-115 1h1m2 0h1m4 0h1m13 0h4m11 0h1m25 0h1m5 0h1m9 0h1m6 0h1m4 0h1m38 0h1m3 0h1m-127 1h1m2 0h1m12 0h1m1 0h1m21 0h1m12 0h1m3 0h1m1 0h1m11 0h3m1 0h2m1 0h2m42 0h1m-127 1h1m19 0h1m30 0h1m5 0h1m2 0h1m9 0h1m6 0h1m1 0h2m4 0h1m29 0h1m8 0h1m-117 1h1m10 0h2m2 0h1m25 0h1m9 0h1m24 0h1m28 0h1m4 0h1m-115 1h2m2 0h2m12 0h3m24 0h1m7 0h2m19 0h1m2 0h3m-83 1h1m18 0h2m1 0h1m28 0h2m20 0h6m5 0h1m18 0h1m-97 1h1m14 0h2m21 0h1m4 0h1m4 0h1m17 0h1m3 0h1m3 0h2m1 0h1m-89 1h2m2 0h1m1 0h1m5 0h1m15 0h1m24 0h2m18 0h1m6 0h2m4 0h1m1 0h1m14 0h1m18 0h1m-119 1h1m1 0h1m1 0h1m4 0h1m12 0h1m51 0h1m1 0h2m3 0h1m1 0h2m15 0h1m6 0h1m-110 1h1m8 0h1m13 0h1m1 0h2m51 0h2m1 0h3m4 0h1m5 0h1m-98 1h1m7 0h1m17 0h1m2 0h1m1 0h1m1 0h1m46 0h1m2 0h1m2 0h1m-87 1h1m2 0h2m2 0h1m1 0h1m1 0h1m2 0h2m15 0h2m53 0h1m1 0h1m2 0h1m3 0h2m-99 1h1m1 0h1m4 0h1m2 0h1m7 0h1m14 0h1m57 0h3m1 0h1m6 0h1m1 0h1m3 0h1m-110 1h1m2 0h1m29 0h1m45 0h1m3 0h1m5 0h1m1 0h1m2 0h1m19 0h1m-107 1h1m1 0h1m60 0h1m40 0h1m-107 1h2m21 0h1m2 0h1m37 0h1m13 0h1m5 0h2m1 0h2m4 0h2m4 0h1m-92 1h1m2 0h2m1 0h1m11 0h1m19 0h2m6 0h1m10 0h1m12 0h2m8 0h1m5 0h2m2 0h1m-95 1h1m2 0h2m10 0h1m2 0h1m26 0h1m13 0h1m1 0h1m9 0h1m6 0h1m2 0h1m1 0h1m-88 1h1m3 0h1m8 0h1m6 0h1m17 0h2m20 0h1m2 0h1m4 0h1m7 0h1m-76 1h1m13 0h1m1 0h1m2 0h1m2 0h2m3 0h1m1 0h1m3 0h1m7 0h1m26 0h1m11 0h1m4 0h1m-86 1h1m3 0h1m10 0h1m12 0h1m3 0h1m9 0h1m10 0h2m5 0h1m5 0h1m1 0h2m1 0h1m7 0h1m-65 1h1m7 0h1m2 0h1m4 0h1m4 0h1m1 0h1m2 0h1m7 0h1m2 0h1m1 0h1m6 0h1m2 0h2m1 0h1m3 0h3m3 0h1m3 0h1m1 0h1m2 0h1m-69 1h1m1 0h1m1 0h1m13 0h1m4 0h1m8 0h2m3 0h1m2 0h1m7 0h1m8 0h1m-58 1h3m2 0h1m8 0h1m2 0h1m14 0h1m6 0h1m5 0h1m2 0h1m1 0h1m13 0h2m-64 1h2m18 0h1m11 0h2m1 0h1m-32 1h1m4 0h1m3 0h1m4 0h1m-11 1h1m6 0h1m1 0h1m-19 3h1m-5 2h1m5 0h2m-5 1h1m2 0h1m-4 1h1"/>
<path stroke="#F4E61E" d="M187 10h1m-38 5h1m26 2h1m2 0h1m-6 1h1m1 0h2m-5 1h3m-2 1h1m1 0h2m1 0h2m-6 1h3m1 0h1m-5 1h5m-8 1h2m2 0h3m-7 1h1m2 0h1m1 0h5m1 0h2m-13 1h8m1 0h1m-16 1h1m4 0h1m1 0h4m1 0h1m1 0h1m2 0h1m-39 1h1m12 0h1m12 0h1m1 0h3m1 0h1m-23 1h1m4 0h1m4 0h1m4 0h1m2 0h2m1 0h3m-38 1h1m3 0h1m13 0h1m2 0h1m10 0h2m1 0h2m-34 1h3m1 0h1m10 0h1m3 0h2m5 0h2m2 0h3m1 0h1m-35 1h1m1 0h2m1 0h1m5 0h1m3 0h1m1 0h1m8 0h5m1 0h3m-35 1h1m1 0h2m5 0h1m5 0h4m3 0h1m2 0h2m1 0h1m2 0h1m2 0h1m-33 1h1m4 0h1m1 0h1m5 0h1m1 0h1m8 0h1m1 0h2m5 0h1m-31 1h1m4 0h2m5 0h1m8 0h1m-27 1h2m1 0h2m1 0h2m1 0h2m2 0h1m25 0h1m1 0h1m-44 1h2m2 0h1m3 0h2m2 0h1m1 0h2m23 0h1m3 0h2m-45 1h2m2 0h3m1 0h1m18 0h1m17 0h1m-47 1h1m3 0h1m1 0h3m31 0h3m3 0h2m-48 1h2m1 0h1m1 0h1m2 0h2m5 0h2m22 0h1m8 0h1m-49 1h2m1 0h1m1 0h1m3 0h2m2 0h1m1 0h3m10 0h1m2 0h1m5 0h4m-41 1h1m3 0h1m1 0h1m2 0h1m8 0h1m6 0h4m2 0h1m2 0h3m10 0h1m-39 1h2m8 0h1m5 0h3m4 0h1m1 0h1m2 0h1m1 0h2m5 0h1m-38 1h1m10 0h2m2 0h1m1 0h2m-20 1h2m1 0h1m12 0h1m2 0h1m16 0h1m-63 1h1m11 0h1m13 0h3m9 0h2m-33 1h1m19 0h1m15 0h2m18 0h1m-66 1h1m26 0h1m1 0h2m23 0h1m4 0h1m6 0h1m2 0h2m-46 1h1m2 0h2m4 0h1m2 0h1m1 0h1m27 0h2m3 0h1m-64 1h1m6 0h1m5 0h1m35 0h1m6 0h1m8 0h2m-77 1h1m11 0h1m2 0h1m2 0h4m1 0h3m1 0h1m6 0h2m21 0h1m6 0h1m2 0h1m-74 1h1m1 0h1m1 0h1m2 0h1m6 0h1m1 0h1m3 0h1m2 0h1m1 0h2m1 0h1m23 0h1m9 0h1m1 0h1m1 0h1m1 0h2m1 0h1m-69 1h1m1 0h1m1 0h2m3 0h3m4 0h1m2 0h2m27 0h1m13 0h1m1 0h1m1 0h1m-74 1h2m8 0h1m4 0h2m1 0h1m2 0h1m2 0h2m39 0h2m1 0h5m1 0h1m-71 1h1m6 0h1m2 0h1m3 0h1m2 0h1m1 0h1m41 0h1m2 0h3m1 0h1m1 0h1m-73 1h1m1 0h1m6 0h3m1 0h1m5 0h1m2 0h4m38 0h2m1 0h2m1 0h1m2 0h1m-72 1h1m3 0h1m1 0h2m5 0h2m1 0h2m1 0h1m1 0h4m37 0h1m2 0h1m2 0h3m-68 1h2m2 0h1m2 0h1m1 0h1m1 0h2m5 0h1m41 0h3m1 0h1m1 0h1m-67 1h1m9 0h1m3 0h1m2 0h3m2 0h1m-33 1h2m2 0h1m12 0h3m6 0h1m43 0h2m-69 1h1m11 0h3m2 0h1m5 0h2m1 0h2m6 0h1m34 0h3m-79 1h1m7 0h1m8 0h3m1 0h1m1 0h1m5 0h5m42 0h3m-81 1h1m19 0h2m1 0h1m3 0h1m4 0h4m1 0h2m40 0h1m-81 1h1m2 0h1m16 0h1m8 0h1m1 0h1m2 0h1m2 0h2m-41 1h1m17 0h1m8 0h1m6 0h1m2 0h1m1 0h2m1 0h1m1 0h1m34 0h1m-68 1h1m4 0h1m5 0h1m2 0h1m5 0h2m1 0h1m6 0h4m52 0h1m1 0h2m-81 1h2m3 0h1m1 0h2m1 0h2m1 0h4m1 0h1m1 0h2m1 0h3m1 0h1m36 0h1m13 0h3m1 0h1m-84 1h4m4 0h1m1 0h1m2 0h2m1 0h2m1 0h1m1 0h4m3 0h1m3 0h1m2 0h1m29 0h1m12 0h1m1 0h1m1 0h2m-97 1h1m5 0h1m8 0h1m2 0h1m7 0h1m2 0h1m1 0h3m3 0h1m2 0h1m2 0h2m34 0h2m12 0h3m1 0h1m-79 1h1m3 0h1m5 0h1m2 0h3m1 0h1m2 0h1m1 0h1m36 0h2m1 0h1m10 0h1m1 0h5m-84 1h1m1 0h1m1 0h1m2 0h1m2 0h1m1 0h2m4 0h1m4 0h1m1 0h1m36 0h1m2 0h1m2 0h1m8 0h2m2 0h1m-82 1h1m4 0h1m11 0h3m4 0h1m1 0h1m35 0h4m2 0h1m2 0h1m3 0h3m3 0h1m-97 1h2m3 0h1m6 0h1m14 0h4m1 0h2m1 0h2m1 0h1m1 0h3m36 0h1m3 0h3m-92 1h1m4 0h1m6 0h1m4 0h5m1 0h1m9 0h1m1 0h4m1 0h1m1 0h4m5 0h1m32 0h3m3 0h2m4 0h1m3 0h1m1 0h1m-108 1h1m10 0h1m1 0h1m4 0h2m6 0h2m7 0h1m1 0h1m3 0h1m2 0h2m1 0h2m1 0h1m36 0h2m6 0h1m2 0h1m-83 1h1m3 0h3m2 0h1m6 0h1m1 0h1m3 0h1m1 0h8m1 0h3m1 0h1m32 0h1m1 0h2m7 0h1m1 0h1m2 0h1m1 0h2m-83 1h1m1 0h4m5 0h1m5 0h3m1 0h9m1 0h1m33 0h1m2 0h1m3 0h2m6 0h1m1 0h1m-107 1h1m1 0h1m12 0h1m4 0h2m4 0h2m3 0h1m1 0h1m2 0h2m3 0h4m5 0h2m1 0h1m38 0h2m2 0h1m2 0h1m1 0h3m1 0h1m-105 1h1m18 0h1m2 0h1m2 0h1m1 0h2m1 0h1m1 0h3m2 0h2m3 0h3m2 0h3m1 0h1m1 0h1m1 0h1m31 0h1m1 0h3m2 0h2m2 0h1m2 0h1m-84 1h2m1 0h3m1 0h2m9 0h3m1 0h4m1 0h2m1 0h1m4 0h1m41 0h2m2 0h1m1 0h3m-97 1h1m11 0h1m2 0h3m3 0h1m7 0h2m1 0h1m5 0h2m1 0h2m3 0h1m1 0h1m33 0h1m1 0h1m4 0h1m4 0h2m-93 1h1m5 0h1m7 0h3m7 0h3m1 0h4m2 0h1m4 0h2m1 0h2m1 0h1m32 0h2m1 0h3m1 0h2m1 0h1m4 0h1m-86 1h2m6 0h1m7 0h7m1 0h11m35 0h1m2 0h1m1 0h1m2 0h2m3 0h1m-97 1h1m14 0h1m6 0h1m3 0h3m1 0h8m1 0h1m1 0h1m1 0h1m2 0h2m37 0h4m1 0h2m3 0h1m-82 1h2m7 0h1m2 0h1m1 0h1m1 0h1m2 0h4m1 0h3m2 0h6m39 0h1m2 0h1m1 0h2m-93 1h1m11 0h3m9 0h2m2 0h8m1 0h1m2 0h1m2 0h1m1 0h1m36 0h1m3 0h1m1 0h4m-92 1h1m14 0h1m5 0h1m1 0h1m2 0h2m1 0h1m2 0h1m1 0h1m2 0h1m1 0h1m2 0h1m40 0h2m1 0h1m3 0h2m1 0h1m-84 1h1m3 0h1m1 0h2m5 0h1m1 0h2m6 0h1m3 0h1m4 0h1m38 0h1m2 0h1m3 0h1m-75 1h1m4 0h1m2 0h1m1 0h1m1 0h2m3 0h2m2 0h4m2 0h1m-51 1h1m20 0h1m2 0h1m1 0h1m3 0h2m10 0h1m4 0h1m1 0h1m31 0h1m-54 1h2m3 0h1m7 0h1m-56 1h1m18 0h1m8 0h2m2 0h1m9 0h1m1 0h1m14 0h1m-44 1h1m18 0h1m1 0h1m3 0h2m1 0h4m46 0h1m-94 1h1m9 0h4m21 0h1m1 0h3m1 0h2m4 0h1m-36 1h1m17 0h2m1 0h1m2 0h1m1 0h1m1 0h4m2 0h1m-27 1h1m9 0h3m1 0h1m1 0h1m2 0h1m1 0h1m1 0h2m1 0h1m-24 1h1m7 0h1m1 0h1m5 0h4m2 0h1m7 0h1m44 0h1m-91 1h1m6 0h1m16 0h1m5 0h5m9 0h1m-22 1h2m9 0h1m1 0h2m-15 1h1m2 0h2m3 0h3m1 0h2m-11 1h1m5 0h1m1 0h3m-14 1h2m1 0h2m2 0h5m1 0h1m-20 1h1m1 0h1m10 0h1m1 0h3m2 0h1m5 0h1m-25 1h1m3 0h1m2 0h1m2 0h1m1 0h2m1 0h1m1 0h1m-11 1h1m2 0h1m2 0h1m2 0h2m-19 1h1m8 0h1m1 0h2m1 0h2m-7 1h2m1 0h2m3 0h2m43 0h1m1 0h1m-61 1h1m2 0h1m5 0h1m4 0h1m29 0h1m4 0h1m1 0h1m5 0h1m3 0h1m6 0h1m-65 1h1m1 0h1m6 0h1m30 0h1m3 0h2m8 0h1m2 0h1m-57 1h1m2 0h1m1 0h1m2 0h1m13 0h2m17 0h1m1 0h1m6 0h1m4 0h3m-64 1h1m3 0h1m4 0h1m1 0h1m1 0h3m14 0h3m1 0h1m7 0h2m1 0h1m2 0h1m3 0h1m5 0h7m-67 1h3m3 0h2m3 0h1m3 0h1m1 0h1m1 0h1m9 0h1m6 0h3m4 0h3m1 0h1m1 0h2m2 0h5m1 0h2m3 0h1m6 0h1m-74 1h1m8 0h5m4 0h1m1 0h1m13 0h1m5 0h1m4 0h4m1 0h5m4 0h2m2 0h1m2 0h1m1 0h1m-59 1h2m1 0h4m2 0h1m12 0h1m3 0h1m2 0h4m1 0h1m2 0h1m3 0h2m8 0h1m4 0h3m-72 1h1m13 0h4m2 0h5m10 0h1m2 0h1m1 0h4m1 0h2m2 0h2m3 0h7m3 0h1m3 0h2m2 0h1m-62 1h1m2 0h5m1 0h1m13 0h1m2 0h6m1 0h1m6 0h2m2 0h1m3 0h1m1 0h1m3 0h1m1 0h1m-86 1h1m16 0h1m11 0h2m5 0h1m1 0h1m1 0h1m17 0h1m1 0h1m2 0h2m4 0h5m2 0h1m1 0h2m2 0h1m2 0h2m-60 1h2m2 0h2m1 0h2m4 0h2m14 0h1m1 0h7m4 0h1m1 0h1m2 0h4m1 0h1m4 0h2m-128 1h1m68 0h1m5 0h3m2 0h1m2 0h1m14 0h2m1 0h1m2 0h1m1 0h1m4 0h1m3 0h1m2 0h4m4 0h1m1 0h2m-129 1h1m66 0h1m7 0h1m6 0h1m11 0h2m1 0h1m1 0h1m2 0h3m1 0h1m4 0h2m3 0h2m1 0h4m1 0h2m2 0h1m-130 1h1m67 0h1m6 0h1m2 0h1m3 0h1m9 0h1m1 0h1m2 0h2m1 0h1m2 0h3m2 0h3m1 0h4m1 0h2m1 0h1m1 0h1m1 0h3m-132 1h2m13 0h2m29 0h1m26 0h1m6 0h3m1 0h1m1 0h3m10 0h2m1 0h3m1 0h3m4 0h1m1 0h1m7 0h3m1 0h1m2 0h1m1 0h1m-139 1h1m6 0h1m1 0h3m12 0h1m33 0h1m20 0h1m6 0h2m2 0h4m13 0h1m1 0h1m1 0h1m3 0h2m2 0h1m4 0h2m1 0h1m2 0h1m1 0h2m1 0h4m-138 1h1m3 0h1m1 0h2m2 0h2m10 0h3m35 0h1m18 0h1m4 0h3m4 0h1m10 0h2m1 0h2m3 0h4m1 0h5m2 0h2m4 0h8m-137 1h1m4 0h3m2 0h2m10 0h1m62 0h1m2 0h1m1 0h2m1 0h1m19 0h3m1 0h1m1 0h2m1 0h1m2 0h1m7 0h2m-133 1h1m3 0h1m6 0h1m55 0h1m13 0h1m8 0h1m1 0h1m7 0h1m11 0h1m8 0h1m2 0h1m2 0h2m1 0h1m-131 1h2m7 0h3m9 0h1m2 0h2m61 0h1m1 0h1m1 0h1m11 0h2m10 0h1m3 0h1m1 0h3m4 0h1m1 0h1m-132 1h2m11 0h1m11 0h2m56 0h1m1 0h1m1 0h1m1 0h1m16 0h1m2 0h2m2 0h2m1 0h1m1 0h1m1 0h1m3 0h2m1 0h1m1 0h1m-127 1h2m1 0h2m3 0h1m42 0h1m33 0h2m12 0h2m1 0h2m8 0h1m1 0h1m6 0h3m-124 1h2m1 0h1m1 0h1m3 0h2m12 0h1m21 0h1m4 0h1m32 0h3m2 0h1m9 0h1m2 0h1m1 0h2m1 0h2m4 0h2m1 0h1m2 0h1m1 0h1m1 0h1m-126 1h1m1 0h1m1 0h1m1 0h2m1 0h2m2 0h1m11 0h2m22 0h1m1 0h4m1 0h1m22 0h3m3 0h1m2 0h1m1 0h3m2 0h1m5 0h3m1 0h1m1 0h2m4 0h4m5 0h2m-124 1h1m10 0h2m1 0h1m12 0h2m23 0h2m23 0h3m3 0h3m5 0h1m4 0h1m1 0h1m4 0h1m2 0h1m5 0h2m1 0h2m7 0h1m-125 1h1m7 0h1m2 0h1m1 0h1m14 0h2m1 0h1m48 0h1m10 0h4m1 0h1m10 0h5m2 0h1m1 0h1m1 0h2m-119 1h2m1 0h1m4 0h3m1 0h2m15 0h1m56 0h1m1 0h2m1 0h2m6 0h1m2 0h1m1 0h1m2 0h1m1 0h1m1 0h1m-112 1h1m3 0h3m1 0h2m1 0h4m72 0h1m2 0h1m1 0h2m7 0h4m1 0h2m8 0h1m3 0h2m-125 1h2m1 0h1m8 0h1m1 0h1m15 0h2m62 0h3m2 0h2m1 0h1m1 0h1m1 0h2m1 0h1m5 0h1m7 0h1m-126 1h2m1 0h1m2 0h3m1 0h1m2 0h1m2 0h1m1 0h2m70 0h1m5 0h1m1 0h1m3 0h1m5 0h2m1 0h1m2 0h4m4 0h1m-117 1h3m5 0h1m5 0h1m75 0h2m8 0h2m2 0h1m1 0h3m4 0h1m-116 1h1m1 0h1m3 0h1m4 0h1m2 0h2m75 0h3m9 0h3m4 0h1m-113 1h3m1 0h1m3 0h1m1 0h7m1 0h1m11 0h1m56 0h1m6 0h2m14 0h2m-112 1h1m3 0h2m1 0h6m5 0h1m1 0h1m25 0h1m2 0h2m18 0h1m12 0h1m2 0h1m2 0h4m2 0h1m1 0h3m2 0h1m12 0h1m-112 1h1m1 0h2m1 0h1m5 0h1m4 0h2m2 0h1m19 0h1m2 0h1m5 0h2m4 0h1m2 0h2m25 0h2m-87 1h1m3 0h1m2 0h5m2 0h1m1 0h4m3 0h2m3 0h1m8 0h1m4 0h1m2 0h1m14 0h2m22 0h1m1 0h2m2 0h1m-89 1h1m4 0h7m6 0h1m3 0h1m2 0h2m8 0h3m1 0h2m2 0h2m4 0h1m1 0h1m2 0h2m4 0h1m3 0h2m17 0h3m1 0h1m-88 1h1m2 0h2m1 0h1m1 0h2m1 0h1m2 0h2m1 0h2m8 0h2m1 0h1m5 0h1m8 0h2m2 0h1m1 0h3m2 0h1m1 0h2m2 0h3m1 0h1m1 0h1m15 0h3m1 0h2m-90 1h1m5 0h2m3 0h1m32 0h1m3 0h2m1 0h1m4 0h5m2 0h2m2 0h1m1 0h3m7 0h1m1 0h1m1 0h1m2 0h1m1 0h1m-72 1h1m6 0h1m13 0h1m5 0h1m3 0h3m2 0h2m5 0h1m2 0h1m1 0h1m4 0h1m2 0h3m3 0h1m1 0h3m1 0h1m1 0h1m-71 1h1m9 0h2m15 0h2m1 0h4m4 0h3m3 0h3m4 0h1m3 0h1m1 0h1m1 0h2m3 0h1m3 0h1m1 0h1m-72 1h1m1 0h2m10 0h1m3 0h1m9 0h1m4 0h4m5 0h6m1 0h6m2 0h1m2 0h1m4 0h1m1 0h1m1 0h1m-67 1h4m1 0h1m1 0h3m9 0h1m2 0h1m16 0h1m5 0h1m-38 1h1m2 0h1m2 0h1m3 0h1m1 0h1m-3 1h1m-23 1h1m5 0h3m-9 1h2m5 0h1m4 0h1m-12 1h1m7 0h1m-11 1h2m3 0h2m3 0h1m-10 1h1m4 0h1m-5 1h1m3 0h1m-5 1h1"/>
<path stroke="#FDE725" d="M175 12h1m10 0h1m-1 1h1m1 0h1m-25 1h1m11 0h1m11 0h2m-1 1h1m-3 1h1m2 0h1m-15 1h1m1 0h2m1 0h1m5 0h2m2 0h1m-16 1h1m2 0h2m4 0h1m2 0h1m-12 1h1m1 0h2m1 0h1m1 0h1m5 0h2m-16 1h1m2 0h1m-15 1h1m9 0h1m3 0h1m3 0h1m5 0h1m-9 1h1m7 0h1m-14 1h1m5 0h1m4 0h1m1 0h1m-42 1h1m28 0h1m10 0h1m-38 1h1m20 0h1m10 0h3m-4 1h2m1 0h1m1 0h1m3 1h1m-27 1h1m10 0h1m7 0h1m4 0h2m1 0h1m1 0h1m-33 1h1m1 0h1m8 0h1m2 0h1m4 0h1m7 0h1m4 0h1m-47 1h1m14 0h1m9 0h1m6 0h1m2 0h2m-36 1h1m11 0h1m8 0h1m5 0h1m7 0h1m2 0h1m2 0h1m2 0h2m-23 1h1m1 0h2m5 0h2m1 0h1m2 0h1m3 0h1m1 0h2m1 0h1m-25 1h1m19 0h1m1 0h2m-59 1h1m16 0h1m35 0h1m6 0h1m-48 1h1m32 0h1m1 0h1m11 0h1m-53 1h2m1 0h3m2 0h2m12 0h1m16 0h2m-41 1h2m3 0h1m1 0h6m26 0h4m9 0h1m-55 1h3m1 0h1m3 0h7m27 0h3m9 0h1m-54 1h1m1 0h1m5 0h5m26 0h7m7 0h1m-54 1h1m8 0h2m1 0h1m26 0h7m1 0h2m4 0h1m-64 1h1m17 0h8m20 0h9m4 0h1m-41 1h8m9 0h4m1 0h1m1 0h2m1 0h1m2 0h5m6 0h1m1 0h1m-45 1h10m2 0h2m1 0h1m2 0h16m2 0h2m2 0h1m1 0h1m-43 1h1m1 0h12m1 0h2m1 0h16m5 0h1m-39 1h9m2 0h23m1 0h1m2 0h1m-40 1h15m2 0h18m10 0h1m-45 1h23m1 0h4m1 0h6m-36 1h1m1 0h2m1 0h2m1 0h1m1 0h27m2 0h3m-45 1h31m1 0h6m1 0h8m-53 1h1m5 0h6m2 0h21m1 0h6m1 0h2m1 0h9m-110 1h1m53 0h1m1 0h23m1 0h9m1 0h1m1 0h1m1 0h1m2 0h1m1 0h11m-110 1h1m50 0h27m1 0h11m1 0h1m3 0h1m1 0h3m2 0h7m-94 1h1m18 0h2m15 0h37m8 0h1m1 0h2m4 0h5m-76 1h1m5 0h1m12 0h36m2 0h1m3 0h1m3 0h1m8 0h2m-107 1h1m36 0h2m1 0h2m7 0h38m2 0h1m4 0h2m-132 1h1m50 0h1m1 0h1m17 0h2m3 0h1m9 0h37m1 0h1m2 0h2m-45 1h40m3 0h1m1 0h1m-64 1h1m1 0h1m16 0h1m1 0h38m1 0h1m1 0h2m-48 1h42m3 0h2m-56 1h1m8 0h1m2 0h6m1 0h34m-98 1h1m43 0h1m11 0h42m-121 1h1m60 0h1m11 0h1m5 0h1m2 0h40m1 0h1m-91 1h1m4 0h1m39 0h1m2 0h43m-88 1h1m24 0h3m9 0h1m2 0h1m1 0h1m2 0h1m1 0h1m1 0h34m1 0h5m14 0h1m-79 1h1m2 0h1m9 0h1m3 0h4m4 0h40m13 0h1m2 0h7m-86 1h1m3 0h1m12 0h1m2 0h1m3 0h1m1 0h36m13 0h1m3 0h1m1 0h5m-85 1h2m3 0h1m5 0h1m2 0h1m6 0h3m1 0h3m1 0h2m1 0h29m19 0h5m-117 1h1m30 0h1m2 0h2m6 0h2m1 0h1m3 0h1m3 0h2m1 0h2m2 0h34m19 0h4m-139 1h1m62 0h1m3 0h1m6 0h2m1 0h1m1 0h36m2 0h1m12 0h1m5 0h3m-73 1h1m5 0h3m1 0h1m1 0h13m1 0h22m1 0h1m16 0h1m2 0h3m-119 1h1m34 0h1m11 0h1m5 0h4m1 0h1m1 0h35m5 0h1m10 0h1m1 0h1m1 0h4m-142 1h1m56 0h2m16 0h1m2 0h1m1 0h1m3 0h36m1 0h1m12 0h1m1 0h5m-60 1h5m1 0h31m5 0h1m10 0h1m1 0h1m1 0h3m-72 1h1m2 0h2m7 0h36m2 0h1m1 0h3m10 0h7m-154 1h1m81 0h1m8 0h1m3 0h1m1 0h32m4 0h1m1 0h5m9 0h4m-143 1h1m56 0h1m14 0h1m3 0h1m9 0h1m1 0h33m1 0h2m2 0h2m9 0h1m1 0h4m-87 1h1m14 0h2m4 0h5m2 0h1m2 0h35m1 0h1m2 0h1m9 0h1m1 0h5m-138 1h1m1 0h1m35 0h1m13 0h1m14 0h3m3 0h2m3 0h1m1 0h1m1 0h1m1 0h31m1 0h1m3 0h1m11 0h6m-146 1h1m1 0h2m2 0h1m62 0h1m5 0h1m4 0h1m2 0h1m1 0h4m1 0h35m1 0h5m9 0h6m-146 1h1m60 0h1m12 0h1m1 0h5m2 0h1m2 0h2m2 0h1m1 0h33m3 0h4m3 0h1m3 0h6m-144 1h1m71 0h1m4 0h2m4 0h1m2 0h1m2 0h1m1 0h32m6 0h1m4 0h4m1 0h5m-141 1h1m1 0h1m57 0h1m12 0h1m11 0h35m11 0h2m1 0h7m-190 1h1m38 0h1m6 0h1m4 0h1m1 0h5m66 0h1m5 0h2m2 0h36m9 0h2m1 0h7m-191 1h1m38 0h2m1 0h1m11 0h1m4 0h1m11 0h1m48 0h1m4 0h1m3 0h2m6 0h36m1 0h1m2 0h1m5 0h8m-193 1h1m44 0h2m9 0h1m46 0h1m14 0h2m8 0h1m1 0h2m1 0h2m1 0h1m1 0h36m1 0h2m2 0h1m4 0h9m-193 1h1m45 0h2m7 0h1m64 0h1m1 0h2m1 0h1m4 0h1m1 0h2m1 0h11m1 0h28m2 0h1m1 0h3m2 0h1m1 0h6m-191 1h1m46 0h3m2 0h2m59 0h1m4 0h6m1 0h3m1 0h4m1 0h7m5 0h26m1 0h2m1 0h3m1 0h10m-190 1h1m49 0h2m2 0h1m23 0h1m23 0h1m11 0h1m1 0h1m2 0h3m2 0h2m4 0h2m1 0h6m10 0h40m-188 1h1m14 0h1m39 0h1m57 0h10m1 0h4m1 0h1m1 0h5m14 0h12m1 0h23m-185 1h1m111 0h1m1 0h7m1 0h11m17 0h33m-183 1h1m108 0h1m1 0h14m1 0h6m20 0h30m-181 1h1m112 0h18m21 0h7m1 0h20m-179 1h1m104 0h1m2 0h4m1 0h17m22 0h26m-178 1h1m43 0h1m52 0h1m2 0h1m8 0h2m1 0h17m23 0h24m-176 1h1m24 0h1m79 0h1m1 0h1m2 0h1m1 0h16m24 0h23m-174 1h1m46 0h1m59 0h2m1 0h7m1 0h8m24 0h12m1 0h11m-174 1h1m52 0h1m53 0h1m1 0h7m1 0h8m24 0h24m-173 1h1m106 0h1m2 0h12m27 0h23m-171 1h1m98 0h1m8 0h14m25 0h23m-170 1h1m101 0h1m5 0h14m24 0h24m-170 1h1m105 0h1m1 0h14m25 0h22m-168 1h1m25 0h1m2 0h1m39 0h1m35 0h2m1 0h5m1 0h8m23 0h23m-168 1h1m62 0h1m41 0h1m1 0h16m21 0h23m-167 1h1m106 0h16m19 0h24m-165 1h1m1 0h1m46 0h1m56 0h17m12 0h30m-165 1h1m71 0h1m33 0h17m11 0h15m1 0h1m1 0h12m-163 1h1m104 0h17m11 0h1m1 0h4m1 0h1m1 0h5m1 0h3m1 0h6m1 0h3m-162 1h1m104 0h6m1 0h11m10 0h1m1 0h3m2 0h8m1 0h2m1 0h10m-161 1h1m65 0h1m6 0h1m29 0h13m2 0h5m8 0h4m1 0h1m1 0h6m1 0h4m3 0h8m-160 1h1m103 0h14m3 0h1m1 0h1m8 0h1m1 0h2m1 0h3m1 0h5m7 0h6m-158 1h1m100 0h1m1 0h1m1 0h7m1 0h1m1 0h6m3 0h4m3 0h1m1 0h1m9 0h1m2 0h1m1 0h1m1 0h6m-156 1h1m25 0h1m75 0h1m1 0h13m1 0h2m1 0h2m2 0h3m10 0h4m2 0h2m1 0h2m1 0h1m1 0h5m-156 1h2m98 0h1m1 0h12m1 0h3m1 0h2m4 0h1m1 0h1m2 0h3m2 0h1m1 0h6m1 0h1m1 0h2m3 0h4m-154 1h1m102 0h10m1 0h2m1 0h1m4 0h1m2 0h2m2 0h3m7 0h3m1 0h3m2 0h2m1 0h2m-153 1h1m2 0h1m96 0h12m1 0h2m6 0h1m1 0h6m2 0h1m2 0h1m1 0h1m1 0h1m1 0h3m1 0h1m1 0h7m-152 1h1m12 0h1m86 0h17m3 0h2m2 0h4m5 0h2m1 0h1m2 0h2m1 0h2m2 0h5m-150 1h1m86 0h2m2 0h1m8 0h14m1 0h1m7 0h4m1 0h1m2 0h1m4 0h1m1 0h4m2 0h5m-148 1h1m84 0h5m3 0h1m5 0h14m2 0h1m1 0h2m1 0h1m1 0h4m1 0h3m1 0h2m4 0h4m1 0h1m2 0h2m-147 1h1m14 0h1m68 0h7m8 0h11m2 0h1m1 0h1m2 0h1m3 0h1m1 0h4m2 0h3m7 0h1m2 0h2m1 0h1m-145 1h1m8 0h1m73 0h6m8 0h9m1 0h1m1 0h2m2 0h1m1 0h2m4 0h1m3 0h1m4 0h1m4 0h1m1 0h1m3 0h3m-143 1h1m81 0h6m9 0h10m6 0h1m4 0h1m1 0h1m1 0h1m1 0h7m3 0h1m1 0h2m1 0h1m1 0h1m-141 1h1m80 0h6m8 0h13m1 0h1m1 0h1m1 0h3m2 0h2m1 0h1m1 0h2m2 0h1m1 0h2m4 0h1m-135 1h1m1 0h1m3 0h1m74 0h4m4 0h3m1 0h10m2 0h1m4 0h1m10 0h2m2 0h4m-127 1h2m77 0h4m9 0h13m5 0h1m3 0h1m1 0h1m2 0h1m1 0h2m1 0h2m1 0h2m1 0h1m-132 1h1m1 0h3m83 0h1m1 0h1m1 0h1m1 0h7m1 0h4m5 0h2m1 0h8m1 0h2m1 0h2m4 0h1m-133 1h1m2 0h1m1 0h1m3 0h1m81 0h1m1 0h11m7 0h5m1 0h2m2 0h1m3 0h3m2 0h1m-129 1h1m1 0h3m4 0h1m78 0h15m6 0h2m2 0h1m3 0h1m1 0h1m1 0h1m2 0h1m1 0h1m-129 1h3m2 0h1m4 0h1m79 0h12m2 0h1m6 0h4m3 0h6m3 0h2m-129 1h3m4 0h1m1 0h1m1 0h1m72 0h2m6 0h9m1 0h2m1 0h1m5 0h4m2 0h1m1 0h2m1 0h1m1 0h1m1 0h2m-127 1h1m3 0h1m2 0h1m2 0h1m71 0h2m8 0h2m1 0h5m3 0h1m1 0h1m2 0h4m4 0h5m2 0h3m-123 1h1m3 0h1m1 0h1m36 0h1m32 0h1m5 0h1m5 0h4m1 0h1m1 0h4m2 0h1m2 0h4m5 0h6m2 0h1m-125 1h1m1 0h2m5 0h1m1 0h1m17 0h1m64 0h1m1 0h8m1 0h1m6 0h1m1 0h1m1 0h1m2 0h5m-125 1h1m82 0h1m10 0h3m1 0h2m1 0h2m1 0h1m1 0h2m1 0h1m1 0h1m1 0h11m-121 1h2m6 0h1m80 0h1m2 0h7m4 0h1m2 0h8m1 0h3m-126 1h1m1 0h1m8 0h1m92 0h1m1 0h1m1 0h1m2 0h1m1 0h5m1 0h7m-126 1h1m14 0h2m21 0h1m53 0h1m15 0h1m4 0h2m4 0h4m1 0h2m-126 1h2m1 0h1m2 0h1m6 0h2m1 0h1m1 0h2m22 0h1m66 0h2m1 0h1m4 0h3m1 0h3m-124 1h5m1 0h1m1 0h1m4 0h3m1 0h2m32 0h1m59 0h3m2 0h7m-123 1h3m3 0h1m5 0h1m7 0h1m5 0h1m5 0h1m75 0h5m2 0h7m-121 1h2m1 0h3m10 0h2m12 0h3m8 0h1m8 0h1m46 0h1m8 0h10m1 0h2m-118 1h4m1 0h1m10 0h1m5 0h2m5 0h3m16 0h5m7 0h2m32 0h23m-116 1h3m12 0h2m6 0h2m4 0h2m15 0h2m1 0h14m25 0h1m3 0h1m1 0h20m-113 1h3m5 0h1m7 0h1m6 0h1m21 0h1m3 0h4m1 0h1m1 0h2m2 0h4m1 0h3m24 0h20m-112 1h4m2 0h1m4 0h1m2 0h1m2 0h1m30 0h1m2 0h2m1 0h1m6 0h1m2 0h1m4 0h1m17 0h1m6 0h16m-109 1h3m1 0h5m2 0h3m1 0h3m30 0h3m13 0h1m27 0h14m-105 1h17m30 0h3m7 0h1m5 0h1m2 0h1m4 0h1m1 0h2m7 0h1m5 0h1m1 0h13m-103 1h18m2 0h1m27 0h1m13 0h1m9 0h2m1 0h1m1 0h1m4 0h1m7 0h11m-100 1h17m1 0h1m27 0h4m6 0h1m1 0h1m6 0h1m6 0h2m1 0h2m1 0h4m1 0h1m1 0h1m1 0h2m5 0h4m-99 1h21m4 0h1m18 0h16m1 0h5m1 0h21m-88 1h29m1 0h1m2 0h2m2 0h1m4 0h47m-90 1h40m1 0h22m3 0h15m4 0h5m-90 1h3m3 0h12m1 0h5m3 0h20m9 0h1m2 0h3m10 0h8m-78 1h1m3 0h12m9 0h3m1 0h16m28 0h5m-78 1h1m3 0h12m10 0h17m-43 1h1m3 0h11m11 0h16m-34 1h8m8 0h6m3 0h3m-25 1h5m6 0h3m-15 1h7m1 0h6m-11 1h9m-8 1h6"/>
</g>
<g clip-path="url(#za)" stroke="#EBEBEB" stroke-opacity="0.22" fill="none"><path stroke-width="0.270" d="M10 8v153M11 8v153M12 8v153M13 8v153M14 8v153M15 8v153M16 8v153M17 8v153M18 8v153M19 8v153M20 8v153M21 8v153M22 8v153M23 8v153M24 8v153M25 8v153M26 8v153M27 8v153M28 8v153M29 8v153M30 8v153M31 8v153M32 8v153M33 8v153M34 8v153M35 8v153M36 8v153M37 8v153M38 8v153M39 8v153M40 8v153M41 8v153M42 8v153M43 8v153M44 8v153M45 8v153M46 8v153M47 8v153M48 8v153M49 8v153M50 8v153M51 8v153M52 8v153M53 8v153M54 8v153M55 8v153M56 8v153M57 8v153M58 8v153M59 8v153M60 8v153M61 8v153M62 8v153M63 8v153M64 8v153M65 8v153M66 8v153M67 8v153M68 8v153M69 8v153M70 8v153M71 8v153M72 8v153M73 8v153M74 8v153M75 8v153M76 8v153M77 8v153M78 8v153M79 8v153M80 8v153M81 8v153M82 8v153M83 8v153M84 8v153M85 8v153M86 8v153M87 8v153M88 8v153M89 8v153M90 8v153M91 8v153M92 8v153M93 8v153M94 8v153M95 8v153M96 8v153M97 8v153M98 8v153M99 8v153M100 8v153M101 8v153M102 8v153M103 8v153M104 8v153M105 8v153M106 8v153M107 8v153M108 8v153M109 8v153M110 8v153M111 8v153M112 8v153M113 8v153M114 8v153M115 8v153M116 8v153M117 8v153M118 8v153M119 8v153M120 8v153M121 8v153M122 8v153M123 8v153M124 8v153M125 8v153M126 8v153M127 8v153M128 8v153M129 8v153M130 8v153M131 8v153M132 8v153M133 8v153M134 8v153M135 8v153M136 8v153M137 8v153M138 8v153M139 8v153M140 8v153M141 8v153M142 8v153M143 8v153M144 8v153M145 8v153M146 8v153M147 8v153M148 8v153M149 8v153M150 8v153M151 8v153M152 8v153M153 8v153M154 8v153M155 8v153M156 8v153M157 8v153M158 8v153M159 8v153M160 8v153M161 8v153M162 8v153M163 8v153M164 8v153M165 8v153M166 8v153M167 8v153M168 8v153M169 8v153M170 8v153M171 8v153M172 8v153M173 8v153M174 8v153M175 8v153M176 8v153M177 8v153M178 8v153M179 8v153M180 8v153M181 8v153M182 8v153M183 8v153M184 8v153M185 8v153M186 8v153M187 8v153M188 8v153M189 8v153M190 8v153M191 8v153M192 8v153M193 8v153M194 8v153M195 8v153M196 8v153M197 8v153M198 8v153M199 8v153M200 8v153M201 8v153M202 8v153M203 8v153M204 8v153M205 8v153M206 8v153M207 8v153M208 8v153"/><path stroke-width="0.237" d="M10 8h198M10 9h198M10 10h198M10 11h198M10 12h198M10 13h198M10 14h198M10 15h198M10 16h198M10 17h198M10 18h198M10 19h198M10 20h198M10 21h198M10 22h198M10 23h198M10 24h198M10 25h198M10 26h198M10 27h198M10 28h198M10 29h198M10 30h198M10 31h198M10 32h198M10 33h198M10 34h198M10 35h198M10 36h198M10 37h198M10 38h198M10 39h198M10 40h198M10 41h198M10 42h198M10 43h198M10 44h198M10 45h198M10 46h198M10 47h198M10 48h198M10 49h198M10 50h198M10 51h198M10 52h198M10 53h198M10 54h198M10 55h198M10 56h198M10 57h198M10 58h198M10 59h198M10 60h198M10 61h198M10 62h198M10 63h198M10 64h198M10 65h198M10 66h198M10 67h198M10 68h198M10 69h198M10 70h198M10 71h198M10 72h198M10 73h198M10 74h198M10 75h198M10 76h198M10 77h198M10 78h198M10 79h198M10 80h198M10 81h198M10 82h198M10 83h198M10 84h198M10 85h198M10 86h198M10 87h198M10 88h198M10 89h198M10 90h198M10 91h198M10 92h198M10 93h198M10 94h198M10 95h198M10 96h198M10 97h198M10 98h198M10 99h198M10 100h198M10 101h198M10 102h198M10 103h198M10 104h198M10 105h198M10 106h198M10 107h198M10 108h198M10 109h198M10 110h198M10 111h198M10 112h198M10 113h198M10 114h198M10 115h198M10 116h198M10 117h198M10 118h198M10 119h198M10 120h198M10 121h198M10 122h198M10 123h198M10 124h198M10 125h198M10 126h198M10 127h198M10 128h198M10 129h198M10 130h198M10 131h198M10 132h198M10 133h198M10 134h198M10 135h198M10 136h198M10 137h198M10 138h198M10 139h198M10 140h198M10 141h198M10 142h198M10 143h198M10 144h198M10 145h198M10 146h198M10 147h198M10 148h198M10 149h198M10 150h198M10 151h198M10 152h198M10 153h198M10 154h198M10 155h198M10 156h198M10 157h198M10 158h198M10 159h198M10 160h198M10 161h198"/></g></g>
<text class="st" x="534.5" y="317">est</text>
<text class="st" x="1364.5" y="317">lb</text>
<text class="st" x="534.5" y="1119">med</text>
<text class="st" x="1364.5" y="1119">ub</text>
<text class="ax" x="110.4" y="380.2" text-anchor="end">22°S</text>
<text class="ax" x="110.4" y="481.5" text-anchor="end">24°S</text>
<text class="ax" x="110.4" y="582.8" text-anchor="end">26°S</text>
<text class="ax" x="110.4" y="684.1" text-anchor="end">28°S</text>
<text class="ax" x="110.4" y="785.4" text-anchor="end">30°S</text>
<text class="ax" x="110.4" y="886.7" text-anchor="end">32°S</text>
<text class="ax" x="110.4" y="988.0" text-anchor="end">34°S</text>
<path d="M119.54 367.0h11.46M119.54 468.3h11.46M119.54 569.6h11.46M119.54 670.9h11.46M119.54 772.2h11.46M119.54 873.5h11.46M119.54 974.8h11.46" stroke="#333" stroke-width="4.45" fill="none"/>
<text class="ax" x="110.4" y="1182.2" text-anchor="end">22°S</text>
<text class="ax" x="110.4" y="1283.5" text-anchor="end">24°S</text>
<text class="ax" x="110.4" y="1384.8" text-anchor="end">26°S</text>
<text class="ax" x="110.4" y="1486.1" text-anchor="end">28°S</text>
<text class="ax" x="110.4" y="1587.4" text-anchor="end">30°S</text>
<text class="ax" x="110.4" y="1688.7" text-anchor="end">32°S</text>
<text class="ax" x="110.4" y="1790.0" text-anchor="end">34°S</text>
<path d="M119.54 1169.0h11.46M119.54 1270.3h11.46M119.54 1371.6h11.46M119.54 1472.9h11.46M119.54 1574.2h11.46M119.54 1675.5h11.46M119.54 1776.8h11.46" stroke="#333" stroke-width="4.45" fill="none"/>
<text class="ax" x="327.0" y="1896.5" text-anchor="middle">20°E</text>
<text class="ax" x="549.4" y="1896.5" text-anchor="middle">25°E</text>
<text class="ax" x="771.8" y="1896.5" text-anchor="middle">30°E</text>
<path d="M327.0 1851v11.46M549.4 1851v11.46M771.8 1851v11.46" stroke="#333" stroke-width="4.45" fill="none"/>
<text class="ax" x="1157.0" y="1896.5" text-anchor="middle">20°E</text>
<text class="ax" x="1379.4" y="1896.5" text-anchor="middle">25°E</text>
<text class="ax" x="1601.8" y="1896.5" text-anchor="middle">30°E</text>
<path d="M1157.0 1851v11.46M1379.4 1851v11.46M1601.8 1851v11.46" stroke="#333" stroke-width="4.45" fill="none"/>
<text x="131" y="236" font-size="55px" fill="#000">Hadeda Ibis 2014</text>
<defs><linearGradient id="vg" x1="0" y1="1" x2="0" y2="0">
<stop offset="0.0000" stop-color="#440154"/>
<stop offset="0.1000" stop-color="#482475"/>
<stop offset="0.2000" stop-color="#414487"/>
<stop offset="0.3000" stop-color="#355F8D"/>
<stop offset="0.4000" stop-color="#2A788E"/>
<stop offset="0.5000" stop-color="#21918C"/>
<stop offset="0.6000" stop-color="#22A884"/>
<stop offset="0.7000" stop-color="#44BF70"/>
<stop offset="0.8000" stop-color="#7AD151"/>
<stop offset="0.9000" stop-color="#BDDF26"/>
<stop offset="1.0000" stop-color="#FDE725"/>
</linearGradient></defs>
<text x="1837" y="919.5" font-size="45.83px" fill="#000">real_occu</text>
<rect x="1837" y="947" width="72" height="360" fill="url(#vg)"/>
<text class="lg" x="1932" y="1323.0">0.00</text>
<text class="lg" x="1932" y="1233.0">0.25</text>
<text class="lg" x="1932" y="1143.0">0.50</text>
<text class="lg" x="1932" y="1053.0">0.75</text>
<text class="lg" x="1932" y="963.0">1.00</text>
<path d="M1837 1307h14.4M1909 1307h-14.4M1837 1217h14.4M1909 1217h-14.4M1837 1127h14.4M1909 1127h-14.4M1837 1037h14.4M1909 1037h-14.4M1837 947h14.4M1909 947h-14.4" stroke="#fff" stroke-width="2.2" fill="none"/>
</svg></body></html>
